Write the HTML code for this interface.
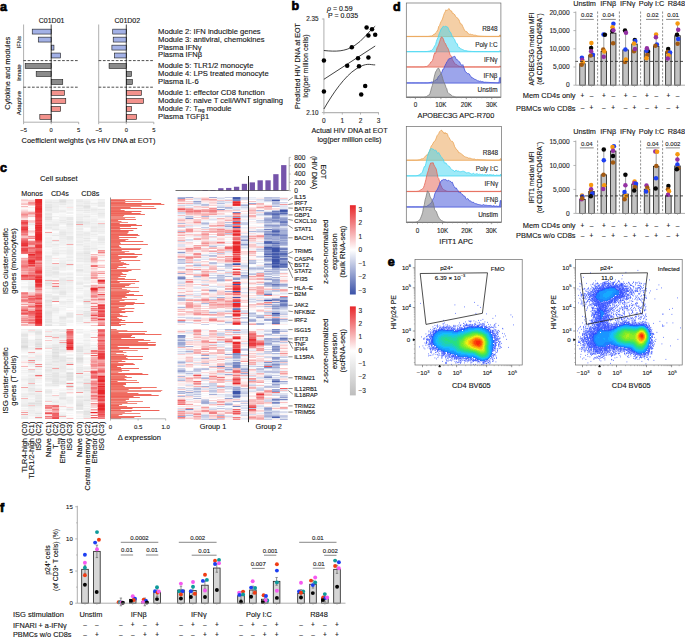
<!DOCTYPE html><html><head><meta charset="utf-8"><style>html,body{margin:0;padding:0;background:#fff;width:685px;height:639px;overflow:hidden}svg{display:block}text{font-family:"Liberation Sans",sans-serif;stroke:currentColor;stroke-width:0.12px}</style></head><body><svg width="685" height="639" viewBox="0 0 685 639" font-family='"Liberation Sans", sans-serif' fill="#1a1a1a"><defs><linearGradient id="cb1" x1="0" y1="0" x2="0" y2="1"><stop offset="0" stop-color="#e8262a"/><stop offset="0.5" stop-color="#ffffff"/><stop offset="1" stop-color="#3b52a8"/></linearGradient><linearGradient id="cb2" x1="0" y1="0" x2="0" y2="1"><stop offset="0" stop-color="#e8262a"/><stop offset="0.5" stop-color="#ffffff"/><stop offset="1" stop-color="#bdbdbd"/></linearGradient></defs><rect width="685" height="639" fill="#fff"/><text x="0" y="11" font-size="12.5" font-weight="bold" fill="#000" style="stroke:#000;stroke-width:0.7px">a</text>
<text x="51.6" y="22.5" font-size="7.0" text-anchor="middle">C01D01</text>
<text x="127.3" y="22.5" font-size="7.0" text-anchor="middle">C01D02</text>
<line x1="23.6" y1="24.5" x2="23.6" y2="122.2" stroke="#9a9a9a" stroke-width="0.8"/>
<line x1="23.6" y1="122.2" x2="78.7" y2="122.2" stroke="#9a9a9a" stroke-width="0.8"/>
<line x1="23.6" y1="122.2" x2="23.6" y2="124.2" stroke="#9a9a9a" stroke-width="0.8"/>
<line x1="51.2" y1="122.2" x2="51.2" y2="124.2" stroke="#9a9a9a" stroke-width="0.8"/>
<line x1="78.7" y1="122.2" x2="78.7" y2="124.2" stroke="#9a9a9a" stroke-width="0.8"/>
<text x="23.6" y="132.3" font-size="5.8" text-anchor="middle" fill="#333">−5</text>
<text x="51.2" y="132.3" font-size="5.8" text-anchor="middle" fill="#333">0</text>
<text x="78.7" y="132.3" font-size="5.8" text-anchor="middle" fill="#333">5</text>
<rect x="32.23" y="29.15" width="18.98" height="4.9" fill="#a3b1e6" stroke="#1a1a1a" stroke-width="0.6"/>
<rect x="38.28" y="37.15" width="12.93" height="4.9" fill="#a3b1e6" stroke="#1a1a1a" stroke-width="0.6"/>
<rect x="51.2" y="45.15" width="2.75" height="4.9" fill="#a3b1e6" stroke="#1a1a1a" stroke-width="0.6"/>
<rect x="51.2" y="53.05" width="9.35" height="4.9" fill="#a3b1e6" stroke="#1a1a1a" stroke-width="0.6"/>
<rect x="25.19" y="63.55" width="26.02" height="4.9" fill="#8c8c8c" stroke="#1a1a1a" stroke-width="0.6"/>
<rect x="36.19" y="71.55" width="15.02" height="4.9" fill="#8c8c8c" stroke="#1a1a1a" stroke-width="0.6"/>
<rect x="51.2" y="79.55" width="11.55" height="4.9" fill="#8c8c8c" stroke="#1a1a1a" stroke-width="0.6"/>
<rect x="51.2" y="90.45" width="13.2" height="4.9" fill="#f3928c" stroke="#1a1a1a" stroke-width="0.6"/>
<rect x="51.2" y="98.55" width="14.57" height="4.9" fill="#f3928c" stroke="#1a1a1a" stroke-width="0.6"/>
<rect x="51.2" y="106.45" width="9.35" height="4.9" fill="#f3928c" stroke="#1a1a1a" stroke-width="0.6"/>
<rect x="39.82" y="114.45" width="11.38" height="4.9" fill="#f3928c" stroke="#1a1a1a" stroke-width="0.6"/>
<line x1="51.2" y1="24.5" x2="51.2" y2="122.2" stroke="#111" stroke-width="0.8"/>
<line x1="98.7" y1="24.5" x2="98.7" y2="122.2" stroke="#9a9a9a" stroke-width="0.8"/>
<line x1="98.7" y1="122.2" x2="153.8" y2="122.2" stroke="#9a9a9a" stroke-width="0.8"/>
<line x1="98.7" y1="122.2" x2="98.7" y2="124.2" stroke="#9a9a9a" stroke-width="0.8"/>
<line x1="126.3" y1="122.2" x2="126.3" y2="124.2" stroke="#9a9a9a" stroke-width="0.8"/>
<line x1="153.8" y1="122.2" x2="153.8" y2="124.2" stroke="#9a9a9a" stroke-width="0.8"/>
<text x="98.7" y="132.3" font-size="5.8" text-anchor="middle" fill="#333">−5</text>
<text x="126.3" y="132.3" font-size="5.8" text-anchor="middle" fill="#333">0</text>
<text x="153.8" y="132.3" font-size="5.8" text-anchor="middle" fill="#333">5</text>
<rect x="112.72" y="29.15" width="13.59" height="4.9" fill="#a3b1e6" stroke="#1a1a1a" stroke-width="0.6"/>
<rect x="113.21" y="37.15" width="13.09" height="4.9" fill="#a3b1e6" stroke="#1a1a1a" stroke-width="0.6"/>
<rect x="111.89" y="45.15" width="14.41" height="4.9" fill="#a3b1e6" stroke="#1a1a1a" stroke-width="0.6"/>
<rect x="114.42" y="53.05" width="11.88" height="4.9" fill="#a3b1e6" stroke="#1a1a1a" stroke-width="0.6"/>
<rect x="109.08" y="63.55" width="17.21" height="4.9" fill="#8c8c8c" stroke="#1a1a1a" stroke-width="0.6"/>
<rect x="126.3" y="71.55" width="5.17" height="4.9" fill="#8c8c8c" stroke="#1a1a1a" stroke-width="0.6"/>
<rect x="126.3" y="79.55" width="6" height="4.9" fill="#8c8c8c" stroke="#1a1a1a" stroke-width="0.6"/>
<rect x="126.3" y="90.45" width="15.12" height="4.9" fill="#f3928c" stroke="#1a1a1a" stroke-width="0.6"/>
<rect x="126.3" y="98.55" width="17.11" height="4.9" fill="#f3928c" stroke="#1a1a1a" stroke-width="0.6"/>
<rect x="126.3" y="106.45" width="5.17" height="4.9" fill="#f3928c" stroke="#1a1a1a" stroke-width="0.6"/>
<rect x="126.3" y="114.45" width="10.39" height="4.9" fill="#f3928c" stroke="#1a1a1a" stroke-width="0.6"/>
<line x1="126.3" y1="24.5" x2="126.3" y2="122.2" stroke="#111" stroke-width="0.8"/>
<line x1="23.4" y1="60.6" x2="79.2" y2="60.6" stroke="#222" stroke-width="0.8" stroke-dasharray="2.7 1.6"/>
<line x1="98.6" y1="60.6" x2="154" y2="60.6" stroke="#222" stroke-width="0.8" stroke-dasharray="2.7 1.6"/>
<line x1="23.4" y1="87.2" x2="79.2" y2="87.2" stroke="#222" stroke-width="0.8" stroke-dasharray="2.7 1.6"/>
<line x1="98.6" y1="87.2" x2="154" y2="87.2" stroke="#222" stroke-width="0.8" stroke-dasharray="2.7 1.6"/>
<text transform="translate(9.5 73.3) rotate(-90)" font-size="7.4" text-anchor="middle">Cytokine and modules</text>
<text transform="translate(20.9 42.2) rotate(-90)" font-size="5.8" text-anchor="middle">IFNs</text>
<text transform="translate(20.9 72.7) rotate(-90)" font-size="6.0" text-anchor="middle">Innate</text>
<text transform="translate(20.9 103.2) rotate(-90)" font-size="6.2" text-anchor="middle">Adaptive</text>
<text x="158.1" y="33.5" font-size="7.6">Module 2: IFN inducible genes</text>
<text x="158.1" y="41.5" font-size="7.6">Module 3: antiviral, chemokines</text>
<text x="158.1" y="49.5" font-size="7.6">Plasma IFNγ</text>
<text x="158.1" y="57.4" font-size="7.6">Plasma IFNβ</text>
<text x="158.1" y="67.9" font-size="7.6">Module 5: TLR1/2 monocyte</text>
<text x="158.1" y="75.9" font-size="7.6">Module 4: LPS treated monocyte</text>
<text x="158.1" y="83.9" font-size="7.6">Plasma IL-6</text>
<text x="158.1" y="94.8" font-size="7.6">Module 1: effector CD8 function</text>
<text x="158.1" y="102.9" font-size="7.6">Module 6: naive T cell/WNT signaling</text>
<text x="158.1" y="110.8" font-size="7.6">Module 7: T<tspan font-size="4.5" dy="1.5">reg</tspan><tspan dy="-1.5"> module</tspan></text>
<text x="158.1" y="118.8" font-size="7.6">Plasma TGFβ1</text>
<text x="88.5" y="142.8" font-size="7.43" text-anchor="middle">Coefficient weights (vs HIV DNA at EOT)</text>
<text x="291.6" y="9.7" font-size="12.5" font-weight="bold" fill="#000" style="stroke:#000;stroke-width:0.7px">b</text>
<text x="327" y="11.2" font-size="7.0"><tspan font-style="italic">ρ</tspan> = 0.59</text>
<text x="328" y="18.3" font-size="7.0">P = 0.035</text>
<line x1="323.9" y1="18.5" x2="323.9" y2="112.6" stroke="#b5b5b5" stroke-width="1.1"/>
<line x1="323.9" y1="112.6" x2="378.8" y2="112.6" stroke="#b5b5b5" stroke-width="1.1"/>
<line x1="321.9" y1="19" x2="323.9" y2="19" stroke="#999" stroke-width="0.7"/>
<line x1="321.9" y1="112.6" x2="323.9" y2="112.6" stroke="#999" stroke-width="0.7"/>
<line x1="323.9" y1="112.6" x2="323.9" y2="114.6" stroke="#999" stroke-width="0.7"/>
<text x="323.9" y="123.4" font-size="6.5" text-anchor="middle" fill="#333">0</text>
<line x1="342.3" y1="112.6" x2="342.3" y2="114.6" stroke="#999" stroke-width="0.7"/>
<text x="342.3" y="123.4" font-size="6.5" text-anchor="middle" fill="#333">1</text>
<line x1="360.5" y1="112.6" x2="360.5" y2="114.6" stroke="#999" stroke-width="0.7"/>
<text x="360.5" y="123.4" font-size="6.5" text-anchor="middle" fill="#333">2</text>
<line x1="378.5" y1="112.6" x2="378.5" y2="114.6" stroke="#999" stroke-width="0.7"/>
<text x="378.5" y="123.4" font-size="6.5" text-anchor="middle" fill="#333">3</text>
<text x="318.6" y="21.4" font-size="6.3" text-anchor="end" fill="#333">2.35</text>
<text x="318.6" y="115" font-size="6.3" text-anchor="end" fill="#333">2.10</text>
<text transform="translate(299.6 66) rotate(-90)" font-size="7.2" text-anchor="middle">Predicted HIV DNA at EOT</text>
<text transform="translate(307.9 66) rotate(-90)" font-size="7.2" text-anchor="middle">log(per million cells)</text>
<text x="349.5" y="132.6" font-size="7.26" text-anchor="middle">Actual HIV DNA at EOT</text>
<text x="349.5" y="141.8" font-size="7.26" text-anchor="middle">log(per million cells)</text>
<path d="M323.9 79.3 L375.2 46" stroke="#111" stroke-width="0.8" fill="none"/>
<path d="M323.9 50.5 C 336 51.8, 345 51.5, 354 46 S 368 32, 375.2 26.2" stroke="#111" stroke-width="0.8" fill="none"/>
<path d="M323.9 109 C 333 93, 345 76, 356 69 S 370 65, 375.2 64.9" stroke="#111" stroke-width="0.8" fill="none"/>
<circle cx="323.9" cy="60.4" r="2.25" fill="#000"/>
<circle cx="323.9" cy="91.4" r="2.25" fill="#000"/>
<circle cx="347.2" cy="65.8" r="2.25" fill="#000"/>
<circle cx="351.8" cy="47.3" r="2.25" fill="#000"/>
<circle cx="358" cy="58.2" r="2.25" fill="#000"/>
<circle cx="359" cy="66.3" r="2.25" fill="#000"/>
<circle cx="361.2" cy="94.6" r="2.25" fill="#000"/>
<circle cx="365.2" cy="86.1" r="2.25" fill="#000"/>
<circle cx="366.6" cy="27.5" r="2.25" fill="#000"/>
<circle cx="368.4" cy="57.5" r="2.25" fill="#000"/>
<circle cx="368.4" cy="35.6" r="2.25" fill="#000"/>
<circle cx="372" cy="29.3" r="2.25" fill="#000"/>
<circle cx="375.2" cy="34.7" r="2.25" fill="#000"/>
<text x="0" y="171.5" font-size="12.5" font-weight="bold" fill="#000" style="stroke:#000;stroke-width:0.7px">c</text>
<text x="58.9" y="180.7" font-size="7.6" text-anchor="middle">Cell subset</text>
<text x="32" y="195.6" font-size="7.2" text-anchor="middle">Monos</text>
<text x="59.9" y="195.6" font-size="7.2" text-anchor="middle">CD4s</text>
<text x="90.3" y="195.6" font-size="7.2" text-anchor="middle">CD8s</text>
<path stroke="#fbdbdc" stroke-width="1" d="M21.1 199.5h7.03M21.1 210.5h7.03M21.1 218.5h7.03M21.1 303.5h7.03M21.1 362.5h7.03M28.1 211.5h7.03M28.1 230.5h7.03M28.1 232.5h7.03M28.1 330.5h7.03M45 331.5h7.13M45 409.5h7.13M52.1 285.5h7.13M66.3 389.5h7.13M66.3 407.5h7.13M90.5 269.5h7.23M90.5 282.5h7.23M90.5 321.5h7.23M90.5 369.5h7.23M90.5 379.5h7.23M90.5 400.5h7.23M97.7 266.5h7.23M97.7 284.5h7.23M97.7 293.5h7.23M97.7 303.5h7.23"/>
<path stroke="#f9c9ca" stroke-width="1" d="M21.1 200.5h7.03M21.1 203.5h7.03M21.1 211.5h7.03M28.1 200.5h7.03M28.1 201.5h7.03M28.1 221.5h7.03M28.1 231.5h7.03M28.1 293.5h7.03M28.1 308.5h7.03M28.1 324.5h7.03M28.1 405.5h7.03M35.1 376.5h7.03M45 340.5h7.13M45 401.5h7.13M45 414.5h7.13M52.1 395.5h7.13M59.2 340.5h7.13M66.3 280.5h7.13M76.1 314.5h7.23M83.3 418.5h7.23M90.5 262.5h7.23M90.5 268.5h7.23M90.5 271.5h7.23M90.5 322.5h7.23M90.5 401.5h7.23M90.5 405.5h7.23M90.5 410.5h7.23M90.5 413.5h7.23M97.7 253.5h7.23M97.7 255.5h7.23M97.7 260.5h7.23M97.7 265.5h7.23M97.7 285.5h7.23M97.7 297.5h7.23M97.7 302.5h7.23"/>
<path stroke="#fce4e4" stroke-width="1" d="M21.1 201.5h7.03M21.1 202.5h7.03M21.1 219.5h7.03M21.1 323.5h7.03M21.1 410.5h7.03M28.1 235.5h7.03M28.1 357.5h7.03M35.1 378.5h7.03M45 411.5h7.13M45 415.5h7.13M52.1 258.5h7.13M52.1 284.5h7.13M52.1 338.5h7.13M66.3 207.5h7.13M66.3 351.5h7.13M90.5 255.5h7.23M90.5 263.5h7.23M90.5 264.5h7.23M90.5 267.5h7.23M90.5 270.5h7.23M90.5 280.5h7.23M90.5 281.5h7.23M90.5 301.5h7.23M97.7 254.5h7.23M97.7 275.5h7.23M97.7 291.5h7.23"/>
<path stroke="#f8c0c1" stroke-width="1" d="M21.1 204.5h7.03M21.1 217.5h7.03M21.1 236.5h7.03M21.1 237.5h7.03M21.1 302.5h7.03M28.1 216.5h7.03M28.1 294.5h7.03M28.1 303.5h7.03M28.1 325.5h7.03M28.1 369.5h7.03M35.1 349.5h7.03M45 410.5h7.13M66.3 418.5h7.13M83.3 371.5h7.23M90.5 276.5h7.23M90.5 316.5h7.23M90.5 325.5h7.23M90.5 394.5h7.23M90.5 404.5h7.23M97.7 223.5h7.23M97.7 277.5h7.23M97.7 289.5h7.23M97.7 290.5h7.23M97.7 317.5h7.23"/>
<path stroke="#fef6f6" stroke-width="1" d="M21.1 205.5h7.03M21.1 254.5h7.03M21.1 364.5h7.03M21.1 365.5h7.03M28.1 210.5h7.03M28.1 228.5h7.03M28.1 234.5h7.03M28.1 239.5h7.03M28.1 335.5h7.03M45 231.5h7.13M52.1 389.5h7.13M59.2 332.5h7.13M66.3 310.5h7.13M66.3 352.5h7.13M66.3 417.5h7.13M76.1 414.5h7.23M83.3 364.5h7.23M90.5 329.5h7.23M90.5 339.5h7.23M90.5 340.5h7.23M90.5 354.5h7.23M97.7 270.5h7.23M97.7 274.5h7.23"/>
<path stroke="#f7b7b8" stroke-width="1" d="M21.1 206.5h7.03M21.1 212.5h7.03M21.1 259.5h7.03M21.1 271.5h7.03M21.1 298.5h7.03M21.1 325.5h7.03M21.1 366.5h7.03M21.1 398.5h7.03M28.1 214.5h7.03M28.1 245.5h7.03M28.1 246.5h7.03M28.1 362.5h7.03M28.1 383.5h7.03M35.1 292.5h7.03M52.1 240.5h7.13M83.3 322.5h7.23M83.3 383.5h7.23M90.5 254.5h7.23M90.5 256.5h7.23M90.5 272.5h7.23M90.5 286.5h7.23M90.5 300.5h7.23M90.5 312.5h7.23M90.5 367.5h7.23M90.5 380.5h7.23M90.5 393.5h7.23M90.5 418.5h7.23M97.7 267.5h7.23M97.7 271.5h7.23M97.7 286.5h7.23M97.7 292.5h7.23M97.7 300.5h7.23M97.7 321.5h7.23M97.7 367.5h7.23"/>
<path stroke="#fdeded" stroke-width="1" d="M21.1 207.5h7.03M21.1 209.5h7.03M21.1 257.5h7.03M21.1 305.5h7.03M21.1 361.5h7.03M28.1 199.5h7.03M28.1 207.5h7.03M28.1 233.5h7.03M35.1 354.5h7.03M66.3 361.5h7.13M66.3 393.5h7.13M90.5 279.5h7.23M90.5 284.5h7.23M90.5 304.5h7.23M90.5 305.5h7.23M90.5 332.5h7.23M90.5 411.5h7.23M90.5 414.5h7.23M97.7 257.5h7.23M97.7 261.5h7.23M97.7 264.5h7.23M97.7 278.5h7.23"/>
<path stroke="#fafafa" stroke-width="1" d="M21.1 208.5h7.03M21.1 284.5h7.03M21.1 289.5h7.03M21.1 290.5h7.03M21.1 353.5h7.03M21.1 367.5h7.03M21.1 369.5h7.03M21.1 375.5h7.03M21.1 407.5h7.03M28.1 226.5h7.03M28.1 417.5h7.03M35.1 351.5h7.03M45 248.5h7.13M45 250.5h7.13M45 349.5h7.13M45 387.5h7.13M45 402.5h7.13M52.1 213.5h7.13M52.1 214.5h7.13M52.1 217.5h7.13M52.1 256.5h7.13M52.1 257.5h7.13M52.1 294.5h7.13M52.1 324.5h7.13M52.1 387.5h7.13M52.1 392.5h7.13M59.2 213.5h7.13M59.2 246.5h7.13M59.2 255.5h7.13M59.2 256.5h7.13M59.2 299.5h7.13M59.2 311.5h7.13M59.2 312.5h7.13M59.2 313.5h7.13M59.2 354.5h7.13M59.2 388.5h7.13M59.2 391.5h7.13M59.2 408.5h7.13M59.2 410.5h7.13M66.3 211.5h7.13M66.3 270.5h7.13M66.3 324.5h7.13M66.3 325.5h7.13M66.3 370.5h7.13M66.3 371.5h7.13M66.3 405.5h7.13M66.3 411.5h7.13M76.1 302.5h7.23M76.1 324.5h7.23M76.1 325.5h7.23M76.1 335.5h7.23M76.1 336.5h7.23M76.1 337.5h7.23M76.1 339.5h7.23M76.1 341.5h7.23M76.1 417.5h7.23M83.3 229.5h7.23M83.3 230.5h7.23M83.3 324.5h7.23M83.3 329.5h7.23M83.3 330.5h7.23M83.3 360.5h7.23M83.3 363.5h7.23M83.3 372.5h7.23M90.5 201.5h7.23M90.5 206.5h7.23M90.5 215.5h7.23M90.5 335.5h7.23M90.5 336.5h7.23M90.5 343.5h7.23M90.5 344.5h7.23M90.5 346.5h7.23M97.7 207.5h7.23M97.7 234.5h7.23M97.7 262.5h7.23"/>
<path stroke="#f5a5a6" stroke-width="1" d="M21.1 213.5h7.03M21.1 258.5h7.03M21.1 272.5h7.03M21.1 306.5h7.03M21.1 387.5h7.03M21.1 414.5h7.03M28.1 204.5h7.03M28.1 212.5h7.03M28.1 310.5h7.03M28.1 318.5h7.03M35.1 290.5h7.03M45 232.5h7.13M52.1 263.5h7.13M52.1 368.5h7.13M52.1 407.5h7.13M52.1 408.5h7.13M76.1 224.5h7.23M90.5 260.5h7.23M90.5 273.5h7.23M90.5 285.5h7.23M90.5 293.5h7.23M90.5 309.5h7.23M90.5 313.5h7.23M90.5 317.5h7.23M90.5 359.5h7.23M90.5 360.5h7.23M90.5 368.5h7.23M97.7 298.5h7.23M97.7 360.5h7.23"/>
<path stroke="#f3898c" stroke-width="1" d="M21.1 214.5h7.03M21.1 233.5h7.03M21.1 238.5h7.03M21.1 261.5h7.03M21.1 262.5h7.03M21.1 264.5h7.03M21.1 296.5h7.03M21.1 299.5h7.03M21.1 301.5h7.03M21.1 311.5h7.03M21.1 322.5h7.03M28.1 236.5h7.03M28.1 238.5h7.03M28.1 268.5h7.03M28.1 269.5h7.03M28.1 297.5h7.03M28.1 301.5h7.03M28.1 317.5h7.03M28.1 323.5h7.03M28.1 360.5h7.03M35.1 264.5h7.03M35.1 300.5h7.03M35.1 348.5h7.03M35.1 364.5h7.03M45 408.5h7.13M45 418.5h7.13M52.1 283.5h7.13M52.1 301.5h7.13M66.3 336.5h7.13M90.5 287.5h7.23M90.5 295.5h7.23M90.5 303.5h7.23M90.5 364.5h7.23M90.5 365.5h7.23M90.5 378.5h7.23M90.5 381.5h7.23M90.5 384.5h7.23M90.5 391.5h7.23M90.5 398.5h7.23M90.5 403.5h7.23M97.7 332.5h7.23M97.7 338.5h7.23M97.7 339.5h7.23M97.7 342.5h7.23M97.7 350.5h7.23M97.7 375.5h7.23M97.7 417.5h7.23"/>
<path stroke="#f49c9d" stroke-width="1" d="M21.1 215.5h7.03M21.1 235.5h7.03M21.1 260.5h7.03M21.1 269.5h7.03M21.1 295.5h7.03M21.1 304.5h7.03M21.1 307.5h7.03M21.1 319.5h7.03M21.1 412.5h7.03M28.1 267.5h7.03M28.1 271.5h7.03M28.1 295.5h7.03M28.1 305.5h7.03M28.1 321.5h7.03M35.1 261.5h7.03M52.1 410.5h7.13M52.1 412.5h7.13M59.2 342.5h7.13M66.3 264.5h7.13M76.1 392.5h7.23M83.3 301.5h7.23M90.5 275.5h7.23M90.5 278.5h7.23M90.5 297.5h7.23M90.5 337.5h7.23M90.5 362.5h7.23M90.5 385.5h7.23M90.5 390.5h7.23M90.5 409.5h7.23M97.7 322.5h7.23M97.7 361.5h7.23M97.7 362.5h7.23M97.7 366.5h7.23"/>
<path stroke="#f6aeaf" stroke-width="1" d="M21.1 216.5h7.03M21.1 273.5h7.03M21.1 316.5h7.03M21.1 317.5h7.03M21.1 321.5h7.03M21.1 324.5h7.03M28.1 237.5h7.03M28.1 304.5h7.03M28.1 309.5h7.03M28.1 352.5h7.03M35.1 291.5h7.03M35.1 391.5h7.03M45 280.5h7.13M45 336.5h7.13M45 417.5h7.13M52.1 280.5h7.13M52.1 337.5h7.13M52.1 411.5h7.13M59.2 416.5h7.13M66.3 244.5h7.13M90.5 257.5h7.23M90.5 261.5h7.23M90.5 274.5h7.23M90.5 294.5h7.23M90.5 319.5h7.23M90.5 352.5h7.23M90.5 357.5h7.23M90.5 358.5h7.23M90.5 363.5h7.23M90.5 370.5h7.23M90.5 386.5h7.23M90.5 397.5h7.23M90.5 399.5h7.23M97.7 251.5h7.23M97.7 279.5h7.23M97.7 288.5h7.23M97.7 295.5h7.23M97.7 296.5h7.23M97.7 373.5h7.23M97.7 374.5h7.23"/>
<path stroke="#f06e71" stroke-width="1" d="M21.1 220.5h7.03M21.1 232.5h7.03M21.1 253.5h7.03M21.1 266.5h7.03M21.1 277.5h7.03M28.1 243.5h7.03M28.1 247.5h7.03M28.1 264.5h7.03M28.1 266.5h7.03M28.1 278.5h7.03M28.1 302.5h7.03M28.1 314.5h7.03M28.1 320.5h7.03M35.1 243.5h7.03M35.1 260.5h7.03M35.1 287.5h7.03M35.1 302.5h7.03M35.1 375.5h7.03M52.1 416.5h7.13M66.3 334.5h7.13M90.5 266.5h7.23M90.5 351.5h7.23M90.5 373.5h7.23M90.5 415.5h7.23M97.7 299.5h7.23M97.7 304.5h7.23M97.7 341.5h7.23M97.7 346.5h7.23M97.7 349.5h7.23M97.7 352.5h7.23M97.7 365.5h7.23"/>
<path stroke="#ef6568" stroke-width="1" d="M21.1 221.5h7.03M21.1 224.5h7.03M21.1 226.5h7.03M21.1 231.5h7.03M21.1 240.5h7.03M21.1 246.5h7.03M21.1 279.5h7.03M28.1 248.5h7.03M28.1 258.5h7.03M28.1 276.5h7.03M28.1 299.5h7.03M28.1 306.5h7.03M28.1 322.5h7.03M35.1 248.5h7.03M35.1 249.5h7.03M35.1 263.5h7.03M35.1 267.5h7.03M35.1 268.5h7.03M35.1 296.5h7.03M35.1 297.5h7.03M35.1 299.5h7.03M35.1 308.5h7.03M52.1 406.5h7.13M52.1 414.5h7.13M52.1 415.5h7.13M66.3 333.5h7.13M90.5 376.5h7.23M90.5 377.5h7.23M97.7 312.5h7.23M97.7 313.5h7.23M97.7 325.5h7.23M97.7 331.5h7.23M97.7 334.5h7.23M97.7 347.5h7.23M97.7 370.5h7.23M97.7 382.5h7.23M97.7 395.5h7.23M97.7 413.5h7.23M97.7 415.5h7.23M97.7 416.5h7.23"/>
<path stroke="#eb4145" stroke-width="1" d="M21.1 222.5h7.03M21.1 227.5h7.03M21.1 228.5h7.03M21.1 250.5h7.03M21.1 275.5h7.03M28.1 255.5h7.03M28.1 265.5h7.03M35.1 217.5h7.03M35.1 231.5h7.03M35.1 251.5h7.03M35.1 253.5h7.03M35.1 257.5h7.03M35.1 276.5h7.03M35.1 286.5h7.03M35.1 298.5h7.03M35.1 306.5h7.03M35.1 311.5h7.03M35.1 312.5h7.03M35.1 318.5h7.03M66.3 342.5h7.13M66.3 349.5h7.13M97.7 281.5h7.23M97.7 308.5h7.23M97.7 311.5h7.23M97.7 316.5h7.23M97.7 353.5h7.23M97.7 355.5h7.23M97.7 358.5h7.23M97.7 377.5h7.23M97.7 378.5h7.23M97.7 388.5h7.23M97.7 389.5h7.23M97.7 400.5h7.23M97.7 410.5h7.23"/>
<path stroke="#ec4a4e" stroke-width="1" d="M21.1 223.5h7.03M21.1 242.5h7.03M21.1 248.5h7.03M21.1 249.5h7.03M35.1 213.5h7.03M35.1 218.5h7.03M35.1 219.5h7.03M35.1 221.5h7.03M35.1 222.5h7.03M35.1 224.5h7.03M35.1 241.5h7.03M35.1 254.5h7.03M35.1 258.5h7.03M35.1 259.5h7.03M35.1 270.5h7.03M35.1 278.5h7.03M35.1 303.5h7.03M35.1 324.5h7.03M52.1 418.5h7.13M66.3 341.5h7.13M66.3 345.5h7.13M66.3 346.5h7.13M90.5 315.5h7.23M90.5 372.5h7.23M97.7 294.5h7.23M97.7 307.5h7.23M97.7 387.5h7.23M97.7 397.5h7.23M97.7 399.5h7.23M97.7 403.5h7.23M97.7 414.5h7.23"/>
<path stroke="#f28083" stroke-width="1" d="M21.1 225.5h7.03M21.1 247.5h7.03M21.1 267.5h7.03M21.1 297.5h7.03M21.1 320.5h7.03M28.1 241.5h7.03M28.1 249.5h7.03M28.1 250.5h7.03M28.1 251.5h7.03M28.1 270.5h7.03M28.1 272.5h7.03M28.1 273.5h7.03M28.1 274.5h7.03M28.1 319.5h7.03M35.1 262.5h7.03M35.1 301.5h7.03M35.1 304.5h7.03M45 405.5h7.13M45 412.5h7.13M52.1 286.5h7.13M66.3 337.5h7.13M66.3 383.5h7.13M90.5 296.5h7.23M90.5 310.5h7.23M90.5 396.5h7.23M97.7 252.5h7.23M97.7 283.5h7.23M97.7 309.5h7.23M97.7 318.5h7.23M97.7 333.5h7.23M97.7 337.5h7.23M97.7 344.5h7.23M97.7 363.5h7.23M97.7 364.5h7.23M97.7 369.5h7.23M97.7 402.5h7.23"/>
<path stroke="#ea383c" stroke-width="1" d="M21.1 229.5h7.03M21.1 243.5h7.03M21.1 244.5h7.03M28.1 262.5h7.03M35.1 205.5h7.03M35.1 212.5h7.03M35.1 214.5h7.03M35.1 215.5h7.03M35.1 216.5h7.03M35.1 220.5h7.03M35.1 223.5h7.03M35.1 226.5h7.03M35.1 240.5h7.03M35.1 245.5h7.03M35.1 246.5h7.03M35.1 247.5h7.03M35.1 252.5h7.03M35.1 271.5h7.03M35.1 272.5h7.03M35.1 285.5h7.03M35.1 305.5h7.03M35.1 314.5h7.03M35.1 315.5h7.03M66.3 348.5h7.13M97.7 305.5h7.23M97.7 319.5h7.23M97.7 354.5h7.23M97.7 356.5h7.23M97.7 357.5h7.23M97.7 379.5h7.23M97.7 384.5h7.23M97.7 404.5h7.23M97.7 407.5h7.23"/>
<path stroke="#ed5356" stroke-width="1" d="M21.1 230.5h7.03M21.1 241.5h7.03M21.1 251.5h7.03M21.1 276.5h7.03M21.1 310.5h7.03M21.1 313.5h7.03M28.1 257.5h7.03M28.1 259.5h7.03M28.1 275.5h7.03M28.1 311.5h7.03M35.1 244.5h7.03M35.1 255.5h7.03M35.1 256.5h7.03M35.1 273.5h7.03M35.1 275.5h7.03M35.1 283.5h7.03M35.1 307.5h7.03M35.1 325.5h7.03M45 413.5h7.13M52.1 417.5h7.13M66.3 340.5h7.13M90.5 290.5h7.23M90.5 371.5h7.23M97.7 306.5h7.23M97.7 314.5h7.23M97.7 315.5h7.23M97.7 335.5h7.23M97.7 340.5h7.23M97.7 351.5h7.23M97.7 383.5h7.23M97.7 394.5h7.23M97.7 411.5h7.23M97.7 412.5h7.23"/>
<path stroke="#f1777a" stroke-width="1" d="M21.1 234.5h7.03M21.1 239.5h7.03M21.1 265.5h7.03M21.1 278.5h7.03M21.1 293.5h7.03M21.1 300.5h7.03M21.1 309.5h7.03M21.1 312.5h7.03M21.1 314.5h7.03M28.1 242.5h7.03M28.1 244.5h7.03M28.1 253.5h7.03M28.1 277.5h7.03M28.1 300.5h7.03M28.1 315.5h7.03M35.1 265.5h7.03M35.1 266.5h7.03M35.1 274.5h7.03M35.1 289.5h7.03M35.1 294.5h7.03M45 407.5h7.13M45 416.5h7.13M52.1 405.5h7.13M52.1 409.5h7.13M66.3 329.5h7.13M66.3 335.5h7.13M66.3 364.5h7.13M90.5 265.5h7.23M90.5 291.5h7.23M90.5 306.5h7.23M90.5 308.5h7.23M90.5 318.5h7.23M90.5 350.5h7.23M90.5 353.5h7.23M90.5 375.5h7.23M90.5 383.5h7.23M90.5 387.5h7.23M90.5 388.5h7.23M90.5 392.5h7.23M90.5 395.5h7.23M97.7 282.5h7.23M97.7 329.5h7.23M97.7 336.5h7.23M97.7 343.5h7.23M97.7 359.5h7.23M97.7 372.5h7.23M97.7 401.5h7.23M97.7 418.5h7.23"/>
<path stroke="#e92f33" stroke-width="1" d="M21.1 245.5h7.03M28.1 260.5h7.03M28.1 263.5h7.03M35.1 199.5h7.03M35.1 203.5h7.03M35.1 204.5h7.03M35.1 206.5h7.03M35.1 207.5h7.03M35.1 210.5h7.03M35.1 211.5h7.03M35.1 228.5h7.03M35.1 229.5h7.03M35.1 230.5h7.03M35.1 232.5h7.03M35.1 233.5h7.03M35.1 277.5h7.03M35.1 282.5h7.03M35.1 284.5h7.03M35.1 310.5h7.03M35.1 313.5h7.03M35.1 317.5h7.03M35.1 323.5h7.03M66.3 343.5h7.13M97.7 396.5h7.23"/>
<path stroke="#ee5c5f" stroke-width="1" d="M21.1 252.5h7.03M28.1 252.5h7.03M28.1 256.5h7.03M28.1 279.5h7.03M28.1 296.5h7.03M28.1 298.5h7.03M28.1 312.5h7.03M28.1 313.5h7.03M35.1 242.5h7.03M35.1 250.5h7.03M35.1 269.5h7.03M35.1 295.5h7.03M35.1 309.5h7.03M52.1 413.5h7.13M66.3 331.5h7.13M66.3 332.5h7.13M66.3 339.5h7.13M66.3 344.5h7.13M90.5 355.5h7.23M90.5 417.5h7.23M97.7 287.5h7.23M97.7 310.5h7.23M97.7 330.5h7.23M97.7 345.5h7.23M97.7 348.5h7.23M97.7 371.5h7.23M97.7 385.5h7.23M97.7 398.5h7.23"/>
<path stroke="#fcfcfc" stroke-width="1" d="M21.1 255.5h7.03M21.1 256.5h7.03M21.1 282.5h7.03M21.1 285.5h7.03M21.1 291.5h7.03M28.1 208.5h7.03M28.1 209.5h7.03M28.1 217.5h7.03M28.1 227.5h7.03M28.1 229.5h7.03M28.1 336.5h7.03M28.1 337.5h7.03M28.1 338.5h7.03M28.1 367.5h7.03M35.1 383.5h7.03M45 230.5h7.13M45 339.5h7.13M45 388.5h7.13M52.1 215.5h7.13M52.1 218.5h7.13M52.1 231.5h7.13M52.1 232.5h7.13M52.1 259.5h7.13M52.1 262.5h7.13M52.1 282.5h7.13M52.1 302.5h7.13M52.1 388.5h7.13M52.1 390.5h7.13M52.1 394.5h7.13M59.2 225.5h7.13M59.2 271.5h7.13M59.2 385.5h7.13M59.2 386.5h7.13M59.2 411.5h7.13M66.3 271.5h7.13M66.3 311.5h7.13M66.3 323.5h7.13M66.3 356.5h7.13M66.3 381.5h7.13M66.3 394.5h7.13M66.3 395.5h7.13M66.3 412.5h7.13M66.3 416.5h7.13M76.1 276.5h7.23M76.1 293.5h7.23M83.3 228.5h7.23M83.3 284.5h7.23M83.3 355.5h7.23M90.5 239.5h7.23M90.5 252.5h7.23M90.5 283.5h7.23M90.5 333.5h7.23M90.5 408.5h7.23M97.7 219.5h7.23M97.7 258.5h7.23M97.7 269.5h7.23M97.7 276.5h7.23"/>
<path stroke="#f49294" stroke-width="1" d="M21.1 263.5h7.03M21.1 268.5h7.03M21.1 270.5h7.03M21.1 274.5h7.03M21.1 292.5h7.03M21.1 294.5h7.03M21.1 308.5h7.03M21.1 318.5h7.03M28.1 202.5h7.03M28.1 203.5h7.03M28.1 213.5h7.03M28.1 307.5h7.03M28.1 316.5h7.03M35.1 288.5h7.03M35.1 293.5h7.03M35.1 366.5h7.03M35.1 417.5h7.03M45 406.5h7.13M66.3 330.5h7.13M66.3 338.5h7.13M66.3 386.5h7.13M76.1 373.5h7.23M90.5 258.5h7.23M90.5 259.5h7.23M90.5 277.5h7.23M90.5 292.5h7.23M90.5 299.5h7.23M90.5 314.5h7.23M90.5 320.5h7.23M90.5 361.5h7.23M90.5 366.5h7.23M90.5 374.5h7.23M90.5 382.5h7.23M90.5 389.5h7.23M97.7 250.5h7.23M97.7 273.5h7.23M97.7 320.5h7.23M97.7 323.5h7.23M97.7 324.5h7.23M97.7 368.5h7.23"/>
<path stroke="#f1f1f1" stroke-width="1" d="M21.1 280.5h7.03M21.1 286.5h7.03M21.1 287.5h7.03M21.1 332.5h7.03M21.1 350.5h7.03M21.1 355.5h7.03M21.1 357.5h7.03M21.1 370.5h7.03M21.1 372.5h7.03M21.1 378.5h7.03M21.1 380.5h7.03M21.1 385.5h7.03M21.1 400.5h7.03M21.1 401.5h7.03M21.1 402.5h7.03M21.1 415.5h7.03M28.1 223.5h7.03M28.1 281.5h7.03M28.1 283.5h7.03M28.1 285.5h7.03M28.1 290.5h7.03M28.1 341.5h7.03M28.1 343.5h7.03M28.1 344.5h7.03M28.1 345.5h7.03M28.1 349.5h7.03M28.1 353.5h7.03M28.1 366.5h7.03M28.1 374.5h7.03M28.1 377.5h7.03M28.1 392.5h7.03M28.1 395.5h7.03M28.1 396.5h7.03M28.1 399.5h7.03M28.1 409.5h7.03M28.1 415.5h7.03M35.1 365.5h7.03M35.1 368.5h7.03M35.1 372.5h7.03M35.1 373.5h7.03M35.1 377.5h7.03M35.1 388.5h7.03M35.1 392.5h7.03M35.1 407.5h7.03M35.1 411.5h7.03M35.1 414.5h7.03M45 212.5h7.13M45 223.5h7.13M45 237.5h7.13M45 239.5h7.13M45 240.5h7.13M45 243.5h7.13M45 245.5h7.13M45 264.5h7.13M45 265.5h7.13M45 286.5h7.13M45 287.5h7.13M45 298.5h7.13M45 329.5h7.13M45 330.5h7.13M45 351.5h7.13M45 358.5h7.13M45 360.5h7.13M45 365.5h7.13M45 373.5h7.13M45 396.5h7.13M52.1 201.5h7.13M52.1 208.5h7.13M52.1 216.5h7.13M52.1 221.5h7.13M52.1 226.5h7.13M52.1 227.5h7.13M52.1 246.5h7.13M52.1 248.5h7.13M52.1 255.5h7.13M52.1 270.5h7.13M52.1 290.5h7.13M52.1 293.5h7.13M52.1 295.5h7.13M52.1 300.5h7.13M52.1 307.5h7.13M52.1 323.5h7.13M52.1 325.5h7.13M52.1 331.5h7.13M52.1 339.5h7.13M52.1 340.5h7.13M52.1 366.5h7.13M52.1 396.5h7.13M52.1 400.5h7.13M59.2 206.5h7.13M59.2 218.5h7.13M59.2 219.5h7.13M59.2 223.5h7.13M59.2 229.5h7.13M59.2 239.5h7.13M59.2 241.5h7.13M59.2 243.5h7.13M59.2 244.5h7.13M59.2 247.5h7.13M59.2 251.5h7.13M59.2 258.5h7.13M59.2 260.5h7.13M59.2 268.5h7.13M59.2 269.5h7.13M59.2 275.5h7.13M59.2 277.5h7.13M59.2 285.5h7.13M59.2 295.5h7.13M59.2 304.5h7.13M59.2 306.5h7.13M59.2 322.5h7.13M59.2 329.5h7.13M59.2 338.5h7.13M59.2 341.5h7.13M59.2 348.5h7.13M59.2 353.5h7.13M59.2 355.5h7.13M59.2 372.5h7.13M59.2 378.5h7.13M59.2 379.5h7.13M59.2 384.5h7.13M59.2 403.5h7.13M59.2 404.5h7.13M59.2 414.5h7.13M66.3 201.5h7.13M66.3 203.5h7.13M66.3 208.5h7.13M66.3 209.5h7.13M66.3 212.5h7.13M66.3 213.5h7.13M66.3 220.5h7.13M66.3 227.5h7.13M66.3 229.5h7.13M66.3 230.5h7.13M66.3 231.5h7.13M66.3 234.5h7.13M66.3 242.5h7.13M66.3 245.5h7.13M66.3 248.5h7.13M66.3 259.5h7.13M66.3 263.5h7.13M66.3 278.5h7.13M66.3 283.5h7.13M66.3 284.5h7.13M66.3 286.5h7.13M66.3 289.5h7.13M66.3 290.5h7.13M66.3 291.5h7.13M66.3 292.5h7.13M66.3 302.5h7.13M66.3 303.5h7.13M66.3 312.5h7.13M66.3 320.5h7.13M66.3 321.5h7.13M66.3 322.5h7.13M66.3 355.5h7.13M66.3 357.5h7.13M66.3 359.5h7.13M66.3 368.5h7.13M66.3 382.5h7.13M66.3 388.5h7.13M66.3 398.5h7.13M66.3 403.5h7.13M66.3 410.5h7.13M76.1 207.5h7.23M76.1 209.5h7.23M76.1 215.5h7.23M76.1 227.5h7.23M76.1 238.5h7.23M76.1 239.5h7.23M76.1 249.5h7.23M76.1 251.5h7.23M76.1 264.5h7.23M76.1 266.5h7.23M76.1 272.5h7.23M76.1 274.5h7.23M76.1 277.5h7.23M76.1 278.5h7.23M76.1 281.5h7.23M76.1 290.5h7.23M76.1 298.5h7.23M76.1 300.5h7.23M76.1 307.5h7.23M76.1 310.5h7.23M76.1 311.5h7.23M76.1 312.5h7.23M76.1 366.5h7.23M76.1 374.5h7.23M76.1 379.5h7.23M76.1 383.5h7.23M76.1 386.5h7.23M76.1 395.5h7.23M76.1 398.5h7.23M76.1 413.5h7.23M83.3 200.5h7.23M83.3 211.5h7.23M83.3 214.5h7.23M83.3 215.5h7.23M83.3 217.5h7.23M83.3 219.5h7.23M83.3 220.5h7.23M83.3 225.5h7.23M83.3 236.5h7.23M83.3 237.5h7.23M83.3 239.5h7.23M83.3 244.5h7.23M83.3 262.5h7.23M83.3 266.5h7.23M83.3 267.5h7.23M83.3 268.5h7.23M83.3 269.5h7.23M83.3 270.5h7.23M83.3 274.5h7.23M83.3 280.5h7.23M83.3 283.5h7.23M83.3 290.5h7.23M83.3 291.5h7.23M83.3 292.5h7.23M83.3 293.5h7.23M83.3 305.5h7.23M83.3 306.5h7.23M83.3 317.5h7.23M83.3 318.5h7.23M83.3 323.5h7.23M83.3 336.5h7.23M83.3 337.5h7.23M83.3 343.5h7.23M83.3 347.5h7.23M83.3 348.5h7.23M83.3 350.5h7.23M83.3 351.5h7.23M83.3 354.5h7.23M83.3 369.5h7.23M83.3 373.5h7.23M83.3 377.5h7.23M83.3 393.5h7.23M83.3 409.5h7.23M90.5 212.5h7.23M90.5 214.5h7.23M90.5 219.5h7.23M90.5 220.5h7.23M90.5 224.5h7.23M90.5 225.5h7.23M90.5 236.5h7.23M90.5 241.5h7.23M90.5 243.5h7.23M90.5 244.5h7.23M90.5 245.5h7.23M90.5 246.5h7.23M90.5 247.5h7.23M90.5 349.5h7.23M97.7 200.5h7.23M97.7 201.5h7.23M97.7 210.5h7.23M97.7 217.5h7.23M97.7 221.5h7.23M97.7 228.5h7.23M97.7 230.5h7.23M97.7 232.5h7.23M97.7 233.5h7.23M97.7 243.5h7.23M97.7 247.5h7.23"/>
<path stroke="#f7f7f7" stroke-width="1" d="M21.1 281.5h7.03M21.1 283.5h7.03M21.1 288.5h7.03M21.1 330.5h7.03M21.1 352.5h7.03M21.1 359.5h7.03M21.1 363.5h7.03M21.1 371.5h7.03M21.1 373.5h7.03M21.1 374.5h7.03M21.1 382.5h7.03M21.1 383.5h7.03M21.1 386.5h7.03M21.1 391.5h7.03M21.1 392.5h7.03M21.1 409.5h7.03M28.1 225.5h7.03M28.1 333.5h7.03M28.1 334.5h7.03M28.1 339.5h7.03M28.1 346.5h7.03M28.1 350.5h7.03M28.1 351.5h7.03M28.1 355.5h7.03M28.1 368.5h7.03M28.1 373.5h7.03M28.1 398.5h7.03M28.1 416.5h7.03M28.1 418.5h7.03M35.1 350.5h7.03M35.1 352.5h7.03M35.1 361.5h7.03M35.1 362.5h7.03M35.1 363.5h7.03M35.1 370.5h7.03M35.1 381.5h7.03M35.1 384.5h7.03M35.1 386.5h7.03M35.1 387.5h7.03M45 236.5h7.13M45 249.5h7.13M45 251.5h7.13M45 254.5h7.13M45 289.5h7.13M45 290.5h7.13M45 293.5h7.13M45 337.5h7.13M45 341.5h7.13M45 344.5h7.13M45 350.5h7.13M45 352.5h7.13M45 382.5h7.13M45 394.5h7.13M45 397.5h7.13M52.1 199.5h7.13M52.1 236.5h7.13M52.1 237.5h7.13M52.1 238.5h7.13M52.1 242.5h7.13M52.1 261.5h7.13M52.1 278.5h7.13M52.1 279.5h7.13M52.1 304.5h7.13M52.1 305.5h7.13M52.1 314.5h7.13M52.1 316.5h7.13M52.1 317.5h7.13M52.1 318.5h7.13M52.1 320.5h7.13M52.1 321.5h7.13M52.1 391.5h7.13M52.1 393.5h7.13M52.1 398.5h7.13M59.2 208.5h7.13M59.2 214.5h7.13M59.2 215.5h7.13M59.2 226.5h7.13M59.2 228.5h7.13M59.2 248.5h7.13M59.2 249.5h7.13M59.2 254.5h7.13M59.2 257.5h7.13M59.2 272.5h7.13M59.2 276.5h7.13M59.2 298.5h7.13M59.2 300.5h7.13M59.2 305.5h7.13M59.2 307.5h7.13M59.2 310.5h7.13M59.2 314.5h7.13M59.2 389.5h7.13M59.2 407.5h7.13M66.3 215.5h7.13M66.3 216.5h7.13M66.3 293.5h7.13M66.3 298.5h7.13M66.3 318.5h7.13M66.3 319.5h7.13M66.3 365.5h7.13M66.3 366.5h7.13M66.3 367.5h7.13M66.3 391.5h7.13M66.3 396.5h7.13M66.3 404.5h7.13M66.3 406.5h7.13M66.3 413.5h7.13M66.3 415.5h7.13M76.1 250.5h7.23M76.1 262.5h7.23M76.1 263.5h7.23M76.1 285.5h7.23M76.1 289.5h7.23M76.1 291.5h7.23M76.1 292.5h7.23M76.1 294.5h7.23M76.1 299.5h7.23M76.1 305.5h7.23M76.1 306.5h7.23M76.1 308.5h7.23M76.1 309.5h7.23M76.1 322.5h7.23M76.1 330.5h7.23M76.1 333.5h7.23M76.1 338.5h7.23M76.1 340.5h7.23M76.1 342.5h7.23M76.1 344.5h7.23M76.1 385.5h7.23M76.1 393.5h7.23M76.1 394.5h7.23M76.1 415.5h7.23M83.3 213.5h7.23M83.3 273.5h7.23M83.3 288.5h7.23M83.3 289.5h7.23M83.3 319.5h7.23M83.3 325.5h7.23M83.3 332.5h7.23M83.3 338.5h7.23M83.3 357.5h7.23M83.3 361.5h7.23M83.3 362.5h7.23M83.3 407.5h7.23M90.5 199.5h7.23M90.5 200.5h7.23M90.5 202.5h7.23M90.5 217.5h7.23M90.5 237.5h7.23M90.5 240.5h7.23M90.5 251.5h7.23M90.5 331.5h7.23M90.5 341.5h7.23M97.7 208.5h7.23M97.7 218.5h7.23M97.7 220.5h7.23M97.7 235.5h7.23M97.7 245.5h7.23M97.7 246.5h7.23M97.7 248.5h7.23M97.7 249.5h7.23M97.7 259.5h7.23"/>
<path stroke="#fad2d3" stroke-width="1" d="M21.1 315.5h7.03M28.1 205.5h7.03M28.1 215.5h7.03M28.1 220.5h7.03M28.1 222.5h7.03M28.1 240.5h7.03M28.1 292.5h7.03M45 348.5h7.13M52.1 281.5h7.13M59.2 406.5h7.13M66.3 350.5h7.13M66.3 392.5h7.13M83.3 353.5h7.23M90.5 298.5h7.23M90.5 302.5h7.23M90.5 307.5h7.23M90.5 311.5h7.23M90.5 356.5h7.23M90.5 406.5h7.23M90.5 407.5h7.23M97.7 272.5h7.23M97.7 301.5h7.23"/>
<path stroke="#efefef" stroke-width="1" d="M21.1 329.5h7.03M21.1 337.5h7.03M21.1 393.5h7.03M21.1 395.5h7.03M21.1 399.5h7.03M21.1 403.5h7.03M28.1 280.5h7.03M28.1 282.5h7.03M28.1 284.5h7.03M28.1 332.5h7.03M28.1 340.5h7.03M28.1 342.5h7.03M28.1 347.5h7.03M28.1 348.5h7.03M28.1 358.5h7.03M28.1 359.5h7.03M28.1 376.5h7.03M28.1 386.5h7.03M28.1 387.5h7.03M28.1 407.5h7.03M28.1 408.5h7.03M28.1 411.5h7.03M28.1 412.5h7.03M28.1 413.5h7.03M35.1 329.5h7.03M35.1 335.5h7.03M35.1 336.5h7.03M35.1 337.5h7.03M35.1 338.5h7.03M35.1 359.5h7.03M35.1 360.5h7.03M35.1 367.5h7.03M35.1 385.5h7.03M35.1 390.5h7.03M35.1 406.5h7.03M35.1 412.5h7.03M35.1 416.5h7.03M45 200.5h7.13M45 203.5h7.13M45 211.5h7.13M45 220.5h7.13M45 221.5h7.13M45 226.5h7.13M45 238.5h7.13M45 241.5h7.13M45 244.5h7.13M45 255.5h7.13M45 259.5h7.13M45 261.5h7.13M45 262.5h7.13M45 263.5h7.13M45 267.5h7.13M45 269.5h7.13M45 276.5h7.13M45 279.5h7.13M45 292.5h7.13M45 308.5h7.13M45 309.5h7.13M45 323.5h7.13M45 332.5h7.13M45 334.5h7.13M45 335.5h7.13M45 345.5h7.13M45 346.5h7.13M45 356.5h7.13M45 361.5h7.13M45 366.5h7.13M45 368.5h7.13M45 375.5h7.13M45 377.5h7.13M45 381.5h7.13M45 383.5h7.13M45 389.5h7.13M45 393.5h7.13M45 395.5h7.13M45 400.5h7.13M52.1 200.5h7.13M52.1 203.5h7.13M52.1 204.5h7.13M52.1 205.5h7.13M52.1 207.5h7.13M52.1 209.5h7.13M52.1 210.5h7.13M52.1 211.5h7.13M52.1 212.5h7.13M52.1 222.5h7.13M52.1 223.5h7.13M52.1 228.5h7.13M52.1 245.5h7.13M52.1 250.5h7.13M52.1 251.5h7.13M52.1 254.5h7.13M52.1 264.5h7.13M52.1 265.5h7.13M52.1 275.5h7.13M52.1 276.5h7.13M52.1 277.5h7.13M52.1 291.5h7.13M52.1 311.5h7.13M52.1 312.5h7.13M52.1 322.5h7.13M52.1 363.5h7.13M52.1 371.5h7.13M52.1 404.5h7.13M59.2 210.5h7.13M59.2 217.5h7.13M59.2 221.5h7.13M59.2 230.5h7.13M59.2 237.5h7.13M59.2 240.5h7.13M59.2 242.5h7.13M59.2 250.5h7.13M59.2 253.5h7.13M59.2 261.5h7.13M59.2 262.5h7.13M59.2 267.5h7.13M59.2 273.5h7.13M59.2 274.5h7.13M59.2 286.5h7.13M59.2 287.5h7.13M59.2 289.5h7.13M59.2 303.5h7.13M59.2 320.5h7.13M59.2 324.5h7.13M59.2 330.5h7.13M59.2 333.5h7.13M59.2 352.5h7.13M59.2 374.5h7.13M59.2 375.5h7.13M59.2 380.5h7.13M59.2 392.5h7.13M59.2 396.5h7.13M59.2 418.5h7.13M66.3 202.5h7.13M66.3 206.5h7.13M66.3 228.5h7.13M66.3 233.5h7.13M66.3 240.5h7.13M66.3 241.5h7.13M66.3 243.5h7.13M66.3 247.5h7.13M66.3 249.5h7.13M66.3 254.5h7.13M66.3 256.5h7.13M66.3 273.5h7.13M66.3 279.5h7.13M66.3 287.5h7.13M66.3 288.5h7.13M66.3 296.5h7.13M66.3 299.5h7.13M66.3 307.5h7.13M66.3 360.5h7.13M66.3 384.5h7.13M66.3 397.5h7.13M66.3 399.5h7.13M66.3 401.5h7.13M66.3 402.5h7.13M66.3 408.5h7.13M76.1 199.5h7.23M76.1 202.5h7.23M76.1 203.5h7.23M76.1 204.5h7.23M76.1 214.5h7.23M76.1 216.5h7.23M76.1 218.5h7.23M76.1 220.5h7.23M76.1 232.5h7.23M76.1 233.5h7.23M76.1 236.5h7.23M76.1 240.5h7.23M76.1 245.5h7.23M76.1 252.5h7.23M76.1 256.5h7.23M76.1 257.5h7.23M76.1 259.5h7.23M76.1 260.5h7.23M76.1 265.5h7.23M76.1 267.5h7.23M76.1 275.5h7.23M76.1 296.5h7.23M76.1 315.5h7.23M76.1 316.5h7.23M76.1 320.5h7.23M76.1 329.5h7.23M76.1 332.5h7.23M76.1 343.5h7.23M76.1 345.5h7.23M76.1 352.5h7.23M76.1 354.5h7.23M76.1 363.5h7.23M76.1 365.5h7.23M76.1 378.5h7.23M76.1 381.5h7.23M76.1 391.5h7.23M83.3 204.5h7.23M83.3 209.5h7.23M83.3 226.5h7.23M83.3 241.5h7.23M83.3 243.5h7.23M83.3 245.5h7.23M83.3 247.5h7.23M83.3 250.5h7.23M83.3 264.5h7.23M83.3 271.5h7.23M83.3 272.5h7.23M83.3 275.5h7.23M83.3 282.5h7.23M83.3 294.5h7.23M83.3 295.5h7.23M83.3 296.5h7.23M83.3 304.5h7.23M83.3 334.5h7.23M83.3 335.5h7.23M83.3 344.5h7.23M83.3 346.5h7.23M83.3 352.5h7.23M83.3 367.5h7.23M83.3 374.5h7.23M83.3 378.5h7.23M83.3 392.5h7.23M83.3 394.5h7.23M83.3 395.5h7.23M83.3 398.5h7.23M83.3 401.5h7.23M83.3 402.5h7.23M83.3 403.5h7.23M83.3 404.5h7.23M83.3 406.5h7.23M83.3 408.5h7.23M90.5 208.5h7.23M90.5 211.5h7.23M90.5 221.5h7.23M90.5 229.5h7.23M90.5 242.5h7.23M90.5 249.5h7.23M90.5 330.5h7.23M97.7 199.5h7.23M97.7 211.5h7.23M97.7 212.5h7.23M97.7 216.5h7.23M97.7 229.5h7.23M97.7 241.5h7.23M97.7 244.5h7.23"/>
<path stroke="#f4f4f4" stroke-width="1" d="M21.1 331.5h7.03M21.1 351.5h7.03M21.1 358.5h7.03M21.1 360.5h7.03M21.1 368.5h7.03M21.1 376.5h7.03M21.1 377.5h7.03M21.1 381.5h7.03M21.1 384.5h7.03M21.1 388.5h7.03M21.1 389.5h7.03M21.1 390.5h7.03M21.1 397.5h7.03M21.1 408.5h7.03M21.1 411.5h7.03M21.1 413.5h7.03M28.1 291.5h7.03M28.1 354.5h7.03M28.1 356.5h7.03M28.1 365.5h7.03M28.1 397.5h7.03M28.1 400.5h7.03M28.1 401.5h7.03M28.1 414.5h7.03M35.1 353.5h7.03M35.1 371.5h7.03M35.1 379.5h7.03M35.1 380.5h7.03M35.1 382.5h7.03M35.1 408.5h7.03M35.1 409.5h7.03M35.1 410.5h7.03M45 199.5h7.13M45 222.5h7.13M45 229.5h7.13M45 233.5h7.13M45 234.5h7.13M45 235.5h7.13M45 247.5h7.13M45 252.5h7.13M45 253.5h7.13M45 277.5h7.13M45 278.5h7.13M45 291.5h7.13M45 333.5h7.13M45 338.5h7.13M45 342.5h7.13M45 343.5h7.13M45 353.5h7.13M45 354.5h7.13M45 386.5h7.13M45 398.5h7.13M45 399.5h7.13M45 403.5h7.13M45 404.5h7.13M52.1 219.5h7.13M52.1 220.5h7.13M52.1 230.5h7.13M52.1 233.5h7.13M52.1 234.5h7.13M52.1 239.5h7.13M52.1 243.5h7.13M52.1 247.5h7.13M52.1 249.5h7.13M52.1 260.5h7.13M52.1 306.5h7.13M52.1 313.5h7.13M52.1 315.5h7.13M52.1 319.5h7.13M52.1 332.5h7.13M52.1 333.5h7.13M52.1 341.5h7.13M52.1 342.5h7.13M52.1 343.5h7.13M52.1 386.5h7.13M52.1 397.5h7.13M52.1 399.5h7.13M52.1 403.5h7.13M59.2 205.5h7.13M59.2 207.5h7.13M59.2 209.5h7.13M59.2 212.5h7.13M59.2 216.5h7.13M59.2 224.5h7.13M59.2 227.5h7.13M59.2 245.5h7.13M59.2 252.5h7.13M59.2 259.5h7.13M59.2 270.5h7.13M59.2 297.5h7.13M59.2 308.5h7.13M59.2 309.5h7.13M59.2 315.5h7.13M59.2 339.5h7.13M59.2 373.5h7.13M59.2 390.5h7.13M59.2 400.5h7.13M59.2 401.5h7.13M59.2 402.5h7.13M59.2 405.5h7.13M59.2 409.5h7.13M59.2 412.5h7.13M59.2 413.5h7.13M59.2 417.5h7.13M66.3 199.5h7.13M66.3 204.5h7.13M66.3 205.5h7.13M66.3 210.5h7.13M66.3 235.5h7.13M66.3 246.5h7.13M66.3 255.5h7.13M66.3 258.5h7.13M66.3 261.5h7.13M66.3 262.5h7.13M66.3 266.5h7.13M66.3 267.5h7.13M66.3 268.5h7.13M66.3 269.5h7.13M66.3 272.5h7.13M66.3 275.5h7.13M66.3 276.5h7.13M66.3 285.5h7.13M66.3 294.5h7.13M66.3 295.5h7.13M66.3 297.5h7.13M66.3 300.5h7.13M66.3 304.5h7.13M66.3 305.5h7.13M66.3 306.5h7.13M66.3 354.5h7.13M66.3 390.5h7.13M76.1 211.5h7.23M76.1 212.5h7.23M76.1 213.5h7.23M76.1 230.5h7.23M76.1 243.5h7.23M76.1 246.5h7.23M76.1 247.5h7.23M76.1 248.5h7.23M76.1 268.5h7.23M76.1 273.5h7.23M76.1 279.5h7.23M76.1 280.5h7.23M76.1 286.5h7.23M76.1 287.5h7.23M76.1 295.5h7.23M76.1 301.5h7.23M76.1 313.5h7.23M76.1 323.5h7.23M76.1 331.5h7.23M76.1 364.5h7.23M76.1 380.5h7.23M76.1 384.5h7.23M76.1 416.5h7.23M83.3 199.5h7.23M83.3 218.5h7.23M83.3 227.5h7.23M83.3 231.5h7.23M83.3 242.5h7.23M83.3 263.5h7.23M83.3 265.5h7.23M83.3 276.5h7.23M83.3 281.5h7.23M83.3 287.5h7.23M83.3 297.5h7.23M83.3 298.5h7.23M83.3 308.5h7.23M83.3 309.5h7.23M83.3 310.5h7.23M83.3 320.5h7.23M83.3 321.5h7.23M83.3 331.5h7.23M83.3 333.5h7.23M83.3 339.5h7.23M83.3 341.5h7.23M83.3 342.5h7.23M83.3 358.5h7.23M83.3 359.5h7.23M83.3 366.5h7.23M83.3 370.5h7.23M83.3 376.5h7.23M83.3 405.5h7.23M90.5 204.5h7.23M90.5 205.5h7.23M90.5 207.5h7.23M90.5 213.5h7.23M90.5 216.5h7.23M90.5 218.5h7.23M90.5 222.5h7.23M90.5 232.5h7.23M90.5 233.5h7.23M90.5 235.5h7.23M90.5 238.5h7.23M90.5 250.5h7.23M90.5 323.5h7.23M90.5 334.5h7.23M90.5 347.5h7.23M97.7 222.5h7.23M97.7 256.5h7.23"/>
<path stroke="#ececec" stroke-width="1" d="M21.1 333.5h7.03M21.1 349.5h7.03M21.1 356.5h7.03M21.1 379.5h7.03M21.1 394.5h7.03M21.1 404.5h7.03M21.1 406.5h7.03M21.1 416.5h7.03M28.1 289.5h7.03M28.1 363.5h7.03M28.1 364.5h7.03M28.1 372.5h7.03M28.1 375.5h7.03M28.1 391.5h7.03M28.1 410.5h7.03M35.1 330.5h7.03M35.1 355.5h7.03M35.1 357.5h7.03M35.1 358.5h7.03M35.1 369.5h7.03M35.1 374.5h7.03M35.1 389.5h7.03M35.1 393.5h7.03M35.1 394.5h7.03M35.1 399.5h7.03M35.1 415.5h7.03M45 201.5h7.13M45 215.5h7.13M45 228.5h7.13M45 242.5h7.13M45 246.5h7.13M45 257.5h7.13M45 258.5h7.13M45 260.5h7.13M45 266.5h7.13M45 268.5h7.13M45 271.5h7.13M45 273.5h7.13M45 288.5h7.13M45 294.5h7.13M45 295.5h7.13M45 297.5h7.13M45 299.5h7.13M45 303.5h7.13M45 306.5h7.13M45 310.5h7.13M45 318.5h7.13M45 355.5h7.13M45 357.5h7.13M45 359.5h7.13M45 362.5h7.13M45 363.5h7.13M45 372.5h7.13M45 380.5h7.13M45 384.5h7.13M45 385.5h7.13M45 390.5h7.13M52.1 206.5h7.13M52.1 241.5h7.13M52.1 252.5h7.13M52.1 266.5h7.13M52.1 289.5h7.13M52.1 292.5h7.13M52.1 308.5h7.13M52.1 309.5h7.13M52.1 330.5h7.13M52.1 334.5h7.13M52.1 335.5h7.13M52.1 344.5h7.13M52.1 360.5h7.13M52.1 364.5h7.13M52.1 365.5h7.13M52.1 370.5h7.13M52.1 384.5h7.13M52.1 401.5h7.13M52.1 402.5h7.13M59.2 203.5h7.13M59.2 211.5h7.13M59.2 231.5h7.13M59.2 235.5h7.13M59.2 236.5h7.13M59.2 238.5h7.13M59.2 264.5h7.13M59.2 265.5h7.13M59.2 266.5h7.13M59.2 278.5h7.13M59.2 281.5h7.13M59.2 282.5h7.13M59.2 283.5h7.13M59.2 284.5h7.13M59.2 288.5h7.13M59.2 290.5h7.13M59.2 296.5h7.13M59.2 301.5h7.13M59.2 302.5h7.13M59.2 316.5h7.13M59.2 319.5h7.13M59.2 321.5h7.13M59.2 334.5h7.13M59.2 345.5h7.13M59.2 347.5h7.13M59.2 362.5h7.13M59.2 363.5h7.13M59.2 364.5h7.13M59.2 365.5h7.13M59.2 369.5h7.13M59.2 370.5h7.13M59.2 371.5h7.13M59.2 394.5h7.13M59.2 395.5h7.13M59.2 399.5h7.13M66.3 200.5h7.13M66.3 222.5h7.13M66.3 225.5h7.13M66.3 226.5h7.13M66.3 232.5h7.13M66.3 250.5h7.13M66.3 251.5h7.13M66.3 252.5h7.13M66.3 253.5h7.13M66.3 257.5h7.13M66.3 260.5h7.13M66.3 265.5h7.13M66.3 274.5h7.13M66.3 281.5h7.13M66.3 282.5h7.13M66.3 317.5h7.13M66.3 400.5h7.13M76.1 200.5h7.23M76.1 206.5h7.23M76.1 208.5h7.23M76.1 217.5h7.23M76.1 219.5h7.23M76.1 225.5h7.23M76.1 226.5h7.23M76.1 228.5h7.23M76.1 229.5h7.23M76.1 231.5h7.23M76.1 235.5h7.23M76.1 237.5h7.23M76.1 241.5h7.23M76.1 242.5h7.23M76.1 254.5h7.23M76.1 255.5h7.23M76.1 261.5h7.23M76.1 271.5h7.23M76.1 282.5h7.23M76.1 284.5h7.23M76.1 288.5h7.23M76.1 297.5h7.23M76.1 317.5h7.23M76.1 318.5h7.23M76.1 319.5h7.23M76.1 321.5h7.23M76.1 356.5h7.23M76.1 368.5h7.23M76.1 370.5h7.23M76.1 372.5h7.23M76.1 375.5h7.23M76.1 389.5h7.23M76.1 390.5h7.23M76.1 399.5h7.23M76.1 412.5h7.23M76.1 418.5h7.23M83.3 201.5h7.23M83.3 202.5h7.23M83.3 212.5h7.23M83.3 221.5h7.23M83.3 224.5h7.23M83.3 232.5h7.23M83.3 234.5h7.23M83.3 235.5h7.23M83.3 254.5h7.23M83.3 256.5h7.23M83.3 257.5h7.23M83.3 260.5h7.23M83.3 277.5h7.23M83.3 278.5h7.23M83.3 279.5h7.23M83.3 285.5h7.23M83.3 340.5h7.23M83.3 345.5h7.23M83.3 349.5h7.23M83.3 368.5h7.23M83.3 375.5h7.23M83.3 381.5h7.23M83.3 391.5h7.23M83.3 396.5h7.23M83.3 397.5h7.23M83.3 410.5h7.23M83.3 415.5h7.23M83.3 417.5h7.23M90.5 203.5h7.23M90.5 210.5h7.23M90.5 223.5h7.23M90.5 226.5h7.23M90.5 228.5h7.23M90.5 230.5h7.23M90.5 234.5h7.23M90.5 345.5h7.23M90.5 348.5h7.23M97.7 204.5h7.23M97.7 206.5h7.23M97.7 214.5h7.23M97.7 215.5h7.23M97.7 225.5h7.23M97.7 226.5h7.23M97.7 227.5h7.23M97.7 231.5h7.23M97.7 236.5h7.23M97.7 237.5h7.23"/>
<path stroke="#e4e4e4" stroke-width="1" d="M21.1 334.5h7.03M21.1 335.5h7.03M21.1 340.5h7.03M21.1 341.5h7.03M28.1 361.5h7.03M35.1 331.5h7.03M35.1 333.5h7.03M35.1 342.5h7.03M35.1 345.5h7.03M35.1 413.5h7.03M45 219.5h7.13M45 301.5h7.13M45 305.5h7.13M45 312.5h7.13M45 313.5h7.13M45 319.5h7.13M45 321.5h7.13M45 364.5h7.13M45 370.5h7.13M52.1 272.5h7.13M52.1 298.5h7.13M52.1 353.5h7.13M52.1 357.5h7.13M52.1 358.5h7.13M52.1 361.5h7.13M52.1 373.5h7.13M52.1 375.5h7.13M52.1 376.5h7.13M52.1 379.5h7.13M52.1 380.5h7.13M52.1 383.5h7.13M59.2 202.5h7.13M59.2 292.5h7.13M59.2 317.5h7.13M59.2 335.5h7.13M59.2 336.5h7.13M59.2 360.5h7.13M59.2 398.5h7.13M66.3 224.5h7.13M66.3 372.5h7.13M66.3 374.5h7.13M66.3 377.5h7.13M66.3 385.5h7.13M66.3 387.5h7.13M66.3 409.5h7.13M76.1 223.5h7.23M76.1 270.5h7.23M76.1 347.5h7.23M76.1 349.5h7.23M76.1 350.5h7.23M76.1 357.5h7.23M76.1 360.5h7.23M76.1 361.5h7.23M76.1 388.5h7.23M76.1 403.5h7.23M76.1 406.5h7.23M76.1 408.5h7.23M83.3 207.5h7.23M83.3 302.5h7.23M83.3 311.5h7.23M83.3 313.5h7.23M83.3 315.5h7.23M83.3 382.5h7.23M83.3 384.5h7.23M83.3 385.5h7.23M83.3 386.5h7.23M83.3 412.5h7.23M83.3 413.5h7.23M83.3 414.5h7.23"/>
<path stroke="#e7e7e7" stroke-width="1" d="M21.1 336.5h7.03M21.1 338.5h7.03M21.1 339.5h7.03M21.1 343.5h7.03M21.1 344.5h7.03M21.1 348.5h7.03M28.1 287.5h7.03M28.1 288.5h7.03M28.1 370.5h7.03M28.1 379.5h7.03M28.1 380.5h7.03M28.1 388.5h7.03M28.1 390.5h7.03M28.1 404.5h7.03M28.1 406.5h7.03M35.1 334.5h7.03M35.1 341.5h7.03M35.1 347.5h7.03M35.1 395.5h7.03M35.1 398.5h7.03M35.1 400.5h7.03M35.1 404.5h7.03M35.1 405.5h7.03M45 202.5h7.13M45 204.5h7.13M45 205.5h7.13M45 206.5h7.13M45 209.5h7.13M45 210.5h7.13M45 214.5h7.13M45 218.5h7.13M45 282.5h7.13M45 302.5h7.13M45 311.5h7.13M45 314.5h7.13M45 315.5h7.13M45 322.5h7.13M45 324.5h7.13M45 367.5h7.13M45 369.5h7.13M45 374.5h7.13M45 376.5h7.13M45 378.5h7.13M45 391.5h7.13M52.1 253.5h7.13M52.1 267.5h7.13M52.1 268.5h7.13M52.1 269.5h7.13M52.1 273.5h7.13M52.1 287.5h7.13M52.1 296.5h7.13M52.1 297.5h7.13M52.1 345.5h7.13M52.1 348.5h7.13M52.1 350.5h7.13M52.1 351.5h7.13M52.1 354.5h7.13M52.1 374.5h7.13M52.1 377.5h7.13M52.1 378.5h7.13M52.1 382.5h7.13M52.1 385.5h7.13M59.2 232.5h7.13M59.2 234.5h7.13M59.2 280.5h7.13M59.2 291.5h7.13M59.2 293.5h7.13M59.2 294.5h7.13M59.2 318.5h7.13M59.2 325.5h7.13M59.2 337.5h7.13M59.2 344.5h7.13M59.2 350.5h7.13M59.2 357.5h7.13M59.2 358.5h7.13M59.2 359.5h7.13M59.2 361.5h7.13M59.2 397.5h7.13M59.2 415.5h7.13M66.3 219.5h7.13M66.3 223.5h7.13M66.3 236.5h7.13M66.3 237.5h7.13M66.3 238.5h7.13M66.3 313.5h7.13M66.3 315.5h7.13M66.3 316.5h7.13M66.3 363.5h7.13M66.3 380.5h7.13M76.1 205.5h7.23M76.1 269.5h7.23M76.1 348.5h7.23M76.1 377.5h7.23M76.1 382.5h7.23M76.1 396.5h7.23M76.1 397.5h7.23M76.1 401.5h7.23M76.1 402.5h7.23M76.1 407.5h7.23M76.1 409.5h7.23M83.3 205.5h7.23M83.3 210.5h7.23M83.3 222.5h7.23M83.3 238.5h7.23M83.3 252.5h7.23M83.3 286.5h7.23M83.3 299.5h7.23M83.3 303.5h7.23M83.3 314.5h7.23M83.3 316.5h7.23M83.3 379.5h7.23M83.3 380.5h7.23M97.7 213.5h7.23M97.7 224.5h7.23M97.7 239.5h7.23"/>
<path stroke="#e1e1e1" stroke-width="1" d="M21.1 342.5h7.03M21.1 345.5h7.03M35.1 332.5h7.03M35.1 339.5h7.03M35.1 343.5h7.03M35.1 401.5h7.03M35.1 403.5h7.03M45 207.5h7.13M45 217.5h7.13M45 283.5h7.13M45 300.5h7.13M45 325.5h7.13M52.1 288.5h7.13M52.1 347.5h7.13M52.1 349.5h7.13M52.1 355.5h7.13M52.1 381.5h7.13M59.2 200.5h7.13M66.3 358.5h7.13M66.3 375.5h7.13M66.3 378.5h7.13M66.3 379.5h7.13M76.1 221.5h7.23M76.1 351.5h7.23M76.1 404.5h7.23M83.3 206.5h7.23M83.3 253.5h7.23M83.3 387.5h7.23M83.3 388.5h7.23M83.3 390.5h7.23M83.3 400.5h7.23M83.3 411.5h7.23"/>
<path stroke="#d9d9d9" stroke-width="1" d="M21.1 346.5h7.03"/>
<path stroke="#dcdcdc" stroke-width="1" d="M21.1 347.5h7.03M35.1 344.5h7.03M66.3 373.5h7.13M76.1 222.5h7.23M76.1 358.5h7.23M76.1 405.5h7.23"/>
<path stroke="#ffffff" stroke-width="1" d="M21.1 354.5h7.03M28.1 206.5h7.03M28.1 218.5h7.03M28.1 219.5h7.03M52.1 303.5h7.13M59.2 387.5h7.13M66.3 214.5h7.13M66.3 308.5h7.13M66.3 309.5h7.13M66.3 353.5h7.13M66.3 414.5h7.13M76.1 303.5h7.23M76.1 304.5h7.23M76.1 334.5h7.23M76.1 410.5h7.23M83.3 356.5h7.23M83.3 365.5h7.23M90.5 253.5h7.23M90.5 324.5h7.23M90.5 338.5h7.23M90.5 342.5h7.23M90.5 402.5h7.23M90.5 416.5h7.23M97.7 263.5h7.23M97.7 268.5h7.23"/>
<path stroke="#e9e9e9" stroke-width="1" d="M21.1 396.5h7.03M21.1 405.5h7.03M21.1 417.5h7.03M21.1 418.5h7.03M28.1 224.5h7.03M28.1 286.5h7.03M28.1 329.5h7.03M28.1 331.5h7.03M28.1 371.5h7.03M28.1 378.5h7.03M28.1 381.5h7.03M28.1 382.5h7.03M28.1 384.5h7.03M28.1 385.5h7.03M28.1 389.5h7.03M28.1 393.5h7.03M28.1 394.5h7.03M28.1 402.5h7.03M35.1 340.5h7.03M35.1 356.5h7.03M35.1 396.5h7.03M35.1 397.5h7.03M35.1 402.5h7.03M35.1 418.5h7.03M45 208.5h7.13M45 213.5h7.13M45 216.5h7.13M45 224.5h7.13M45 225.5h7.13M45 227.5h7.13M45 256.5h7.13M45 270.5h7.13M45 272.5h7.13M45 274.5h7.13M45 275.5h7.13M45 281.5h7.13M45 284.5h7.13M45 285.5h7.13M45 296.5h7.13M45 304.5h7.13M45 307.5h7.13M45 316.5h7.13M45 317.5h7.13M45 320.5h7.13M45 347.5h7.13M45 371.5h7.13M45 379.5h7.13M45 392.5h7.13M52.1 202.5h7.13M52.1 224.5h7.13M52.1 225.5h7.13M52.1 229.5h7.13M52.1 235.5h7.13M52.1 244.5h7.13M52.1 271.5h7.13M52.1 274.5h7.13M52.1 299.5h7.13M52.1 310.5h7.13M52.1 329.5h7.13M52.1 336.5h7.13M52.1 346.5h7.13M52.1 359.5h7.13M52.1 362.5h7.13M52.1 367.5h7.13M52.1 369.5h7.13M52.1 372.5h7.13M59.2 199.5h7.13M59.2 204.5h7.13M59.2 220.5h7.13M59.2 222.5h7.13M59.2 233.5h7.13M59.2 263.5h7.13M59.2 279.5h7.13M59.2 323.5h7.13M59.2 331.5h7.13M59.2 343.5h7.13M59.2 346.5h7.13M59.2 349.5h7.13M59.2 351.5h7.13M59.2 356.5h7.13M59.2 366.5h7.13M59.2 367.5h7.13M59.2 368.5h7.13M59.2 376.5h7.13M59.2 377.5h7.13M59.2 381.5h7.13M59.2 382.5h7.13M59.2 383.5h7.13M59.2 393.5h7.13M66.3 217.5h7.13M66.3 218.5h7.13M66.3 221.5h7.13M66.3 239.5h7.13M66.3 277.5h7.13M66.3 301.5h7.13M66.3 314.5h7.13M66.3 362.5h7.13M66.3 369.5h7.13M76.1 201.5h7.23M76.1 210.5h7.23M76.1 234.5h7.23M76.1 244.5h7.23M76.1 253.5h7.23M76.1 258.5h7.23M76.1 283.5h7.23M76.1 346.5h7.23M76.1 353.5h7.23M76.1 355.5h7.23M76.1 362.5h7.23M76.1 367.5h7.23M76.1 369.5h7.23M76.1 371.5h7.23M76.1 376.5h7.23M76.1 387.5h7.23M76.1 400.5h7.23M76.1 411.5h7.23M83.3 203.5h7.23M83.3 208.5h7.23M83.3 216.5h7.23M83.3 223.5h7.23M83.3 233.5h7.23M83.3 240.5h7.23M83.3 246.5h7.23M83.3 248.5h7.23M83.3 249.5h7.23M83.3 251.5h7.23M83.3 255.5h7.23M83.3 258.5h7.23M83.3 259.5h7.23M83.3 261.5h7.23M83.3 300.5h7.23M83.3 307.5h7.23M83.3 312.5h7.23M83.3 389.5h7.23M83.3 399.5h7.23M83.3 416.5h7.23M90.5 209.5h7.23M90.5 227.5h7.23M90.5 231.5h7.23M90.5 248.5h7.23M97.7 202.5h7.23M97.7 203.5h7.23M97.7 205.5h7.23M97.7 209.5h7.23M97.7 238.5h7.23M97.7 240.5h7.23M97.7 242.5h7.23"/>
<path stroke="#e8262a" stroke-width="1" d="M28.1 254.5h7.03M28.1 261.5h7.03M35.1 200.5h7.03M35.1 201.5h7.03M35.1 202.5h7.03M35.1 208.5h7.03M35.1 209.5h7.03M35.1 225.5h7.03M35.1 227.5h7.03M35.1 234.5h7.03M35.1 235.5h7.03M35.1 236.5h7.03M35.1 237.5h7.03M35.1 238.5h7.03M35.1 239.5h7.03M35.1 279.5h7.03M35.1 280.5h7.03M35.1 281.5h7.03M35.1 316.5h7.03M35.1 319.5h7.03M35.1 320.5h7.03M35.1 321.5h7.03M35.1 322.5h7.03M66.3 347.5h7.13M90.5 288.5h7.23M90.5 289.5h7.23M90.5 412.5h7.23M97.7 280.5h7.23M97.7 376.5h7.23M97.7 380.5h7.23M97.7 381.5h7.23M97.7 386.5h7.23M97.7 390.5h7.23M97.7 391.5h7.23M97.7 392.5h7.23M97.7 393.5h7.23M97.7 405.5h7.23M97.7 406.5h7.23M97.7 408.5h7.23M97.7 409.5h7.23"/>
<path stroke="#dedede" stroke-width="1" d="M28.1 403.5h7.03M35.1 346.5h7.03M52.1 352.5h7.13M52.1 356.5h7.13M59.2 201.5h7.13M66.3 376.5h7.13M76.1 359.5h7.23"/>
<path stroke="#f08a80" stroke-width="1" d="M110.6 199.5h40.82M110.6 201.5h31.11M110.6 206.5h43.66M110.6 216.5h12.56M110.6 217.5h24.7M110.6 218.5h14.53M110.6 222.5h17.4M110.6 229.5h9.71M110.6 248.5h30.63M110.6 251.5h18.65M110.6 262.5h13.3M110.6 269.5h29.89M110.6 280.5h6.85M110.6 283.5h24.48M110.6 287.5h28.33M110.6 289.5h16.28M110.6 290.5h19.7M110.6 299.5h26.53M110.6 305.5h15.41M110.6 313.5h8.8M110.6 321.5h10.03M110.6 330.5h16.74M110.6 349.5h8.69M110.6 350.5h27.15M110.6 352.5h15.77M110.6 353.5h5.69M110.6 355.5h16.65M110.6 360.5h11.23M110.6 362.5h7.75M110.6 371.5h11.41M110.6 372.5h7.79M110.6 375.5h14.45M110.6 380.5h26.39M110.6 390.5h51.7M110.6 391.5h50.36M110.6 398.5h18.6M110.6 401.5h32.33M110.6 403.5h26.51M110.6 409.5h10.11M110.6 411.5h21.03M110.6 412.5h14.21M110.6 413.5h29.68"/>
<path stroke="#ee6258" stroke-width="1" d="M110.6 200.5h14.67M110.6 203.5h50.57M110.6 211.5h30.74M110.6 213.5h29.99M110.6 223.5h9.05M110.6 224.5h25.86M110.6 225.5h31.43M110.6 227.5h9.25M110.6 228.5h26.58M110.6 230.5h22.81M110.6 231.5h18.05M110.6 234.5h27.4M110.6 246.5h9.05M110.6 249.5h29.42M110.6 254.5h31.63M110.6 268.5h6.55M110.6 270.5h20.95M110.6 274.5h15.96M110.6 281.5h28.58M110.6 282.5h9.03M110.6 286.5h14.51M110.6 295.5h32.32M110.6 296.5h14.71M110.6 303.5h33.95M110.6 304.5h23.12M110.6 307.5h8.21M110.6 312.5h14.82M110.6 316.5h16.91M110.6 317.5h6.65M110.6 319.5h11.23M110.6 320.5h14.68M110.6 322.5h32.52M110.6 323.5h8.54M110.6 325.5h10.39M110.6 335.5h21.49M110.6 336.5h20.33M110.6 337.5h24.43M110.6 339.5h33.29M110.6 344.5h45.33M110.6 347.5h18.64M110.6 348.5h37.84M110.6 351.5h12.38M110.6 356.5h32.43M110.6 361.5h14.79M110.6 364.5h24.29M110.6 365.5h12.91M110.6 366.5h6.63M110.6 367.5h10.35M110.6 369.5h11.03M110.6 374.5h37.66M110.6 379.5h15.7M110.6 381.5h6.98M110.6 383.5h15.34M110.6 384.5h15.47M110.6 396.5h22.93M110.6 405.5h8.43M110.6 408.5h21.85M110.6 410.5h48.84"/>
<path stroke="#ef6b60" stroke-width="1" d="M110.6 202.5h14.73M110.6 207.5h19.98M110.6 208.5h45.64M110.6 210.5h14.04M110.6 215.5h13.61M110.6 220.5h7.63M110.6 235.5h28.9M110.6 236.5h8.28M110.6 237.5h26M110.6 238.5h8.65M110.6 240.5h14.94M110.6 241.5h32.7M110.6 242.5h9.65M110.6 247.5h10.59M110.6 250.5h11.17M110.6 256.5h27.17M110.6 257.5h25.94M110.6 258.5h10.97M110.6 261.5h10.24M110.6 264.5h18.64M110.6 265.5h12.16M110.6 266.5h7.9M110.6 267.5h15.75M110.6 271.5h17.83M110.6 275.5h9.94M110.6 278.5h14.25M110.6 284.5h19.95M110.6 285.5h18.61M110.6 288.5h11.43M110.6 292.5h18.42M110.6 293.5h15.96M110.6 294.5h23.35M110.6 298.5h11.3M110.6 301.5h8.96M110.6 311.5h22.93M110.6 314.5h9.39M110.6 334.5h50.89M110.6 345.5h45.03M110.6 357.5h15.4M110.6 358.5h17.03M110.6 368.5h28.39M110.6 373.5h31.87M110.6 386.5h14.14M110.6 389.5h18.07M110.6 393.5h27.82M110.6 394.5h40.86M110.6 395.5h48.13M110.6 397.5h29.26M110.6 399.5h18.35M110.6 407.5h39.46M110.6 416.5h30.37M110.6 417.5h23.73"/>
<path stroke="#f07468" stroke-width="1" d="M110.6 204.5h53.75M110.6 205.5h30.93M110.6 209.5h10.05M110.6 212.5h21.08M110.6 214.5h34.34M110.6 219.5h25.37M110.6 221.5h10.87M110.6 226.5h20.34M110.6 232.5h17.8M110.6 233.5h16.92M110.6 239.5h17.76M110.6 243.5h10.14M110.6 244.5h37.3M110.6 245.5h8.47M110.6 252.5h14.15M110.6 253.5h23.97M110.6 255.5h7.66M110.6 259.5h8.63M110.6 260.5h29.58M110.6 263.5h15.63M110.6 272.5h11.18M110.6 273.5h12.09M110.6 276.5h15.4M110.6 277.5h7.73M110.6 279.5h25.43M110.6 291.5h28.56M110.6 297.5h16.45M110.6 300.5h13.93M110.6 302.5h24.19M110.6 306.5h14.03M110.6 308.5h23.82M110.6 309.5h14.23M110.6 310.5h11.05M110.6 315.5h11.89M110.6 318.5h8.25M110.6 324.5h15.03M110.6 329.5h6.08M110.6 331.5h36.31M110.6 332.5h7.93M110.6 333.5h34.33M110.6 338.5h10.69M110.6 340.5h39.78M110.6 341.5h27.68M110.6 342.5h45.19M110.6 343.5h37.25M110.6 346.5h7.13M110.6 354.5h13.43M110.6 359.5h31.7M110.6 363.5h22.89M110.6 370.5h18.79M110.6 376.5h16.1M110.6 377.5h21.23M110.6 378.5h14.03M110.6 382.5h28.46M110.6 385.5h12.78M110.6 387.5h46.14M110.6 388.5h30.85M110.6 392.5h16.91M110.6 400.5h15.19M110.6 402.5h16.91M110.6 404.5h11.54M110.6 406.5h16.5M110.6 414.5h11.75M110.6 415.5h8.13M110.6 418.5h10.49"/>
<line x1="110.5" y1="197.5" x2="110.5" y2="418.8" stroke="#777" stroke-width="0.8"/>
<line x1="110.5" y1="418.8" x2="165.7" y2="418.8" stroke="#999" stroke-width="0.7"/>
<line x1="110.5" y1="418.8" x2="110.5" y2="420.6" stroke="#999" stroke-width="0.7"/>
<text x="110.5" y="429.2" font-size="6.0" text-anchor="middle" fill="#333">0</text>
<line x1="138.1" y1="418.8" x2="138.1" y2="420.6" stroke="#999" stroke-width="0.7"/>
<text x="138.1" y="429.2" font-size="6.0" text-anchor="middle" fill="#333">0.5</text>
<line x1="165.7" y1="418.8" x2="165.7" y2="420.6" stroke="#999" stroke-width="0.7"/>
<text x="165.7" y="429.2" font-size="6.0" text-anchor="middle" fill="#333">1.0</text>
<text x="139.4" y="439.8" font-size="7.56" text-anchor="middle">Δ expression</text>
<text transform="translate(8.4 261.2) rotate(-90)" font-size="7.7" text-anchor="middle">ISG cluster-specific</text>
<text transform="translate(15.9 261) rotate(-90)" font-size="7.7" text-anchor="middle">genes (monocytes)</text>
<text transform="translate(8.4 380.5) rotate(-90)" font-size="7.7" text-anchor="middle">ISG cluster-specific</text>
<text transform="translate(15.9 380.5) rotate(-90)" font-size="7.7" text-anchor="middle">genes (T cells)</text>
<text transform="translate(27.2 421.6) rotate(-90)" font-size="7.4" text-anchor="end">TLR4-high (C0)</text>
<text transform="translate(34.2 421.6) rotate(-90)" font-size="7.4" text-anchor="end">TLR1/2-high (C1)</text>
<text transform="translate(41.2 421.6) rotate(-90)" font-size="7.4" text-anchor="end">ISG (C2)</text>
<text transform="translate(51.15 421.6) rotate(-90)" font-size="7.4" text-anchor="end">Naive (C1)</text>
<text transform="translate(58.25 421.6) rotate(-90)" font-size="7.4" text-anchor="end">T<tspan font-size="4.3" dy="1.3">reg</tspan><tspan dy="-1.3"> (C2)</tspan></text>
<text transform="translate(65.35 421.6) rotate(-90)" font-size="7.4" text-anchor="end">Effector (C0)</text>
<text transform="translate(72.45 421.6) rotate(-90)" font-size="7.4" text-anchor="end">ISG (C3)</text>
<text transform="translate(82.3 421.6) rotate(-90)" font-size="7.4" text-anchor="end">Naive (C0)</text>
<text transform="translate(89.5 421.6) rotate(-90)" font-size="7.4" text-anchor="end">Central memory (C2)</text>
<text transform="translate(96.7 421.6) rotate(-90)" font-size="7.4" text-anchor="end">Effector (C1)</text>
<text transform="translate(103.9 421.6) rotate(-90)" font-size="7.4" text-anchor="end">ISG (C3)</text>
<path stroke="#adb7db" stroke-width="1" d="M177.6 197.5h7.89M177.6 259.5h7.89M177.6 307.5h7.89M177.6 321.5h7.89M193.33 276.5h7.89M201.19 216.5h7.89M201.19 223.5h7.89M201.19 303.5h7.89M209.06 312.5h7.89M216.92 275.5h7.89M216.92 279.5h7.89M224.78 207.5h7.89M224.78 276.5h7.89M224.78 322.5h7.89M232.65 281.5h7.89M240.51 276.5h7.89M248.38 231.5h7.89M248.38 263.5h7.89M248.38 268.5h7.89M248.38 313.5h7.89M248.38 319.5h7.89M248.38 321.5h7.89M256.24 268.5h7.89M264.1 200.5h7.89M264.1 221.5h7.89M264.1 226.5h7.89M264.1 239.5h7.89M264.1 276.5h7.89M264.1 282.5h7.89M264.1 299.5h7.89M264.1 306.5h7.89M271.97 203.5h7.89M271.97 206.5h7.89M271.97 271.5h7.89M271.97 283.5h7.89M271.97 304.5h7.89M271.97 307.5h7.89M279.83 217.5h7.89M279.83 239.5h7.89M279.83 241.5h7.89M279.83 250.5h7.89M177.6 376.5h7.89M177.6 380.5h7.89M177.6 393.5h7.89M177.6 396.5h7.89M193.33 388.5h7.89M193.33 391.5h7.89M216.92 415.5h7.89M232.65 360.5h7.89M240.51 371.5h7.89M264.1 334.5h7.89M264.1 340.5h7.89M264.1 413.5h7.89M264.1 415.5h7.89M271.97 338.5h7.89M271.97 339.5h7.89M271.97 353.5h7.89M271.97 359.5h7.89M271.97 382.5h7.89M279.83 331.5h7.89M279.83 340.5h7.89M279.83 419.5h7.89"/>
<path stroke="#8d9acc" stroke-width="1" d="M177.6 198.5h7.89M177.6 252.5h7.89M209.06 290.5h7.89M232.65 278.5h7.89M232.65 279.5h7.89M240.51 240.5h7.89M240.51 244.5h7.89M240.51 275.5h7.89M264.1 212.5h7.89M264.1 225.5h7.89M264.1 231.5h7.89M264.1 246.5h7.89M264.1 279.5h7.89M264.1 283.5h7.89M271.97 221.5h7.89M271.97 225.5h7.89M271.97 229.5h7.89M271.97 233.5h7.89M271.97 246.5h7.89M271.97 308.5h7.89M279.83 219.5h7.89M279.83 224.5h7.89M279.83 234.5h7.89M279.83 237.5h7.89M279.83 238.5h7.89M177.6 337.5h7.89M232.65 364.5h7.89M232.65 394.5h7.89M232.65 397.5h7.89M264.1 408.5h7.89M271.97 332.5h7.89M271.97 358.5h7.89M271.97 361.5h7.89M271.97 379.5h7.89"/>
<path stroke="#f49294" stroke-width="1" d="M177.6 199.5h7.89M177.6 232.5h7.89M185.46 210.5h7.89M185.46 229.5h7.89M185.46 230.5h7.89M185.46 231.5h7.89M185.46 269.5h7.89M185.46 305.5h7.89M185.46 306.5h7.89M193.33 222.5h7.89M193.33 247.5h7.89M193.33 253.5h7.89M193.33 269.5h7.89M193.33 314.5h7.89M201.19 211.5h7.89M201.19 234.5h7.89M201.19 243.5h7.89M201.19 274.5h7.89M201.19 314.5h7.89M209.06 208.5h7.89M216.92 225.5h7.89M216.92 299.5h7.89M216.92 304.5h7.89M224.78 232.5h7.89M224.78 256.5h7.89M224.78 260.5h7.89M224.78 301.5h7.89M224.78 304.5h7.89M232.65 271.5h7.89M232.65 307.5h7.89M232.65 312.5h7.89M256.24 236.5h7.89M256.24 292.5h7.89M264.1 206.5h7.89M177.6 401.5h7.89M177.6 411.5h7.89M177.6 415.5h7.89M201.19 341.5h7.89M201.19 348.5h7.89M201.19 410.5h7.89M201.19 411.5h7.89M216.92 404.5h7.89M232.65 377.5h7.89M232.65 419.5h7.89M248.38 378.5h7.89M248.38 417.5h7.89M256.24 345.5h7.89M256.24 398.5h7.89M264.1 391.5h7.89M279.83 353.5h7.89"/>
<path stroke="#f5a5a6" stroke-width="1" d="M177.6 200.5h7.89M185.46 300.5h7.89M185.46 303.5h7.89M193.33 212.5h7.89M193.33 239.5h7.89M193.33 245.5h7.89M193.33 256.5h7.89M193.33 300.5h7.89M201.19 199.5h7.89M201.19 231.5h7.89M201.19 245.5h7.89M201.19 271.5h7.89M209.06 199.5h7.89M209.06 209.5h7.89M209.06 212.5h7.89M209.06 231.5h7.89M209.06 304.5h7.89M209.06 314.5h7.89M216.92 300.5h7.89M224.78 231.5h7.89M224.78 246.5h7.89M224.78 280.5h7.89M224.78 288.5h7.89M224.78 294.5h7.89M232.65 240.5h7.89M240.51 313.5h7.89M248.38 204.5h7.89M248.38 236.5h7.89M248.38 238.5h7.89M248.38 276.5h7.89M248.38 324.5h7.89M256.24 207.5h7.89M256.24 235.5h7.89M256.24 273.5h7.89M256.24 276.5h7.89M256.24 290.5h7.89M256.24 291.5h7.89M279.83 290.5h7.89M185.46 378.5h7.89M185.46 404.5h7.89M193.33 352.5h7.89M193.33 377.5h7.89M193.33 384.5h7.89M193.33 413.5h7.89M201.19 342.5h7.89M209.06 411.5h7.89M216.92 337.5h7.89M216.92 339.5h7.89M216.92 359.5h7.89M216.92 371.5h7.89M232.65 414.5h7.89M248.38 332.5h7.89M248.38 362.5h7.89M248.38 379.5h7.89M256.24 335.5h7.89M256.24 336.5h7.89M256.24 349.5h7.89M256.24 382.5h7.89M256.24 399.5h7.89M256.24 418.5h7.89M264.1 390.5h7.89M279.83 407.5h7.89"/>
<path stroke="#f8c0c1" stroke-width="1" d="M177.6 201.5h7.89M177.6 215.5h7.89M177.6 257.5h7.89M177.6 272.5h7.89M177.6 288.5h7.89M177.6 292.5h7.89M177.6 309.5h7.89M185.46 214.5h7.89M185.46 251.5h7.89M185.46 260.5h7.89M185.46 265.5h7.89M185.46 291.5h7.89M185.46 311.5h7.89M185.46 312.5h7.89M193.33 214.5h7.89M193.33 274.5h7.89M193.33 299.5h7.89M193.33 308.5h7.89M193.33 310.5h7.89M201.19 198.5h7.89M201.19 207.5h7.89M201.19 213.5h7.89M201.19 218.5h7.89M201.19 236.5h7.89M201.19 237.5h7.89M201.19 272.5h7.89M201.19 273.5h7.89M201.19 298.5h7.89M201.19 301.5h7.89M201.19 302.5h7.89M201.19 310.5h7.89M201.19 312.5h7.89M209.06 200.5h7.89M209.06 228.5h7.89M209.06 247.5h7.89M209.06 267.5h7.89M209.06 271.5h7.89M209.06 303.5h7.89M209.06 307.5h7.89M209.06 315.5h7.89M216.92 301.5h7.89M216.92 303.5h7.89M216.92 320.5h7.89M224.78 250.5h7.89M224.78 272.5h7.89M224.78 279.5h7.89M232.65 265.5h7.89M232.65 295.5h7.89M232.65 319.5h7.89M248.38 201.5h7.89M248.38 213.5h7.89M248.38 252.5h7.89M248.38 253.5h7.89M248.38 279.5h7.89M248.38 283.5h7.89M248.38 287.5h7.89M248.38 304.5h7.89M256.24 204.5h7.89M256.24 286.5h7.89M256.24 289.5h7.89M256.24 310.5h7.89M264.1 207.5h7.89M264.1 208.5h7.89M264.1 289.5h7.89M264.1 303.5h7.89M279.83 273.5h7.89M185.46 357.5h7.89M185.46 361.5h7.89M193.33 329.5h7.89M193.33 351.5h7.89M193.33 378.5h7.89M193.33 411.5h7.89M193.33 417.5h7.89M193.33 418.5h7.89M201.19 347.5h7.89M209.06 333.5h7.89M209.06 348.5h7.89M209.06 349.5h7.89M209.06 353.5h7.89M209.06 367.5h7.89M209.06 373.5h7.89M209.06 377.5h7.89M209.06 404.5h7.89M209.06 415.5h7.89M216.92 351.5h7.89M216.92 368.5h7.89M216.92 372.5h7.89M216.92 381.5h7.89M216.92 389.5h7.89M216.92 414.5h7.89M216.92 419.5h7.89M224.78 330.5h7.89M224.78 334.5h7.89M224.78 357.5h7.89M232.65 376.5h7.89M232.65 418.5h7.89M240.51 386.5h7.89M248.38 363.5h7.89M248.38 382.5h7.89M248.38 399.5h7.89M248.38 403.5h7.89M256.24 346.5h7.89M256.24 381.5h7.89M256.24 392.5h7.89M256.24 401.5h7.89M256.24 402.5h7.89M264.1 394.5h7.89M264.1 402.5h7.89M271.97 408.5h7.89M279.83 348.5h7.89M279.83 390.5h7.89M279.83 402.5h7.89"/>
<path stroke="#fdeded" stroke-width="1" d="M177.6 202.5h7.89M177.6 224.5h7.89M177.6 258.5h7.89M177.6 274.5h7.89M177.6 275.5h7.89M177.6 289.5h7.89M177.6 293.5h7.89M177.6 294.5h7.89M185.46 202.5h7.89M185.46 221.5h7.89M185.46 236.5h7.89M185.46 244.5h7.89M185.46 246.5h7.89M185.46 277.5h7.89M185.46 287.5h7.89M185.46 288.5h7.89M185.46 289.5h7.89M185.46 293.5h7.89M185.46 296.5h7.89M185.46 301.5h7.89M185.46 309.5h7.89M193.33 197.5h7.89M193.33 208.5h7.89M193.33 229.5h7.89M193.33 237.5h7.89M193.33 250.5h7.89M193.33 252.5h7.89M193.33 261.5h7.89M193.33 278.5h7.89M201.19 202.5h7.89M201.19 256.5h7.89M201.19 262.5h7.89M201.19 288.5h7.89M201.19 292.5h7.89M201.19 295.5h7.89M209.06 198.5h7.89M209.06 204.5h7.89M209.06 215.5h7.89M209.06 224.5h7.89M209.06 283.5h7.89M209.06 293.5h7.89M216.92 212.5h7.89M216.92 220.5h7.89M216.92 237.5h7.89M216.92 240.5h7.89M216.92 255.5h7.89M216.92 268.5h7.89M216.92 269.5h7.89M216.92 283.5h7.89M216.92 318.5h7.89M216.92 319.5h7.89M224.78 204.5h7.89M224.78 212.5h7.89M224.78 221.5h7.89M224.78 223.5h7.89M224.78 241.5h7.89M224.78 245.5h7.89M224.78 253.5h7.89M224.78 281.5h7.89M224.78 287.5h7.89M224.78 295.5h7.89M224.78 314.5h7.89M224.78 319.5h7.89M224.78 324.5h7.89M232.65 206.5h7.89M232.65 270.5h7.89M232.65 280.5h7.89M240.51 200.5h7.89M240.51 213.5h7.89M240.51 219.5h7.89M240.51 231.5h7.89M240.51 260.5h7.89M240.51 262.5h7.89M240.51 269.5h7.89M240.51 279.5h7.89M240.51 281.5h7.89M240.51 287.5h7.89M240.51 294.5h7.89M240.51 297.5h7.89M240.51 299.5h7.89M240.51 305.5h7.89M248.38 214.5h7.89M248.38 218.5h7.89M248.38 221.5h7.89M248.38 230.5h7.89M248.38 243.5h7.89M248.38 248.5h7.89M248.38 250.5h7.89M248.38 275.5h7.89M248.38 291.5h7.89M248.38 293.5h7.89M256.24 198.5h7.89M256.24 218.5h7.89M256.24 223.5h7.89M256.24 234.5h7.89M256.24 239.5h7.89M256.24 259.5h7.89M256.24 302.5h7.89M256.24 305.5h7.89M264.1 316.5h7.89M271.97 297.5h7.89M279.83 278.5h7.89M279.83 279.5h7.89M279.83 315.5h7.89M279.83 324.5h7.89M177.6 330.5h7.89M177.6 358.5h7.89M177.6 383.5h7.89M177.6 384.5h7.89M177.6 385.5h7.89M177.6 397.5h7.89M185.46 347.5h7.89M185.46 367.5h7.89M185.46 383.5h7.89M185.46 402.5h7.89M185.46 403.5h7.89M185.46 405.5h7.89M193.33 338.5h7.89M193.33 347.5h7.89M193.33 385.5h7.89M193.33 409.5h7.89M201.19 329.5h7.89M201.19 336.5h7.89M201.19 413.5h7.89M209.06 338.5h7.89M209.06 346.5h7.89M209.06 358.5h7.89M209.06 359.5h7.89M209.06 361.5h7.89M209.06 364.5h7.89M209.06 365.5h7.89M209.06 380.5h7.89M209.06 395.5h7.89M209.06 397.5h7.89M216.92 338.5h7.89M216.92 355.5h7.89M216.92 375.5h7.89M216.92 397.5h7.89M216.92 405.5h7.89M216.92 412.5h7.89M224.78 344.5h7.89M224.78 353.5h7.89M224.78 376.5h7.89M224.78 392.5h7.89M232.65 415.5h7.89M240.51 336.5h7.89M240.51 338.5h7.89M240.51 340.5h7.89M240.51 345.5h7.89M240.51 381.5h7.89M248.38 354.5h7.89M248.38 371.5h7.89M248.38 392.5h7.89M256.24 330.5h7.89M256.24 337.5h7.89M256.24 352.5h7.89M256.24 355.5h7.89M256.24 375.5h7.89M256.24 379.5h7.89M256.24 391.5h7.89M256.24 414.5h7.89M264.1 354.5h7.89M264.1 358.5h7.89M264.1 389.5h7.89M271.97 337.5h7.89M271.97 397.5h7.89M271.97 407.5h7.89M271.97 419.5h7.89M279.83 333.5h7.89M279.83 346.5h7.89M279.83 350.5h7.89M279.83 369.5h7.89M279.83 375.5h7.89M279.83 406.5h7.89"/>
<path stroke="#f6aeaf" stroke-width="1" d="M177.6 203.5h7.89M177.6 211.5h7.89M177.6 235.5h7.89M177.6 240.5h7.89M177.6 256.5h7.89M185.46 208.5h7.89M185.46 256.5h7.89M185.46 262.5h7.89M185.46 279.5h7.89M185.46 302.5h7.89M193.33 213.5h7.89M193.33 238.5h7.89M193.33 306.5h7.89M193.33 312.5h7.89M201.19 209.5h7.89M201.19 214.5h7.89M201.19 233.5h7.89M201.19 242.5h7.89M201.19 276.5h7.89M201.19 290.5h7.89M209.06 225.5h7.89M209.06 248.5h7.89M209.06 300.5h7.89M209.06 305.5h7.89M209.06 318.5h7.89M216.92 230.5h7.89M216.92 233.5h7.89M216.92 250.5h7.89M216.92 252.5h7.89M216.92 305.5h7.89M216.92 321.5h7.89M224.78 220.5h7.89M224.78 234.5h7.89M224.78 249.5h7.89M224.78 258.5h7.89M224.78 259.5h7.89M224.78 286.5h7.89M224.78 289.5h7.89M224.78 293.5h7.89M224.78 303.5h7.89M224.78 305.5h7.89M224.78 306.5h7.89M224.78 313.5h7.89M248.38 210.5h7.89M248.38 215.5h7.89M248.38 216.5h7.89M248.38 289.5h7.89M256.24 274.5h7.89M256.24 278.5h7.89M256.24 279.5h7.89M256.24 282.5h7.89M256.24 287.5h7.89M256.24 288.5h7.89M256.24 303.5h7.89M256.24 304.5h7.89M271.97 317.5h7.89M279.83 289.5h7.89M177.6 418.5h7.89M193.33 353.5h7.89M193.33 386.5h7.89M201.19 340.5h7.89M201.19 354.5h7.89M209.06 330.5h7.89M209.06 331.5h7.89M209.06 345.5h7.89M209.06 347.5h7.89M216.92 350.5h7.89M216.92 353.5h7.89M216.92 380.5h7.89M216.92 402.5h7.89M224.78 412.5h7.89M232.65 334.5h7.89M232.65 341.5h7.89M240.51 375.5h7.89M248.38 331.5h7.89M248.38 360.5h7.89M248.38 364.5h7.89M248.38 387.5h7.89M248.38 418.5h7.89M256.24 340.5h7.89M256.24 403.5h7.89M279.83 408.5h7.89"/>
<path stroke="#eff1f8" stroke-width="1" d="M177.6 204.5h7.89M177.6 214.5h7.89M177.6 216.5h7.89M177.6 217.5h7.89M177.6 266.5h7.89M177.6 280.5h7.89M177.6 290.5h7.89M177.6 306.5h7.89M177.6 308.5h7.89M185.46 227.5h7.89M185.46 255.5h7.89M185.46 323.5h7.89M193.33 200.5h7.89M193.33 205.5h7.89M193.33 226.5h7.89M193.33 280.5h7.89M193.33 282.5h7.89M193.33 286.5h7.89M193.33 294.5h7.89M193.33 322.5h7.89M201.19 203.5h7.89M201.19 220.5h7.89M201.19 225.5h7.89M201.19 230.5h7.89M201.19 258.5h7.89M201.19 267.5h7.89M201.19 283.5h7.89M201.19 304.5h7.89M209.06 218.5h7.89M209.06 220.5h7.89M209.06 240.5h7.89M209.06 252.5h7.89M209.06 288.5h7.89M209.06 292.5h7.89M209.06 298.5h7.89M209.06 323.5h7.89M216.92 199.5h7.89M216.92 204.5h7.89M216.92 215.5h7.89M216.92 244.5h7.89M216.92 265.5h7.89M216.92 310.5h7.89M224.78 203.5h7.89M224.78 209.5h7.89M224.78 235.5h7.89M224.78 242.5h7.89M224.78 254.5h7.89M224.78 270.5h7.89M224.78 275.5h7.89M240.51 209.5h7.89M240.51 214.5h7.89M240.51 220.5h7.89M240.51 228.5h7.89M240.51 257.5h7.89M240.51 289.5h7.89M240.51 293.5h7.89M240.51 314.5h7.89M248.38 198.5h7.89M248.38 229.5h7.89M248.38 232.5h7.89M248.38 234.5h7.89M248.38 249.5h7.89M248.38 271.5h7.89M248.38 300.5h7.89M256.24 201.5h7.89M256.24 202.5h7.89M256.24 226.5h7.89M256.24 242.5h7.89M256.24 244.5h7.89M256.24 245.5h7.89M256.24 260.5h7.89M256.24 270.5h7.89M256.24 314.5h7.89M256.24 320.5h7.89M256.24 321.5h7.89M264.1 216.5h7.89M264.1 275.5h7.89M264.1 281.5h7.89M264.1 322.5h7.89M279.83 197.5h7.89M279.83 200.5h7.89M279.83 203.5h7.89M279.83 246.5h7.89M279.83 272.5h7.89M279.83 287.5h7.89M279.83 288.5h7.89M279.83 292.5h7.89M279.83 294.5h7.89M279.83 310.5h7.89M279.83 317.5h7.89M177.6 348.5h7.89M177.6 352.5h7.89M177.6 360.5h7.89M177.6 419.5h7.89M185.46 389.5h7.89M185.46 416.5h7.89M193.33 355.5h7.89M193.33 359.5h7.89M193.33 365.5h7.89M193.33 372.5h7.89M193.33 395.5h7.89M193.33 406.5h7.89M193.33 408.5h7.89M201.19 330.5h7.89M201.19 404.5h7.89M209.06 356.5h7.89M209.06 369.5h7.89M209.06 393.5h7.89M209.06 407.5h7.89M216.92 388.5h7.89M216.92 395.5h7.89M216.92 396.5h7.89M224.78 336.5h7.89M224.78 345.5h7.89M224.78 352.5h7.89M224.78 361.5h7.89M224.78 371.5h7.89M224.78 373.5h7.89M224.78 383.5h7.89M224.78 384.5h7.89M224.78 385.5h7.89M224.78 397.5h7.89M232.65 416.5h7.89M240.51 339.5h7.89M240.51 342.5h7.89M240.51 346.5h7.89M240.51 356.5h7.89M240.51 377.5h7.89M240.51 406.5h7.89M240.51 419.5h7.89M248.38 349.5h7.89M248.38 372.5h7.89M248.38 389.5h7.89M256.24 331.5h7.89M256.24 332.5h7.89M256.24 333.5h7.89M256.24 363.5h7.89M256.24 407.5h7.89M264.1 373.5h7.89M264.1 381.5h7.89M271.97 343.5h7.89M271.97 355.5h7.89M271.97 404.5h7.89M279.83 334.5h7.89M279.83 343.5h7.89M279.83 370.5h7.89M279.83 384.5h7.89"/>
<path stroke="#ced4e9" stroke-width="1" d="M177.6 205.5h7.89M177.6 212.5h7.89M177.6 227.5h7.89M177.6 241.5h7.89M177.6 261.5h7.89M177.6 262.5h7.89M177.6 268.5h7.89M177.6 285.5h7.89M177.6 317.5h7.89M185.46 217.5h7.89M185.46 322.5h7.89M193.33 260.5h7.89M193.33 264.5h7.89M201.19 222.5h7.89M201.19 224.5h7.89M201.19 255.5h7.89M201.19 284.5h7.89M209.06 297.5h7.89M216.92 201.5h7.89M224.78 273.5h7.89M224.78 317.5h7.89M240.51 199.5h7.89M240.51 207.5h7.89M240.51 216.5h7.89M240.51 222.5h7.89M240.51 243.5h7.89M240.51 247.5h7.89M240.51 272.5h7.89M240.51 278.5h7.89M240.51 318.5h7.89M248.38 273.5h7.89M248.38 299.5h7.89M248.38 314.5h7.89M248.38 315.5h7.89M256.24 214.5h7.89M256.24 243.5h7.89M256.24 251.5h7.89M256.24 272.5h7.89M256.24 284.5h7.89M256.24 295.5h7.89M264.1 223.5h7.89M264.1 230.5h7.89M264.1 270.5h7.89M264.1 292.5h7.89M264.1 301.5h7.89M264.1 313.5h7.89M271.97 198.5h7.89M271.97 275.5h7.89M271.97 287.5h7.89M279.83 202.5h7.89M279.83 270.5h7.89M279.83 313.5h7.89M177.6 338.5h7.89M177.6 341.5h7.89M177.6 351.5h7.89M177.6 363.5h7.89M177.6 366.5h7.89M177.6 368.5h7.89M177.6 379.5h7.89M177.6 387.5h7.89M177.6 410.5h7.89M185.46 388.5h7.89M185.46 390.5h7.89M193.33 368.5h7.89M193.33 392.5h7.89M201.19 399.5h7.89M201.19 417.5h7.89M209.06 384.5h7.89M209.06 402.5h7.89M209.06 409.5h7.89M216.92 334.5h7.89M216.92 335.5h7.89M224.78 348.5h7.89M224.78 350.5h7.89M224.78 358.5h7.89M224.78 368.5h7.89M224.78 388.5h7.89M240.51 350.5h7.89M240.51 391.5h7.89M240.51 415.5h7.89M248.38 366.5h7.89M256.24 371.5h7.89M256.24 388.5h7.89M264.1 331.5h7.89M264.1 345.5h7.89M264.1 349.5h7.89M264.1 352.5h7.89M264.1 357.5h7.89M264.1 368.5h7.89M264.1 400.5h7.89M264.1 401.5h7.89M264.1 411.5h7.89M271.97 335.5h7.89M271.97 340.5h7.89M271.97 344.5h7.89M271.97 395.5h7.89M271.97 414.5h7.89M279.83 363.5h7.89M279.83 417.5h7.89"/>
<path stroke="#fbdbdc" stroke-width="1" d="M177.6 206.5h7.89M177.6 221.5h7.89M177.6 222.5h7.89M177.6 233.5h7.89M177.6 238.5h7.89M177.6 239.5h7.89M177.6 248.5h7.89M177.6 254.5h7.89M177.6 255.5h7.89M177.6 286.5h7.89M177.6 302.5h7.89M177.6 303.5h7.89M177.6 315.5h7.89M185.46 219.5h7.89M185.46 222.5h7.89M185.46 253.5h7.89M185.46 272.5h7.89M185.46 280.5h7.89M185.46 285.5h7.89M185.46 286.5h7.89M185.46 313.5h7.89M185.46 314.5h7.89M185.46 320.5h7.89M193.33 207.5h7.89M193.33 215.5h7.89M193.33 262.5h7.89M193.33 296.5h7.89M193.33 303.5h7.89M193.33 307.5h7.89M193.33 309.5h7.89M193.33 315.5h7.89M193.33 319.5h7.89M201.19 206.5h7.89M201.19 246.5h7.89M201.19 270.5h7.89M201.19 297.5h7.89M201.19 306.5h7.89M201.19 313.5h7.89M201.19 318.5h7.89M201.19 319.5h7.89M201.19 320.5h7.89M209.06 203.5h7.89M209.06 207.5h7.89M209.06 237.5h7.89M209.06 241.5h7.89M209.06 265.5h7.89M209.06 272.5h7.89M209.06 280.5h7.89M209.06 296.5h7.89M216.92 214.5h7.89M216.92 219.5h7.89M216.92 221.5h7.89M216.92 238.5h7.89M216.92 248.5h7.89M216.92 261.5h7.89M216.92 273.5h7.89M224.78 206.5h7.89M224.78 211.5h7.89M224.78 217.5h7.89M224.78 243.5h7.89M224.78 292.5h7.89M224.78 297.5h7.89M232.65 317.5h7.89M240.51 211.5h7.89M240.51 252.5h7.89M240.51 253.5h7.89M240.51 295.5h7.89M240.51 296.5h7.89M240.51 301.5h7.89M248.38 217.5h7.89M248.38 227.5h7.89M248.38 233.5h7.89M248.38 241.5h7.89M248.38 247.5h7.89M248.38 259.5h7.89M248.38 277.5h7.89M248.38 282.5h7.89M248.38 288.5h7.89M248.38 290.5h7.89M248.38 295.5h7.89M248.38 306.5h7.89M256.24 208.5h7.89M256.24 212.5h7.89M256.24 227.5h7.89M256.24 238.5h7.89M256.24 281.5h7.89M264.1 288.5h7.89M264.1 305.5h7.89M271.97 208.5h7.89M271.97 295.5h7.89M271.97 301.5h7.89M177.6 332.5h7.89M177.6 381.5h7.89M185.46 341.5h7.89M185.46 401.5h7.89M185.46 411.5h7.89M193.33 335.5h7.89M193.33 341.5h7.89M193.33 342.5h7.89M193.33 344.5h7.89M193.33 362.5h7.89M193.33 402.5h7.89M193.33 405.5h7.89M193.33 410.5h7.89M193.33 412.5h7.89M201.19 359.5h7.89M201.19 360.5h7.89M201.19 372.5h7.89M201.19 379.5h7.89M201.19 406.5h7.89M201.19 409.5h7.89M209.06 332.5h7.89M209.06 339.5h7.89M209.06 341.5h7.89M209.06 417.5h7.89M209.06 418.5h7.89M216.92 356.5h7.89M216.92 376.5h7.89M216.92 399.5h7.89M216.92 410.5h7.89M216.92 413.5h7.89M224.78 375.5h7.89M224.78 400.5h7.89M224.78 401.5h7.89M224.78 410.5h7.89M224.78 411.5h7.89M240.51 360.5h7.89M248.38 351.5h7.89M248.38 361.5h7.89M248.38 386.5h7.89M248.38 396.5h7.89M256.24 347.5h7.89M256.24 358.5h7.89M256.24 359.5h7.89M256.24 411.5h7.89M264.1 393.5h7.89M279.83 354.5h7.89M279.83 379.5h7.89"/>
<path stroke="#fad2d3" stroke-width="1" d="M177.6 207.5h7.89M177.6 234.5h7.89M177.6 237.5h7.89M177.6 313.5h7.89M185.46 201.5h7.89M185.46 225.5h7.89M185.46 232.5h7.89M185.46 242.5h7.89M185.46 261.5h7.89M185.46 266.5h7.89M185.46 270.5h7.89M185.46 271.5h7.89M185.46 284.5h7.89M185.46 308.5h7.89M193.33 209.5h7.89M193.33 217.5h7.89M193.33 223.5h7.89M193.33 228.5h7.89M193.33 267.5h7.89M193.33 304.5h7.89M193.33 323.5h7.89M201.19 200.5h7.89M201.19 212.5h7.89M201.19 239.5h7.89M201.19 249.5h7.89M201.19 261.5h7.89M201.19 264.5h7.89M201.19 308.5h7.89M201.19 311.5h7.89M201.19 315.5h7.89M209.06 202.5h7.89M209.06 205.5h7.89M209.06 234.5h7.89M209.06 281.5h7.89M216.92 211.5h7.89M216.92 213.5h7.89M216.92 224.5h7.89M216.92 239.5h7.89M216.92 241.5h7.89M216.92 251.5h7.89M216.92 256.5h7.89M216.92 291.5h7.89M216.92 302.5h7.89M224.78 219.5h7.89M224.78 229.5h7.89M224.78 262.5h7.89M224.78 285.5h7.89M224.78 307.5h7.89M224.78 308.5h7.89M232.65 275.5h7.89M240.51 251.5h7.89M240.51 302.5h7.89M248.38 208.5h7.89M248.38 235.5h7.89M248.38 237.5h7.89M248.38 239.5h7.89M248.38 278.5h7.89M248.38 305.5h7.89M256.24 206.5h7.89M256.24 246.5h7.89M256.24 311.5h7.89M264.1 205.5h7.89M264.1 308.5h7.89M264.1 317.5h7.89M279.83 291.5h7.89M177.6 354.5h7.89M177.6 377.5h7.89M177.6 409.5h7.89M185.46 342.5h7.89M185.46 353.5h7.89M185.46 358.5h7.89M185.46 359.5h7.89M185.46 365.5h7.89M185.46 366.5h7.89M185.46 396.5h7.89M185.46 418.5h7.89M193.33 336.5h7.89M193.33 339.5h7.89M193.33 415.5h7.89M193.33 419.5h7.89M201.19 337.5h7.89M201.19 338.5h7.89M201.19 343.5h7.89M201.19 344.5h7.89M201.19 345.5h7.89M201.19 357.5h7.89M201.19 365.5h7.89M201.19 387.5h7.89M209.06 335.5h7.89M209.06 337.5h7.89M209.06 360.5h7.89M209.06 381.5h7.89M209.06 400.5h7.89M209.06 410.5h7.89M216.92 336.5h7.89M216.92 347.5h7.89M216.92 357.5h7.89M216.92 378.5h7.89M216.92 390.5h7.89M216.92 391.5h7.89M216.92 392.5h7.89M224.78 356.5h7.89M224.78 381.5h7.89M224.78 399.5h7.89M232.65 385.5h7.89M232.65 405.5h7.89M240.51 341.5h7.89M240.51 378.5h7.89M240.51 384.5h7.89M248.38 348.5h7.89M248.38 355.5h7.89M248.38 356.5h7.89M248.38 359.5h7.89M248.38 370.5h7.89M248.38 412.5h7.89M248.38 413.5h7.89M248.38 419.5h7.89M256.24 329.5h7.89M256.24 356.5h7.89M256.24 361.5h7.89M256.24 374.5h7.89M256.24 400.5h7.89M256.24 410.5h7.89M264.1 398.5h7.89M264.1 403.5h7.89M279.83 341.5h7.89M279.83 345.5h7.89M279.83 355.5h7.89"/>
<path stroke="#f28083" stroke-width="1" d="M177.6 208.5h7.89M185.46 281.5h7.89M193.33 210.5h7.89M209.06 210.5h7.89M209.06 211.5h7.89M209.06 319.5h7.89M209.06 320.5h7.89M232.65 220.5h7.89M232.65 255.5h7.89M232.65 316.5h7.89M264.1 295.5h7.89M264.1 302.5h7.89M279.83 296.5h7.89M177.6 417.5h7.89M201.19 349.5h7.89M209.06 342.5h7.89M209.06 376.5h7.89M209.06 412.5h7.89M209.06 413.5h7.89"/>
<path stroke="#ee5c5f" stroke-width="1" d="M177.6 209.5h7.89M232.65 244.5h7.89M232.65 257.5h7.89M232.65 272.5h7.89M232.65 285.5h7.89M232.65 371.5h7.89M248.38 409.5h7.89M279.83 388.5h7.89"/>
<path stroke="#f7b7b8" stroke-width="1" d="M177.6 210.5h7.89M177.6 220.5h7.89M177.6 225.5h7.89M177.6 226.5h7.89M177.6 249.5h7.89M177.6 296.5h7.89M177.6 311.5h7.89M185.46 203.5h7.89M185.46 213.5h7.89M185.46 250.5h7.89M185.46 274.5h7.89M185.46 299.5h7.89M193.33 221.5h7.89M193.33 249.5h7.89M193.33 275.5h7.89M193.33 305.5h7.89M201.19 215.5h7.89M201.19 235.5h7.89M201.19 238.5h7.89M201.19 265.5h7.89M201.19 285.5h7.89M201.19 293.5h7.89M201.19 294.5h7.89M209.06 213.5h7.89M209.06 226.5h7.89M209.06 229.5h7.89M209.06 232.5h7.89M209.06 259.5h7.89M209.06 268.5h7.89M209.06 269.5h7.89M216.92 210.5h7.89M216.92 218.5h7.89M216.92 232.5h7.89M216.92 243.5h7.89M216.92 249.5h7.89M216.92 257.5h7.89M216.92 298.5h7.89M216.92 306.5h7.89M216.92 307.5h7.89M216.92 313.5h7.89M216.92 314.5h7.89M224.78 200.5h7.89M224.78 300.5h7.89M224.78 302.5h7.89M232.65 215.5h7.89M232.65 236.5h7.89M232.65 262.5h7.89M232.65 268.5h7.89M232.65 298.5h7.89M232.65 320.5h7.89M256.24 203.5h7.89M256.24 294.5h7.89M271.97 289.5h7.89M271.97 324.5h7.89M279.83 280.5h7.89M177.6 331.5h7.89M177.6 347.5h7.89M177.6 399.5h7.89M177.6 412.5h7.89M177.6 414.5h7.89M185.46 364.5h7.89M185.46 413.5h7.89M193.33 332.5h7.89M193.33 333.5h7.89M193.33 337.5h7.89M193.33 349.5h7.89M193.33 350.5h7.89M193.33 374.5h7.89M193.33 382.5h7.89M201.19 346.5h7.89M201.19 351.5h7.89M209.06 334.5h7.89M209.06 378.5h7.89M209.06 379.5h7.89M216.92 349.5h7.89M216.92 352.5h7.89M216.92 364.5h7.89M216.92 365.5h7.89M216.92 367.5h7.89M216.92 370.5h7.89M216.92 382.5h7.89M216.92 411.5h7.89M224.78 342.5h7.89M224.78 372.5h7.89M224.78 413.5h7.89M232.65 339.5h7.89M232.65 368.5h7.89M232.65 369.5h7.89M232.65 374.5h7.89M232.65 410.5h7.89M240.51 355.5h7.89M240.51 372.5h7.89M240.51 385.5h7.89M248.38 369.5h7.89M248.38 388.5h7.89M248.38 400.5h7.89M248.38 401.5h7.89M248.38 404.5h7.89M248.38 411.5h7.89M248.38 416.5h7.89M256.24 373.5h7.89M256.24 417.5h7.89M256.24 419.5h7.89M264.1 361.5h7.89M264.1 392.5h7.89M279.83 371.5h7.89"/>
<path stroke="#d6dbed" stroke-width="1" d="M177.6 213.5h7.89M177.6 282.5h7.89M177.6 283.5h7.89M185.46 205.5h7.89M185.46 239.5h7.89M185.46 263.5h7.89M185.46 317.5h7.89M185.46 318.5h7.89M193.33 198.5h7.89M193.33 270.5h7.89M193.33 295.5h7.89M201.19 280.5h7.89M209.06 236.5h7.89M209.06 253.5h7.89M209.06 275.5h7.89M209.06 278.5h7.89M209.06 286.5h7.89M209.06 289.5h7.89M216.92 198.5h7.89M216.92 206.5h7.89M216.92 216.5h7.89M216.92 245.5h7.89M216.92 281.5h7.89M216.92 324.5h7.89M224.78 202.5h7.89M224.78 251.5h7.89M224.78 267.5h7.89M224.78 268.5h7.89M232.65 209.5h7.89M240.51 242.5h7.89M240.51 273.5h7.89M240.51 292.5h7.89M240.51 311.5h7.89M240.51 312.5h7.89M248.38 301.5h7.89M248.38 312.5h7.89M256.24 199.5h7.89M256.24 222.5h7.89M256.24 229.5h7.89M256.24 230.5h7.89M256.24 306.5h7.89M264.1 201.5h7.89M264.1 298.5h7.89M264.1 314.5h7.89M271.97 205.5h7.89M271.97 274.5h7.89M271.97 278.5h7.89M271.97 310.5h7.89M279.83 199.5h7.89M279.83 226.5h7.89M279.83 283.5h7.89M279.83 309.5h7.89M279.83 312.5h7.89M279.83 320.5h7.89M279.83 321.5h7.89M177.6 353.5h7.89M177.6 365.5h7.89M177.6 378.5h7.89M177.6 408.5h7.89M185.46 340.5h7.89M185.46 385.5h7.89M185.46 394.5h7.89M201.19 335.5h7.89M209.06 344.5h7.89M209.06 386.5h7.89M209.06 392.5h7.89M209.06 403.5h7.89M216.92 406.5h7.89M224.78 331.5h7.89M224.78 349.5h7.89M224.78 362.5h7.89M224.78 370.5h7.89M224.78 380.5h7.89M224.78 387.5h7.89M224.78 394.5h7.89M224.78 395.5h7.89M224.78 396.5h7.89M224.78 408.5h7.89M224.78 409.5h7.89M224.78 416.5h7.89M232.65 386.5h7.89M240.51 343.5h7.89M240.51 374.5h7.89M240.51 405.5h7.89M240.51 408.5h7.89M248.38 376.5h7.89M248.38 391.5h7.89M248.38 414.5h7.89M256.24 353.5h7.89M256.24 370.5h7.89M256.24 377.5h7.89M256.24 406.5h7.89M264.1 330.5h7.89M264.1 335.5h7.89M264.1 356.5h7.89M264.1 363.5h7.89M264.1 379.5h7.89M264.1 399.5h7.89M271.97 342.5h7.89M271.97 369.5h7.89M271.97 370.5h7.89M271.97 377.5h7.89M271.97 401.5h7.89M271.97 413.5h7.89M279.83 329.5h7.89M279.83 330.5h7.89M279.83 356.5h7.89M279.83 359.5h7.89M279.83 382.5h7.89M279.83 389.5h7.89M279.83 412.5h7.89"/>
<path stroke="#fce4e4" stroke-width="1" d="M177.6 218.5h7.89M177.6 229.5h7.89M177.6 242.5h7.89M177.6 243.5h7.89M177.6 247.5h7.89M177.6 284.5h7.89M177.6 304.5h7.89M177.6 310.5h7.89M177.6 324.5h7.89M185.46 198.5h7.89M185.46 215.5h7.89M185.46 220.5h7.89M185.46 223.5h7.89M185.46 235.5h7.89M185.46 243.5h7.89M185.46 247.5h7.89M185.46 252.5h7.89M185.46 268.5h7.89M185.46 273.5h7.89M185.46 283.5h7.89M185.46 290.5h7.89M185.46 319.5h7.89M193.33 224.5h7.89M193.33 230.5h7.89M201.19 197.5h7.89M201.19 201.5h7.89M201.19 219.5h7.89M201.19 240.5h7.89M201.19 277.5h7.89M201.19 278.5h7.89M201.19 279.5h7.89M201.19 281.5h7.89M201.19 282.5h7.89M209.06 201.5h7.89M209.06 223.5h7.89M209.06 244.5h7.89M209.06 260.5h7.89M209.06 282.5h7.89M209.06 294.5h7.89M209.06 295.5h7.89M216.92 247.5h7.89M216.92 262.5h7.89M216.92 284.5h7.89M216.92 285.5h7.89M216.92 290.5h7.89M216.92 316.5h7.89M224.78 205.5h7.89M224.78 218.5h7.89M224.78 237.5h7.89M224.78 283.5h7.89M224.78 284.5h7.89M224.78 296.5h7.89M224.78 299.5h7.89M224.78 312.5h7.89M224.78 320.5h7.89M232.65 276.5h7.89M240.51 202.5h7.89M240.51 232.5h7.89M240.51 254.5h7.89M240.51 282.5h7.89M240.51 308.5h7.89M248.38 207.5h7.89M248.38 228.5h7.89M248.38 254.5h7.89M248.38 284.5h7.89M248.38 297.5h7.89M248.38 307.5h7.89M256.24 205.5h7.89M256.24 241.5h7.89M256.24 265.5h7.89M256.24 277.5h7.89M256.24 283.5h7.89M256.24 299.5h7.89M256.24 309.5h7.89M271.97 209.5h7.89M279.83 274.5h7.89M279.83 282.5h7.89M177.6 364.5h7.89M177.6 375.5h7.89M177.6 398.5h7.89M177.6 406.5h7.89M185.46 331.5h7.89M185.46 338.5h7.89M185.46 343.5h7.89M185.46 348.5h7.89M185.46 354.5h7.89M185.46 356.5h7.89M185.46 382.5h7.89M185.46 386.5h7.89M185.46 391.5h7.89M185.46 397.5h7.89M185.46 406.5h7.89M185.46 417.5h7.89M193.33 343.5h7.89M193.33 345.5h7.89M193.33 364.5h7.89M193.33 400.5h7.89M193.33 401.5h7.89M201.19 339.5h7.89M201.19 364.5h7.89M201.19 390.5h7.89M201.19 412.5h7.89M209.06 343.5h7.89M209.06 354.5h7.89M209.06 362.5h7.89M209.06 371.5h7.89M209.06 372.5h7.89M209.06 374.5h7.89M209.06 405.5h7.89M209.06 414.5h7.89M216.92 331.5h7.89M216.92 358.5h7.89M216.92 361.5h7.89M216.92 400.5h7.89M216.92 403.5h7.89M224.78 366.5h7.89M224.78 417.5h7.89M232.65 400.5h7.89M232.65 404.5h7.89M240.51 334.5h7.89M240.51 344.5h7.89M240.51 358.5h7.89M240.51 359.5h7.89M240.51 382.5h7.89M240.51 383.5h7.89M240.51 402.5h7.89M248.38 373.5h7.89M248.38 383.5h7.89M248.38 395.5h7.89M248.38 415.5h7.89M256.24 338.5h7.89M256.24 351.5h7.89M256.24 376.5h7.89M256.24 404.5h7.89M264.1 406.5h7.89M279.83 344.5h7.89M279.83 347.5h7.89M279.83 352.5h7.89M279.83 365.5h7.89M279.83 378.5h7.89"/>
<path stroke="#f9c9ca" stroke-width="1" d="M177.6 219.5h7.89M177.6 230.5h7.89M177.6 271.5h7.89M177.6 314.5h7.89M177.6 319.5h7.89M185.46 199.5h7.89M185.46 228.5h7.89M185.46 234.5h7.89M185.46 259.5h7.89M185.46 294.5h7.89M193.33 206.5h7.89M193.33 219.5h7.89M193.33 220.5h7.89M193.33 231.5h7.89M193.33 234.5h7.89M193.33 235.5h7.89M193.33 246.5h7.89M193.33 255.5h7.89M193.33 284.5h7.89M193.33 311.5h7.89M193.33 321.5h7.89M201.19 217.5h7.89M201.19 229.5h7.89M201.19 232.5h7.89M201.19 241.5h7.89M201.19 244.5h7.89M201.19 248.5h7.89M201.19 250.5h7.89M201.19 251.5h7.89M201.19 269.5h7.89M201.19 289.5h7.89M201.19 322.5h7.89M209.06 230.5h7.89M209.06 242.5h7.89M209.06 243.5h7.89M209.06 250.5h7.89M209.06 258.5h7.89M209.06 266.5h7.89M209.06 301.5h7.89M209.06 306.5h7.89M209.06 308.5h7.89M209.06 321.5h7.89M216.92 200.5h7.89M216.92 222.5h7.89M216.92 223.5h7.89M216.92 226.5h7.89M216.92 228.5h7.89M216.92 254.5h7.89M216.92 259.5h7.89M216.92 260.5h7.89M216.92 292.5h7.89M216.92 293.5h7.89M216.92 294.5h7.89M216.92 312.5h7.89M216.92 315.5h7.89M224.78 210.5h7.89M224.78 257.5h7.89M224.78 298.5h7.89M232.65 210.5h7.89M232.65 296.5h7.89M240.51 300.5h7.89M240.51 306.5h7.89M248.38 209.5h7.89M248.38 211.5h7.89M248.38 212.5h7.89M248.38 240.5h7.89M248.38 244.5h7.89M248.38 245.5h7.89M248.38 246.5h7.89M248.38 255.5h7.89M248.38 323.5h7.89M256.24 237.5h7.89M256.24 247.5h7.89M264.1 209.5h7.89M264.1 311.5h7.89M279.83 198.5h7.89M279.83 276.5h7.89M279.83 281.5h7.89M279.83 318.5h7.89M177.6 389.5h7.89M177.6 395.5h7.89M185.46 344.5h7.89M185.46 349.5h7.89M185.46 360.5h7.89M185.46 377.5h7.89M185.46 379.5h7.89M185.46 380.5h7.89M185.46 381.5h7.89M185.46 412.5h7.89M193.33 376.5h7.89M201.19 353.5h7.89M201.19 361.5h7.89M201.19 362.5h7.89M201.19 391.5h7.89M201.19 408.5h7.89M209.06 336.5h7.89M209.06 352.5h7.89M209.06 375.5h7.89M209.06 382.5h7.89M209.06 416.5h7.89M216.92 340.5h7.89M216.92 363.5h7.89M216.92 385.5h7.89M224.78 332.5h7.89M224.78 338.5h7.89M224.78 379.5h7.89M232.65 373.5h7.89M232.65 399.5h7.89M248.38 353.5h7.89M248.38 357.5h7.89M248.38 375.5h7.89M248.38 402.5h7.89M256.24 360.5h7.89M256.24 380.5h7.89M256.24 385.5h7.89M256.24 415.5h7.89M256.24 416.5h7.89M264.1 395.5h7.89M279.83 351.5h7.89M279.83 362.5h7.89M279.83 368.5h7.89M279.83 372.5h7.89M279.83 374.5h7.89"/>
<path stroke="#b6bede" stroke-width="1" d="M177.6 223.5h7.89M177.6 231.5h7.89M177.6 263.5h7.89M177.6 276.5h7.89M177.6 279.5h7.89M177.6 299.5h7.89M177.6 300.5h7.89M193.33 203.5h7.89M201.19 204.5h7.89M209.06 246.5h7.89M209.06 255.5h7.89M209.06 263.5h7.89M216.92 203.5h7.89M216.92 207.5h7.89M224.78 222.5h7.89M224.78 265.5h7.89M224.78 316.5h7.89M240.51 236.5h7.89M240.51 239.5h7.89M240.51 277.5h7.89M240.51 322.5h7.89M248.38 260.5h7.89M248.38 274.5h7.89M256.24 231.5h7.89M256.24 315.5h7.89M256.24 316.5h7.89M264.1 197.5h7.89M264.1 224.5h7.89M264.1 244.5h7.89M264.1 261.5h7.89M264.1 263.5h7.89M264.1 265.5h7.89M264.1 273.5h7.89M264.1 274.5h7.89M264.1 278.5h7.89M264.1 285.5h7.89M264.1 293.5h7.89M271.97 201.5h7.89M271.97 202.5h7.89M271.97 222.5h7.89M271.97 228.5h7.89M271.97 240.5h7.89M271.97 273.5h7.89M271.97 290.5h7.89M271.97 311.5h7.89M279.83 229.5h7.89M279.83 245.5h7.89M279.83 257.5h7.89M279.83 307.5h7.89M177.6 339.5h7.89M177.6 345.5h7.89M177.6 346.5h7.89M185.46 373.5h7.89M193.33 369.5h7.89M193.33 389.5h7.89M201.19 363.5h7.89M201.19 369.5h7.89M201.19 400.5h7.89M216.92 387.5h7.89M224.78 363.5h7.89M224.78 364.5h7.89M224.78 367.5h7.89M232.65 329.5h7.89M232.65 358.5h7.89M240.51 349.5h7.89M240.51 368.5h7.89M248.38 380.5h7.89M256.24 369.5h7.89M264.1 341.5h7.89M264.1 342.5h7.89M264.1 364.5h7.89M264.1 371.5h7.89M264.1 386.5h7.89M264.1 407.5h7.89M264.1 410.5h7.89M271.97 363.5h7.89M271.97 366.5h7.89M271.97 372.5h7.89M271.97 387.5h7.89M271.97 415.5h7.89M279.83 335.5h7.89M279.83 337.5h7.89"/>
<path stroke="#ffffff" stroke-width="1" d="M177.6 228.5h7.89M177.6 264.5h7.89M177.6 305.5h7.89M177.6 312.5h7.89M177.6 318.5h7.89M185.46 200.5h7.89M185.46 238.5h7.89M185.46 264.5h7.89M185.46 276.5h7.89M185.46 321.5h7.89M185.46 324.5h7.89M193.33 218.5h7.89M193.33 227.5h7.89M193.33 242.5h7.89M193.33 244.5h7.89M193.33 271.5h7.89M193.33 283.5h7.89M193.33 285.5h7.89M193.33 289.5h7.89M193.33 292.5h7.89M193.33 316.5h7.89M193.33 324.5h7.89M201.19 260.5h7.89M201.19 307.5h7.89M201.19 309.5h7.89M201.19 316.5h7.89M201.19 323.5h7.89M209.06 206.5h7.89M209.06 221.5h7.89M209.06 233.5h7.89M209.06 235.5h7.89M209.06 249.5h7.89M209.06 261.5h7.89M209.06 276.5h7.89M209.06 284.5h7.89M209.06 316.5h7.89M209.06 324.5h7.89M216.92 264.5h7.89M216.92 267.5h7.89M216.92 288.5h7.89M224.78 198.5h7.89M224.78 213.5h7.89M224.78 238.5h7.89M224.78 240.5h7.89M224.78 244.5h7.89M224.78 282.5h7.89M224.78 315.5h7.89M232.65 267.5h7.89M240.51 201.5h7.89M240.51 212.5h7.89M240.51 226.5h7.89M240.51 250.5h7.89M240.51 256.5h7.89M240.51 285.5h7.89M240.51 303.5h7.89M240.51 304.5h7.89M240.51 307.5h7.89M240.51 309.5h7.89M240.51 316.5h7.89M248.38 200.5h7.89M248.38 205.5h7.89M248.38 206.5h7.89M248.38 220.5h7.89M248.38 224.5h7.89M248.38 265.5h7.89M248.38 294.5h7.89M248.38 303.5h7.89M248.38 311.5h7.89M256.24 224.5h7.89M256.24 225.5h7.89M256.24 228.5h7.89M256.24 252.5h7.89M256.24 254.5h7.89M256.24 258.5h7.89M256.24 261.5h7.89M256.24 263.5h7.89M256.24 285.5h7.89M256.24 308.5h7.89M256.24 313.5h7.89M264.1 203.5h7.89M264.1 296.5h7.89M264.1 321.5h7.89M271.97 207.5h7.89M279.83 201.5h7.89M279.83 271.5h7.89M279.83 295.5h7.89M177.6 334.5h7.89M177.6 386.5h7.89M177.6 394.5h7.89M177.6 405.5h7.89M185.46 337.5h7.89M185.46 345.5h7.89M185.46 368.5h7.89M185.46 369.5h7.89M185.46 419.5h7.89M193.33 348.5h7.89M193.33 356.5h7.89M193.33 366.5h7.89M193.33 403.5h7.89M193.33 404.5h7.89M201.19 366.5h7.89M201.19 371.5h7.89M201.19 382.5h7.89M201.19 392.5h7.89M201.19 394.5h7.89M201.19 396.5h7.89M209.06 329.5h7.89M209.06 350.5h7.89M209.06 351.5h7.89M209.06 399.5h7.89M209.06 406.5h7.89M216.92 330.5h7.89M216.92 343.5h7.89M216.92 383.5h7.89M216.92 384.5h7.89M216.92 393.5h7.89M216.92 398.5h7.89M216.92 407.5h7.89M224.78 346.5h7.89M224.78 351.5h7.89M224.78 390.5h7.89M224.78 406.5h7.89M224.78 414.5h7.89M232.65 403.5h7.89M240.51 335.5h7.89M240.51 347.5h7.89M240.51 351.5h7.89M240.51 353.5h7.89M240.51 362.5h7.89M240.51 411.5h7.89M248.38 358.5h7.89M248.38 394.5h7.89M256.24 383.5h7.89M264.1 346.5h7.89M264.1 348.5h7.89M264.1 359.5h7.89M264.1 382.5h7.89M264.1 384.5h7.89M264.1 396.5h7.89M264.1 405.5h7.89M271.97 352.5h7.89M271.97 388.5h7.89M271.97 396.5h7.89M279.83 358.5h7.89M279.83 366.5h7.89M279.83 367.5h7.89M279.83 385.5h7.89M279.83 386.5h7.89M279.83 387.5h7.89M279.83 392.5h7.89M279.83 405.5h7.89M279.83 410.5h7.89"/>
<path stroke="#fef6f6" stroke-width="1" d="M177.6 236.5h7.89M177.6 250.5h7.89M177.6 287.5h7.89M177.6 323.5h7.89M185.46 206.5h7.89M185.46 275.5h7.89M185.46 292.5h7.89M185.46 315.5h7.89M193.33 216.5h7.89M193.33 232.5h7.89M193.33 243.5h7.89M193.33 258.5h7.89M193.33 268.5h7.89M193.33 281.5h7.89M193.33 290.5h7.89M193.33 298.5h7.89M193.33 302.5h7.89M201.19 208.5h7.89M201.19 252.5h7.89M201.19 253.5h7.89M201.19 268.5h7.89M201.19 291.5h7.89M201.19 296.5h7.89M201.19 317.5h7.89M201.19 321.5h7.89M209.06 217.5h7.89M209.06 257.5h7.89M209.06 279.5h7.89M209.06 322.5h7.89M216.92 246.5h7.89M216.92 258.5h7.89M216.92 272.5h7.89M216.92 308.5h7.89M216.92 322.5h7.89M224.78 214.5h7.89M224.78 236.5h7.89M224.78 269.5h7.89M224.78 277.5h7.89M224.78 290.5h7.89M224.78 309.5h7.89M224.78 318.5h7.89M232.65 211.5h7.89M240.51 203.5h7.89M240.51 210.5h7.89M240.51 229.5h7.89M240.51 234.5h7.89M240.51 249.5h7.89M240.51 261.5h7.89M240.51 280.5h7.89M240.51 286.5h7.89M240.51 291.5h7.89M240.51 320.5h7.89M248.38 223.5h7.89M248.38 226.5h7.89M248.38 256.5h7.89M248.38 257.5h7.89M248.38 258.5h7.89M248.38 280.5h7.89M248.38 286.5h7.89M248.38 296.5h7.89M248.38 308.5h7.89M248.38 309.5h7.89M248.38 322.5h7.89M256.24 209.5h7.89M256.24 217.5h7.89M256.24 233.5h7.89M256.24 271.5h7.89M256.24 280.5h7.89M256.24 307.5h7.89M256.24 319.5h7.89M264.1 204.5h7.89M264.1 287.5h7.89M264.1 309.5h7.89M271.97 292.5h7.89M271.97 296.5h7.89M279.83 275.5h7.89M177.6 356.5h7.89M177.6 357.5h7.89M177.6 359.5h7.89M177.6 367.5h7.89M177.6 390.5h7.89M185.46 334.5h7.89M185.46 335.5h7.89M185.46 355.5h7.89M185.46 363.5h7.89M185.46 387.5h7.89M185.46 398.5h7.89M193.33 346.5h7.89M193.33 357.5h7.89M193.33 361.5h7.89M193.33 367.5h7.89M193.33 379.5h7.89M193.33 380.5h7.89M193.33 397.5h7.89M193.33 399.5h7.89M193.33 407.5h7.89M201.19 331.5h7.89M201.19 332.5h7.89M201.19 334.5h7.89M201.19 350.5h7.89M201.19 356.5h7.89M201.19 367.5h7.89M201.19 373.5h7.89M201.19 381.5h7.89M201.19 397.5h7.89M201.19 398.5h7.89M209.06 340.5h7.89M209.06 368.5h7.89M209.06 398.5h7.89M209.06 401.5h7.89M216.92 348.5h7.89M216.92 360.5h7.89M216.92 362.5h7.89M224.78 333.5h7.89M224.78 337.5h7.89M224.78 359.5h7.89M224.78 377.5h7.89M224.78 378.5h7.89M224.78 419.5h7.89M232.65 335.5h7.89M232.65 340.5h7.89M232.65 407.5h7.89M232.65 408.5h7.89M240.51 337.5h7.89M240.51 364.5h7.89M240.51 387.5h7.89M240.51 397.5h7.89M240.51 404.5h7.89M240.51 416.5h7.89M240.51 417.5h7.89M248.38 330.5h7.89M248.38 352.5h7.89M248.38 377.5h7.89M248.38 393.5h7.89M248.38 397.5h7.89M248.38 398.5h7.89M256.24 334.5h7.89M256.24 365.5h7.89M256.24 386.5h7.89M256.24 409.5h7.89M264.1 350.5h7.89M264.1 355.5h7.89M264.1 388.5h7.89M264.1 404.5h7.89M271.97 334.5h7.89M271.97 409.5h7.89M279.83 332.5h7.89M279.83 349.5h7.89M279.83 380.5h7.89M279.83 401.5h7.89M279.83 403.5h7.89M279.83 414.5h7.89"/>
<path stroke="#dee2f0" stroke-width="1" d="M177.6 244.5h7.89M177.6 245.5h7.89M177.6 246.5h7.89M177.6 253.5h7.89M185.46 207.5h7.89M185.46 226.5h7.89M185.46 240.5h7.89M185.46 295.5h7.89M193.33 204.5h7.89M193.33 259.5h7.89M193.33 263.5h7.89M193.33 277.5h7.89M193.33 279.5h7.89M193.33 291.5h7.89M193.33 297.5h7.89M193.33 301.5h7.89M193.33 317.5h7.89M201.19 259.5h7.89M209.06 216.5h7.89M209.06 219.5h7.89M209.06 245.5h7.89M209.06 273.5h7.89M209.06 317.5h7.89M216.92 202.5h7.89M216.92 205.5h7.89M216.92 286.5h7.89M216.92 287.5h7.89M216.92 295.5h7.89M216.92 311.5h7.89M216.92 317.5h7.89M224.78 199.5h7.89M224.78 228.5h7.89M224.78 263.5h7.89M224.78 271.5h7.89M224.78 310.5h7.89M224.78 321.5h7.89M232.65 207.5h7.89M240.51 206.5h7.89M240.51 233.5h7.89M240.51 235.5h7.89M240.51 238.5h7.89M240.51 241.5h7.89M240.51 267.5h7.89M240.51 270.5h7.89M240.51 288.5h7.89M240.51 310.5h7.89M240.51 315.5h7.89M240.51 321.5h7.89M240.51 324.5h7.89M256.24 211.5h7.89M256.24 215.5h7.89M256.24 221.5h7.89M256.24 232.5h7.89M256.24 248.5h7.89M256.24 250.5h7.89M256.24 257.5h7.89M256.24 266.5h7.89M264.1 211.5h7.89M264.1 228.5h7.89M264.1 272.5h7.89M264.1 277.5h7.89M264.1 290.5h7.89M264.1 318.5h7.89M264.1 323.5h7.89M271.97 223.5h7.89M279.83 206.5h7.89M279.83 216.5h7.89M279.83 227.5h7.89M279.83 293.5h7.89M279.83 311.5h7.89M279.83 316.5h7.89M177.6 373.5h7.89M177.6 388.5h7.89M185.46 330.5h7.89M185.46 332.5h7.89M185.46 350.5h7.89M185.46 352.5h7.89M185.46 362.5h7.89M185.46 393.5h7.89M193.33 358.5h7.89M193.33 363.5h7.89M193.33 373.5h7.89M193.33 387.5h7.89M193.33 390.5h7.89M193.33 393.5h7.89M201.19 375.5h7.89M201.19 380.5h7.89M201.19 389.5h7.89M201.19 414.5h7.89M201.19 418.5h7.89M209.06 355.5h7.89M209.06 387.5h7.89M209.06 389.5h7.89M209.06 408.5h7.89M216.92 341.5h7.89M216.92 344.5h7.89M216.92 346.5h7.89M216.92 373.5h7.89M216.92 374.5h7.89M216.92 394.5h7.89M224.78 335.5h7.89M224.78 343.5h7.89M224.78 365.5h7.89M224.78 391.5h7.89M224.78 405.5h7.89M232.65 331.5h7.89M232.65 359.5h7.89M232.65 361.5h7.89M240.51 329.5h7.89M240.51 331.5h7.89M240.51 332.5h7.89M240.51 348.5h7.89M240.51 367.5h7.89M240.51 389.5h7.89M240.51 390.5h7.89M240.51 395.5h7.89M240.51 396.5h7.89M240.51 400.5h7.89M240.51 407.5h7.89M240.51 410.5h7.89M240.51 412.5h7.89M240.51 414.5h7.89M248.38 384.5h7.89M256.24 354.5h7.89M256.24 372.5h7.89M256.24 378.5h7.89M256.24 387.5h7.89M256.24 405.5h7.89M264.1 333.5h7.89M264.1 360.5h7.89M264.1 378.5h7.89M264.1 383.5h7.89M271.97 356.5h7.89M271.97 360.5h7.89M271.97 393.5h7.89M271.97 394.5h7.89M271.97 406.5h7.89M279.83 336.5h7.89M279.83 377.5h7.89M279.83 393.5h7.89M279.83 394.5h7.89M279.83 398.5h7.89M279.83 400.5h7.89M279.83 411.5h7.89M279.83 418.5h7.89"/>
<path stroke="#e6e9f4" stroke-width="1" d="M177.6 251.5h7.89M177.6 269.5h7.89M177.6 281.5h7.89M177.6 297.5h7.89M185.46 204.5h7.89M185.46 224.5h7.89M185.46 298.5h7.89M193.33 199.5h7.89M193.33 225.5h7.89M193.33 236.5h7.89M193.33 251.5h7.89M193.33 266.5h7.89M193.33 273.5h7.89M193.33 287.5h7.89M193.33 288.5h7.89M193.33 293.5h7.89M201.19 228.5h7.89M201.19 254.5h7.89M201.19 257.5h7.89M201.19 266.5h7.89M201.19 287.5h7.89M209.06 264.5h7.89M209.06 311.5h7.89M209.06 313.5h7.89M216.92 197.5h7.89M216.92 227.5h7.89M216.92 263.5h7.89M216.92 274.5h7.89M224.78 201.5h7.89M224.78 215.5h7.89M224.78 227.5h7.89M224.78 252.5h7.89M224.78 274.5h7.89M224.78 323.5h7.89M232.65 208.5h7.89M240.51 208.5h7.89M240.51 215.5h7.89M240.51 217.5h7.89M240.51 227.5h7.89M240.51 246.5h7.89M240.51 248.5h7.89M240.51 263.5h7.89M240.51 264.5h7.89M240.51 268.5h7.89M240.51 274.5h7.89M240.51 283.5h7.89M240.51 323.5h7.89M248.38 197.5h7.89M248.38 199.5h7.89M248.38 219.5h7.89M248.38 242.5h7.89M248.38 270.5h7.89M248.38 292.5h7.89M248.38 298.5h7.89M248.38 302.5h7.89M248.38 318.5h7.89M256.24 200.5h7.89M256.24 213.5h7.89M256.24 262.5h7.89M256.24 297.5h7.89M256.24 298.5h7.89M256.24 301.5h7.89M256.24 318.5h7.89M264.1 262.5h7.89M264.1 280.5h7.89M264.1 307.5h7.89M264.1 310.5h7.89M271.97 294.5h7.89M271.97 303.5h7.89M279.83 205.5h7.89M279.83 207.5h7.89M279.83 208.5h7.89M279.83 268.5h7.89M177.6 333.5h7.89M177.6 349.5h7.89M185.46 333.5h7.89M185.46 372.5h7.89M185.46 374.5h7.89M185.46 375.5h7.89M185.46 384.5h7.89M185.46 399.5h7.89M185.46 410.5h7.89M185.46 414.5h7.89M193.33 340.5h7.89M193.33 360.5h7.89M201.19 383.5h7.89M201.19 384.5h7.89M201.19 388.5h7.89M209.06 357.5h7.89M216.92 329.5h7.89M216.92 332.5h7.89M216.92 345.5h7.89M216.92 369.5h7.89M224.78 347.5h7.89M224.78 360.5h7.89M224.78 389.5h7.89M224.78 402.5h7.89M224.78 415.5h7.89M232.65 333.5h7.89M232.65 398.5h7.89M240.51 330.5h7.89M240.51 333.5h7.89M240.51 363.5h7.89M240.51 366.5h7.89M240.51 376.5h7.89M240.51 394.5h7.89M240.51 413.5h7.89M240.51 418.5h7.89M248.38 350.5h7.89M248.38 365.5h7.89M248.38 374.5h7.89M248.38 390.5h7.89M256.24 339.5h7.89M256.24 362.5h7.89M256.24 364.5h7.89M256.24 408.5h7.89M256.24 413.5h7.89M264.1 329.5h7.89M264.1 347.5h7.89M264.1 370.5h7.89M264.1 374.5h7.89M264.1 385.5h7.89M264.1 397.5h7.89M264.1 418.5h7.89M271.97 354.5h7.89M271.97 373.5h7.89M271.97 378.5h7.89M271.97 405.5h7.89M271.97 410.5h7.89M271.97 418.5h7.89M279.83 391.5h7.89M279.83 409.5h7.89"/>
<path stroke="#c6cde6" stroke-width="1" d="M177.6 260.5h7.89M177.6 267.5h7.89M193.33 202.5h7.89M193.33 318.5h7.89M201.19 227.5h7.89M201.19 324.5h7.89M209.06 277.5h7.89M209.06 291.5h7.89M209.06 299.5h7.89M216.92 253.5h7.89M216.92 266.5h7.89M216.92 276.5h7.89M216.92 278.5h7.89M224.78 197.5h7.89M224.78 216.5h7.89M240.51 197.5h7.89M240.51 198.5h7.89M240.51 204.5h7.89M240.51 223.5h7.89M240.51 224.5h7.89M240.51 237.5h7.89M240.51 265.5h7.89M240.51 266.5h7.89M248.38 261.5h7.89M248.38 267.5h7.89M248.38 269.5h7.89M248.38 316.5h7.89M256.24 220.5h7.89M256.24 256.5h7.89M256.24 267.5h7.89M256.24 269.5h7.89M264.1 215.5h7.89M264.1 217.5h7.89M264.1 267.5h7.89M264.1 291.5h7.89M271.97 204.5h7.89M271.97 291.5h7.89M271.97 309.5h7.89M279.83 308.5h7.89M177.6 361.5h7.89M177.6 369.5h7.89M177.6 372.5h7.89M177.6 392.5h7.89M185.46 371.5h7.89M185.46 395.5h7.89M193.33 371.5h7.89M193.33 396.5h7.89M201.19 377.5h7.89M201.19 416.5h7.89M201.19 419.5h7.89M209.06 383.5h7.89M209.06 385.5h7.89M209.06 388.5h7.89M216.92 333.5h7.89M216.92 342.5h7.89M240.51 354.5h7.89M240.51 365.5h7.89M240.51 370.5h7.89M240.51 392.5h7.89M240.51 401.5h7.89M240.51 403.5h7.89M248.38 385.5h7.89M256.24 389.5h7.89M256.24 390.5h7.89M264.1 353.5h7.89M264.1 375.5h7.89M264.1 417.5h7.89M264.1 419.5h7.89M271.97 345.5h7.89M271.97 362.5h7.89M271.97 368.5h7.89M271.97 375.5h7.89M271.97 383.5h7.89M271.97 386.5h7.89M271.97 412.5h7.89M279.83 357.5h7.89M279.83 360.5h7.89M279.83 364.5h7.89M279.83 376.5h7.89M279.83 383.5h7.89M279.83 415.5h7.89"/>
<path stroke="#f7f8fb" stroke-width="1" d="M177.6 265.5h7.89M177.6 270.5h7.89M177.6 291.5h7.89M177.6 301.5h7.89M177.6 316.5h7.89M185.46 233.5h7.89M185.46 237.5h7.89M185.46 241.5h7.89M185.46 245.5h7.89M185.46 254.5h7.89M185.46 267.5h7.89M185.46 278.5h7.89M185.46 297.5h7.89M185.46 310.5h7.89M185.46 316.5h7.89M193.33 233.5h7.89M193.33 240.5h7.89M193.33 241.5h7.89M193.33 272.5h7.89M201.19 221.5h7.89M201.19 226.5h7.89M201.19 247.5h7.89M201.19 263.5h7.89M201.19 286.5h7.89M201.19 305.5h7.89M209.06 222.5h7.89M209.06 227.5h7.89M209.06 238.5h7.89M209.06 239.5h7.89M209.06 254.5h7.89M209.06 270.5h7.89M209.06 274.5h7.89M209.06 285.5h7.89M209.06 287.5h7.89M209.06 309.5h7.89M209.06 310.5h7.89M216.92 208.5h7.89M216.92 217.5h7.89M216.92 236.5h7.89M216.92 271.5h7.89M216.92 282.5h7.89M216.92 289.5h7.89M216.92 296.5h7.89M216.92 309.5h7.89M216.92 323.5h7.89M224.78 239.5h7.89M224.78 255.5h7.89M224.78 278.5h7.89M240.51 218.5h7.89M240.51 221.5h7.89M240.51 225.5h7.89M240.51 230.5h7.89M240.51 255.5h7.89M240.51 258.5h7.89M240.51 259.5h7.89M240.51 271.5h7.89M240.51 284.5h7.89M240.51 290.5h7.89M240.51 298.5h7.89M240.51 319.5h7.89M248.38 202.5h7.89M248.38 222.5h7.89M248.38 225.5h7.89M248.38 264.5h7.89M248.38 266.5h7.89M248.38 272.5h7.89M248.38 281.5h7.89M248.38 285.5h7.89M248.38 310.5h7.89M248.38 317.5h7.89M256.24 197.5h7.89M256.24 216.5h7.89M256.24 219.5h7.89M256.24 240.5h7.89M256.24 253.5h7.89M256.24 255.5h7.89M256.24 264.5h7.89M256.24 296.5h7.89M256.24 312.5h7.89M256.24 322.5h7.89M264.1 202.5h7.89M264.1 210.5h7.89M264.1 268.5h7.89M264.1 297.5h7.89M264.1 324.5h7.89M271.97 276.5h7.89M271.97 293.5h7.89M279.83 277.5h7.89M279.83 322.5h7.89M279.83 323.5h7.89M177.6 329.5h7.89M177.6 350.5h7.89M177.6 355.5h7.89M177.6 374.5h7.89M177.6 382.5h7.89M177.6 407.5h7.89M185.46 329.5h7.89M185.46 336.5h7.89M185.46 339.5h7.89M185.46 370.5h7.89M185.46 376.5h7.89M185.46 400.5h7.89M185.46 407.5h7.89M193.33 354.5h7.89M201.19 333.5h7.89M201.19 352.5h7.89M201.19 370.5h7.89M201.19 374.5h7.89M201.19 376.5h7.89M201.19 385.5h7.89M201.19 393.5h7.89M201.19 395.5h7.89M201.19 405.5h7.89M209.06 363.5h7.89M209.06 370.5h7.89M209.06 396.5h7.89M216.92 354.5h7.89M216.92 409.5h7.89M224.78 355.5h7.89M224.78 382.5h7.89M224.78 393.5h7.89M224.78 407.5h7.89M224.78 418.5h7.89M232.65 402.5h7.89M240.51 352.5h7.89M240.51 357.5h7.89M240.51 379.5h7.89M240.51 380.5h7.89M240.51 398.5h7.89M240.51 399.5h7.89M240.51 409.5h7.89M248.38 329.5h7.89M248.38 367.5h7.89M248.38 368.5h7.89M256.24 357.5h7.89M256.24 367.5h7.89M256.24 384.5h7.89M256.24 412.5h7.89M264.1 332.5h7.89M264.1 336.5h7.89M264.1 337.5h7.89M264.1 369.5h7.89M264.1 380.5h7.89M271.97 336.5h7.89M271.97 374.5h7.89M271.97 376.5h7.89M279.83 404.5h7.89M279.83 413.5h7.89"/>
<path stroke="#9da8d4" stroke-width="1" d="M177.6 273.5h7.89M177.6 295.5h7.89M185.46 197.5h7.89M209.06 197.5h7.89M224.78 226.5h7.89M224.78 291.5h7.89M248.38 203.5h7.89M248.38 320.5h7.89M264.1 232.5h7.89M264.1 235.5h7.89M264.1 236.5h7.89M264.1 255.5h7.89M264.1 258.5h7.89M264.1 271.5h7.89M264.1 320.5h7.89M271.97 199.5h7.89M271.97 219.5h7.89M271.97 226.5h7.89M271.97 236.5h7.89M271.97 239.5h7.89M271.97 269.5h7.89M271.97 279.5h7.89M271.97 286.5h7.89M279.83 223.5h7.89M279.83 230.5h7.89M279.83 244.5h7.89M279.83 302.5h7.89M279.83 319.5h7.89M177.6 342.5h7.89M177.6 343.5h7.89M177.6 344.5h7.89M177.6 370.5h7.89M185.46 392.5h7.89M201.19 358.5h7.89M201.19 402.5h7.89M224.78 354.5h7.89M224.78 374.5h7.89M224.78 404.5h7.89M232.65 355.5h7.89M232.65 356.5h7.89M232.65 387.5h7.89M240.51 369.5h7.89M240.51 373.5h7.89M264.1 338.5h7.89M264.1 376.5h7.89M264.1 409.5h7.89M264.1 412.5h7.89M271.97 341.5h7.89M271.97 351.5h7.89M271.97 365.5h7.89M271.97 367.5h7.89M271.97 389.5h7.89"/>
<path stroke="#7c8cc5" stroke-width="1" d="M177.6 277.5h7.89M232.65 221.5h7.89M232.65 308.5h7.89M264.1 214.5h7.89M264.1 259.5h7.89M264.1 264.5h7.89M271.97 215.5h7.89M271.97 218.5h7.89M271.97 220.5h7.89M271.97 242.5h7.89M271.97 245.5h7.89M271.97 300.5h7.89M271.97 314.5h7.89M271.97 315.5h7.89M271.97 321.5h7.89M279.83 212.5h7.89M279.83 255.5h7.89M279.83 256.5h7.89M177.6 335.5h7.89M185.46 409.5h7.89M232.65 354.5h7.89M232.65 362.5h7.89M232.65 367.5h7.89M232.65 406.5h7.89M264.1 367.5h7.89M264.1 377.5h7.89M271.97 346.5h7.89M271.97 349.5h7.89M271.97 364.5h7.89M271.97 416.5h7.89M279.83 339.5h7.89"/>
<path stroke="#7484c1" stroke-width="1" d="M177.6 278.5h7.89M232.65 199.5h7.89M232.65 200.5h7.89M232.65 263.5h7.89M264.1 213.5h7.89M264.1 229.5h7.89M264.1 251.5h7.89M264.1 253.5h7.89M271.97 217.5h7.89M271.97 232.5h7.89M271.97 299.5h7.89M271.97 322.5h7.89M279.83 235.5h7.89M279.83 248.5h7.89M279.83 251.5h7.89M279.83 267.5h7.89M216.92 366.5h7.89M232.65 366.5h7.89M271.97 329.5h7.89M271.97 331.5h7.89M271.97 402.5h7.89M279.83 399.5h7.89"/>
<path stroke="#bec5e2" stroke-width="1" d="M177.6 298.5h7.89M177.6 322.5h7.89M185.46 216.5h7.89M201.19 205.5h7.89M209.06 256.5h7.89M209.06 262.5h7.89M216.92 270.5h7.89M216.92 277.5h7.89M224.78 208.5h7.89M224.78 224.5h7.89M224.78 225.5h7.89M224.78 233.5h7.89M224.78 266.5h7.89M224.78 311.5h7.89M232.65 277.5h7.89M240.51 245.5h7.89M240.51 317.5h7.89M248.38 262.5h7.89M256.24 249.5h7.89M256.24 300.5h7.89M264.1 198.5h7.89M264.1 199.5h7.89M264.1 227.5h7.89M264.1 240.5h7.89M264.1 269.5h7.89M264.1 286.5h7.89M264.1 312.5h7.89M271.97 197.5h7.89M271.97 210.5h7.89M271.97 224.5h7.89M271.97 227.5h7.89M271.97 270.5h7.89M271.97 272.5h7.89M271.97 288.5h7.89M271.97 298.5h7.89M271.97 316.5h7.89M279.83 215.5h7.89M279.83 228.5h7.89M279.83 247.5h7.89M279.83 269.5h7.89M279.83 286.5h7.89M279.83 314.5h7.89M185.46 415.5h7.89M193.33 370.5h7.89M193.33 394.5h7.89M201.19 368.5h7.89M201.19 415.5h7.89M209.06 366.5h7.89M209.06 390.5h7.89M209.06 391.5h7.89M216.92 408.5h7.89M216.92 418.5h7.89M224.78 386.5h7.89M224.78 403.5h7.89M240.51 388.5h7.89M240.51 393.5h7.89M248.38 408.5h7.89M256.24 366.5h7.89M256.24 368.5h7.89M264.1 351.5h7.89M264.1 372.5h7.89M264.1 387.5h7.89M264.1 414.5h7.89M271.97 371.5h7.89M271.97 385.5h7.89M271.97 398.5h7.89M271.97 411.5h7.89M279.83 342.5h7.89M279.83 395.5h7.89M279.83 396.5h7.89M279.83 416.5h7.89"/>
<path stroke="#f1777a" stroke-width="1" d="M177.6 320.5h7.89M185.46 211.5h7.89M193.33 211.5h7.89M201.19 275.5h7.89M216.92 242.5h7.89M232.65 237.5h7.89M216.92 377.5h7.89M232.65 336.5h7.89M232.65 348.5h7.89M232.65 370.5h7.89M232.65 375.5h7.89M232.65 381.5h7.89M232.65 417.5h7.89M248.38 333.5h7.89M248.38 335.5h7.89M248.38 336.5h7.89M248.38 346.5h7.89M248.38 405.5h7.89M248.38 410.5h7.89M256.24 342.5h7.89M256.24 393.5h7.89M256.24 397.5h7.89M271.97 392.5h7.89"/>
<path stroke="#f3898c" stroke-width="1" d="M185.46 209.5h7.89M185.46 248.5h7.89M185.46 257.5h7.89M193.33 254.5h7.89M201.19 299.5h7.89M201.19 300.5h7.89M216.92 229.5h7.89M232.65 225.5h7.89M232.65 228.5h7.89M232.65 229.5h7.89M232.65 253.5h7.89M232.65 273.5h7.89M232.65 293.5h7.89M232.65 321.5h7.89M256.24 275.5h7.89M177.6 402.5h7.89M185.46 408.5h7.89M193.33 330.5h7.89M193.33 331.5h7.89M193.33 383.5h7.89M193.33 414.5h7.89M232.65 330.5h7.89M232.65 412.5h7.89M248.38 347.5h7.89M256.24 341.5h7.89M256.24 395.5h7.89"/>
<path stroke="#f49c9d" stroke-width="1" d="M185.46 212.5h7.89M185.46 249.5h7.89M185.46 258.5h7.89M185.46 282.5h7.89M185.46 304.5h7.89M185.46 307.5h7.89M193.33 248.5h7.89M193.33 257.5h7.89M193.33 313.5h7.89M193.33 320.5h7.89M201.19 210.5h7.89M209.06 214.5h7.89M209.06 251.5h7.89M209.06 302.5h7.89M216.92 231.5h7.89M216.92 234.5h7.89M216.92 235.5h7.89M224.78 230.5h7.89M224.78 261.5h7.89M232.65 214.5h7.89M232.65 266.5h7.89M248.38 251.5h7.89M256.24 293.5h7.89M264.1 315.5h7.89M279.83 204.5h7.89M177.6 403.5h7.89M177.6 413.5h7.89M193.33 334.5h7.89M193.33 416.5h7.89M201.19 407.5h7.89M216.92 379.5h7.89M216.92 386.5h7.89M216.92 401.5h7.89M216.92 416.5h7.89M216.92 417.5h7.89M224.78 339.5h7.89M224.78 340.5h7.89M232.65 384.5h7.89M240.51 361.5h7.89M248.38 381.5h7.89M256.24 348.5h7.89M256.24 350.5h7.89M256.24 396.5h7.89M279.83 373.5h7.89"/>
<path stroke="#8493c9" stroke-width="1" d="M185.46 218.5h7.89M216.92 209.5h7.89M232.65 224.5h7.89M264.1 250.5h7.89M264.1 252.5h7.89M271.97 212.5h7.89M271.97 216.5h7.89M271.97 241.5h7.89M271.97 285.5h7.89M271.97 302.5h7.89M271.97 306.5h7.89M279.83 252.5h7.89M279.83 261.5h7.89M279.83 262.5h7.89M279.83 297.5h7.89M279.83 303.5h7.89M177.6 336.5h7.89M232.65 353.5h7.89M232.65 363.5h7.89M232.65 395.5h7.89M264.1 362.5h7.89M271.97 357.5h7.89M271.97 380.5h7.89M271.97 391.5h7.89"/>
<path stroke="#95a1d0" stroke-width="1" d="M193.33 201.5h7.89M232.65 217.5h7.89M232.65 302.5h7.89M256.24 317.5h7.89M264.1 219.5h7.89M264.1 220.5h7.89M264.1 233.5h7.89M264.1 238.5h7.89M264.1 260.5h7.89M264.1 284.5h7.89M264.1 304.5h7.89M264.1 319.5h7.89M271.97 244.5h7.89M271.97 280.5h7.89M271.97 318.5h7.89M279.83 209.5h7.89M279.83 214.5h7.89M279.83 218.5h7.89M279.83 220.5h7.89M279.83 225.5h7.89M279.83 236.5h7.89M279.83 240.5h7.89M279.83 242.5h7.89M279.83 243.5h7.89M279.83 260.5h7.89M279.83 284.5h7.89M279.83 306.5h7.89M177.6 340.5h7.89M177.6 371.5h7.89M177.6 416.5h7.89M201.19 355.5h7.89M224.78 369.5h7.89M224.78 398.5h7.89M232.65 357.5h7.89M232.65 389.5h7.89M264.1 343.5h7.89M271.97 347.5h7.89M271.97 348.5h7.89M271.97 350.5h7.89M271.97 384.5h7.89M271.97 400.5h7.89M271.97 403.5h7.89M279.83 381.5h7.89M279.83 397.5h7.89"/>
<path stroke="#a5b0d7" stroke-width="1" d="M193.33 265.5h7.89M216.92 280.5h7.89M216.92 297.5h7.89M224.78 264.5h7.89M240.51 205.5h7.89M256.24 210.5h7.89M256.24 323.5h7.89M256.24 324.5h7.89M264.1 218.5h7.89M264.1 222.5h7.89M264.1 237.5h7.89M264.1 245.5h7.89M264.1 257.5h7.89M264.1 266.5h7.89M271.97 237.5h7.89M271.97 238.5h7.89M271.97 268.5h7.89M271.97 277.5h7.89M271.97 281.5h7.89M271.97 282.5h7.89M271.97 305.5h7.89M271.97 312.5h7.89M279.83 231.5h7.89M279.83 232.5h7.89M279.83 233.5h7.89M279.83 285.5h7.89M279.83 298.5h7.89M279.83 299.5h7.89M177.6 362.5h7.89M177.6 391.5h7.89M185.46 346.5h7.89M185.46 351.5h7.89M193.33 398.5h7.89M201.19 378.5h7.89M201.19 386.5h7.89M201.19 401.5h7.89M201.19 403.5h7.89M209.06 394.5h7.89M209.06 419.5h7.89M224.78 329.5h7.89M232.65 332.5h7.89M232.65 388.5h7.89M232.65 390.5h7.89M232.65 401.5h7.89M264.1 339.5h7.89M264.1 344.5h7.89M264.1 365.5h7.89M264.1 416.5h7.89M271.97 330.5h7.89M271.97 333.5h7.89M271.97 390.5h7.89M279.83 361.5h7.89"/>
<path stroke="#ef6568" stroke-width="1" d="M224.78 247.5h7.89M224.78 248.5h7.89M232.65 239.5h7.89M232.65 260.5h7.89M232.65 294.5h7.89M232.65 313.5h7.89M177.6 400.5h7.89M224.78 341.5h7.89M232.65 380.5h7.89M232.65 382.5h7.89M232.65 409.5h7.89M248.38 334.5h7.89M248.38 337.5h7.89M248.38 338.5h7.89M248.38 406.5h7.89"/>
<path stroke="#4b60af" stroke-width="1" d="M232.65 197.5h7.89M264.1 242.5h7.89M271.97 231.5h7.89M271.97 253.5h7.89M271.97 256.5h7.89M271.97 262.5h7.89M279.83 264.5h7.89M271.97 381.5h7.89M271.97 417.5h7.89"/>
<path stroke="#4359ac" stroke-width="1" d="M232.65 198.5h7.89M232.65 297.5h7.89M264.1 247.5h7.89M271.97 200.5h7.89M271.97 254.5h7.89M271.97 257.5h7.89M279.83 211.5h7.89"/>
<path stroke="#ed5356" stroke-width="1" d="M232.65 201.5h7.89M232.65 223.5h7.89M232.65 233.5h7.89M232.65 241.5h7.89M232.65 245.5h7.89M232.65 256.5h7.89M232.65 310.5h7.89M232.65 322.5h7.89M193.33 375.5h7.89M232.65 345.5h7.89M232.65 346.5h7.89M232.65 411.5h7.89M232.65 413.5h7.89M248.38 341.5h7.89M248.38 342.5h7.89M256.24 343.5h7.89M256.24 344.5h7.89M264.1 366.5h7.89"/>
<path stroke="#e8262a" stroke-width="1" d="M232.65 202.5h7.89M232.65 204.5h7.89M232.65 218.5h7.89M232.65 231.5h7.89M232.65 234.5h7.89M232.65 242.5h7.89M232.65 243.5h7.89M232.65 246.5h7.89M232.65 247.5h7.89M232.65 248.5h7.89M232.65 249.5h7.89M232.65 250.5h7.89M232.65 252.5h7.89M232.65 258.5h7.89M232.65 259.5h7.89M232.65 269.5h7.89M232.65 282.5h7.89M232.65 288.5h7.89M232.65 289.5h7.89M232.65 303.5h7.89M232.65 304.5h7.89M232.65 305.5h7.89M232.65 311.5h7.89M232.65 314.5h7.89M232.65 323.5h7.89M232.65 338.5h7.89M232.65 342.5h7.89M232.65 343.5h7.89M232.65 349.5h7.89M232.65 350.5h7.89M232.65 351.5h7.89M232.65 352.5h7.89M232.65 383.5h7.89"/>
<path stroke="#eb4145" stroke-width="1" d="M232.65 203.5h7.89M232.65 274.5h7.89M232.65 287.5h7.89M232.65 292.5h7.89M232.65 301.5h7.89M232.65 379.5h7.89M248.38 344.5h7.89M248.38 345.5h7.89"/>
<path stroke="#ea383c" stroke-width="1" d="M232.65 205.5h7.89M232.65 337.5h7.89M248.38 340.5h7.89M248.38 343.5h7.89M256.24 394.5h7.89"/>
<path stroke="#6c7dbe" stroke-width="1" d="M232.65 212.5h7.89M264.1 234.5h7.89M264.1 294.5h7.89M271.97 211.5h7.89M271.97 235.5h7.89M271.97 252.5h7.89M271.97 319.5h7.89M271.97 320.5h7.89M279.83 221.5h7.89M279.83 249.5h7.89M279.83 263.5h7.89M279.83 304.5h7.89M279.83 305.5h7.89M232.65 365.5h7.89M271.97 399.5h7.89"/>
<path stroke="#f06e71" stroke-width="1" d="M232.65 213.5h7.89M232.65 216.5h7.89M232.65 219.5h7.89M232.65 232.5h7.89M232.65 238.5h7.89M232.65 290.5h7.89M232.65 299.5h7.89M232.65 318.5h7.89M177.6 404.5h7.89M193.33 381.5h7.89M232.65 344.5h7.89M232.65 372.5h7.89M232.65 378.5h7.89"/>
<path stroke="#e92f33" stroke-width="1" d="M232.65 222.5h7.89M232.65 261.5h7.89M232.65 306.5h7.89M232.65 315.5h7.89M248.38 339.5h7.89"/>
<path stroke="#ec4a4e" stroke-width="1" d="M232.65 226.5h7.89M232.65 230.5h7.89M232.65 235.5h7.89M232.65 251.5h7.89M232.65 254.5h7.89M232.65 283.5h7.89M232.65 286.5h7.89M232.65 300.5h7.89M232.65 324.5h7.89M232.65 347.5h7.89M248.38 407.5h7.89"/>
<path stroke="#3b52a8" stroke-width="1" d="M232.65 227.5h7.89M232.65 264.5h7.89M232.65 284.5h7.89M232.65 291.5h7.89M264.1 300.5h7.89M271.97 248.5h7.89M271.97 249.5h7.89M271.97 250.5h7.89M271.97 251.5h7.89M271.97 259.5h7.89M271.97 260.5h7.89M271.97 261.5h7.89M271.97 263.5h7.89M271.97 266.5h7.89M271.97 313.5h7.89M279.83 210.5h7.89M232.65 391.5h7.89M232.65 392.5h7.89M232.65 393.5h7.89"/>
<path stroke="#6476ba" stroke-width="1" d="M232.65 309.5h7.89M271.97 213.5h7.89M271.97 230.5h7.89M271.97 255.5h7.89M271.97 258.5h7.89M271.97 284.5h7.89M279.83 222.5h7.89M279.83 259.5h7.89M279.83 265.5h7.89M279.83 338.5h7.89"/>
<path stroke="#5c6fb6" stroke-width="1" d="M264.1 241.5h7.89M264.1 243.5h7.89M264.1 249.5h7.89M271.97 234.5h7.89M271.97 247.5h7.89M271.97 264.5h7.89M271.97 267.5h7.89M271.97 323.5h7.89M279.83 258.5h7.89M279.83 266.5h7.89M279.83 300.5h7.89M279.83 301.5h7.89M232.65 396.5h7.89"/>
<path stroke="#5468b3" stroke-width="1" d="M264.1 248.5h7.89M264.1 254.5h7.89M264.1 256.5h7.89M271.97 214.5h7.89M271.97 243.5h7.89M271.97 265.5h7.89M279.83 213.5h7.89M279.83 253.5h7.89M279.83 254.5h7.89"/>
<rect x="194.61" y="190.29" width="5.3" height="0.21" fill="#7553aa"/>
<rect x="202.47" y="190" width="5.3" height="0.5" fill="#7553aa"/>
<rect x="210.34" y="190" width="5.3" height="0.5" fill="#7553aa"/>
<rect x="218.2" y="188.21" width="5.3" height="2.29" fill="#7553aa"/>
<rect x="226.07" y="187.92" width="5.3" height="2.58" fill="#7553aa"/>
<rect x="233.93" y="186.75" width="5.3" height="3.75" fill="#7553aa"/>
<rect x="241.79" y="183.84" width="5.3" height="6.66" fill="#7553aa"/>
<rect x="249.66" y="182.38" width="5.3" height="8.12" fill="#7553aa"/>
<rect x="257.52" y="180.3" width="5.3" height="10.2" fill="#7553aa"/>
<rect x="265.39" y="180.3" width="5.3" height="10.2" fill="#7553aa"/>
<rect x="273.25" y="174.18" width="5.3" height="16.32" fill="#7553aa"/>
<rect x="281.11" y="165.11" width="5.3" height="25.39" fill="#7553aa"/>
<line x1="175.5" y1="190.5" x2="288.8" y2="190.5" stroke="#333" stroke-width="0.7"/>
<line x1="248.5" y1="176" x2="248.5" y2="422.2" stroke="#111" stroke-width="0.9"/>
<line x1="289.2" y1="157.4" x2="289.2" y2="190.7" stroke="#9a9a9a" stroke-width="0.8"/>
<line x1="289.2" y1="190.7" x2="290.8" y2="190.7" stroke="#9a9a9a" stroke-width="0.7"/>
<text x="294.2" y="193" font-size="6.7" fill="#333">0</text>
<line x1="289.2" y1="182.37" x2="290.8" y2="182.37" stroke="#9a9a9a" stroke-width="0.7"/>
<text x="294.2" y="184.67" font-size="6.7" fill="#333">200</text>
<line x1="289.2" y1="174.04" x2="290.8" y2="174.04" stroke="#9a9a9a" stroke-width="0.7"/>
<text x="294.2" y="176.34" font-size="6.7" fill="#333">400</text>
<line x1="289.2" y1="165.71" x2="290.8" y2="165.71" stroke="#9a9a9a" stroke-width="0.7"/>
<text x="294.2" y="168.01" font-size="6.7" fill="#333">600</text>
<line x1="289.2" y1="157.38" x2="290.8" y2="157.38" stroke="#9a9a9a" stroke-width="0.7"/>
<text x="294.2" y="159.68" font-size="6.7" fill="#333">800</text>
<text transform="translate(312.4 172.5) rotate(90)" font-size="7.0" text-anchor="middle">(HIV DNA)</text>
<text transform="translate(321.4 171.7) rotate(90)" font-size="7.0" text-anchor="middle">EOT</text>
<text x="294.2" y="198.6" font-size="5.9">IL15</text>
<line x1="288.3" y1="200.5" x2="292.8" y2="197.2" stroke="#222" stroke-width="0.55"/>
<text x="294.2" y="205.1" font-size="5.9">IRF7</text>
<line x1="288.3" y1="204.5" x2="292.8" y2="203.7" stroke="#222" stroke-width="0.55"/>
<text x="294.2" y="210.8" font-size="5.9">BATF2</text>
<line x1="288.3" y1="208" x2="292.8" y2="208.2" stroke="#222" stroke-width="0.55"/>
<text x="294.2" y="216.9" font-size="5.9">GBP1</text>
<line x1="288.3" y1="214.9" x2="292.6" y2="214.9" stroke="#222" stroke-width="0.55"/>
<text x="294.2" y="222.9" font-size="5.9">CXCL10</text>
<line x1="288.3" y1="219.5" x2="292.8" y2="220.3" stroke="#222" stroke-width="0.55"/>
<text x="294.2" y="231" font-size="5.9">STAT1</text>
<line x1="288.3" y1="225.5" x2="292.8" y2="228.4" stroke="#222" stroke-width="0.55"/>
<text x="294.2" y="239.8" font-size="5.9">BACH1</text>
<line x1="288.3" y1="237.8" x2="292.6" y2="237.8" stroke="#222" stroke-width="0.55"/>
<text x="294.2" y="252.9" font-size="5.9">TRIM5</text>
<line x1="288.3" y1="253.5" x2="292.8" y2="251.5" stroke="#222" stroke-width="0.55"/>
<text x="294.2" y="260.8" font-size="5.9">CASP4</text>
<line x1="288.3" y1="256.5" x2="292.8" y2="258.2" stroke="#222" stroke-width="0.55"/>
<text x="294.2" y="266.6" font-size="5.9">BST2</text>
<line x1="288.3" y1="262" x2="292.8" y2="264" stroke="#222" stroke-width="0.55"/>
<text x="294.2" y="272.6" font-size="5.9">STAT2</text>
<line x1="288.3" y1="261" x2="292.8" y2="270" stroke="#222" stroke-width="0.55"/>
<text x="294.2" y="280.7" font-size="5.9">IFI35</text>
<line x1="288.3" y1="268" x2="292.8" y2="278.1" stroke="#222" stroke-width="0.55"/>
<text x="294.2" y="289.5" font-size="5.9">HLA–E</text>
<line x1="288.3" y1="287.5" x2="292.6" y2="287.5" stroke="#222" stroke-width="0.55"/>
<text x="294.2" y="295.5" font-size="5.9">B2M</text>
<line x1="288.3" y1="293.5" x2="292.6" y2="293.5" stroke="#222" stroke-width="0.55"/>
<text x="294.2" y="307.3" font-size="5.9">JAK2</text>
<line x1="288.3" y1="305.3" x2="292.6" y2="305.3" stroke="#222" stroke-width="0.55"/>
<text x="294.2" y="314.2" font-size="5.9">NFKBIZ</text>
<line x1="288.3" y1="311" x2="292.8" y2="311.6" stroke="#222" stroke-width="0.55"/>
<text x="294.2" y="322.3" font-size="5.9">IRF2</text>
<line x1="288.3" y1="320.3" x2="292.6" y2="320.3" stroke="#222" stroke-width="0.55"/>
<text x="294.2" y="331.6" font-size="5.9">ISG15</text>
<line x1="288.3" y1="329.6" x2="292.6" y2="329.6" stroke="#222" stroke-width="0.55"/>
<text x="294.2" y="340.8" font-size="5.9">IFIT3</text>
<line x1="288.3" y1="338.8" x2="292.6" y2="338.8" stroke="#222" stroke-width="0.55"/>
<text x="294.2" y="345.7" font-size="5.9">TNF</text>
<line x1="288.3" y1="341.5" x2="292.8" y2="343.1" stroke="#222" stroke-width="0.55"/>
<text x="294.2" y="351.3" font-size="5.9">IFI44</text>
<line x1="288.3" y1="340.5" x2="292.8" y2="348.7" stroke="#222" stroke-width="0.55"/>
<text x="294.2" y="358.8" font-size="5.9">IL15RA</text>
<line x1="288.3" y1="356.8" x2="292.6" y2="356.8" stroke="#222" stroke-width="0.55"/>
<text x="294.2" y="379.8" font-size="5.9">TRIM21</text>
<line x1="288.3" y1="377.8" x2="292.6" y2="377.8" stroke="#222" stroke-width="0.55"/>
<text x="294.2" y="390.5" font-size="5.9">IL12RB1</text>
<line x1="288.3" y1="388.5" x2="292.6" y2="388.5" stroke="#222" stroke-width="0.55"/>
<text x="294.2" y="396.7" font-size="5.9">IL18RAP</text>
<line x1="288.3" y1="390.5" x2="292.8" y2="394.1" stroke="#222" stroke-width="0.55"/>
<text x="294.2" y="407.9" font-size="5.9">TRIM22</text>
<line x1="288.3" y1="405.9" x2="292.6" y2="405.9" stroke="#222" stroke-width="0.55"/>
<text x="294.2" y="414.1" font-size="5.9">TRIM56</text>
<line x1="288.3" y1="412.1" x2="292.6" y2="412.1" stroke="#222" stroke-width="0.55"/>
<text x="213" y="428.6" font-size="7.33" text-anchor="middle">Group 1</text>
<text x="268.7" y="428.6" font-size="7.33" text-anchor="middle">Group 2</text>
<rect x="349.9" y="205.2" width="5.9" height="89.3" fill="url(#cb1)"/>
<rect x="349.9" y="306.4" width="5.9" height="89" fill="url(#cb2)"/>
<text x="358.4" y="212" font-size="6.5" fill="#333">3</text>
<text x="358.4" y="312.6" font-size="6.5" fill="#333">3</text>
<text x="358.4" y="225.48" font-size="6.5" fill="#333">2</text>
<text x="358.4" y="325.92" font-size="6.5" fill="#333">2</text>
<text x="358.4" y="238.96" font-size="6.5" fill="#333">1</text>
<text x="358.4" y="339.25" font-size="6.5" fill="#333">1</text>
<text x="358.4" y="252.44" font-size="6.5" fill="#333">0</text>
<text x="358.4" y="352.57" font-size="6.5" fill="#333">0</text>
<text x="358.4" y="265.92" font-size="6.5" fill="#333">−1</text>
<text x="358.4" y="365.9" font-size="6.5" fill="#333">−1</text>
<text x="358.4" y="279.4" font-size="6.5" fill="#333">−2</text>
<text x="358.4" y="379.22" font-size="6.5" fill="#333">−2</text>
<text x="358.4" y="292.88" font-size="6.5" fill="#333">−3</text>
<text x="358.4" y="392.55" font-size="6.5" fill="#333">−3</text>
<text transform="translate(328 251.7) rotate(-90)" font-size="7.6" text-anchor="middle">z-score-normalized</text>
<text transform="translate(336.6 251.7) rotate(-90)" font-size="7.6" text-anchor="middle">expression</text>
<text transform="translate(328 350.8) rotate(-90)" font-size="7.6" text-anchor="middle">z-score-normalized</text>
<text transform="translate(336.6 350.8) rotate(-90)" font-size="7.6" text-anchor="middle">expression</text>
<text transform="translate(345.2 251.7) rotate(-90)" font-size="7.6" text-anchor="middle">(bulk RNA-seq)</text>
<text transform="translate(345.2 350.8) rotate(-90)" font-size="7.6" text-anchor="middle">(scRNA-seq)</text>
<text x="393" y="10.6" font-size="12.5" font-weight="bold" fill="#000" style="stroke:#000;stroke-width:0.7px">d</text>
<path d="M406.7 36.6L406.7 36.35L407.5 36.35L408.3 36.35L409.11 36.35L409.91 36.35L410.71 36.35L411.51 36.35L412.31 36.35L413.11 36.35L413.92 36.35L414.72 36.35L415.52 36.35L416.32 36.35L417.12 36.35L417.92 36.35L418.73 36.35L419.53 36.35L420.33 36.35L421.13 36.35L421.93 36.35L422.73 36.35L423.54 36.35L424.34 36.35L425.14 36.35L425.94 36.35L426.74 36.35L427.54 36.35L428.35 36.31L429.15 36.23L429.95 36.12L430.75 35.95L431.55 35.96L432.35 35.62L433.16 34.86L433.96 34.38L434.76 34.26L435.56 32.94L436.36 32.28L437.16 31.03L437.97 29.47L438.77 26.29L439.57 25.47L440.37 23.15L441.17 21.42L441.98 20.1L442.78 18.06L443.58 15.37L444.38 13.21L445.18 11.88L445.98 9.79L446.79 10.69L447.59 9.78L448.39 9.01L449.19 8.67L449.99 10.33L450.79 10.84L451.6 10.98L452.4 13.31L453.2 13.17L454 14.34L454.8 14.64L455.6 16.58L456.41 17.28L457.21 17.6L458.01 18.95L458.81 19.47L459.61 21.58L460.41 23.84L461.22 23.78L462.02 24.82L462.82 26.65L463.62 28.31L464.42 29.98L465.22 31.05L466.03 31.89L466.83 31.62L467.63 32.75L468.43 33.85L469.23 34.22L470.04 34.33L470.84 34.15L471.64 34.7L472.44 34.62L473.24 34.99L474.04 35.15L474.85 35.23L475.65 35.22L476.45 35.52L477.25 35.81L478.05 35.9L478.85 35.97L479.66 36.03L480.46 36.09L481.26 36.13L482.06 36.17L482.86 36.21L483.66 36.24L484.47 36.27L485.27 36.29L486.07 36.32L486.87 36.34L487.67 36.35L488.47 36.35L489.28 36.35L490.08 36.35L490.88 36.35L491.68 36.35L492.48 36.35L493.28 36.35L494.09 36.35L494.89 36.35L495.69 36.35L496.49 36.35L497.29 36.35L498.09 36.35L498.9 36.35L499.7 35.1L500.5 35.1L500.5 36.6Z" stroke="#e9a04e" stroke-width="0.75" fill="#e9a04e" fill-opacity="0.5" stroke-linejoin="round"/>
<path d="M406.7 51.8L406.7 51.55L407.5 51.55L408.3 51.55L409.11 51.55L409.91 51.55L410.71 51.55L411.51 51.55L412.31 51.55L413.11 51.55L413.92 51.55L414.72 51.55L415.52 51.55L416.32 51.55L417.12 51.55L417.92 51.55L418.73 51.55L419.53 51.55L420.33 51.55L421.13 51.55L421.93 51.55L422.73 51.55L423.54 51.55L424.34 51.55L425.14 51.55L425.94 51.55L426.74 51.51L427.54 51.42L428.35 51.29L429.15 51.11L429.95 51.02L430.75 50.61L431.55 50.4L432.35 49.81L433.16 48.69L433.96 47.26L434.76 45.8L435.56 44.76L436.36 41.48L437.16 39.25L437.97 37.77L438.77 35L439.57 32.77L440.37 31.09L441.17 28.81L441.98 28.37L442.78 26.65L443.58 26.17L444.38 26.99L445.18 26.28L445.98 26.37L446.79 26.79L447.59 27.03L448.39 28.41L449.19 30.52L449.99 32.09L450.79 32.53L451.6 34.66L452.4 36.98L453.2 37.38L454 38.87L454.8 39.74L455.6 42.66L456.41 43.11L457.21 43.66L458.01 46.44L458.81 47.59L459.61 47.6L460.41 48.79L461.22 48.96L462.02 49.23L462.82 49.8L463.62 50.01L464.42 50.58L465.22 50.59L466.03 50.75L466.83 50.74L467.63 51.07L468.43 51.18L469.23 51.26L470.04 51.33L470.84 51.38L471.64 51.43L472.44 51.47L473.24 51.5L474.04 51.53L474.85 51.55L475.65 51.55L476.45 51.55L477.25 51.55L478.05 51.55L478.85 51.55L479.66 51.55L480.46 51.55L481.26 51.55L482.06 51.55L482.86 51.55L483.66 51.55L484.47 51.55L485.27 51.55L486.07 51.55L486.87 51.55L487.67 51.55L488.47 51.55L489.28 51.55L490.08 51.55L490.88 51.55L491.68 51.55L492.48 51.55L493.28 51.55L494.09 51.55L494.89 51.55L495.69 51.55L496.49 51.55L497.29 51.55L498.09 51.55L498.9 51.55L499.7 50.9L500.5 50.9L500.5 51.8Z" stroke="#3fd6f2" stroke-width="0.75" fill="#3fd6f2" fill-opacity="0.5" stroke-linejoin="round"/>
<path d="M406.7 67.1L406.7 66.85L407.5 66.85L408.3 66.85L409.11 66.85L409.91 66.85L410.71 66.85L411.51 66.85L412.31 66.85L413.11 66.85L413.92 66.85L414.72 66.85L415.52 66.85L416.32 66.85L417.12 66.85L417.92 66.85L418.73 66.85L419.53 66.85L420.33 66.85L421.13 66.85L421.93 66.85L422.73 66.85L423.54 66.81L424.34 66.73L425.14 66.62L425.94 66.45L426.74 66.5L427.54 65.99L428.35 65.29L429.15 64.7L429.95 63.52L430.75 62.11L431.55 61.76L432.35 60.63L433.16 58.48L433.96 54.95L434.76 52.75L435.56 53.36L436.36 50.56L437.16 47.51L437.97 46.19L438.77 44.23L439.57 41.84L440.37 39.32L441.17 37.25L441.98 37.12L442.78 37.9L443.58 39.6L444.38 42.44L445.18 43.14L445.98 44.85L446.79 46.74L447.59 47.83L448.39 49.24L449.19 51.94L449.99 54.43L450.79 55.55L451.6 56.46L452.4 59.74L453.2 61.04L454 62.2L454.8 63.9L455.6 64.21L456.41 64.5L457.21 64.93L458.01 65.73L458.81 66.27L459.61 66.31L460.41 66.52L461.22 66.67L462.02 66.78L462.82 66.85L463.62 66.85L464.42 66.85L465.22 66.85L466.03 66.85L466.83 66.85L467.63 66.85L468.43 66.85L469.23 66.85L470.04 66.85L470.84 66.85L471.64 66.85L472.44 66.85L473.24 66.85L474.04 66.85L474.85 66.85L475.65 66.85L476.45 66.85L477.25 66.85L478.05 66.85L478.85 66.85L479.66 66.85L480.46 66.85L481.26 66.85L482.06 66.85L482.86 66.85L483.66 66.85L484.47 66.85L485.27 66.85L486.07 66.85L486.87 66.85L487.67 66.85L488.47 66.85L489.28 66.85L490.08 66.85L490.88 66.85L491.68 66.85L492.48 66.85L493.28 66.85L494.09 66.85L494.89 66.85L495.69 66.85L496.49 66.85L497.29 66.85L498.09 66.85L498.9 66.85L499.7 66.2L500.5 66.2L500.5 67.1Z" stroke="#e6604f" stroke-width="0.75" fill="#e6604f" fill-opacity="0.5" stroke-linejoin="round"/>
<path d="M406.7 83.1L406.7 82.85L407.5 82.85L408.3 82.85L409.11 82.85L409.91 82.85L410.71 82.85L411.51 82.85L412.31 82.85L413.11 82.85L413.92 82.85L414.72 82.85L415.52 82.85L416.32 82.85L417.12 82.85L417.92 82.85L418.73 82.85L419.53 82.85L420.33 82.85L421.13 82.85L421.93 82.85L422.73 82.85L423.54 82.85L424.34 82.85L425.14 82.85L425.94 82.85L426.74 82.85L427.54 82.83L428.35 82.76L429.15 82.67L429.95 82.55L430.75 82.39L431.55 82.03L432.35 82.19L433.16 81.74L433.96 81.37L434.76 80.52L435.56 80.37L436.36 79.18L437.16 79.87L437.97 77.06L438.77 76.05L439.57 75.48L440.37 74.37L441.17 73.18L441.98 72.09L442.78 69.37L443.58 69.26L444.38 66.89L445.18 65.26L445.98 63.81L446.79 61.94L447.59 61.14L448.39 59.31L449.19 58.43L449.99 59.16L450.79 58.06L451.6 57.74L452.4 57.29L453.2 56.9L454 56.47L454.8 56.28L455.6 58.06L456.41 59.7L457.21 59.53L458.01 60.53L458.81 61.63L459.61 61.86L460.41 63.6L461.22 64.94L462.02 65.59L462.82 64.6L463.62 66.92L464.42 69.07L465.22 71.46L466.03 71.99L466.83 72.83L467.63 73.74L468.43 73.58L469.23 73.91L470.04 75.36L470.84 76.33L471.64 77.76L472.44 77.74L473.24 78.17L474.04 79.08L474.85 79.24L475.65 79.54L476.45 79.99L477.25 80.72L478.05 80.65L478.85 81.08L479.66 81.34L480.46 81.12L481.26 81.66L482.06 81.53L482.86 81.72L483.66 82.03L484.47 82.26L485.27 82.23L486.07 82.13L486.87 82.38L487.67 82.33L488.47 82.39L489.28 82.44L490.08 82.48L490.88 82.52L491.68 82.56L492.48 82.59L493.28 82.62L494.09 82.65L494.89 82.68L495.69 82.7L496.49 82.73L497.29 82.75L498.09 82.77L498.9 82.79L499.7 77.6L500.5 77.6L500.5 83.1Z" stroke="#3a4bd8" stroke-width="0.75" fill="#3a4bd8" fill-opacity="0.5" stroke-linejoin="round"/>
<path d="M406.7 97.2L406.7 96.95L407.5 96.95L408.3 96.95L409.11 96.95L409.91 96.95L410.71 96.95L411.51 96.95L412.31 96.95L413.11 96.95L413.92 96.95L414.72 96.95L415.52 96.95L416.32 96.95L417.12 96.95L417.92 96.95L418.73 96.95L419.53 96.95L420.33 96.95L421.13 96.95L421.93 96.95L422.73 96.95L423.54 96.94L424.34 96.89L425.14 96.81L425.94 96.66L426.74 96.41L427.54 95.78L428.35 95.38L429.15 94.94L429.95 93.55L430.75 90.83L431.55 87.67L432.35 85.49L433.16 82.19L433.96 78.11L434.76 74.79L435.56 71.94L436.36 70.86L437.16 69.21L437.97 68.25L438.77 68.26L439.57 70.14L440.37 71.96L441.17 73.57L441.98 75.9L442.78 78.69L443.58 81.56L444.38 83.02L445.18 85L445.98 87.38L446.79 88.77L447.59 92.28L448.39 93.13L449.19 93.76L449.99 94.01L450.79 94.84L451.6 95.32L452.4 96.24L453.2 96.24L454 96.54L454.8 96.71L455.6 96.83L456.41 96.92L457.21 96.95L458.01 96.95L458.81 96.95L459.61 96.95L460.41 96.95L461.22 96.95L462.02 96.95L462.82 96.95L463.62 96.95L464.42 96.95L465.22 96.95L466.03 96.95L466.83 96.95L467.63 96.95L468.43 96.95L469.23 96.95L470.04 96.95L470.84 96.95L471.64 96.95L472.44 96.95L473.24 96.95L474.04 96.95L474.85 96.95L475.65 96.95L476.45 96.95L477.25 96.95L478.05 96.95L478.85 96.95L479.66 96.95L480.46 96.95L481.26 96.95L482.06 96.95L482.86 96.95L483.66 96.95L484.47 96.95L485.27 96.95L486.07 96.95L486.87 96.95L487.67 96.95L488.47 96.95L489.28 96.95L490.08 96.95L490.88 96.95L491.68 96.95L492.48 96.95L493.28 96.95L494.09 96.95L494.89 96.95L495.69 96.95L496.49 96.95L497.29 96.95L498.09 96.95L498.9 96.95L499.7 96.95L500.5 96.95L500.5 97.2Z" stroke="#7a7a7a" stroke-width="0.75" fill="#7a7a7a" fill-opacity="0.5" stroke-linejoin="round"/>
<text x="497.5" y="31.3" font-size="6.4" text-anchor="end" fill="#333">R848</text>
<text x="497.5" y="46.5" font-size="6.4" text-anchor="end" fill="#333">Poly I:C</text>
<text x="497.5" y="61.8" font-size="6.4" text-anchor="end" fill="#333">IFNγ</text>
<text x="497.5" y="77.8" font-size="6.4" text-anchor="end" fill="#333">IFNβ</text>
<text x="497.5" y="91.9" font-size="6.4" text-anchor="end" fill="#333">Unstim</text>
<rect x="406.3" y="3" width="94.6" height="94.4" fill="none" stroke="#6a6a6a" stroke-width="0.7"/>
<line x1="415.4" y1="97.4" x2="415.4" y2="99.2" stroke="#666" stroke-width="0.6"/>
<text x="415.4" y="107.4" font-size="6.3" text-anchor="middle" fill="#333">0</text>
<line x1="440.9" y1="97.4" x2="440.9" y2="99.2" stroke="#666" stroke-width="0.6"/>
<text x="440.9" y="107.4" font-size="6.3" text-anchor="middle" fill="#333">10K</text>
<line x1="466.3" y1="97.4" x2="466.3" y2="99.2" stroke="#666" stroke-width="0.6"/>
<text x="466.3" y="107.4" font-size="6.3" text-anchor="middle" fill="#333">20K</text>
<line x1="491.7" y1="97.4" x2="491.7" y2="99.2" stroke="#666" stroke-width="0.6"/>
<text x="491.7" y="107.4" font-size="6.3" text-anchor="middle" fill="#333">30K</text>
<line x1="410.3" y1="97.4" x2="410.3" y2="98.4" stroke="#888" stroke-width="0.45"/>
<line x1="415.4" y1="97.4" x2="415.4" y2="98.4" stroke="#888" stroke-width="0.45"/>
<line x1="420.5" y1="97.4" x2="420.5" y2="98.4" stroke="#888" stroke-width="0.45"/>
<line x1="425.6" y1="97.4" x2="425.6" y2="98.4" stroke="#888" stroke-width="0.45"/>
<line x1="430.7" y1="97.4" x2="430.7" y2="98.4" stroke="#888" stroke-width="0.45"/>
<line x1="435.8" y1="97.4" x2="435.8" y2="98.4" stroke="#888" stroke-width="0.45"/>
<line x1="440.9" y1="97.4" x2="440.9" y2="98.4" stroke="#888" stroke-width="0.45"/>
<line x1="446" y1="97.4" x2="446" y2="98.4" stroke="#888" stroke-width="0.45"/>
<line x1="451.1" y1="97.4" x2="451.1" y2="98.4" stroke="#888" stroke-width="0.45"/>
<line x1="456.2" y1="97.4" x2="456.2" y2="98.4" stroke="#888" stroke-width="0.45"/>
<line x1="461.3" y1="97.4" x2="461.3" y2="98.4" stroke="#888" stroke-width="0.45"/>
<line x1="466.4" y1="97.4" x2="466.4" y2="98.4" stroke="#888" stroke-width="0.45"/>
<line x1="471.5" y1="97.4" x2="471.5" y2="98.4" stroke="#888" stroke-width="0.45"/>
<line x1="476.6" y1="97.4" x2="476.6" y2="98.4" stroke="#888" stroke-width="0.45"/>
<line x1="481.7" y1="97.4" x2="481.7" y2="98.4" stroke="#888" stroke-width="0.45"/>
<line x1="486.8" y1="97.4" x2="486.8" y2="98.4" stroke="#888" stroke-width="0.45"/>
<line x1="491.9" y1="97.4" x2="491.9" y2="98.4" stroke="#888" stroke-width="0.45"/>
<line x1="497" y1="97.4" x2="497" y2="98.4" stroke="#888" stroke-width="0.45"/>
<text x="455.9" y="117.9" font-size="7.3" text-anchor="middle">APOBEC3G APC-R700</text>
<path d="M406.7 160.3L406.7 160.05L407.5 160.05L408.3 160.05L409.1 160.05L409.9 160.05L410.7 160.05L411.5 160.05L412.3 160.05L413.1 160.05L413.9 160.05L414.7 160.05L415.5 160.05L416.3 160.05L417.1 160L417.9 159.92L418.7 159.82L419.5 159.69L420.3 159.51L421.1 158.96L421.9 158.87L422.7 158.77L423.5 158.35L424.3 157.6L425.1 156.58L425.9 155.58L426.7 155.06L427.5 155.11L428.3 153.3L429.1 151.8L429.9 151.14L430.7 147.38L431.5 145.54L432.3 144.94L433.1 143.16L433.9 141.75L434.7 141.31L435.5 140.06L436.3 137.91L437.1 135.65L437.9 134.78L438.7 133.69L439.5 131.65L440.3 131.24L441.1 130.22L441.9 130.38L442.7 131.89L443.5 132.15L444.3 133.78L445.1 132.38L445.9 133.93L446.7 133.09L447.5 134.24L448.3 136.78L449.1 137.67L449.9 139.22L450.7 140.47L451.5 141.31L452.3 141.26L453.1 142.2L453.9 144.16L454.7 146.84L455.5 147.95L456.3 149.39L457.1 149.82L457.9 150.85L458.7 152.75L459.5 152.65L460.3 153.18L461.1 153.65L461.9 154.39L462.7 154.86L463.5 155.83L464.3 156.4L465.1 156.64L465.9 157.39L466.7 157.28L467.5 157.56L468.3 158.08L469.1 158.09L469.9 158.16L470.7 158.36L471.5 158.73L472.3 158.9L473.1 159.11L473.9 159.02L474.7 159L475.5 159.52L476.3 159.64L477.1 159.39L477.9 159.51L478.7 159.57L479.5 159.62L480.3 159.66L481.1 159.7L481.9 159.74L482.7 159.77L483.5 159.8L484.3 159.83L485.1 159.86L485.9 159.89L486.7 159.91L487.5 159.93L488.3 159.95L489.1 159.97L489.9 159.99L490.7 160.01L491.5 160.02L492.3 160.04L493.1 160.05L493.9 160.05L494.7 160.05L495.5 160.05L496.3 160.05L497.1 160.05L497.9 160.05L498.7 160.05L499.5 160.05L500.3 158.8L501.1 158.8L501.1 160.3Z" stroke="#e9a04e" stroke-width="0.75" fill="#e9a04e" fill-opacity="0.5" stroke-linejoin="round"/>
<path d="M406.7 176L406.7 175.75L407.5 175.75L408.3 175.75L409.1 175.75L409.9 175.75L410.7 175.75L411.5 175.75L412.3 175.75L413.1 175.75L413.9 175.75L414.7 175.75L415.5 175.74L416.3 175.68L417.1 175.57L417.9 175.42L418.7 175.06L419.5 174.64L420.3 174.09L421.1 173.59L421.9 172.78L422.7 171.24L423.5 168.79L424.3 166.59L425.1 166.69L425.9 163.52L426.7 160.1L427.5 156.47L428.3 153.83L429.1 151.77L429.9 149.57L430.7 148.64L431.5 148.49L432.3 148.9L433.1 149.28L433.9 149.5L434.7 150.57L435.5 150.2L436.3 150.71L437.1 152.78L437.9 153.36L438.7 152.5L439.5 154.18L440.3 155.32L441.1 156.78L441.9 157.58L442.7 158.75L443.5 159.68L444.3 162.82L445.1 163.29L445.9 162.77L446.7 164.29L447.5 165.23L448.3 165.89L449.1 166.15L449.9 167.2L450.7 168.49L451.5 169.41L452.3 169.88L453.1 170.49L453.9 170.61L454.7 171.76L455.5 170.48L456.3 170.31L457.1 171.32L457.9 170.9L458.7 171.12L459.5 171.66L460.3 171.81L461.1 171.45L461.9 171.69L462.7 171.18L463.5 171.25L464.3 171.74L465.1 171.72L465.9 172.83L466.7 172.93L467.5 172.73L468.3 172.65L469.1 172.62L469.9 173.35L470.7 173.63L471.5 174.03L472.3 173.95L473.1 173.2L473.9 173.57L474.7 174.22L475.5 174.14L476.3 173.87L477.1 173.7L477.9 174.17L478.7 174.43L479.5 174.14L480.3 174.39L481.1 174.55L481.9 174.65L482.7 174.14L483.5 175.06L484.3 174.6L485.1 174.76L485.9 174.67L486.7 174.97L487.5 174.56L488.3 175.02L489.1 174.82L489.9 174.6L490.7 174.72L491.5 174.87L492.3 175.1L493.1 174.87L493.9 174.77L494.7 175.49L495.5 175.46L496.3 175.02L497.1 175.22L497.9 175.24L498.7 175.27L499.5 175.3L500.3 174.5L501.1 174.5L501.1 176Z" stroke="#3fd6f2" stroke-width="0.75" fill="#3fd6f2" fill-opacity="0.5" stroke-linejoin="round"/>
<path d="M406.7 191.6L406.7 191.35L407.5 191.35L408.3 191.35L409.1 191.35L409.9 191.35L410.7 191.35L411.5 191.35L412.3 191.35L413.1 191.35L413.9 191.35L414.7 191.35L415.5 191.35L416.3 191.34L417.1 191.28L417.9 191.18L418.7 191.02L419.5 190.65L420.3 190.13L421.1 189.63L421.9 189.47L422.7 188.52L423.5 187.55L424.3 185.45L425.1 182.65L425.9 179.56L426.7 175.63L427.5 172.88L428.3 170.41L429.1 167.2L429.9 164.94L430.7 162.9L431.5 162.93L432.3 163L433.1 162.57L433.9 164.83L434.7 166.39L435.5 167.66L436.3 169.3L437.1 173.28L437.9 177.38L438.7 178.41L439.5 181.28L440.3 183.87L441.1 185.87L441.9 187.54L442.7 188.8L443.5 189.44L444.3 189.96L445.1 190.24L445.9 190.83L446.7 191.08L447.5 191.26L448.3 191.35L449.1 191.35L449.9 191.35L450.7 191.35L451.5 191.35L452.3 191.35L453.1 191.35L453.9 191.35L454.7 191.35L455.5 191.35L456.3 191.35L457.1 191.35L457.9 191.35L458.7 191.35L459.5 191.35L460.3 191.35L461.1 191.35L461.9 191.35L462.7 191.35L463.5 191.35L464.3 191.35L465.1 191.35L465.9 191.35L466.7 191.35L467.5 191.35L468.3 191.35L469.1 191.35L469.9 191.35L470.7 191.35L471.5 191.35L472.3 191.35L473.1 191.35L473.9 191.35L474.7 191.35L475.5 191.35L476.3 191.35L477.1 191.35L477.9 191.35L478.7 191.35L479.5 191.35L480.3 191.35L481.1 191.35L481.9 191.35L482.7 191.35L483.5 191.35L484.3 191.35L485.1 191.35L485.9 191.35L486.7 191.35L487.5 191.35L488.3 191.35L489.1 191.35L489.9 191.35L490.7 191.35L491.5 191.35L492.3 191.35L493.1 191.35L493.9 191.35L494.7 191.35L495.5 191.35L496.3 191.35L497.1 191.35L497.9 191.35L498.7 191.35L499.5 191.35L500.3 191L501.1 191L501.1 191.6Z" stroke="#e6604f" stroke-width="0.75" fill="#e6604f" fill-opacity="0.5" stroke-linejoin="round"/>
<path d="M406.7 207.1L406.7 206.85L407.5 206.85L408.3 206.85L409.1 206.85L409.9 206.85L410.7 206.85L411.5 206.85L412.3 206.85L413.1 206.85L413.9 206.85L414.7 206.85L415.5 206.85L416.3 206.85L417.1 206.85L417.9 206.85L418.7 206.85L419.5 206.85L420.3 206.85L421.1 206.85L421.9 206.85L422.7 206.83L423.5 206.75L424.3 206.65L425.1 206.51L425.9 206.33L426.7 206.49L427.5 205.61L428.3 205.32L429.1 204.66L429.9 203.73L430.7 203.29L431.5 202.44L432.3 200.65L433.1 198.85L433.9 197.75L434.7 194.11L435.5 192.25L436.3 190.52L437.1 190.02L437.9 188.11L438.7 186.33L439.5 184.36L440.3 181.77L441.1 181.54L441.9 179.98L442.7 180.03L443.5 179.41L444.3 179.66L445.1 179.34L445.9 179.87L446.7 180.36L447.5 180.77L448.3 180.38L449.1 180.44L449.9 181.34L450.7 181.37L451.5 182.49L452.3 182.16L453.1 184.28L453.9 186.21L454.7 186.99L455.5 188.32L456.3 187.98L457.1 189.4L457.9 190.38L458.7 192.04L459.5 193.03L460.3 191.94L461.1 193.37L461.9 194.27L462.7 194.51L463.5 195.96L464.3 196.1L465.1 196.48L465.9 198.92L466.7 199.15L467.5 198.56L468.3 199.04L469.1 200.59L469.9 200.9L470.7 201.01L471.5 201.8L472.3 202.27L473.1 202.26L473.9 202.51L474.7 203.48L475.5 203.64L476.3 203.74L477.1 203.95L477.9 204.62L478.7 204.53L479.5 204.68L480.3 204.84L481.1 205.13L481.9 205.27L482.7 205.02L483.5 204.57L484.3 205.04L485.1 205.2L485.9 205.24L486.7 205.28L487.5 205.44L488.3 205.49L489.1 205.56L489.9 205.5L490.7 205.43L491.5 205.7L492.3 206.17L493.1 205.7L493.9 205.72L494.7 206.07L495.5 206.22L496.3 205.89L497.1 206.57L497.9 206.09L498.7 206.39L499.5 206.32L500.3 200.6L501.1 200.6L501.1 207.1Z" stroke="#3a4bd8" stroke-width="0.75" fill="#3a4bd8" fill-opacity="0.5" stroke-linejoin="round"/>
<path d="M406.7 222.3L406.7 222.05L407.5 222.05L408.3 222.05L409.1 222.05L409.9 222.05L410.7 222.05L411.5 222.05L412.3 222.05L413.1 222.05L413.9 222.05L414.7 222.02L415.5 221.96L416.3 221.86L417.1 221.68L417.9 221.36L418.7 220.53L419.5 220.18L420.3 218.8L421.1 216.92L421.9 214.87L422.7 212.22L423.5 207.43L424.3 204.71L425.1 199.9L425.9 197.3L426.7 193.88L427.5 190.76L428.3 192.15L429.1 192.67L429.9 196.17L430.7 197.75L431.5 199.2L432.3 201L433.1 202.42L433.9 205.51L434.7 209.82L435.5 210.8L436.3 211.39L437.1 213.73L437.9 216.06L438.7 217.32L439.5 218.7L440.3 219.56L441.1 220.28L441.9 220.98L442.7 221.03L443.5 221.58L444.3 221.77L445.1 221.91L445.9 222.01L446.7 222.05L447.5 222.05L448.3 222.05L449.1 222.05L449.9 222.05L450.7 222.05L451.5 222.05L452.3 222.05L453.1 222.05L453.9 222.05L454.7 222.05L455.5 222.05L456.3 222.05L457.1 222.05L457.9 222.05L458.7 222.05L459.5 222.05L460.3 222.05L461.1 222.05L461.9 222.05L462.7 222.05L463.5 222.05L464.3 222.05L465.1 222.05L465.9 222.05L466.7 222.05L467.5 222.05L468.3 222.05L469.1 222.05L469.9 222.05L470.7 222.05L471.5 222.05L472.3 222.05L473.1 222.05L473.9 222.05L474.7 222.05L475.5 222.05L476.3 222.05L477.1 222.05L477.9 222.05L478.7 222.05L479.5 222.05L480.3 222.05L481.1 222.05L481.9 222.05L482.7 222.05L483.5 222.05L484.3 222.05L485.1 222.05L485.9 222.05L486.7 222.05L487.5 222.05L488.3 222.05L489.1 222.05L489.9 222.05L490.7 222.05L491.5 222.05L492.3 222.05L493.1 222.05L493.9 222.05L494.7 222.05L495.5 222.05L496.3 222.05L497.1 222.05L497.9 222.05L498.7 222.05L499.5 222.05L500.3 222.05L501.1 222.05L501.1 222.3Z" stroke="#7a7a7a" stroke-width="0.75" fill="#7a7a7a" fill-opacity="0.5" stroke-linejoin="round"/>
<text x="498.1" y="155" font-size="6.4" text-anchor="end" fill="#333">R848</text>
<text x="498.1" y="170.7" font-size="6.4" text-anchor="end" fill="#333">Poly I:C</text>
<text x="498.1" y="186.3" font-size="6.4" text-anchor="end" fill="#333">IFNγ</text>
<text x="498.1" y="201.8" font-size="6.4" text-anchor="end" fill="#333">IFNβ</text>
<text x="498.1" y="217" font-size="6.4" text-anchor="end" fill="#333">Unstim</text>
<rect x="406.3" y="126.5" width="95.2" height="95.9" fill="none" stroke="#6a6a6a" stroke-width="0.7"/>
<line x1="417.5" y1="222.4" x2="417.5" y2="224.2" stroke="#666" stroke-width="0.6"/>
<text x="417.5" y="232.9" font-size="6.3" text-anchor="middle" fill="#333">0</text>
<line x1="442.5" y1="222.4" x2="442.5" y2="224.2" stroke="#666" stroke-width="0.6"/>
<text x="442.5" y="232.9" font-size="6.3" text-anchor="middle" fill="#333">10K</text>
<line x1="466.9" y1="222.4" x2="466.9" y2="224.2" stroke="#666" stroke-width="0.6"/>
<text x="466.9" y="232.9" font-size="6.3" text-anchor="middle" fill="#333">20K</text>
<line x1="491.3" y1="222.4" x2="491.3" y2="224.2" stroke="#666" stroke-width="0.6"/>
<text x="491.3" y="232.9" font-size="6.3" text-anchor="middle" fill="#333">30K</text>
<line x1="407.5" y1="222.4" x2="407.5" y2="223.4" stroke="#888" stroke-width="0.45"/>
<line x1="412.5" y1="222.4" x2="412.5" y2="223.4" stroke="#888" stroke-width="0.45"/>
<line x1="417.5" y1="222.4" x2="417.5" y2="223.4" stroke="#888" stroke-width="0.45"/>
<line x1="422.5" y1="222.4" x2="422.5" y2="223.4" stroke="#888" stroke-width="0.45"/>
<line x1="427.5" y1="222.4" x2="427.5" y2="223.4" stroke="#888" stroke-width="0.45"/>
<line x1="432.5" y1="222.4" x2="432.5" y2="223.4" stroke="#888" stroke-width="0.45"/>
<line x1="437.5" y1="222.4" x2="437.5" y2="223.4" stroke="#888" stroke-width="0.45"/>
<line x1="442.5" y1="222.4" x2="442.5" y2="223.4" stroke="#888" stroke-width="0.45"/>
<line x1="447.5" y1="222.4" x2="447.5" y2="223.4" stroke="#888" stroke-width="0.45"/>
<line x1="452.5" y1="222.4" x2="452.5" y2="223.4" stroke="#888" stroke-width="0.45"/>
<line x1="457.5" y1="222.4" x2="457.5" y2="223.4" stroke="#888" stroke-width="0.45"/>
<line x1="462.5" y1="222.4" x2="462.5" y2="223.4" stroke="#888" stroke-width="0.45"/>
<line x1="467.5" y1="222.4" x2="467.5" y2="223.4" stroke="#888" stroke-width="0.45"/>
<line x1="472.5" y1="222.4" x2="472.5" y2="223.4" stroke="#888" stroke-width="0.45"/>
<line x1="477.5" y1="222.4" x2="477.5" y2="223.4" stroke="#888" stroke-width="0.45"/>
<line x1="482.5" y1="222.4" x2="482.5" y2="223.4" stroke="#888" stroke-width="0.45"/>
<line x1="487.5" y1="222.4" x2="487.5" y2="223.4" stroke="#888" stroke-width="0.45"/>
<line x1="492.5" y1="222.4" x2="492.5" y2="223.4" stroke="#888" stroke-width="0.45"/>
<line x1="497.5" y1="222.4" x2="497.5" y2="223.4" stroke="#888" stroke-width="0.45"/>
<text x="456.2" y="244" font-size="7.3" text-anchor="middle">IFIT1 APC</text>
<text x="584.6" y="6.3" font-size="7.3" text-anchor="middle">Unstim</text>
<text x="608.2" y="6.3" font-size="7.3" text-anchor="middle">IFNβ</text>
<text x="627.8" y="6.3" font-size="7.3" text-anchor="middle">IFNγ</text>
<text x="651.6" y="6.3" font-size="7.3" text-anchor="middle">Poly I:C</text>
<text x="676.4" y="6.3" font-size="7.3" text-anchor="middle">R848</text>
<line x1="597.6" y1="11.5" x2="597.6" y2="85.2" stroke="#444" stroke-width="0.6" stroke-dasharray="2.2 1.6"/>
<line x1="619.4" y1="11.5" x2="619.4" y2="85.2" stroke="#444" stroke-width="0.6" stroke-dasharray="2.2 1.6"/>
<line x1="640.6" y1="11.5" x2="640.6" y2="85.2" stroke="#444" stroke-width="0.6" stroke-dasharray="2.2 1.6"/>
<line x1="662.6" y1="11.5" x2="662.6" y2="85.2" stroke="#444" stroke-width="0.6" stroke-dasharray="2.2 1.6"/>
<rect x="579.75" y="63.72" width="5.5" height="21.48" fill="#c2c2c2" stroke="#1a1a1a" stroke-width="0.8"/>
<rect x="588.75" y="55.5" width="5.5" height="29.7" fill="#c2c2c2" stroke="#1a1a1a" stroke-width="0.8"/>
<rect x="601.05" y="51.35" width="5.5" height="33.85" fill="#c2c2c2" stroke="#1a1a1a" stroke-width="0.8"/>
<rect x="610.45" y="33.15" width="5.5" height="52.05" fill="#c2c2c2" stroke="#1a1a1a" stroke-width="0.8"/>
<rect x="622.85" y="49.89" width="5.5" height="35.31" fill="#c2c2c2" stroke="#1a1a1a" stroke-width="0.8"/>
<rect x="631.75" y="44.07" width="5.5" height="41.13" fill="#c2c2c2" stroke="#1a1a1a" stroke-width="0.8"/>
<rect x="644.25" y="50.8" width="5.5" height="34.4" fill="#c2c2c2" stroke="#1a1a1a" stroke-width="0.8"/>
<rect x="653.45" y="46.25" width="5.5" height="38.95" fill="#c2c2c2" stroke="#1a1a1a" stroke-width="0.8"/>
<rect x="665.65" y="51.71" width="5.5" height="33.49" fill="#c2c2c2" stroke="#1a1a1a" stroke-width="0.8"/>
<rect x="674.75" y="35.7" width="5.5" height="49.5" fill="#c2c2c2" stroke="#1a1a1a" stroke-width="0.8"/>
<line x1="582.5" y1="63.72" x2="582.5" y2="58.7" stroke="#777" stroke-width="0.7"/>
<circle cx="581.9" cy="57.7" r="2.25" fill="#1d3ff2"/>
<circle cx="582.2" cy="59.7" r="2.25" fill="#9430a3"/>
<circle cx="582.8" cy="62.2" r="2.25" fill="#f7980f"/>
<circle cx="581.7" cy="64.7" r="2.25" fill="#a35a12"/>
<line x1="591.5" y1="55.5" x2="591.5" y2="43.9" stroke="#777" stroke-width="0.7"/>
<circle cx="591.4" cy="42.9" r="2.25" fill="#f7980f"/>
<circle cx="591.1" cy="48.1" r="2.25" fill="#050505"/>
<circle cx="592.9" cy="54.8" r="2.25" fill="#1d3ff2"/>
<circle cx="590.6" cy="55.5" r="2.25" fill="#a35a12"/>
<circle cx="591.1" cy="51.3" r="2.25" fill="#9430a3"/>
<line x1="603.8" y1="51.35" x2="603.8" y2="35.4" stroke="#777" stroke-width="0.7"/>
<circle cx="603.5" cy="34.4" r="2.25" fill="#1d3ff2"/>
<circle cx="604.9" cy="34.7" r="2.25" fill="#050505"/>
<circle cx="603.2" cy="49.6" r="2.25" fill="#a35a12"/>
<circle cx="604.3" cy="51.4" r="2.25" fill="#f7980f"/>
<circle cx="603.7" cy="56.7" r="2.25" fill="#9430a3"/>
<line x1="613.2" y1="33.15" x2="613.2" y2="24.8" stroke="#777" stroke-width="0.7"/>
<circle cx="613.4" cy="23.8" r="2.25" fill="#1d3ff2"/>
<circle cx="612.5" cy="27.3" r="2.25" fill="#f7980f"/>
<circle cx="612.3" cy="30.9" r="2.25" fill="#050505"/>
<circle cx="613.1" cy="43.2" r="2.25" fill="#a35a12"/>
<circle cx="613.4" cy="30.3" r="2.25" fill="#9430a3"/>
<line x1="625.6" y1="49.89" x2="625.6" y2="31.6" stroke="#777" stroke-width="0.7"/>
<circle cx="625" cy="30.6" r="2.25" fill="#050505"/>
<circle cx="626" cy="32.8" r="2.25" fill="#9430a3"/>
<circle cx="625.4" cy="49.4" r="2.25" fill="#1d3ff2"/>
<circle cx="625" cy="62" r="2.25" fill="#a35a12"/>
<circle cx="625.8" cy="59.6" r="2.25" fill="#f7980f"/>
<line x1="634.5" y1="44.07" x2="634.5" y2="41.1" stroke="#777" stroke-width="0.7"/>
<circle cx="634.8" cy="40.1" r="2.25" fill="#050505"/>
<circle cx="635.3" cy="41.1" r="2.25" fill="#1d3ff2"/>
<circle cx="634" cy="43.6" r="2.25" fill="#f7980f"/>
<circle cx="634" cy="51.3" r="2.25" fill="#a35a12"/>
<circle cx="635" cy="49.1" r="2.25" fill="#9430a3"/>
<line x1="647" y1="50.8" x2="647" y2="49.2" stroke="#777" stroke-width="0.7"/>
<circle cx="647.8" cy="51.3" r="2.25" fill="#050505"/>
<circle cx="646.5" cy="50.7" r="2.25" fill="#1d3ff2"/>
<circle cx="647.3" cy="55.1" r="2.25" fill="#a35a12"/>
<circle cx="646.5" cy="58.2" r="2.25" fill="#f7980f"/>
<circle cx="646.9" cy="48.2" r="2.25" fill="#9430a3"/>
<line x1="656.2" y1="46.25" x2="656.2" y2="35.4" stroke="#777" stroke-width="0.7"/>
<circle cx="656.9" cy="44.4" r="2.25" fill="#1d3ff2"/>
<circle cx="655.4" cy="45.7" r="2.25" fill="#a35a12"/>
<circle cx="656.1" cy="34.4" r="2.25" fill="#f7980f"/>
<circle cx="655.9" cy="37.3" r="2.25" fill="#9430a3"/>
<line x1="668.4" y1="51.71" x2="668.4" y2="50.1" stroke="#777" stroke-width="0.7"/>
<circle cx="668.2" cy="49.1" r="2.25" fill="#050505"/>
<circle cx="667.6" cy="52" r="2.25" fill="#a35a12"/>
<circle cx="670.1" cy="52.6" r="2.25" fill="#1d3ff2"/>
<circle cx="668.6" cy="55.3" r="2.25" fill="#f7980f"/>
<circle cx="667.8" cy="58.6" r="2.25" fill="#9430a3"/>
<line x1="677.5" y1="35.7" x2="677.5" y2="24.5" stroke="#777" stroke-width="0.7"/>
<circle cx="677" cy="34.8" r="2.25" fill="#050505"/>
<circle cx="678.2" cy="39.1" r="2.25" fill="#1d3ff2"/>
<circle cx="677.6" cy="43.8" r="2.25" fill="#a35a12"/>
<circle cx="677.6" cy="23.5" r="2.25" fill="#f7980f"/>
<circle cx="678.2" cy="29.8" r="2.25" fill="#9430a3"/>
<line x1="575" y1="61.4" x2="685" y2="61.4" stroke="#222" stroke-width="0.8" stroke-dasharray="3 2"/>
<line x1="575.8" y1="11.5" x2="575.8" y2="85.2" stroke="#999" stroke-width="0.8"/>
<line x1="575.8" y1="85.2" x2="685" y2="85.2" stroke="#999" stroke-width="0.8"/>
<line x1="573.4" y1="85.2" x2="575.8" y2="85.2" stroke="#999" stroke-width="0.7"/>
<text x="569.6" y="87.4" font-size="6.6" text-anchor="end" fill="#333">0</text>
<line x1="573.4" y1="67" x2="575.8" y2="67" stroke="#999" stroke-width="0.7"/>
<text x="569.6" y="69.2" font-size="6.6" text-anchor="end" fill="#333">5,000</text>
<line x1="573.4" y1="48.8" x2="575.8" y2="48.8" stroke="#999" stroke-width="0.7"/>
<text x="569.6" y="51" font-size="6.6" text-anchor="end" fill="#333">10,000</text>
<line x1="573.4" y1="30.6" x2="575.8" y2="30.6" stroke="#999" stroke-width="0.7"/>
<text x="569.6" y="32.8" font-size="6.6" text-anchor="end" fill="#333">15,000</text>
<line x1="573.4" y1="12.4" x2="575.8" y2="12.4" stroke="#999" stroke-width="0.7"/>
<text x="569.6" y="14.6" font-size="6.6" text-anchor="end" fill="#333">20,000</text>
<line x1="582.5" y1="85.2" x2="582.5" y2="86.8" stroke="#999" stroke-width="0.6"/>
<line x1="591.5" y1="85.2" x2="591.5" y2="86.8" stroke="#999" stroke-width="0.6"/>
<line x1="603.8" y1="85.2" x2="603.8" y2="86.8" stroke="#999" stroke-width="0.6"/>
<line x1="613.2" y1="85.2" x2="613.2" y2="86.8" stroke="#999" stroke-width="0.6"/>
<line x1="625.6" y1="85.2" x2="625.6" y2="86.8" stroke="#999" stroke-width="0.6"/>
<line x1="634.5" y1="85.2" x2="634.5" y2="86.8" stroke="#999" stroke-width="0.6"/>
<line x1="647" y1="85.2" x2="647" y2="86.8" stroke="#999" stroke-width="0.6"/>
<line x1="656.2" y1="85.2" x2="656.2" y2="86.8" stroke="#999" stroke-width="0.6"/>
<line x1="668.4" y1="85.2" x2="668.4" y2="86.8" stroke="#999" stroke-width="0.6"/>
<line x1="677.5" y1="85.2" x2="677.5" y2="86.8" stroke="#999" stroke-width="0.6"/>
<line x1="580" y1="19.4" x2="593.8" y2="19.4" stroke="#555" stroke-width="0.7"/>
<text x="586.9" y="17.4" font-size="6.0" text-anchor="middle" fill="#333">0.02</text>
<line x1="601" y1="19.4" x2="615.8" y2="19.4" stroke="#555" stroke-width="0.7"/>
<text x="608.4" y="17.4" font-size="6.0" text-anchor="middle" fill="#333">0.04</text>
<line x1="646" y1="19.4" x2="659.4" y2="19.4" stroke="#555" stroke-width="0.7"/>
<text x="652.7" y="17.4" font-size="6.0" text-anchor="middle" fill="#333">0.02</text>
<line x1="666.1" y1="19.4" x2="679.9" y2="19.4" stroke="#555" stroke-width="0.7"/>
<text x="673" y="17.4" font-size="6.0" text-anchor="middle" fill="#333">0.01</text>
<text transform="translate(533.5 49) rotate(-90)" font-size="6.6" text-anchor="middle">APOBEC3G median MFI</text>
<text transform="translate(541.5 49) rotate(-90)" font-size="6.6" text-anchor="middle">(of CD3<tspan font-size="4.2" dy="-2.6">+</tspan><tspan dy="2.6">CD4</tspan><tspan font-size="4.2" dy="-2.6">+</tspan><tspan dy="2.6">CD45RA</tspan><tspan font-size="4.2" dy="-2.6">−</tspan><tspan dy="2.6">)</tspan></text>
<text x="575.6" y="98.1" font-size="7.45" text-anchor="end">Mem CD4s only</text>
<text x="575.6" y="110.5" font-size="7.45" text-anchor="end">PBMCs w/o CD8s</text>
<text x="582.5" y="98" font-size="6.5" text-anchor="middle">+</text>
<text x="582.5" y="110.4" font-size="6.5" text-anchor="middle">–</text>
<text x="591.5" y="98" font-size="6.5" text-anchor="middle">–</text>
<text x="591.5" y="110.4" font-size="6.5" text-anchor="middle">+</text>
<text x="603.8" y="98" font-size="6.5" text-anchor="middle">+</text>
<text x="603.8" y="110.4" font-size="6.5" text-anchor="middle">–</text>
<text x="613.2" y="98" font-size="6.5" text-anchor="middle">–</text>
<text x="613.2" y="110.4" font-size="6.5" text-anchor="middle">+</text>
<text x="625.6" y="98" font-size="6.5" text-anchor="middle">+</text>
<text x="625.6" y="110.4" font-size="6.5" text-anchor="middle">–</text>
<text x="634.5" y="98" font-size="6.5" text-anchor="middle">–</text>
<text x="634.5" y="110.4" font-size="6.5" text-anchor="middle">+</text>
<text x="647" y="98" font-size="6.5" text-anchor="middle">+</text>
<text x="647" y="110.4" font-size="6.5" text-anchor="middle">–</text>
<text x="656.2" y="98" font-size="6.5" text-anchor="middle">–</text>
<text x="656.2" y="110.4" font-size="6.5" text-anchor="middle">+</text>
<text x="668.4" y="98" font-size="6.5" text-anchor="middle">+</text>
<text x="668.4" y="110.4" font-size="6.5" text-anchor="middle">–</text>
<text x="677.5" y="98" font-size="6.5" text-anchor="middle">–</text>
<text x="677.5" y="110.4" font-size="6.5" text-anchor="middle">+</text>
<text x="584.6" y="134.2" font-size="7.3" text-anchor="middle">Unstim</text>
<text x="608.2" y="134.2" font-size="7.3" text-anchor="middle">IFNβ</text>
<text x="627.8" y="134.2" font-size="7.3" text-anchor="middle">IFNγ</text>
<text x="651.6" y="134.2" font-size="7.3" text-anchor="middle">Poly I:C</text>
<text x="676.4" y="134.2" font-size="7.3" text-anchor="middle">R848</text>
<line x1="597.6" y1="140.5" x2="597.6" y2="213.4" stroke="#444" stroke-width="0.6" stroke-dasharray="2.2 1.6"/>
<line x1="619.4" y1="140.5" x2="619.4" y2="213.4" stroke="#444" stroke-width="0.6" stroke-dasharray="2.2 1.6"/>
<line x1="640.6" y1="140.5" x2="640.6" y2="213.4" stroke="#444" stroke-width="0.6" stroke-dasharray="2.2 1.6"/>
<line x1="662.6" y1="140.5" x2="662.6" y2="213.4" stroke="#444" stroke-width="0.6" stroke-dasharray="2.2 1.6"/>
<rect x="579.75" y="199.5" width="5.5" height="13.9" fill="#c2c2c2" stroke="#1a1a1a" stroke-width="0.8"/>
<rect x="588.75" y="191.35" width="5.5" height="22.05" fill="#c2c2c2" stroke="#1a1a1a" stroke-width="0.8"/>
<rect x="601.05" y="174.81" width="5.5" height="38.59" fill="#c2c2c2" stroke="#1a1a1a" stroke-width="0.8"/>
<rect x="610.45" y="151.08" width="5.5" height="62.32" fill="#c2c2c2" stroke="#1a1a1a" stroke-width="0.8"/>
<rect x="622.85" y="194.08" width="5.5" height="19.32" fill="#c2c2c2" stroke="#1a1a1a" stroke-width="0.8"/>
<rect x="631.75" y="184.2" width="5.5" height="29.2" fill="#c2c2c2" stroke="#1a1a1a" stroke-width="0.8"/>
<rect x="644.25" y="189.19" width="5.5" height="24.21" fill="#c2c2c2" stroke="#1a1a1a" stroke-width="0.8"/>
<rect x="653.45" y="166.27" width="5.5" height="47.13" fill="#c2c2c2" stroke="#1a1a1a" stroke-width="0.8"/>
<rect x="665.65" y="195.9" width="5.5" height="17.5" fill="#c2c2c2" stroke="#1a1a1a" stroke-width="0.8"/>
<rect x="674.75" y="165.94" width="5.5" height="47.46" fill="#c2c2c2" stroke="#1a1a1a" stroke-width="0.8"/>
<line x1="582.5" y1="199.5" x2="582.5" y2="196.5" stroke="#777" stroke-width="0.7"/>
<circle cx="582" cy="195.5" r="2.25" fill="#f7980f"/>
<circle cx="582.4" cy="196.5" r="2.25" fill="#1d3ff2"/>
<circle cx="581.7" cy="199.3" r="2.25" fill="#9430a3"/>
<circle cx="582.2" cy="198.3" r="2.25" fill="#a35a12"/>
<line x1="591.5" y1="191.35" x2="591.5" y2="185.9" stroke="#777" stroke-width="0.7"/>
<circle cx="591.1" cy="184.9" r="2.25" fill="#f7980f"/>
<circle cx="591.1" cy="189.2" r="2.25" fill="#9430a3"/>
<circle cx="590.8" cy="192" r="2.25" fill="#a35a12"/>
<circle cx="592.3" cy="193.4" r="2.25" fill="#1d3ff2"/>
<circle cx="590.8" cy="196.2" r="2.25" fill="#050505"/>
<line x1="603.8" y1="174.81" x2="603.8" y2="150.4" stroke="#777" stroke-width="0.7"/>
<circle cx="603.8" cy="149.4" r="2.25" fill="#050505"/>
<circle cx="603.8" cy="160.3" r="2.25" fill="#1d3ff2"/>
<circle cx="603.5" cy="174.8" r="2.25" fill="#a35a12"/>
<circle cx="604.2" cy="185.2" r="2.25" fill="#f7980f"/>
<circle cx="603.1" cy="188.9" r="2.25" fill="#9430a3"/>
<line x1="613.2" y1="151.08" x2="613.2" y2="147.2" stroke="#777" stroke-width="0.7"/>
<circle cx="613.9" cy="146.2" r="2.25" fill="#1d3ff2"/>
<circle cx="612.5" cy="146.9" r="2.25" fill="#f7980f"/>
<circle cx="613" cy="150.8" r="2.25" fill="#9430a3"/>
<circle cx="613" cy="156.1" r="2.25" fill="#050505"/>
<circle cx="613" cy="162.4" r="2.25" fill="#a35a12"/>
<line x1="625.6" y1="194.08" x2="625.6" y2="175.8" stroke="#777" stroke-width="0.7"/>
<circle cx="625.4" cy="174.8" r="2.25" fill="#050505"/>
<circle cx="625.4" cy="185.2" r="2.25" fill="#9430a3"/>
<circle cx="624.5" cy="192" r="2.25" fill="#1d3ff2"/>
<circle cx="625.9" cy="195.9" r="2.25" fill="#f7980f"/>
<circle cx="624.6" cy="199.3" r="2.25" fill="#a35a12"/>
<line x1="634.5" y1="184.2" x2="634.5" y2="182.4" stroke="#777" stroke-width="0.7"/>
<circle cx="634.6" cy="181.4" r="2.25" fill="#f7980f"/>
<circle cx="634.2" cy="183.2" r="2.25" fill="#9430a3"/>
<circle cx="636" cy="183.8" r="2.25" fill="#1d3ff2"/>
<circle cx="634.9" cy="187" r="2.25" fill="#a35a12"/>
<circle cx="634.2" cy="190.6" r="2.25" fill="#050505"/>
<line x1="647" y1="189.19" x2="647" y2="186.4" stroke="#777" stroke-width="0.7"/>
<circle cx="646.5" cy="185.4" r="2.25" fill="#9430a3"/>
<circle cx="647.3" cy="187.7" r="2.25" fill="#a35a12"/>
<circle cx="647.5" cy="190.8" r="2.25" fill="#f7980f"/>
<circle cx="646.1" cy="191.5" r="2.25" fill="#1d3ff2"/>
<line x1="656.2" y1="166.27" x2="656.2" y2="152.4" stroke="#777" stroke-width="0.7"/>
<circle cx="655.3" cy="151.4" r="2.25" fill="#9430a3"/>
<circle cx="657.1" cy="151.8" r="2.25" fill="#f7980f"/>
<circle cx="656.3" cy="165.9" r="2.25" fill="#a35a12"/>
<circle cx="656" cy="178.2" r="2.25" fill="#1d3ff2"/>
<circle cx="655.7" cy="188.5" r="2.25" fill="#050505"/>
<line x1="668.4" y1="195.9" x2="668.4" y2="187.1" stroke="#777" stroke-width="0.7"/>
<circle cx="668.4" cy="186.1" r="2.25" fill="#050505"/>
<circle cx="668" cy="189.2" r="2.25" fill="#a35a12"/>
<circle cx="669" cy="191.3" r="2.25" fill="#f7980f"/>
<circle cx="668" cy="194.8" r="2.25" fill="#9430a3"/>
<line x1="677.5" y1="165.94" x2="677.5" y2="155.2" stroke="#777" stroke-width="0.7"/>
<circle cx="677.5" cy="154.2" r="2.25" fill="#f7980f"/>
<circle cx="677.4" cy="159.6" r="2.25" fill="#9430a3"/>
<circle cx="677.4" cy="164.5" r="2.25" fill="#1d3ff2"/>
<circle cx="678.2" cy="168.3" r="2.25" fill="#a35a12"/>
<circle cx="676.8" cy="169.2" r="2.25" fill="#050505"/>
<line x1="575" y1="195.9" x2="685" y2="195.9" stroke="#222" stroke-width="0.8" stroke-dasharray="3 2"/>
<line x1="575.8" y1="140.5" x2="575.8" y2="213.4" stroke="#999" stroke-width="0.8"/>
<line x1="575.8" y1="213.4" x2="685" y2="213.4" stroke="#999" stroke-width="0.8"/>
<line x1="573.4" y1="213.4" x2="575.8" y2="213.4" stroke="#999" stroke-width="0.7"/>
<text x="569.6" y="215.6" font-size="6.6" text-anchor="end" fill="#333">0</text>
<line x1="573.4" y1="189.43" x2="575.8" y2="189.43" stroke="#999" stroke-width="0.7"/>
<text x="569.6" y="191.63" font-size="6.6" text-anchor="end" fill="#333">5,000</text>
<line x1="573.4" y1="165.46" x2="575.8" y2="165.46" stroke="#999" stroke-width="0.7"/>
<text x="569.6" y="167.66" font-size="6.6" text-anchor="end" fill="#333">10,000</text>
<line x1="573.4" y1="141.49" x2="575.8" y2="141.49" stroke="#999" stroke-width="0.7"/>
<text x="569.6" y="143.69" font-size="6.6" text-anchor="end" fill="#333">15,000</text>
<line x1="582.5" y1="213.4" x2="582.5" y2="215" stroke="#999" stroke-width="0.6"/>
<line x1="591.5" y1="213.4" x2="591.5" y2="215" stroke="#999" stroke-width="0.6"/>
<line x1="603.8" y1="213.4" x2="603.8" y2="215" stroke="#999" stroke-width="0.6"/>
<line x1="613.2" y1="213.4" x2="613.2" y2="215" stroke="#999" stroke-width="0.6"/>
<line x1="625.6" y1="213.4" x2="625.6" y2="215" stroke="#999" stroke-width="0.6"/>
<line x1="634.5" y1="213.4" x2="634.5" y2="215" stroke="#999" stroke-width="0.6"/>
<line x1="647" y1="213.4" x2="647" y2="215" stroke="#999" stroke-width="0.6"/>
<line x1="656.2" y1="213.4" x2="656.2" y2="215" stroke="#999" stroke-width="0.6"/>
<line x1="668.4" y1="213.4" x2="668.4" y2="215" stroke="#999" stroke-width="0.6"/>
<line x1="677.5" y1="213.4" x2="677.5" y2="215" stroke="#999" stroke-width="0.6"/>
<line x1="579.9" y1="147.9" x2="593.7" y2="147.9" stroke="#555" stroke-width="0.7"/>
<text x="586.8" y="145.9" font-size="6.0" text-anchor="middle" fill="#333">0.04</text>
<line x1="646.1" y1="147.9" x2="659.5" y2="147.9" stroke="#555" stroke-width="0.7"/>
<text x="652.8" y="145.9" font-size="6.0" text-anchor="middle" fill="#333">0.04</text>
<line x1="665.8" y1="147.9" x2="679.9" y2="147.9" stroke="#555" stroke-width="0.7"/>
<text x="672.85" y="145.9" font-size="6.0" text-anchor="middle" fill="#333">0.002</text>
<text transform="translate(533.5 177.5) rotate(-90)" font-size="6.6" text-anchor="middle">IFIT1 median MFI</text>
<text transform="translate(541.5 177.5) rotate(-90)" font-size="6.6" text-anchor="middle">(of CD3<tspan font-size="4.2" dy="-2.6">+</tspan><tspan dy="2.6">CD4</tspan><tspan font-size="4.2" dy="-2.6">+</tspan><tspan dy="2.6">CD45RA</tspan><tspan font-size="4.2" dy="-2.6">−</tspan><tspan dy="2.6">)</tspan></text>
<text x="575.6" y="228" font-size="7.45" text-anchor="end">Mem CD4s only</text>
<text x="575.6" y="237.6" font-size="7.45" text-anchor="end">PBMCs w/o CD8s</text>
<text x="582.5" y="227.9" font-size="6.5" text-anchor="middle">+</text>
<text x="582.5" y="237.5" font-size="6.5" text-anchor="middle">–</text>
<text x="591.5" y="227.9" font-size="6.5" text-anchor="middle">–</text>
<text x="591.5" y="237.5" font-size="6.5" text-anchor="middle">+</text>
<text x="603.8" y="227.9" font-size="6.5" text-anchor="middle">+</text>
<text x="603.8" y="237.5" font-size="6.5" text-anchor="middle">–</text>
<text x="613.2" y="227.9" font-size="6.5" text-anchor="middle">–</text>
<text x="613.2" y="237.5" font-size="6.5" text-anchor="middle">+</text>
<text x="625.6" y="227.9" font-size="6.5" text-anchor="middle">+</text>
<text x="625.6" y="237.5" font-size="6.5" text-anchor="middle">–</text>
<text x="634.5" y="227.9" font-size="6.5" text-anchor="middle">–</text>
<text x="634.5" y="237.5" font-size="6.5" text-anchor="middle">+</text>
<text x="647" y="227.9" font-size="6.5" text-anchor="middle">+</text>
<text x="647" y="237.5" font-size="6.5" text-anchor="middle">–</text>
<text x="656.2" y="227.9" font-size="6.5" text-anchor="middle">–</text>
<text x="656.2" y="237.5" font-size="6.5" text-anchor="middle">+</text>
<text x="668.4" y="227.9" font-size="6.5" text-anchor="middle">+</text>
<text x="668.4" y="237.5" font-size="6.5" text-anchor="middle">–</text>
<text x="677.5" y="227.9" font-size="6.5" text-anchor="middle">–</text>
<text x="677.5" y="237.5" font-size="6.5" text-anchor="middle">+</text>
<text x="387.8" y="265.6" font-size="12.5" font-weight="bold" fill="#000" style="stroke:#000;stroke-width:0.7px">e</text>
<path stroke="#1e6eff" stroke-width="1" d="M477 326.5h2M467 327.5h1M471 327.5h2M482 327.5h1M464 328.5h1M485 328.5h1M441 329.5h2M461 329.5h1M487 329.5h1M438 330.5h1M453 330.5h1M458 330.5h1M436 331.5h1M435 332.5h1M490 332.5h1M434 333.5h1M433 334.5h1M491 334.5h1M432 336.5h1M432 337.5h1M492 337.5h1M432 339.5h1M432 340.5h1M493 340.5h1M432 341.5h1M493 341.5h1M432 342.5h1M493 342.5h1M433 344.5h1M493 344.5h1M493 345.5h1M492 348.5h1M438 349.5h1M492 349.5h1M441 350.5h1M443 351.5h1M447 352.5h1M450 353.5h1M455 355.5h1M458 356.5h1M468 357.5h1M477 359.5h1M487 359.5h1M480 360.5h1"/>
<path stroke="#1c82ff" stroke-width="1" d="M468 327.5h3M473 327.5h9M465 328.5h3M482 328.5h3M462 329.5h3M485 329.5h2M439 330.5h14M459 330.5h3M487 330.5h2M437 331.5h2M453 331.5h6M488 331.5h1M436 332.5h1M489 332.5h1M435 333.5h1M490 333.5h1M434 334.5h1M490 334.5h1M433 335.5h2M491 335.5h1M433 336.5h1M491 336.5h1M433 337.5h1M491 337.5h1M432 338.5h2M492 338.5h1M433 339.5h1M492 339.5h1M433 340.5h1M492 340.5h1M433 341.5h1M492 341.5h1M433 342.5h1M492 342.5h1M433 343.5h1M492 343.5h1M434 344.5h1M492 344.5h1M434 345.5h2M492 345.5h1M436 346.5h1M492 346.5h1M436 347.5h2M492 347.5h1M438 348.5h1M439 349.5h3M442 350.5h3M444 351.5h4M448 352.5h3M491 352.5h1M451 353.5h4M491 353.5h1M454 354.5h4M491 354.5h1M457 355.5h3M459 356.5h9M490 356.5h1M469 357.5h3M473 357.5h3M489 357.5h1M476 358.5h2M488 358.5h1M478 359.5h2M486 359.5h1M481 360.5h4"/>
<path stroke="#1996ff" stroke-width="1" d="M468 328.5h7M480 328.5h2M465 329.5h3M482 329.5h3M463 330.5h2M485 330.5h2M439 331.5h14M459 331.5h3M486 331.5h2M437 332.5h3M452 332.5h6M488 332.5h1M436 333.5h2M489 333.5h1M435 334.5h2M489 334.5h1M435 335.5h1M490 335.5h1M434 336.5h2M490 336.5h1M434 337.5h1M490 337.5h1M434 338.5h1M491 338.5h1M434 339.5h1M491 339.5h1M434 340.5h1M491 340.5h1M434 341.5h1M491 341.5h1M434 342.5h1M491 342.5h1M434 343.5h2M491 343.5h1M435 344.5h1M491 344.5h1M436 345.5h1M491 345.5h1M437 346.5h1M491 346.5h1M438 347.5h2M491 347.5h1M439 348.5h3M491 348.5h1M442 349.5h3M491 349.5h1M445 350.5h4M491 350.5h1M448 351.5h6M491 351.5h1M451 352.5h5M455 353.5h3M458 354.5h2M490 354.5h1M460 355.5h8M490 355.5h1M468 356.5h7M489 356.5h1M476 357.5h1M488 357.5h1M478 358.5h1M487 358.5h1M480 359.5h2M483 359.5h3"/>
<path stroke="#16aaff" stroke-width="1" d="M475 328.5h5M468 329.5h6M480 329.5h2M465 330.5h3M483 330.5h2M462 331.5h3M485 331.5h1M440 332.5h12M458 332.5h3M486 332.5h2M438 333.5h4M452 333.5h6M488 333.5h1M437 334.5h3M436 335.5h2M489 335.5h1M436 336.5h2M489 336.5h1M435 337.5h2M435 338.5h2M490 338.5h1M435 339.5h1M490 339.5h1M435 340.5h1M490 340.5h1M435 341.5h1M435 342.5h1M436 343.5h1M436 344.5h1M437 345.5h2M490 345.5h1M438 346.5h3M490 346.5h1M440 347.5h3M490 347.5h1M442 348.5h7M490 348.5h1M445 349.5h5M490 349.5h1M449 350.5h5M490 350.5h1M454 351.5h2M490 351.5h1M456 352.5h1M490 352.5h1M458 353.5h3M490 353.5h1M460 354.5h7M468 355.5h6M489 355.5h1M475 356.5h2M477 357.5h2M479 358.5h2M485 358.5h2M482 359.5h1"/>
<path stroke="#14befe" stroke-width="1" d="M474 329.5h6M468 330.5h3M481 330.5h2M465 331.5h3M483 331.5h2M461 332.5h3M485 332.5h1M442 333.5h10M458 333.5h2M487 333.5h1M440 334.5h3M450 334.5h7M488 334.5h1M438 335.5h3M488 335.5h1M438 336.5h1M437 337.5h1M489 337.5h1M437 338.5h1M489 338.5h1M436 339.5h2M489 339.5h1M436 340.5h1M436 341.5h1M490 341.5h1M436 342.5h2M490 342.5h1M437 343.5h1M490 343.5h1M437 344.5h3M490 344.5h1M439 345.5h2M441 346.5h2M489 346.5h1M443 347.5h7M489 347.5h1M449 348.5h4M489 348.5h1M450 349.5h5M454 350.5h2M456 351.5h1M457 352.5h4M461 353.5h4M489 353.5h1M467 354.5h7M489 354.5h1M474 355.5h2M477 356.5h1M488 356.5h1M479 357.5h1M486 357.5h2M481 358.5h4"/>
<path stroke="#19c6e0" stroke-width="1" d="M471 330.5h3M478 330.5h3M468 331.5h2M482 331.5h1M464 332.5h3M484 332.5h1M460 333.5h4M485 333.5h2M443 334.5h7M457 334.5h3M487 334.5h1M441 335.5h3M448 335.5h9M487 335.5h1M439 336.5h2M452 336.5h2M488 336.5h1M438 337.5h2M488 337.5h1M438 338.5h1M488 338.5h1M438 339.5h1M437 340.5h2M489 340.5h1M437 341.5h2M489 341.5h1M438 342.5h3M489 342.5h1M438 343.5h4M489 343.5h1M440 344.5h2M489 344.5h1M441 345.5h3M489 345.5h1M443 346.5h9M450 347.5h4M453 348.5h2M455 349.5h1M489 349.5h1M456 350.5h1M489 350.5h1M457 351.5h4M489 351.5h1M461 352.5h3M489 352.5h1M465 353.5h8M474 354.5h1M488 354.5h1M476 355.5h1M488 355.5h1M478 356.5h1M487 356.5h1M480 357.5h1M485 357.5h1"/>
<path stroke="#1dcec2" stroke-width="1" d="M474 330.5h4M470 331.5h2M479 331.5h3M467 332.5h2M482 332.5h2M464 333.5h2M484 333.5h1M460 334.5h3M486 334.5h1M444 335.5h4M457 335.5h3M441 336.5h11M454 336.5h4M487 336.5h1M440 337.5h2M451 337.5h5M487 337.5h1M439 338.5h2M439 339.5h2M488 339.5h1M439 340.5h3M488 340.5h1M439 341.5h4M441 342.5h3M442 343.5h3M442 344.5h10M444 345.5h9M488 345.5h1M452 346.5h3M488 346.5h1M454 347.5h2M488 347.5h1M455 348.5h2M488 348.5h1M456 349.5h2M488 349.5h1M457 350.5h3M461 351.5h2M464 352.5h4M488 352.5h1M473 353.5h2M488 353.5h1M475 354.5h1M477 355.5h1M487 355.5h1M479 356.5h1M486 356.5h1M481 357.5h4"/>
<path stroke="#22d6a3" stroke-width="1" d="M472 331.5h7M469 332.5h2M481 332.5h1M466 333.5h2M483 333.5h1M463 334.5h2M485 334.5h1M460 335.5h3M486 335.5h1M458 336.5h3M486 336.5h1M442 337.5h9M456 337.5h2M441 338.5h4M447 338.5h10M487 338.5h1M441 339.5h3M449 339.5h8M442 340.5h3M453 340.5h3M443 341.5h5M488 341.5h1M444 342.5h6M488 342.5h1M445 343.5h8M488 343.5h1M452 344.5h2M488 344.5h1M453 345.5h2M455 346.5h2M456 347.5h2M457 348.5h2M458 349.5h2M460 350.5h3M488 350.5h1M463 351.5h3M488 351.5h1M468 352.5h5M475 353.5h1M487 353.5h1M476 354.5h1M487 354.5h1M478 355.5h1M486 355.5h1M480 356.5h2M483 356.5h3"/>
<path stroke="#26de85" stroke-width="1" d="M471 332.5h1M478 332.5h3M468 333.5h2M482 333.5h1M465 334.5h2M484 334.5h1M463 335.5h1M485 335.5h1M461 336.5h2M458 337.5h3M486 337.5h1M445 338.5h2M457 338.5h2M444 339.5h5M457 339.5h1M487 339.5h1M445 340.5h8M456 340.5h2M487 340.5h1M448 341.5h9M450 342.5h7M453 343.5h4M454 344.5h4M455 345.5h3M487 345.5h1M457 346.5h2M487 346.5h1M458 347.5h1M487 347.5h1M459 348.5h1M487 348.5h1M460 349.5h2M487 349.5h1M463 350.5h2M487 350.5h1M466 351.5h4M487 351.5h1M473 352.5h2M487 352.5h1M476 353.5h1M477 354.5h1M486 354.5h1M479 355.5h2M484 355.5h2M482 356.5h1"/>
<path stroke="#33e26d" stroke-width="1" d="M472 332.5h6M470 333.5h1M480 333.5h2M467 334.5h2M483 334.5h1M464 335.5h2M484 335.5h1M463 336.5h1M485 336.5h1M461 337.5h2M459 338.5h3M486 338.5h1M458 339.5h2M458 340.5h1M457 341.5h2M487 341.5h1M457 342.5h2M487 342.5h1M457 343.5h2M487 343.5h1M458 344.5h1M487 344.5h1M458 345.5h1M459 346.5h1M459 347.5h1M460 348.5h2M462 349.5h2M465 350.5h4M470 351.5h3M475 352.5h1M477 353.5h1M486 353.5h1M478 354.5h2M485 354.5h1M481 355.5h3"/>
<path stroke="#48e558" stroke-width="1" d="M471 333.5h2M478 333.5h2M469 334.5h1M482 334.5h1M466 335.5h2M483 335.5h1M464 336.5h1M463 337.5h1M485 337.5h1M462 338.5h1M460 339.5h2M486 339.5h1M459 340.5h2M486 340.5h1M459 341.5h1M459 342.5h1M459 343.5h1M459 344.5h1M459 345.5h1M486 345.5h1M460 346.5h1M486 346.5h1M460 347.5h2M486 347.5h1M462 348.5h2M486 348.5h1M464 349.5h4M486 349.5h1M469 350.5h2M486 350.5h1M473 351.5h2M486 351.5h1M476 352.5h1M486 352.5h1M478 353.5h1M485 353.5h1M480 354.5h5"/>
<path stroke="#5ce844" stroke-width="1" d="M473 333.5h5M470 334.5h2M480 334.5h2M468 335.5h2M465 336.5h2M484 336.5h1M464 337.5h1M463 338.5h1M485 338.5h1M462 339.5h1M461 340.5h2M460 341.5h2M486 341.5h1M460 342.5h1M486 342.5h1M460 343.5h1M486 343.5h1M460 344.5h1M486 344.5h1M460 345.5h1M461 346.5h1M462 347.5h2M464 348.5h2M468 349.5h2M471 350.5h2M475 351.5h2M477 352.5h2M485 352.5h1M479 353.5h2M483 353.5h2"/>
<path stroke="#71ea2f" stroke-width="1" d="M472 334.5h3M478 334.5h2M470 335.5h2M482 335.5h1M467 336.5h2M483 336.5h1M465 337.5h1M484 337.5h1M464 338.5h1M463 339.5h1M485 339.5h1M463 340.5h1M485 340.5h1M462 341.5h1M461 342.5h2M461 343.5h1M461 344.5h2M461 345.5h2M485 345.5h1M462 346.5h2M485 346.5h1M464 347.5h2M485 347.5h1M466 348.5h3M485 348.5h1M470 349.5h1M485 349.5h1M473 350.5h2M485 350.5h1M477 351.5h1M485 351.5h1M479 352.5h1M484 352.5h1M481 353.5h2"/>
<path stroke="#8dec24" stroke-width="1" d="M475 334.5h3M472 335.5h2M480 335.5h2M469 336.5h2M482 336.5h1M466 337.5h2M483 337.5h1M465 338.5h1M484 338.5h1M464 339.5h1M464 340.5h1M463 341.5h1M485 341.5h1M463 342.5h1M485 342.5h1M462 343.5h2M485 343.5h1M463 344.5h1M485 344.5h1M463 345.5h2M464 346.5h2M466 347.5h2M469 348.5h1M471 349.5h2M475 350.5h2M478 351.5h2M484 351.5h1M480 352.5h4"/>
<path stroke="#aeed1f" stroke-width="1" d="M474 335.5h2M478 335.5h2M471 336.5h2M481 336.5h1M468 337.5h3M466 338.5h2M465 339.5h2M484 339.5h1M465 340.5h1M484 340.5h1M464 341.5h1M464 342.5h1M464 343.5h1M464 344.5h2M465 345.5h2M466 346.5h2M484 346.5h1M468 347.5h2M484 347.5h1M470 348.5h2M484 348.5h1M473 349.5h3M484 349.5h1M477 350.5h2M484 350.5h1M480 351.5h4"/>
<path stroke="#cfef19" stroke-width="1" d="M476 335.5h2M473 336.5h1M480 336.5h1M471 337.5h1M482 337.5h1M468 338.5h2M483 338.5h1M467 339.5h1M466 340.5h1M465 341.5h2M484 341.5h1M465 342.5h1M484 342.5h1M465 343.5h1M484 343.5h1M466 344.5h1M484 344.5h1M467 345.5h1M484 345.5h1M468 346.5h2M470 347.5h1M472 348.5h2M476 349.5h1M483 349.5h1M479 350.5h5"/>
<path stroke="#f0f014" stroke-width="1" d="M474 336.5h6M472 337.5h1M481 337.5h1M470 338.5h2M482 338.5h1M468 339.5h2M483 339.5h1M467 340.5h1M483 340.5h1M467 341.5h1M466 342.5h2M466 343.5h2M467 344.5h1M468 345.5h2M483 345.5h1M470 346.5h1M483 346.5h1M471 347.5h2M483 347.5h1M474 348.5h2M483 348.5h1M477 349.5h2M482 349.5h1"/>
<path stroke="#f4d511" stroke-width="1" d="M473 337.5h2M479 337.5h2M472 338.5h1M481 338.5h1M470 339.5h1M482 339.5h1M468 340.5h2M468 341.5h1M483 341.5h1M468 342.5h1M483 342.5h1M468 343.5h1M483 343.5h1M468 344.5h2M483 344.5h1M470 345.5h1M471 346.5h1M473 347.5h1M482 347.5h1M476 348.5h2M482 348.5h1M479 349.5h3"/>
<path stroke="#f9ba0e" stroke-width="1" d="M475 337.5h4M473 338.5h1M480 338.5h1M471 339.5h1M470 340.5h1M482 340.5h1M469 341.5h1M469 342.5h1M469 343.5h2M470 344.5h2M471 345.5h1M482 345.5h1M472 346.5h2M482 346.5h1M474 347.5h3M481 347.5h1M478 348.5h4"/>
<path stroke="#fda00b" stroke-width="1" d="M474 338.5h1M478 338.5h2M472 339.5h1M481 339.5h1M471 340.5h1M470 341.5h2M482 341.5h1M470 342.5h2M471 343.5h1M482 343.5h1M472 344.5h1M482 344.5h1M472 345.5h1M474 346.5h2M481 346.5h1M477 347.5h4"/>
<path stroke="#fe830a" stroke-width="1" d="M475 338.5h3M473 339.5h2M480 339.5h1M472 340.5h2M481 340.5h1M472 341.5h1M472 342.5h1M482 342.5h1M472 343.5h1M473 344.5h1M473 345.5h2M481 345.5h1M476 346.5h2M480 346.5h1"/>
<path stroke="#fd640a" stroke-width="1" d="M475 339.5h5M474 340.5h1M480 340.5h1M473 341.5h1M481 341.5h1M473 342.5h1M481 342.5h1M473 343.5h1M481 343.5h1M474 344.5h1M481 344.5h1M475 345.5h2M480 345.5h1M478 346.5h2"/>
<path stroke="#fb460a" stroke-width="1" d="M475 340.5h5M474 341.5h2M480 341.5h1M474 342.5h2M480 342.5h1M474 343.5h2M480 343.5h1M475 344.5h2M479 344.5h2M477 345.5h3"/>
<path stroke="#fa280a" stroke-width="1" d="M476 341.5h4M476 342.5h4M476 343.5h4M477 344.5h2"/>
<path stroke="#2f4bff" stroke-width=".8" d="M494 335.4h.8M493 347.4h.8M496 342.9h.8M494.5 339.9h.8M489.5 331.4h.8M494 342.4h.8M477 360.9h.8M493.5 348.4h.8M475 358.9h.8M478 326.4h.8M468.5 326.9h.8M466 358.4h.8M494.5 340.4h.8M470 326.4h.8M459.5 329.4h.8M474.5 323.4h.8M471 326.4h.8M498 332.9h.8M487 329.4h.8M501 347.4h.8M463 323.4h.8M492.5 336.9h.8M452.5 359.9h.8M494.5 324.4h.8M499.5 338.4h.8M496 358.4h.8M492 350.4h.8M454.5 359.4h.8M465.5 360.4h.8M492.5 330.9h.8M460 358.9h.8M467 325.9h.8M489.5 328.9h.8M488 328.9h.8M482 326.9h.8M497 350.9h.8M463.5 329.4h.8M492.5 333.9h.8M494.5 345.9h.8M454 358.4h.8M496.5 338.4h.8M495.5 330.9h.8M494.5 348.4h.8M495.5 348.9h.8M465 321.9h.8M478.5 324.9h.8M494.5 336.4h.8M493 330.9h.8M499.5 337.9h.8M498 338.9h.8M492.5 331.9h.8M472 326.4h.8M493.5 334.9h.8M496 342.4h.8M494.5 341.4h.8M484 327.4h.8M469 324.9h.8M493.5 331.9h.8M497.5 338.4h.8M495 342.4h.8M451 360.9h.8M464 362.9h.8M494.5 334.9h.8M493 350.4h.8M488 329.4h.8M470.5 321.4h.8M502 333.4h.8M459 322.9h.8M460 360.9h.8M494 324.9h.8M469 359.9h.8M488 328.4h.8M459.5 329.9h.8M495 338.9h.8M486.5 327.4h.8M456.5 357.4h.8M468 325.4h.8M497 334.4h.8M454 355.9h.8M490 331.4h.8M443 353.9h.8M498.5 346.4h.8M470.5 358.4h.8M496 340.4h.8M481.5 324.4h.8M444.5 352.4h.8M492.5 332.4h.8M452.5 358.9h.8M475 324.4h.8M492.5 353.4h.8M494.5 343.4h.8M480 326.9h.8M475 326.4h.8M488 324.4h.8M469.5 324.4h.8M500 346.4h.8M466.5 325.9h.8M492.5 334.4h.8M486 325.9h.8M465.5 324.9h.8M477 326.4h.8M456.5 329.4h.8M492 331.9h.8M444.5 352.9h.8M467 358.4h.8M468.5 326.4h.8M490 324.9h.8M475.5 360.4h.8M473 326.4h.8M478 325.4h.8M466 359.4h.8M498 336.4h.8M461.5 327.9h.8M490.5 332.4h.8M477.5 322.9h.8M458.5 357.4h.8M499.5 344.9h.8M494.5 343.9h.8M498 345.4h.8M471 358.9h.8M494.5 338.4h.8M459 327.9h.8M483.5 323.9h.8M477 325.9h.8M498 343.9h.8M466.5 357.9h.8M468 360.9h.8M495 329.9h.8M513 324.9h.8M480.5 323.9h.8M468.5 360.9h.8M493.5 333.4h.8M495.5 341.9h.8M498 330.4h.8M466.5 358.4h.8M502.5 328.9h.8M470 360.9h.8M466.5 328.4h.8M500 341.9h.8M478 320.4h.8M495 346.9h.8M461.5 358.9h.8M494 346.4h.8M461.5 357.9h.8M477 326.9h.8M460.5 324.9h.8M478.5 325.9h.8M485.5 360.4h.8M450 357.4h.8M473.5 359.9h.8M481 326.9h.8M490 327.4h.8M451 364.4h.8M455 362.9h.8M450.5 354.9h.8M493 333.4h.8M471.5 324.4h.8M458.5 328.9h.8M497 331.9h.8M466 327.4h.8M457.5 357.9h.8M472 325.4h.8M462.5 357.9h.8M457 330.4h.8M458.5 357.9h.8M494.5 331.9h.8M453 355.4h.8M494 340.4h.8M462.5 328.9h.8M466 324.9h.8M489.5 329.9h.8M493 327.4h.8M469 321.4h.8M452.5 355.4h.8M472 358.4h.8M452.5 354.9h.8M481.5 326.4h.8M484 327.9h.8M479.5 326.9h.8M471 326.9h.8M455 326.9h.8M455.5 331.4h.8M497 339.4h.8M498 325.4h.8M492.5 333.4h.8M485 326.9h.8M490 332.4h.8M487 322.4h.8M499.5 341.4h.8M495.5 339.9h.8M486 327.9h.8M494 347.4h.8M494 337.9h.8M464.5 358.4h.8M459.5 327.9h.8M470.5 358.9h.8M497.5 336.4h.8M460 362.4h.8M477.5 325.4h.8M474.5 323.9h.8M494 341.9h.8M461.5 357.4h.8M459 358.4h.8M492.5 330.4h.8M473.5 320.9h.8M453.5 326.4h.8M445.5 358.9h.8M469.5 325.9h.8M467.5 357.4h.8M493.5 346.9h.8M492 335.9h.8M470 324.4h.8M465.5 358.9h.8M460 360.4h.8M483.5 324.9h.8M463 357.4h.8M476.5 327.4h.8M497 348.9h.8M460.5 358.9h.8M492 353.4h.8M489 326.4h.8M473 358.9h.8M475.5 321.9h.8M475 327.4h.8M449 356.4h.8M469.5 326.4h.8M470.5 320.9h.8M468 359.4h.8M497 337.9h.8M464 360.9h.8M456.5 356.9h.8M461.5 329.4h.8M472.5 360.4h.8M492 327.4h.8M495 343.4h.8M460 325.9h.8M480.5 324.9h.8M470.5 325.4h.8M490.5 329.9h.8M492 331.4h.8M456 361.4h.8M484 326.4h.8M489 329.4h.8M496.5 340.4h.8M469 326.9h.8M452.5 357.4h.8M493 346.9h.8M477 325.4h.8M503 336.9h.8M472 326.9h.8M495.5 335.9h.8M485.5 327.4h.8M463.5 359.9h.8M502 328.4h.8M452 354.9h.8M494.5 335.4h.8M470 321.9h.8M494 336.4h.8M445.5 355.4h.8M495 334.4h.8M499.5 343.9h.8M493.5 328.9h.8M493.5 337.4h.8M470 359.9h.8M496 331.9h.8M491.5 330.9h.8M451 357.9h.8M465.5 360.9h.8M493 335.4h.8M491.5 327.4h.8M473 359.4h.8M466 323.9h.8M494.5 344.9h.8M464 329.4h.8M474 325.9h.8M491 332.4h.8M486 327.4h.8M484.5 321.9h.8M476 325.9h.8M458 362.4h.8M463.5 326.4h.8M496.5 332.9h.8M454.5 358.4h.8M475 326.9h.8M495 346.4h.8M468 358.9h.8M497 350.4h.8M494 337.4h.8M450 353.9h.8M466 325.4h.8M459.5 360.9h.8M444.5 354.4h.8M465.5 358.4h.8M465.5 357.4h.8M468.5 320.9h.8M482.5 324.4h.8M470.5 359.9h.8M452.5 356.9h.8M473.5 326.4h.8M476.5 326.9h.8M490 331.9h.8M457 329.9h.8M483.5 323.4h.8M466.5 327.9h.8M487.5 329.4h.8M493.5 325.9h.8M475.5 324.4h.8M495.5 323.4h.8M471.5 359.4h.8M479 322.4h.8M467 357.4h.8M463 328.9h.8M441.5 352.4h.8M490 330.4h.8M488 330.4h.8M492 332.9h.8M451 328.9h.8M496 335.4h.8M462.5 360.4h.8M495.5 336.4h.8M482 327.4h.8M482 323.4h.8M480.5 320.4h.8M492 330.4h.8M489.5 327.4h.8M474 324.9h.8M494 329.9h.8M495.5 327.4h.8M498 339.9h.8M496 333.4h.8M447 353.4h.8M453.5 355.9h.8M479.5 324.4h.8M472 324.9h.8M498.5 341.4h.8M455.5 325.9h.8M471.5 326.4h.8M486 326.9h.8M497.5 330.9h.8M482.5 326.4h.8M471 325.9h.8M458 356.9h.8M489 328.4h.8M492.5 335.4h.8M465 325.4h.8M494.5 340.9h.8M456 331.4h.8M494.5 338.9h.8M455.5 358.4h.8M481.5 325.9h.8M497.5 340.4h.8M494.5 326.9h.8M461.5 359.4h.8M456 358.9h.8M498 341.4h.8M497.5 348.9h.8M471 359.4h.8M495.5 343.9h.8M466 324.4h.8M474 326.9h.8M458 358.9h.8M487 327.4h.8M494 335.9h.8M460 329.4h.8M472 327.4h.8M454.5 358.9h.8M484.5 326.9h.8M499 331.4h.8M494.5 345.4h.8M496.5 338.9h.8M469 325.9h.8M497.5 334.9h.8M499 342.4h.8M451 356.4h.8M465 357.9h.8M495 337.4h.8M496.5 336.9h.8M467.5 327.4h.8M463 325.9h.8M449.5 354.4h.8M498 344.4h.8M476 326.4h.8M495.5 340.4h.8M458.5 359.4h.8M452 356.4h.8M494.5 348.9h.8M481 326.4h.8M474.5 359.9h.8M497 333.9h.8M460.5 329.9h.8M492 332.4h.8M453 355.9h.8M453.5 329.9h.8M473 326.9h.8M474.5 325.9h.8M490.5 331.9h.8M491 326.9h.8M495.5 337.4h.8M479.5 327.4h.8M492 336.4h.8M480.5 326.9h.8M442.5 353.9h.8M488.5 329.9h.8M492 334.9h.8M465 327.9h.8M470.5 363.9h.8M464 360.4h.8M457.5 358.9h.8M495.5 344.9h.8M454.5 356.4h.8M473 364.4h.8M457 327.9h.8M475 364.4h.8M495.5 329.9h.8M472.5 359.9h.8M472.5 324.9h.8M497 332.4h.8M433.5 347.9h.8M431 343.9h.8M443 352.9h.8M453 325.4h.8M447 328.9h.8M431.5 346.9h.8M438 329.9h.8M427.5 340.4h.8M430 333.4h.8M427.5 335.4h.8M434 332.9h.8M444 352.4h.8M432.5 343.4h.8M435.5 348.4h.8M439 328.4h.8M436.5 329.9h.8M455 330.4h.8M446.5 326.4h.8M435 327.9h.8M431.5 343.4h.8M428.5 341.9h.8M430 349.4h.8M447.5 329.9h.8M430.5 350.4h.8M429 346.9h.8M448.5 355.9h.8M426.5 342.4h.8M432.5 326.9h.8M432.5 332.9h.8M446.5 329.9h.8M435 331.9h.8M429.5 336.9h.8M447 329.9h.8M430 334.9h.8M431 334.4h.8M453 356.4h.8M446 326.9h.8M439.5 327.9h.8M437.5 349.9h.8M436 331.4h.8M451.5 327.9h.8M448 353.9h.8M430.5 344.4h.8M444 327.9h.8M429.5 355.4h.8M443 327.4h.8M431.5 342.9h.8M445.5 329.9h.8M430.5 342.4h.8M449 354.4h.8M432.5 344.4h.8M436.5 351.9h.8M448 328.9h.8M430.5 355.4h.8M452.5 329.4h.8M443.5 328.4h.8M435.5 349.4h.8M432 336.9h.8M443.5 327.9h.8M443.5 329.9h.8M430 329.4h.8M445.5 327.9h.8M431.5 335.4h.8M442.5 354.4h.8M430.5 343.9h.8M434.5 325.4h.8M432.5 343.9h.8M434.5 347.9h.8M431.5 332.4h.8M431.5 340.9h.8M430 332.9h.8M434.5 330.4h.8M435 332.9h.8M432.5 348.4h.8M436 347.9h.8M432.5 347.9h.8M431 335.4h.8M455.5 330.9h.8M450 329.9h.8M452 329.4h.8M431.5 336.4h.8M437 348.9h.8M428.5 340.4h.8M438 352.9h.8M442.5 328.9h.8M440 329.9h.8M449 325.9h.8M426.5 336.9h.8M441 354.9h.8M431 342.9h.8M444 322.9h.8M444 329.4h.8M446.5 327.9h.8M429 336.4h.8M432 341.9h.8M440 328.9h.8M426.5 342.9h.8M444.5 329.4h.8M443 326.4h.8M429.5 343.9h.8M442 329.4h.8M437 350.4h.8M447 324.9h.8M428.5 338.9h.8M423.5 347.9h.8M442 353.4h.8M439.5 351.4h.8M433.5 330.4h.8M447 352.4h.8M447.5 325.9h.8M444.5 326.9h.8M451.5 330.4h.8M431 344.9h.8M444.5 329.9h.8M442 327.9h.8M438 329.4h.8M423.5 338.9h.8M429.5 345.9h.8M421 336.9h.8M432 334.9h.8M439 329.4h.8M453 326.9h.8M437 351.4h.8M441.5 356.9h.8M433.5 328.4h.8M442.5 329.4h.8M441.5 327.9h.8M450.5 327.4h.8M431 341.9h.8M430 331.9h.8M449.5 328.4h.8M456 330.4h.8M451 329.9h.8M430 337.9h.8M432 344.9h.8M435.5 330.4h.8M432 349.9h.8M433.5 331.4h.8M439.5 325.9h.8M429.5 341.4h.8M430.5 333.9h.8M430.5 335.9h.8M436.5 330.9h.8M431 342.4h.8M433 348.4h.8M447.5 330.4h.8M433 331.4h.8M437 325.9h.8M435.5 347.9h.8M433 333.9h.8M438.5 350.9h.8M431.5 343.9h.8M441 355.9h.8M450.5 330.4h.8M431.5 341.4h.8M429.5 342.4h.8M423.5 339.4h.8M433 347.4h.8M433 330.4h.8M433.5 333.4h.8M433.5 332.4h.8M434 328.4h.8M441 353.4h.8M431 341.4h.8M443 328.9h.8M464 327.4h.8M451.5 328.9h.8M432.5 334.9h.8M447.5 327.4h.8M431.5 338.4h.8M449.5 326.9h.8M439.5 329.4h.8M427.5 347.9h.8M431.5 347.9h.8M430.5 336.4h.8M437.5 350.9h.8M450.5 326.4h.8M435 350.4h.8M444 353.4h.8M445 327.9h.8M439.5 329.9h.8M432.5 349.4h.8M429.5 339.4h.8M446.5 330.4h.8M428 335.9h.8M428 343.9h.8M426 336.4h.8M429.5 341.9h.8M437.5 330.9h.8M426 339.4h.8M442.5 326.9h.8M431.5 348.4h.8M431 340.4h.8M422.5 345.9h.8M435.5 352.4h.8M438 355.9h.8M435.5 331.9h.8M432.5 331.4h.8M445 327.4h.8M434.5 331.4h.8M449.5 353.4h.8M436.5 348.9h.8M433.5 332.9h.8M438 330.4h.8M430 343.9h.8M425.5 343.9h.8M450.5 329.9h.8M435.5 331.4h.8M443.5 325.9h.8M429.5 339.9h.8M431.5 346.4h.8M433 334.9h.8M429.5 342.9h.8M435.5 348.9h.8M433.5 346.9h.8M445.5 324.9h.8M437.5 326.4h.8M427 339.4h.8M430 347.9h.8M432.5 332.4h.8M437.5 329.9h.8M431 339.4h.8M440.5 329.9h.8M439 327.9h.8M428 353.9h.8M426.5 338.9h.8M426.5 336.4h.8M431 351.9h.8M433 346.9h.8M460 325.4h.8M431 339.9h.8M426 342.4h.8M419 346.9h.8M442.5 327.9h.8M436 331.9h.8M436.5 325.9h.8M430 343.4h.8M433 344.4h.8M428 355.9h.8M435 330.9h.8M437 324.9h.8M428.5 346.4h.8M425.5 333.9h.8M442.5 323.9h.8M444.5 353.4h.8M437.5 349.4h.8M446 360.9h.8M442 351.9h.8M429 340.9h.8M429.5 348.9h.8M453 328.9h.8M428 339.4h.8M430 338.4h.8M430.5 338.4h.8M443.5 352.9h.8M441.5 357.4h.8M434 345.9h.8M455.5 330.4h.8M431 345.4h.8M429.5 334.9h.8M424.5 337.9h.8M431.5 337.9h.8M428.5 330.9h.8M438 349.9h.8M433 335.9h.8M429 334.4h.8M440.5 326.9h.8M426.5 339.4h.8M426 341.4h.8M441 328.9h.8M440 327.4h.8M429.5 343.4h.8M431 336.9h.8M454 329.4h.8M428.5 331.9h.8M430.5 351.4h.8M440 350.9h.8M432.5 333.9h.8M451 328.4h.8M434 330.4h.8M432.5 349.9h.8M430.5 348.4h.8M437.5 357.4h.8M457.5 329.4h.8M438.5 330.4h.8M426 341.9h.8M443 320.4h.8M446 328.4h.8M429 337.4h.8M426 343.4h.8M436 330.9h.8M434.5 348.4h.8M448 327.4h.8M449 329.9h.8M427.5 339.9h.8M444.5 327.9h.8M442 351.4h.8M427 338.9h.8M428.5 344.9h.8M447.5 326.4h.8M428.5 344.4h.8M433 331.9h.8M432 347.4h.8M430.5 340.9h.8M441 328.4h.8M432 342.9h.8M436.5 349.4h.8M443 355.4h.8M446 354.9h.8M439.5 350.9h.8M454 328.4h.8M435 331.4h.8M430.5 336.9h.8M449.5 328.9h.8M431 336.4h.8M434 328.9h.8M432.5 329.4h.8M426.5 340.4h.8M460.5 327.9h.8M443 323.9h.8M436 358.9h.8M430 338.9h.8M436 328.9h.8M429 339.9h.8M429.5 335.9h.8M434.5 346.9h.8M437 327.4h.8M431 340.9h.8M433.5 353.9h.8M424.5 348.9h.8M446.5 327.4h.8M434 348.9h.8M435 347.9h.8M457 328.9h.8M436 330.4h.8M431.5 330.9h.8M443 352.4h.8M431 345.9h.8M431.5 337.4h.8M449 327.9h.8M423.5 338.4h.8M434.5 350.4h.8M428 334.4h.8M448 328.4h.8M447.5 355.4h.8M444 354.4h.8M424.5 342.9h.8M430 352.4h.8M453 329.9h.8M431.5 345.4h.8M431 352.9h.8M481 364.4h.8M493 354.9h.8M495 345.4h.8M475 359.9h.8M486.5 361.4h.8M474 360.4h.8M491.5 356.9h.8M489 363.9h.8M477 359.9h.8M483.5 363.9h.8M492 355.4h.8M494.5 350.4h.8M485.5 363.4h.8M489.5 361.4h.8M477.5 360.9h.8M484.5 361.4h.8M489.5 358.9h.8M480 360.4h.8M499 348.4h.8M492 353.9h.8M492.5 358.4h.8M477.5 362.9h.8M478 360.9h.8M492.5 357.4h.8M484 361.9h.8M491 357.4h.8M482.5 361.9h.8M492.5 359.4h.8M495 351.9h.8M477.5 361.9h.8M485 361.9h.8M493 349.4h.8M483 362.4h.8M493 355.4h.8M491 355.4h.8M494.5 349.9h.8M490 362.9h.8M478.5 361.4h.8M475 358.4h.8M487.5 362.4h.8M475.5 359.9h.8M492 351.4h.8M489 361.9h.8M479.5 362.9h.8M495 353.9h.8M483.5 362.4h.8M489.5 360.9h.8M485 361.4h.8M493 360.9h.8M486 363.9h.8M494 354.4h.8M492 350.9h.8M486.5 360.4h.8M488 362.4h.8M493.5 350.9h.8M482 362.9h.8M483.5 363.4h.8M496 357.4h.8M485.5 360.9h.8M490.5 358.4h.8M487.5 360.9h.8M483.5 361.9h.8M488.5 359.9h.8M495.5 361.9h.8M486.5 360.9h.8M483.5 361.4h.8M492.5 350.9h.8M481.5 361.4h.8M492.5 360.9h.8M479.5 361.9h.8M488 362.9h.8M486.5 363.4h.8M495.5 355.9h.8M476 360.9h.8M486 363.4h.8M496 352.4h.8M493.5 354.4h.8M492 359.4h.8M490.5 358.9h.8M475 359.4h.8M494 358.4h.8M482.5 364.4h.8M494 354.9h.8M493 356.4h.8M483.5 362.9h.8M491 356.4h.8M475 360.9h.8M494.5 354.9h.8M479.5 360.9h.8M476.5 360.4h.8M484 324.9h.8M451.5 356.4h.8M458.5 364.4h.8M473.5 360.4h.8M447.5 353.9h.8M464.5 327.4h.8M497 342.4h.8M458.5 326.4h.8M447.5 355.9h.8M448 356.9h.8M482 325.4h.8M493.5 333.9h.8M442.5 355.9h.8M499 342.9h.8M494 348.4h.8M439 353.9h.8M488.5 360.4h.8M451.5 328.4h.8M442.5 352.9h.8M473 360.9h.8M441.5 358.4h.8M457 362.4h.8M494.5 333.4h.8M459.5 328.9h.8M490 330.9h.8M467.5 324.4h.8M464 324.9h.8M488 326.9h.8M432 339.4h.8M432.5 354.9h.8M432 340.4h.8M466.5 325.4h.8M461.5 328.9h.8M470 358.4h.8M448.5 329.9h.8M448 354.9h.8M446 363.4h.8M434.5 357.9h.8M485.5 327.9h.8M474.5 360.4h.8M464 326.9h.8M443.5 354.4h.8M451.5 355.4h.8M447.5 357.4h.8M454.5 329.4h.8M458.5 360.4h.8M463.5 323.4h.8M495 344.4h.8M489 331.4h.8M456 359.4h.8M439.5 355.4h.8M461.5 327.4h.8M454 357.9h.8M448 358.9h.8M454.5 361.4h.8M459 358.9h.8M478 361.4h.8M454 331.4h.8M443.5 353.9h.8M460 357.4h.8M464 358.4h.8M486.5 328.9h.8M456 357.9h.8M445 353.4h.8M495 343.9h.8M433.5 333.9h.8M442.5 355.4h.8M457 357.9h.8M457 330.9h.8M447.5 354.4h.8M449 355.4h.8M448 360.9h.8M467 361.9h.8M429.5 348.4h.8M460.5 358.4h.8M447 360.9h.8M443 329.9h.8M456 356.9h.8M500 347.9h.8M447.5 353.4h.8M462 328.9h.8M443 351.4h.8M483.5 325.4h.8M455 357.4h.8M467 357.9h.8M449 357.4h.8M437 350.9h.8M468.5 360.4h.8M449.5 327.4h.8M472 360.9h.8M494.5 333.9h.8M449.5 360.4h.8M498.5 344.9h.8M456.5 357.9h.8M460.5 328.4h.8M471.5 362.4h.8M457 325.9h.8M441.5 351.9h.8M453 328.4h.8M470.5 362.4h.8M437.5 354.4h.8M460 363.4h.8M437 354.9h.8M473 361.4h.8M467.5 358.9h.8M465.5 361.4h.8M445 357.4h.8M501 343.4h.8M457 356.4h.8M467.5 325.9h.8M459.5 357.4h.8M467 360.4h.8M425.5 345.4h.8M495 347.9h.8M463.5 325.9h.8M465.5 359.4h.8M441 351.4h.8M444.5 355.9h.8M457.5 330.4h.8M430.5 349.4h.8M441 329.4h.8M457.5 356.4h.8M450 354.4h.8M458.5 361.4h.8M506 339.4h.8M427.5 344.9h.8M498.5 346.9h.8M485 326.4h.8M450.5 359.4h.8M462 357.9h.8M456.5 358.4h.8M453.5 356.4h.8M455 328.9h.8M442 355.9h.8M493.5 347.9h.8M458.5 324.9h.8M460 329.9h.8M459.5 330.4h.8M495 335.4h.8M479 325.4h.8M469.5 358.9h.8M455 330.9h.8M454 357.4h.8M453 354.9h.8M446 362.4h.8M445 362.4h.8M459.5 327.4h.8M449.5 356.9h.8M446 359.9h.8M450.5 355.9h.8M496.5 339.4h.8M456.5 362.9h.8M455.5 356.9h.8M435 352.4h.8M460 358.4h.8M499 338.9h.8M461 328.4h.8M445.5 356.9h.8M442 361.4h.8M452 327.4h.8M470.5 326.4h.8M454.5 325.4h.8M433.5 349.4h.8M435.5 354.4h.8M462.5 328.4h.8M463.5 328.9h.8M452 356.9h.8M455 356.9h.8M429 344.4h.8M447.5 329.4h.8M455.5 356.4h.8M457 331.4h.8M473.5 360.9h.8M476 359.9h.8M445.5 356.4h.8M463 358.4h.8M471.5 360.9h.8M445 363.4h.8M493.5 337.9h.8M447 358.4h.8M479.5 323.9h.8M497 351.9h.8M458.5 329.4h.8M468.5 358.4h.8M496 345.4h.8M461.5 360.4h.8M505 335.9h.8M451.5 358.4h.8M496 338.9h.8M450.5 360.4h.8M454.5 355.9h.8M449.5 353.9h.8M446.5 356.4h.8M459.5 362.4h.8M495 339.4h.8M482.5 319.4h.8M464 306.9h.8M457.5 328.4h.8M454 326.9h.8M512 316.9h.8M492.5 318.4h.8M465 325.9h.8M475.5 313.4h.8M477.5 305.4h.8M494.5 325.9h.8M510.5 314.9h.8M486 313.9h.8M420 303.4h.8M492 361.4h.8M508 347.4h.8M461 361.9h.8M454.5 304.9h.8M504 333.9h.8M480 307.4h.8M474 302.4h.8M495 315.9h.8M455 313.4h.8"/>
<rect x="415" y="259.6" width="107.2" height="105.4" fill="none" stroke="#6a6a6a" stroke-width="0.7"/>
<line x1="412.8" y1="267.8" x2="415" y2="267.8" stroke="#555" stroke-width="0.6"/>
<text x="411" y="269.9" font-size="6.2" text-anchor="end" fill="#333">10<tspan font-size="4" dy="-2.6">6</tspan></text>
<line x1="412.8" y1="287.8" x2="415" y2="287.8" stroke="#555" stroke-width="0.6"/>
<text x="411" y="289.9" font-size="6.2" text-anchor="end" fill="#333">10<tspan font-size="4" dy="-2.6">5</tspan></text>
<line x1="412.8" y1="307.5" x2="415" y2="307.5" stroke="#555" stroke-width="0.6"/>
<text x="411" y="309.6" font-size="6.2" text-anchor="end" fill="#333">10<tspan font-size="4" dy="-2.6">4</tspan></text>
<line x1="412.8" y1="331" x2="415" y2="331" stroke="#555" stroke-width="0.6"/>
<text x="411" y="333.1" font-size="6.2" text-anchor="end" fill="#333">10<tspan font-size="4" dy="-2.6">3</tspan></text>
<line x1="412.8" y1="339.8" x2="415" y2="339.8" stroke="#555" stroke-width="0.6"/>
<text x="410.3" y="341.9" font-size="6.2" text-anchor="end" fill="#333">0</text>
<line x1="413.8" y1="281.78" x2="415" y2="281.78" stroke="#777" stroke-width="0.45"/>
<line x1="413.8" y1="278.26" x2="415" y2="278.26" stroke="#777" stroke-width="0.45"/>
<line x1="413.8" y1="275.76" x2="415" y2="275.76" stroke="#777" stroke-width="0.45"/>
<line x1="413.8" y1="273.82" x2="415" y2="273.82" stroke="#777" stroke-width="0.45"/>
<line x1="413.8" y1="272.24" x2="415" y2="272.24" stroke="#777" stroke-width="0.45"/>
<line x1="413.8" y1="270.9" x2="415" y2="270.9" stroke="#777" stroke-width="0.45"/>
<line x1="413.8" y1="269.74" x2="415" y2="269.74" stroke="#777" stroke-width="0.45"/>
<line x1="413.8" y1="268.72" x2="415" y2="268.72" stroke="#777" stroke-width="0.45"/>
<line x1="413.8" y1="301.57" x2="415" y2="301.57" stroke="#777" stroke-width="0.45"/>
<line x1="413.8" y1="298.1" x2="415" y2="298.1" stroke="#777" stroke-width="0.45"/>
<line x1="413.8" y1="295.64" x2="415" y2="295.64" stroke="#777" stroke-width="0.45"/>
<line x1="413.8" y1="293.73" x2="415" y2="293.73" stroke="#777" stroke-width="0.45"/>
<line x1="413.8" y1="292.17" x2="415" y2="292.17" stroke="#777" stroke-width="0.45"/>
<line x1="413.8" y1="290.85" x2="415" y2="290.85" stroke="#777" stroke-width="0.45"/>
<line x1="413.8" y1="289.71" x2="415" y2="289.71" stroke="#777" stroke-width="0.45"/>
<line x1="413.8" y1="288.7" x2="415" y2="288.7" stroke="#777" stroke-width="0.45"/>
<line x1="413.8" y1="323.93" x2="415" y2="323.93" stroke="#777" stroke-width="0.45"/>
<line x1="413.8" y1="319.79" x2="415" y2="319.79" stroke="#777" stroke-width="0.45"/>
<line x1="413.8" y1="316.85" x2="415" y2="316.85" stroke="#777" stroke-width="0.45"/>
<line x1="413.8" y1="314.57" x2="415" y2="314.57" stroke="#777" stroke-width="0.45"/>
<line x1="413.8" y1="312.71" x2="415" y2="312.71" stroke="#777" stroke-width="0.45"/>
<line x1="413.8" y1="311.14" x2="415" y2="311.14" stroke="#777" stroke-width="0.45"/>
<line x1="413.8" y1="309.78" x2="415" y2="309.78" stroke="#777" stroke-width="0.45"/>
<line x1="413.8" y1="308.58" x2="415" y2="308.58" stroke="#777" stroke-width="0.45"/>
<line x1="413.8" y1="344.5" x2="415" y2="344.5" stroke="#777" stroke-width="0.45"/>
<line x1="413.8" y1="349" x2="415" y2="349" stroke="#777" stroke-width="0.45"/>
<line x1="413.8" y1="353.5" x2="415" y2="353.5" stroke="#777" stroke-width="0.45"/>
<line x1="413.8" y1="358" x2="415" y2="358" stroke="#777" stroke-width="0.45"/>
<line x1="413.8" y1="362.5" x2="415" y2="362.5" stroke="#777" stroke-width="0.45"/>
<path d="M413.2 338.8l1.8 1 -1.8 1z" stroke="#000" stroke-width="0.5" fill="#000"/>
<line x1="422.5" y1="365" x2="422.5" y2="367.2" stroke="#555" stroke-width="0.6"/>
<text x="423.1" y="375.3" font-size="6.2" text-anchor="middle" fill="#333">−10<tspan font-size="4" dy="-2.6">3</tspan></text>
<line x1="439.7" y1="365" x2="439.7" y2="367.2" stroke="#555" stroke-width="0.6"/>
<text x="439.7" y="375.3" font-size="6.2" text-anchor="middle" fill="#333">0</text>
<line x1="456.6" y1="365" x2="456.6" y2="367.2" stroke="#555" stroke-width="0.6"/>
<text x="457.2" y="375.3" font-size="6.2" text-anchor="middle" fill="#333">10<tspan font-size="4" dy="-2.6">3</tspan></text>
<line x1="486.6" y1="365" x2="486.6" y2="367.2" stroke="#555" stroke-width="0.6"/>
<text x="487.2" y="375.3" font-size="6.2" text-anchor="middle" fill="#333">10<tspan font-size="4" dy="-2.6">4</tspan></text>
<line x1="511.7" y1="365" x2="511.7" y2="367.2" stroke="#555" stroke-width="0.6"/>
<text x="512.3" y="375.3" font-size="6.2" text-anchor="middle" fill="#333">10<tspan font-size="4" dy="-2.6">5</tspan></text>
<line x1="465.63" y1="365" x2="465.63" y2="366.2" stroke="#777" stroke-width="0.45"/>
<line x1="470.91" y1="365" x2="470.91" y2="366.2" stroke="#777" stroke-width="0.45"/>
<line x1="474.66" y1="365" x2="474.66" y2="366.2" stroke="#777" stroke-width="0.45"/>
<line x1="477.57" y1="365" x2="477.57" y2="366.2" stroke="#777" stroke-width="0.45"/>
<line x1="479.94" y1="365" x2="479.94" y2="366.2" stroke="#777" stroke-width="0.45"/>
<line x1="481.95" y1="365" x2="481.95" y2="366.2" stroke="#777" stroke-width="0.45"/>
<line x1="483.69" y1="365" x2="483.69" y2="366.2" stroke="#777" stroke-width="0.45"/>
<line x1="485.23" y1="365" x2="485.23" y2="366.2" stroke="#777" stroke-width="0.45"/>
<line x1="494.16" y1="365" x2="494.16" y2="366.2" stroke="#777" stroke-width="0.45"/>
<line x1="498.58" y1="365" x2="498.58" y2="366.2" stroke="#777" stroke-width="0.45"/>
<line x1="501.71" y1="365" x2="501.71" y2="366.2" stroke="#777" stroke-width="0.45"/>
<line x1="504.14" y1="365" x2="504.14" y2="366.2" stroke="#777" stroke-width="0.45"/>
<line x1="506.13" y1="365" x2="506.13" y2="366.2" stroke="#777" stroke-width="0.45"/>
<line x1="507.81" y1="365" x2="507.81" y2="366.2" stroke="#777" stroke-width="0.45"/>
<line x1="509.27" y1="365" x2="509.27" y2="366.2" stroke="#777" stroke-width="0.45"/>
<line x1="510.55" y1="365" x2="510.55" y2="366.2" stroke="#777" stroke-width="0.45"/>
<line x1="426.76" y1="365" x2="426.76" y2="366.2" stroke="#777" stroke-width="0.45"/>
<line x1="431.02" y1="365" x2="431.02" y2="366.2" stroke="#777" stroke-width="0.45"/>
<line x1="435.29" y1="365" x2="435.29" y2="366.2" stroke="#777" stroke-width="0.45"/>
<line x1="439.55" y1="365" x2="439.55" y2="366.2" stroke="#777" stroke-width="0.45"/>
<line x1="443.81" y1="365" x2="443.81" y2="366.2" stroke="#777" stroke-width="0.45"/>
<line x1="448.08" y1="365" x2="448.08" y2="366.2" stroke="#777" stroke-width="0.45"/>
<line x1="452.34" y1="365" x2="452.34" y2="366.2" stroke="#777" stroke-width="0.45"/>
<line x1="519.26" y1="365" x2="519.26" y2="366.2" stroke="#777" stroke-width="0.45"/>
<path d="M438.7 366.8l1 -1.8 1 1.8z" stroke="#000" stroke-width="0.5" fill="#000"/>
<text x="471.3" y="387.8" font-size="7.33" text-anchor="middle">CD4 BV605</text>
<text transform="translate(395.5 312.2) rotate(-90)" font-size="6.9" text-anchor="middle">HIVp24 PE</text>
<polygon points="420.2,273.5 487.5,272.8 482.4,313.3 426,324.4" fill="none" stroke="#222" stroke-width="0.8"/>
<text x="446.5" y="270.3" font-size="6.2" text-anchor="middle">p24<tspan font-size="4" dy="-2.4">+</tspan></text>
<text x="450" y="279.8" font-size="6.2" text-anchor="middle">6.39 × 10<tspan font-size="4" dy="-2.6">−3</tspan></text>
<text x="504.6" y="271.3" font-size="6.2" text-anchor="end">FMO</text>
<path stroke="#1e6eff" stroke-width="1" d="M608 287.5h1M614 287.5h1M604 288.5h1M618 290.5h1M618 294.5h1M617 295.5h1M595 296.5h1M597 299.5h1M600 309.5h1M599 311.5h1M602 316.5h1M601 329.5h1M595 333.5h1M650 333.5h1M593 334.5h1M593 335.5h1M592 337.5h1M608 344.5h1M595 345.5h1M601 346.5h2M631 349.5h1M632 350.5h1"/>
<path stroke="#1c82ff" stroke-width="1" d="M609 287.5h5M605 288.5h11M602 289.5h4M615 289.5h2M599 290.5h6M616 290.5h2M598 291.5h3M616 291.5h3M597 292.5h2M616 292.5h3M596 293.5h3M614 293.5h5M596 294.5h4M613 294.5h5M596 295.5h4M613 295.5h2M596 296.5h4M612 296.5h2M595 297.5h4M610 297.5h3M596 298.5h4M609 298.5h2M598 299.5h5M607 299.5h3M599 300.5h9M600 301.5h3M599 310.5h4M600 311.5h4M600 312.5h4M600 313.5h4M600 314.5h4M600 315.5h3M600 316.5h2M600 317.5h2M600 318.5h2M623 324.5h6M619 325.5h4M631 325.5h8M643 325.5h2M617 326.5h2M645 326.5h1M615 327.5h2M647 327.5h1M613 328.5h2M599 329.5h2M611 329.5h3M648 329.5h1M598 330.5h13M597 331.5h12M649 331.5h1M597 332.5h3M596 333.5h3M594 334.5h4M650 334.5h1M594 335.5h3M650 335.5h1M593 336.5h3M593 337.5h3M650 337.5h1M593 338.5h2M593 339.5h2M593 340.5h2M593 341.5h3M594 342.5h2M605 342.5h7M649 342.5h1M594 343.5h3M604 343.5h9M649 343.5h1M595 344.5h3M603 344.5h5M611 344.5h4M596 345.5h10M614 345.5h4M648 345.5h1M598 346.5h3M603 346.5h3M618 346.5h5M648 346.5h1M624 347.5h5M630 348.5h2M647 348.5h1M632 349.5h1M646 349.5h1M633 350.5h1M646 350.5h1M634 351.5h1M645 351.5h1M636 352.5h1M643 352.5h2M638 353.5h4"/>
<path stroke="#1996ff" stroke-width="1" d="M606 289.5h9M605 290.5h11M601 291.5h6M613 291.5h3M599 292.5h7M612 292.5h4M599 293.5h5M612 293.5h2M600 294.5h3M611 294.5h2M600 295.5h3M610 295.5h3M600 296.5h3M609 296.5h3M599 297.5h6M607 297.5h3M600 298.5h9M603 299.5h4M623 325.5h8M639 325.5h4M619 326.5h3M633 326.5h5M644 326.5h1M617 327.5h1M646 327.5h1M615 328.5h2M647 328.5h1M614 329.5h1M611 330.5h3M648 330.5h1M609 331.5h3M601 332.5h9M649 332.5h1M599 333.5h10M598 334.5h11M597 335.5h12M596 336.5h13M596 337.5h2M599 337.5h9M595 338.5h8M605 338.5h3M595 339.5h9M605 339.5h3M649 339.5h1M595 340.5h14M649 340.5h1M596 341.5h17M649 341.5h1M596 342.5h9M612 342.5h2M597 343.5h7M613 343.5h3M648 343.5h1M598 344.5h5M615 344.5h3M648 344.5h1M618 345.5h3M623 346.5h4M647 346.5h1M629 347.5h3M647 347.5h1M632 348.5h1M646 348.5h1M633 349.5h1M645 349.5h1M634 350.5h1M645 350.5h1M635 351.5h2M643 351.5h2M637 352.5h6"/>
<path stroke="#16aaff" stroke-width="1" d="M607 291.5h6M606 292.5h6M604 293.5h8M603 294.5h8M603 295.5h7M603 296.5h6M605 297.5h2M622 326.5h11M638 326.5h2M643 326.5h1M618 327.5h3M645 327.5h1M617 328.5h1M646 328.5h1M615 329.5h2M647 329.5h1M614 330.5h1M612 331.5h2M648 331.5h1M610 332.5h2M609 333.5h2M649 333.5h1M609 334.5h2M649 334.5h1M609 335.5h1M649 335.5h1M609 336.5h1M649 336.5h1M598 337.5h1M608 337.5h2M649 337.5h1M603 338.5h2M608 338.5h3M649 338.5h1M604 339.5h1M608 339.5h4M609 340.5h5M613 341.5h2M614 342.5h2M648 342.5h1M616 343.5h1M618 344.5h2M621 345.5h4M647 345.5h1M627 346.5h4M632 347.5h1M646 347.5h1M633 348.5h1M645 348.5h1M634 349.5h1M644 349.5h1M635 350.5h1M643 350.5h2M637 351.5h6"/>
<path stroke="#14befe" stroke-width="1" d="M640 326.5h3M621 327.5h3M631 327.5h7M644 327.5h1M618 328.5h2M617 329.5h1M615 330.5h2M647 330.5h1M614 331.5h2M612 332.5h2M648 332.5h1M611 333.5h2M611 334.5h2M610 335.5h3M610 336.5h3M610 337.5h3M611 338.5h3M612 339.5h2M614 340.5h1M648 340.5h1M615 341.5h1M648 341.5h1M616 342.5h1M617 343.5h2M647 343.5h1M620 344.5h4M647 344.5h1M625 345.5h6M631 346.5h2M646 346.5h1M633 347.5h1M645 347.5h1M634 348.5h1M644 348.5h1M635 349.5h1M636 350.5h4M642 350.5h1"/>
<path stroke="#19c6e0" stroke-width="1" d="M624 327.5h7M638 327.5h1M643 327.5h1M620 328.5h2M635 328.5h1M645 328.5h1M618 329.5h2M646 329.5h1M617 330.5h1M616 331.5h1M647 331.5h1M614 332.5h2M613 333.5h2M648 333.5h1M613 334.5h1M613 335.5h1M613 336.5h1M613 337.5h1M614 338.5h1M614 339.5h2M648 339.5h1M615 340.5h1M616 341.5h1M617 342.5h2M647 342.5h1M619 343.5h4M624 344.5h6M631 345.5h2M646 345.5h1M633 346.5h1M645 346.5h1M634 347.5h1M635 348.5h1M636 349.5h3M643 349.5h1M640 350.5h2"/>
<path stroke="#1dcec2" stroke-width="1" d="M639 327.5h2M642 327.5h1M622 328.5h13M636 328.5h2M644 328.5h1M620 329.5h2M618 330.5h2M646 330.5h1M617 331.5h1M616 332.5h1M615 333.5h1M614 334.5h2M648 334.5h1M614 335.5h1M648 335.5h1M614 336.5h1M648 336.5h1M614 337.5h1M648 337.5h1M615 338.5h1M648 338.5h1M616 339.5h1M616 340.5h1M617 341.5h1M647 341.5h1M619 342.5h3M623 343.5h7M646 343.5h1M630 344.5h3M646 344.5h1M633 345.5h1M645 345.5h1M634 346.5h1M635 347.5h1M644 347.5h1M636 348.5h2M643 348.5h1M639 349.5h4"/>
<path stroke="#22d6a3" stroke-width="1" d="M641 327.5h1M638 328.5h1M622 329.5h1M632 329.5h5M645 329.5h1M620 330.5h1M618 331.5h2M617 332.5h1M647 332.5h1M616 333.5h1M616 334.5h1M615 335.5h1M615 336.5h1M615 337.5h1M616 338.5h1M617 339.5h1M617 340.5h2M647 340.5h1M618 341.5h3M622 342.5h3M646 342.5h1M630 343.5h2M633 344.5h1M634 345.5h1M635 346.5h1M644 346.5h1M636 347.5h2M643 347.5h1M638 348.5h5"/>
<path stroke="#26de85" stroke-width="1" d="M639 328.5h1M643 328.5h1M623 329.5h9M637 329.5h1M621 330.5h1M633 330.5h2M620 331.5h1M646 331.5h1M618 332.5h2M617 333.5h2M647 333.5h1M617 334.5h1M616 335.5h2M616 336.5h1M616 337.5h2M617 338.5h1M618 339.5h1M647 339.5h1M619 340.5h2M621 341.5h3M625 342.5h6M632 343.5h2M634 344.5h1M645 344.5h1M635 345.5h1M644 345.5h1M636 346.5h1M643 346.5h1M638 347.5h5"/>
<path stroke="#33e26d" stroke-width="1" d="M640 328.5h3M638 329.5h1M644 329.5h1M622 330.5h2M627 330.5h6M635 330.5h2M645 330.5h1M621 331.5h1M620 332.5h1M646 332.5h1M619 333.5h1M618 334.5h1M647 334.5h1M618 335.5h1M647 335.5h1M617 336.5h2M618 337.5h2M647 337.5h1M618 338.5h2M647 338.5h1M619 339.5h2M621 340.5h2M624 341.5h6M646 341.5h1M631 342.5h3M634 343.5h1M645 343.5h1M635 344.5h1M644 344.5h1M636 345.5h1M643 345.5h1M637 346.5h4M642 346.5h1"/>
<path stroke="#48e558" stroke-width="1" d="M639 329.5h1M643 329.5h1M624 330.5h3M637 330.5h1M622 331.5h2M630 331.5h6M645 331.5h1M621 332.5h2M620 333.5h2M619 334.5h2M619 335.5h1M619 336.5h2M647 336.5h1M620 337.5h1M620 338.5h2M621 339.5h2M623 340.5h2M646 340.5h1M630 341.5h3M634 342.5h1M645 342.5h1M635 343.5h1M636 344.5h1M637 345.5h2M642 345.5h1M641 346.5h1"/>
<path stroke="#5ce844" stroke-width="1" d="M640 329.5h1M642 329.5h1M638 330.5h1M644 330.5h1M624 331.5h6M636 331.5h1M623 332.5h1M630 332.5h6M622 333.5h1M646 333.5h1M621 334.5h2M620 335.5h2M621 336.5h1M621 337.5h1M622 338.5h1M623 339.5h2M646 339.5h1M625 340.5h8M633 341.5h2M645 341.5h1M635 342.5h1M636 343.5h1M644 343.5h1M637 344.5h1M643 344.5h1M639 345.5h3"/>
<path stroke="#71ea2f" stroke-width="1" d="M641 329.5h1M637 331.5h1M624 332.5h6M636 332.5h1M645 332.5h1M623 333.5h2M630 333.5h5M623 334.5h2M632 334.5h2M646 334.5h1M622 335.5h2M622 336.5h1M622 337.5h2M623 338.5h2M629 338.5h1M646 338.5h1M625 339.5h9M633 340.5h2M635 341.5h1M636 342.5h1M644 342.5h1M637 343.5h1M643 343.5h1M638 344.5h5"/>
<path stroke="#8dec24" stroke-width="1" d="M639 330.5h1M643 330.5h1M638 331.5h1M644 331.5h1M625 333.5h5M635 333.5h1M625 334.5h2M629 334.5h3M634 334.5h2M624 335.5h2M629 335.5h6M646 335.5h1M623 336.5h3M629 336.5h6M646 336.5h1M624 337.5h2M627 337.5h8M646 337.5h1M625 338.5h4M630 338.5h5M634 339.5h2M635 340.5h1M645 340.5h1M636 341.5h1M644 341.5h1M637 342.5h1M638 343.5h1M642 343.5h1"/>
<path stroke="#aeed1f" stroke-width="1" d="M640 330.5h3M637 332.5h1M636 333.5h1M645 333.5h1M627 334.5h2M626 335.5h3M635 335.5h1M626 336.5h3M635 336.5h1M626 337.5h1M635 337.5h1M635 338.5h1M636 339.5h1M645 339.5h1M636 340.5h1M637 341.5h1M638 342.5h1M643 342.5h1M639 343.5h3"/>
<path stroke="#cfef19" stroke-width="1" d="M639 331.5h1M643 331.5h1M638 332.5h1M644 332.5h1M637 333.5h1M636 334.5h1M645 334.5h1M636 335.5h1M636 336.5h1M636 337.5h1M636 338.5h1M645 338.5h1M637 340.5h1M644 340.5h1M638 341.5h1M643 341.5h1M639 342.5h1M642 342.5h1"/>
<path stroke="#f0f014" stroke-width="1" d="M640 331.5h3M644 333.5h1M637 334.5h1M645 335.5h1M645 336.5h1M645 337.5h1M637 339.5h1M638 340.5h1M639 341.5h1M640 342.5h2"/>
<path stroke="#f4d511" stroke-width="1" d="M639 332.5h1M643 332.5h1M638 333.5h1M637 335.5h1M637 336.5h1M637 337.5h1M637 338.5h1M638 339.5h1M644 339.5h1M643 340.5h1M640 341.5h3"/>
<path stroke="#f9ba0e" stroke-width="1" d="M640 332.5h1M642 332.5h1M638 334.5h1M644 334.5h1M638 338.5h1M644 338.5h1M639 340.5h2M642 340.5h1"/>
<path stroke="#fda00b" stroke-width="1" d="M641 332.5h1M639 333.5h1M643 333.5h1M638 335.5h1M644 335.5h1M638 336.5h1M644 336.5h1M638 337.5h1M644 337.5h1M639 338.5h1M639 339.5h2M643 339.5h1M641 340.5h1"/>
<path stroke="#fe830a" stroke-width="1" d="M640 333.5h1M642 333.5h1M639 334.5h1M643 334.5h1M639 337.5h1M640 338.5h1M643 338.5h1M641 339.5h2"/>
<path stroke="#fd640a" stroke-width="1" d="M641 333.5h1M639 335.5h1M643 335.5h1M639 336.5h1M643 336.5h1M640 337.5h1M643 337.5h1M641 338.5h2"/>
<path stroke="#fb460a" stroke-width="1" d="M640 334.5h3M640 335.5h1M640 336.5h1M641 337.5h2"/>
<path stroke="#fa280a" stroke-width="1" d="M641 335.5h2M641 336.5h2"/>
<path stroke="#2f4bff" stroke-width=".8" d="M651 333.4h.8M645.5 325.4h.8M652 343.4h.8M649 329.9h.8M650.5 348.4h.8M650.5 338.4h.8M644.5 323.9h.8M649 349.4h.8M650 329.9h.8M651.5 337.4h.8M641.5 322.4h.8M645.5 322.9h.8M645.5 324.4h.8M641.5 325.4h.8M645 324.9h.8M649 326.9h.8M649.5 345.9h.8M650.5 331.4h.8M642 325.4h.8M645.5 324.9h.8M649 328.4h.8M648.5 328.4h.8M654 343.9h.8M650 341.4h.8M651.5 334.4h.8M642.5 324.9h.8M642.5 324.4h.8M647.5 327.4h.8M645 321.9h.8M650.5 327.4h.8M645.5 325.9h.8M642.5 323.9h.8M641.5 324.4h.8M646.5 325.4h.8M642.5 322.9h.8M640 324.9h.8M652 333.9h.8M650.5 343.4h.8M650 332.9h.8M652 336.9h.8M649.5 328.9h.8M651 339.9h.8M648.5 323.9h.8M649 330.4h.8M639.5 323.9h.8M645.5 326.4h.8M638.5 325.4h.8M651 339.4h.8M651.5 333.9h.8M653.5 334.4h.8M649 325.9h.8M650.5 342.9h.8M650.5 343.9h.8M650.5 338.9h.8M647.5 349.4h.8M635.5 322.9h.8M635.5 322.4h.8M652 342.9h.8M650 338.4h.8M643 323.4h.8M650.5 332.9h.8M644.5 324.4h.8M651.5 329.4h.8M647.5 322.9h.8M646.5 326.9h.8M646.5 327.4h.8M652.5 333.9h.8M650 327.9h.8M653 333.4h.8M643.5 321.4h.8M642.5 321.4h.8M650 329.4h.8M650.5 341.9h.8M651.5 335.9h.8M650.5 340.9h.8M641 324.4h.8M649 325.4h.8M641.5 324.9h.8M652 337.4h.8M651 343.9h.8M650.5 342.4h.8M650 331.4h.8M643.5 324.4h.8M642 321.9h.8M647.5 325.9h.8M649 346.4h.8M649 331.4h.8M642 324.4h.8M648.5 326.4h.8M641 324.9h.8M650.5 331.9h.8M652 333.4h.8M647.5 326.9h.8M646 324.9h.8M641.5 323.4h.8M651.5 331.9h.8M651.5 340.4h.8M649.5 329.9h.8M651 336.4h.8M644 324.4h.8M648.5 329.4h.8M652 339.9h.8M651.5 336.9h.8M651 341.9h.8M646 325.4h.8M649.5 346.9h.8M639.5 324.4h.8M653.5 344.9h.8M654 337.4h.8M646 325.9h.8M643 323.9h.8M650 338.9h.8M651 348.9h.8M640.5 325.4h.8M646.5 325.9h.8M647 326.4h.8M636.5 353.9h.8M648 327.9h.8M618.5 322.4h.8M613.5 326.4h.8M634 351.4h.8M629.5 349.4h.8M624.5 353.9h.8M616.5 324.9h.8M622.5 320.9h.8M617 349.9h.8M614.5 346.4h.8M615.5 349.9h.8M634.5 324.9h.8M606.5 328.4h.8M618 323.9h.8M609.5 326.9h.8M612.5 346.4h.8M625 349.4h.8M624.5 324.4h.8M623.5 349.4h.8M624.5 322.4h.8M617.5 324.4h.8M628 352.9h.8M620 348.4h.8M644.5 322.9h.8M608.5 325.4h.8M633.5 324.9h.8M617.5 348.9h.8M627 348.9h.8M613.5 323.9h.8M637.5 323.9h.8M631 318.4h.8M626.5 322.9h.8M623.5 322.4h.8M637.5 322.9h.8M639 323.4h.8M631.5 325.4h.8M624 324.4h.8M610.5 325.9h.8M618.5 349.9h.8M604 320.9h.8M632.5 321.4h.8M623.5 350.9h.8M615 327.4h.8M615 320.4h.8M620.5 350.4h.8M608 329.9h.8M625 348.9h.8M604 328.4h.8M616 347.4h.8M624 321.9h.8M609.5 345.9h.8M637.5 324.9h.8M614.5 324.4h.8M644.5 354.9h.8M620.5 322.9h.8M614.5 322.9h.8M633.5 351.4h.8M614.5 346.9h.8M609 347.9h.8M609.5 344.9h.8M634 320.4h.8M606 322.9h.8M636 324.4h.8M640.5 322.4h.8M617 324.9h.8M623 349.4h.8M653 342.4h.8M614.5 328.4h.8M618.5 326.4h.8M610.5 329.9h.8M614 326.4h.8M648.5 347.4h.8M629.5 325.4h.8M649 330.9h.8M628 351.4h.8M610.5 323.4h.8M613.5 349.4h.8M622.5 324.9h.8M629 348.4h.8M627 352.9h.8M627.5 323.9h.8M627.5 322.4h.8M624 353.4h.8M626.5 323.4h.8M606 326.4h.8M627.5 350.9h.8M614 345.4h.8M615.5 346.9h.8M625.5 322.4h.8M627.5 349.9h.8M624.5 348.9h.8M648.5 327.4h.8M636.5 324.9h.8M630.5 355.9h.8M634 325.4h.8M633.5 324.4h.8M630 350.4h.8M630 324.4h.8M650.5 346.4h.8M609.5 328.9h.8M635 322.4h.8M610.5 328.4h.8M622.5 350.4h.8M615.5 325.9h.8M628.5 348.9h.8M631.5 321.9h.8M616.5 346.9h.8M628 321.4h.8M620 324.9h.8M628 349.4h.8M614.5 349.4h.8M620 351.9h.8M617.5 326.4h.8M630 325.4h.8M628.5 353.4h.8M650 345.4h.8M635.5 323.9h.8M617 346.4h.8M624 318.4h.8M616 326.4h.8M638.5 323.4h.8M624 348.9h.8M634 321.9h.8M630 349.9h.8M626 316.9h.8M625 322.4h.8M624 350.9h.8M638.5 324.4h.8M620 349.9h.8M621 323.9h.8M631.5 351.4h.8M635 324.9h.8M613 327.9h.8M621 348.9h.8M609 329.4h.8M623.5 321.9h.8M634 324.9h.8M613 327.4h.8M617.5 319.9h.8M644.5 322.4h.8M627.5 348.9h.8M614 349.4h.8M607 326.4h.8M616 323.9h.8M620 347.4h.8M635.5 325.4h.8M627.5 348.4h.8M617 347.4h.8M622.5 324.4h.8M618.5 349.4h.8M619 349.9h.8M621.5 324.4h.8M615 348.4h.8M625 349.9h.8M623 323.9h.8M616.5 326.9h.8M624 320.4h.8M628 348.4h.8M613.5 345.4h.8M614.5 347.9h.8M612.5 328.9h.8M618.5 347.4h.8M611 328.4h.8M613 317.4h.8M610 350.4h.8M626.5 321.9h.8M614.5 350.9h.8M625 324.4h.8M613.5 346.4h.8M633 325.4h.8M616 346.9h.8M636 323.9h.8M634 323.4h.8M633.5 322.4h.8M622 322.9h.8M620 322.4h.8M612.5 345.9h.8M620 314.9h.8M614 326.9h.8M614.5 324.9h.8M636.5 324.4h.8M632 323.4h.8M626 349.9h.8M640.5 323.9h.8M632 351.9h.8M609.5 330.4h.8M620 347.9h.8M630 324.9h.8M613 326.4h.8M608.5 330.4h.8M611.5 324.4h.8M619.5 324.4h.8M629 324.4h.8M611 327.4h.8M614.5 326.4h.8M624 323.9h.8M612 324.9h.8M626.5 323.9h.8M638 324.9h.8M619.5 348.9h.8M628.5 318.4h.8M626.5 353.4h.8M613.5 346.9h.8M627.5 356.9h.8M638 318.9h.8M632.5 324.9h.8M628.5 323.9h.8M604.5 325.4h.8M635 322.9h.8M625.5 354.9h.8M612 348.4h.8M629.5 323.9h.8M626 323.4h.8M621.5 349.9h.8M614.5 326.9h.8M618.5 321.4h.8M619 348.4h.8M617.5 352.9h.8M610 328.9h.8M612 325.9h.8M620.5 323.4h.8M611 347.4h.8M609 329.9h.8M606 348.9h.8M624 347.9h.8M628 323.4h.8M625.5 321.9h.8M630.5 350.4h.8M623 321.4h.8M608.5 329.9h.8M624 322.4h.8M631 324.4h.8M616 348.4h.8M630.5 324.9h.8M603.5 326.9h.8M608.5 325.9h.8M612 327.9h.8M622 323.4h.8M626 348.9h.8M646 322.9h.8M634 353.4h.8M612 351.4h.8M614 346.4h.8M616.5 347.9h.8M655 341.4h.8M628.5 322.9h.8M661.5 343.9h.8M628 350.9h.8M617.5 347.4h.8M643 324.4h.8M626 350.4h.8M616.5 325.4h.8M622.5 348.4h.8M613.5 351.4h.8M614 327.9h.8M614 327.4h.8M636 324.9h.8M630 351.4h.8M622 321.9h.8M640 324.4h.8M616 326.9h.8M651 330.4h.8M623 323.4h.8M628 322.4h.8M620 356.9h.8M627 356.4h.8M623 350.9h.8M610.5 328.9h.8M617 347.9h.8M634.5 323.9h.8M614.5 325.9h.8M613.5 325.9h.8M620 325.4h.8M630.5 323.9h.8M616.5 346.4h.8M610 344.9h.8M627 322.4h.8M612.5 347.9h.8M627.5 351.9h.8M613 349.4h.8M614.5 327.4h.8M612 328.9h.8M610.5 346.4h.8M622 324.9h.8M605.5 325.9h.8M631.5 318.9h.8M612.5 324.9h.8M631 350.4h.8M632 322.4h.8M605 328.9h.8M616.5 323.9h.8M611 327.9h.8M626.5 350.4h.8M622.5 323.9h.8M625 321.9h.8M639 323.9h.8M632 324.4h.8M615.5 325.4h.8M621 324.9h.8M608 325.9h.8M619 351.9h.8M620.5 349.4h.8M631.5 324.9h.8M613.5 322.9h.8M653 334.4h.8M630 348.9h.8M631.5 324.4h.8M604 326.4h.8M623 347.9h.8M608 327.9h.8M620.5 348.4h.8M610 329.4h.8M611 348.4h.8M627.5 349.4h.8M620 349.4h.8M619 324.9h.8M622.5 351.4h.8M629 350.4h.8M614.5 353.9h.8M624.5 323.9h.8M616 323.4h.8M619 326.4h.8M635 318.9h.8M628 324.4h.8M631.5 322.9h.8M617.5 347.9h.8M639.5 318.9h.8M621 348.4h.8M621.5 323.4h.8M615.5 350.9h.8M632.5 323.9h.8M621.5 322.4h.8M628 322.9h.8M643 324.9h.8M616.5 321.4h.8M626.5 319.9h.8M618.5 351.4h.8M624 323.4h.8M619.5 325.4h.8M617 325.4h.8M613 348.4h.8M639 324.4h.8M616.5 322.4h.8M615 328.4h.8M636.5 356.9h.8M614 346.9h.8M606 317.4h.8M626.5 322.4h.8M633 323.4h.8M622 319.9h.8M615.5 347.4h.8M606.5 345.9h.8M626 352.9h.8M610.5 330.4h.8M615.5 323.4h.8M646 324.4h.8M615 347.4h.8M626.5 349.9h.8M602.5 324.9h.8M620.5 323.9h.8M618.5 320.9h.8M621.5 325.4h.8M624 349.9h.8M604 329.4h.8M628.5 349.4h.8M629.5 323.4h.8M619.5 324.9h.8M613 329.4h.8M632.5 320.4h.8M624 349.4h.8M648 324.9h.8M620.5 351.4h.8M622.5 348.9h.8M616 327.4h.8M613.5 326.9h.8M620.5 347.9h.8M638 322.9h.8M629 323.4h.8M615 324.4h.8M625 320.9h.8M625.5 349.9h.8M614 349.9h.8M613.5 324.4h.8M616 347.9h.8M614.5 327.9h.8M607 324.9h.8M634.5 317.4h.8M612 345.9h.8M630.5 325.4h.8M611.5 345.9h.8M624.5 351.9h.8M629 348.9h.8M627.5 324.4h.8M624 351.9h.8M606.5 345.4h.8M632 324.9h.8M624 347.4h.8M652 335.9h.8M613 347.9h.8M621 349.9h.8M635 320.9h.8M610.5 326.9h.8M655.5 339.4h.8M621 319.4h.8M621.5 352.4h.8M639.5 321.9h.8M649.5 330.9h.8M613 346.9h.8M622.5 347.9h.8M616.5 322.9h.8M629 323.9h.8M607 327.9h.8M611 316.4h.8M614 347.9h.8M608 330.4h.8M623 324.9h.8M624 322.9h.8M629 321.9h.8M611 325.9h.8M593.5 359.4h.8M608.5 346.4h.8M597 346.9h.8M598.5 327.9h.8M601 349.9h.8M580 338.9h.8M606.5 350.9h.8M599 328.9h.8M587 336.4h.8M593 333.9h.8M589.5 328.4h.8M592.5 337.4h.8M614.5 357.9h.8M596.5 351.4h.8M602.5 327.4h.8M593 350.4h.8M584.5 351.9h.8M602 347.4h.8M582 344.9h.8M591.5 327.9h.8M586 333.4h.8M597.5 351.4h.8M594.5 321.9h.8M609.5 351.9h.8M588 338.9h.8M590 333.9h.8M606 350.9h.8M593 343.9h.8M600.5 349.9h.8M580.5 345.4h.8M603.5 324.4h.8M590 342.9h.8M593.5 333.9h.8M603.5 358.4h.8M602 348.9h.8M598.5 349.9h.8M609 347.4h.8M608 328.4h.8M608 320.4h.8M590.5 332.4h.8M592.5 332.9h.8M604.5 347.4h.8M604.5 348.4h.8M599.5 349.4h.8M584.5 337.9h.8M607.5 326.9h.8M587 336.9h.8M591 338.4h.8M595 352.9h.8M590.5 340.4h.8M578 341.9h.8M608 323.9h.8M610.5 345.9h.8M591 346.9h.8M601 352.9h.8M596 331.9h.8M594.5 348.4h.8M609.5 346.4h.8M613 351.4h.8M604.5 327.9h.8M592 343.9h.8M592 333.9h.8M600.5 350.4h.8M582.5 340.9h.8M603.5 347.9h.8M600.5 353.4h.8M582.5 346.9h.8M615.5 346.4h.8M594 349.9h.8M588 337.9h.8M610 347.9h.8M589.5 344.4h.8M593 347.9h.8M601 327.4h.8M605.5 350.4h.8M597.5 327.9h.8M591.5 338.4h.8M614 352.4h.8M589 333.4h.8M587.5 347.4h.8M582 347.9h.8M601.5 353.4h.8M593.5 351.4h.8M594 342.9h.8M584 339.9h.8M590 342.4h.8M584.5 329.9h.8M587.5 346.4h.8M596.5 331.9h.8M592 336.9h.8M598 348.4h.8M594 331.4h.8M600.5 328.4h.8M590.5 347.9h.8M606.5 323.4h.8M601.5 347.9h.8M592 325.4h.8M593 334.9h.8M582.5 339.9h.8M597.5 346.9h.8M591 343.9h.8M604.5 352.9h.8M598 329.4h.8M580.5 354.4h.8M590.5 335.4h.8M592 339.9h.8M586.5 341.9h.8M585.5 331.9h.8M596.5 347.9h.8M593 340.9h.8M599 326.4h.8M597.5 350.4h.8M585 344.9h.8M596.5 350.4h.8M591 347.4h.8M596.5 330.4h.8M603 353.4h.8M584.5 351.4h.8M605 330.4h.8M609 323.4h.8M603 328.4h.8M599 348.4h.8M594 332.9h.8M598 320.9h.8M591.5 328.4h.8M590.5 331.4h.8M589 343.4h.8M616.5 351.4h.8M591.5 336.9h.8M591.5 329.9h.8M607.5 347.4h.8M585 330.4h.8M597.5 349.9h.8M592.5 333.9h.8M582.5 337.4h.8M607.5 329.9h.8M591.5 345.9h.8M592.5 342.4h.8M612.5 353.9h.8M585 340.9h.8M589.5 336.9h.8M604 347.9h.8M601 322.9h.8M589 337.4h.8M600 321.9h.8M597 350.9h.8M578 328.9h.8M591.5 337.4h.8M616 324.4h.8M589.5 335.9h.8M604 355.9h.8M594 333.4h.8M588.5 324.9h.8M602.5 348.4h.8M582.5 348.4h.8M592 337.4h.8M590 340.9h.8M587.5 337.9h.8M596 346.9h.8M586.5 335.9h.8M598 347.4h.8M593 331.4h.8M606.5 326.9h.8M604 349.9h.8M597 351.4h.8M606 345.9h.8M608 326.9h.8M586.5 332.4h.8M583 343.9h.8M602.5 354.4h.8M607.5 329.4h.8M596.5 329.4h.8M597.5 353.4h.8M602 326.9h.8M584 319.9h.8M589.5 356.9h.8M609.5 347.4h.8M612 326.4h.8M588.5 343.9h.8M594.5 349.4h.8M601.5 326.9h.8M594 328.9h.8M605.5 349.4h.8M592.5 341.4h.8M591 320.9h.8M588.5 346.4h.8M599.5 327.9h.8M593.5 342.9h.8M584 336.4h.8M605.5 327.9h.8M579.5 342.4h.8M590.5 361.4h.8M585.5 323.9h.8M577 330.9h.8M584 347.9h.8M615 352.9h.8M583 326.9h.8M609.5 346.9h.8M588.5 333.4h.8M598.5 323.4h.8M586 341.9h.8M588.5 344.4h.8M585.5 348.9h.8M591.5 330.4h.8M599 329.9h.8M598.5 330.4h.8M608.5 326.9h.8M600 351.4h.8M607.5 351.9h.8M583.5 339.9h.8M590.5 320.9h.8M594.5 350.9h.8M607 345.4h.8M601 353.4h.8M587.5 344.9h.8M596 329.4h.8M591.5 334.9h.8M615.5 351.4h.8M586 341.4h.8M595 345.9h.8M590.5 352.9h.8M592.5 327.4h.8M595.5 350.9h.8M598.5 348.9h.8M611.5 346.4h.8M605 326.4h.8M596.5 346.4h.8M591 333.9h.8M589.5 338.4h.8M586 334.9h.8M600.5 324.9h.8M590 339.9h.8M589 346.4h.8M597.5 328.4h.8M591.5 343.4h.8M616 349.4h.8M582 334.9h.8M609 326.9h.8M590.5 341.9h.8M595.5 333.4h.8M591 348.4h.8M588.5 329.9h.8M583 326.4h.8M585.5 332.4h.8M592 339.4h.8M594 346.4h.8M598.5 350.4h.8M584 350.4h.8M581 347.4h.8M587 344.9h.8M610 363.4h.8M603 356.4h.8M594 322.4h.8M588.5 334.4h.8M595.5 332.9h.8M589 330.9h.8M597 329.4h.8M594 344.9h.8M594 330.9h.8M589.5 330.4h.8M593.5 343.4h.8M597.5 330.9h.8M589 335.9h.8M600 324.9h.8M610 327.9h.8M587.5 341.4h.8M591.5 331.9h.8M602 329.9h.8M607.5 349.9h.8M582.5 335.4h.8M595 327.9h.8M595 350.9h.8M603 349.4h.8M602.5 327.9h.8M595 327.4h.8M579.5 338.9h.8M579 332.9h.8M587.5 337.4h.8M598.5 356.4h.8M588 325.9h.8M609 345.9h.8M591 341.4h.8M582 335.4h.8M590 344.4h.8M598 347.9h.8M593 332.9h.8M595 333.4h.8M606 329.9h.8M608 346.4h.8M599.5 327.4h.8M610.5 344.9h.8M595.5 318.4h.8M589 331.9h.8M589.5 346.9h.8M596.5 332.4h.8M594.5 344.4h.8M611 355.9h.8M594.5 330.4h.8M592.5 334.9h.8M610.5 329.4h.8M608 320.9h.8M588.5 334.9h.8M588 348.9h.8M585.5 332.9h.8M598 330.9h.8M604 329.9h.8M591.5 342.9h.8M593 349.4h.8M593.5 333.4h.8M592 321.9h.8M591 355.4h.8M590.5 333.9h.8M588.5 342.4h.8M585.5 343.4h.8M584.5 335.9h.8M612 347.4h.8M595.5 351.4h.8M587.5 345.4h.8M607 345.9h.8M600 328.4h.8M598 355.9h.8M611.5 328.9h.8M606.5 346.9h.8M598.5 351.4h.8M589.5 351.4h.8M588.5 345.4h.8M598 326.9h.8M601.5 350.9h.8M607.5 327.9h.8M587 328.4h.8M597 330.9h.8M593 338.9h.8M584 331.9h.8M590.5 337.4h.8M589.5 341.9h.8M583.5 339.4h.8M591.5 334.4h.8M586.5 339.4h.8M596 327.4h.8M586 347.9h.8M586.5 331.9h.8M604.5 359.9h.8M584.5 349.4h.8M590 347.9h.8M580.5 341.4h.8M593.5 346.4h.8M605 348.4h.8M586 323.4h.8M604 326.9h.8M604 327.4h.8M605 350.4h.8M592.5 344.9h.8M589 347.9h.8M592 333.4h.8M586.5 347.9h.8M589.5 336.4h.8M607.5 345.9h.8M616.5 348.4h.8M584.5 343.9h.8M610 350.9h.8M616 353.4h.8M608.5 347.9h.8M579 342.4h.8M612 355.4h.8M591 336.9h.8M612.5 350.4h.8M584 338.4h.8M584 345.9h.8M585.5 328.4h.8M593 336.4h.8M590 329.9h.8M609 349.9h.8M592.5 339.4h.8M595 347.9h.8M592 327.4h.8M595.5 346.4h.8M611.5 348.4h.8M595.5 330.4h.8M609 352.4h.8M593.5 358.4h.8M583.5 344.9h.8M587.5 330.4h.8M588.5 352.9h.8M592.5 331.4h.8M604 348.4h.8M602 356.9h.8M601.5 327.9h.8M599 349.9h.8M607.5 328.4h.8M590.5 345.9h.8M592 337.9h.8M587.5 332.4h.8M610.5 346.9h.8M583 349.9h.8M587.5 342.9h.8M605 347.4h.8M602 350.9h.8M599.5 358.4h.8M579.5 327.4h.8M591.5 344.9h.8M589 341.4h.8M604 327.9h.8M589 340.9h.8M592.5 341.9h.8M599 359.9h.8M590 335.4h.8M595 346.9h.8M590 331.4h.8M600 349.4h.8M609 344.9h.8M588 324.4h.8M598.5 347.9h.8M603 326.9h.8M603 355.9h.8M590.5 336.9h.8M590 344.9h.8M592 346.9h.8M590.5 334.4h.8M614.5 354.9h.8M595 349.4h.8M586.5 343.4h.8M584.5 333.9h.8M592 331.9h.8M600.5 347.9h.8M593.5 322.9h.8M590 346.9h.8M596.5 327.4h.8M615 353.4h.8M601.5 354.4h.8M596 321.9h.8M593.5 334.4h.8M601 357.4h.8M605.5 326.4h.8M590.5 349.9h.8M593 345.9h.8M593 342.4h.8M590.5 344.9h.8M581.5 338.9h.8M613 326.9h.8M607 347.9h.8M600 347.9h.8M587 337.4h.8M591.5 340.4h.8M597 349.4h.8M584.5 338.4h.8M584 334.9h.8M589.5 332.9h.8M611 345.9h.8M589.5 337.9h.8M586.5 344.9h.8M590.5 349.4h.8M587 344.4h.8M612.5 348.9h.8M592 354.4h.8M587 335.9h.8M611 323.9h.8M592.5 333.4h.8M592.5 327.9h.8M585 341.4h.8M586.5 339.9h.8M586.5 338.9h.8M590.5 338.9h.8M602.5 350.9h.8M600 355.9h.8M584 334.4h.8M592.5 343.4h.8M604.5 326.4h.8M590 338.4h.8M591 331.4h.8M588 349.4h.8M589 336.9h.8M591 343.4h.8M590.5 353.9h.8M587 331.4h.8M615 326.4h.8M581 338.4h.8M592 341.9h.8M596 315.4h.8M591 345.4h.8M618.5 323.9h.8M593 329.9h.8M583.5 340.4h.8M604.5 349.9h.8M591.5 352.4h.8M585.5 331.4h.8M594 327.9h.8M584.5 337.4h.8M585 339.9h.8M588.5 340.9h.8M592 338.4h.8M595 328.4h.8M586 330.4h.8M598.5 352.4h.8M608 328.9h.8M606.5 349.4h.8M585.5 335.4h.8M587.5 336.9h.8M604.5 351.4h.8M590.5 337.9h.8M598.5 326.4h.8M592.5 323.9h.8M590.5 340.9h.8M583 341.4h.8M608 347.4h.8M594 345.4h.8M585 334.9h.8M607 351.9h.8M583 340.4h.8M610 348.9h.8M596 325.9h.8M593 333.4h.8M592.5 322.9h.8M608.5 327.4h.8M603.5 352.9h.8M586 339.4h.8M597 353.4h.8M612 326.9h.8M592 345.9h.8M606 349.9h.8M594 347.4h.8M594.5 347.4h.8M595 357.9h.8M592.5 328.4h.8M596.5 325.4h.8M597 352.9h.8M605.5 326.9h.8M587.5 328.4h.8M590 343.4h.8M594.5 357.9h.8M588 342.4h.8M595 349.9h.8M587 350.4h.8M602 357.4h.8M596 351.4h.8M588 340.4h.8M605.5 347.4h.8M586.5 342.4h.8M588 348.4h.8M618 348.9h.8M607.5 322.9h.8M587.5 331.9h.8M612.5 327.9h.8M593.5 345.9h.8M582 333.9h.8M589 329.4h.8M613.5 348.9h.8M602 351.4h.8M594.5 333.9h.8M589 347.4h.8M606.5 352.4h.8M583.5 337.9h.8M585 338.9h.8M588.5 346.9h.8M593.5 327.9h.8M593 351.9h.8M597.5 330.4h.8M590.5 334.9h.8M613 352.9h.8M610.5 352.9h.8M601.5 348.4h.8M608 350.9h.8M602 347.9h.8M591.5 312.9h.8M595 328.9h.8M608.5 348.9h.8M608 352.9h.8M590.5 327.9h.8M604.5 329.4h.8M604.5 328.4h.8M607.5 350.9h.8M613 360.4h.8M613.5 347.4h.8M599.5 326.4h.8M595 351.4h.8M611 359.4h.8M602 352.4h.8M595.5 351.9h.8M587 340.9h.8M599 356.4h.8M592.5 354.4h.8M611.5 346.9h.8M591.5 341.4h.8M587 332.9h.8M612 349.9h.8M599.5 356.4h.8M595 344.4h.8M597 329.9h.8M591.5 344.4h.8M600.5 360.9h.8M611.5 359.9h.8M591 340.9h.8M588 331.9h.8M601.5 322.9h.8M586 335.4h.8M589.5 334.9h.8M606.5 353.4h.8M600 322.9h.8M585 337.9h.8M593 348.4h.8M588 343.4h.8M606.5 354.9h.8M607.5 324.9h.8M594.5 346.4h.8M584 342.9h.8M590 349.9h.8M605.5 324.9h.8M596.5 348.4h.8M621.5 347.4h.8M597 324.9h.8M595 333.9h.8M606.5 348.4h.8M591.5 321.9h.8M595 330.9h.8M595.5 348.9h.8M589.5 329.9h.8M605 325.9h.8M593.5 349.9h.8M605 347.9h.8M589 331.4h.8M600.5 347.4h.8M600 350.9h.8M587.5 343.4h.8M602 354.9h.8M592 347.4h.8M602.5 325.4h.8M612.5 355.4h.8M594 329.4h.8M588 339.9h.8M590.5 339.9h.8M593 322.9h.8M589.5 338.9h.8M585 326.4h.8M588.5 347.9h.8M590.5 338.4h.8M586 349.9h.8M599 329.4h.8M598.5 325.4h.8M590.5 328.9h.8M596 322.4h.8M583 344.9h.8M593.5 347.4h.8M605 353.9h.8M595.5 320.9h.8M591 331.9h.8M618.5 353.4h.8M603.5 350.9h.8M593.5 345.4h.8M601.5 348.9h.8M588 333.9h.8M586 337.4h.8M591.5 332.4h.8M591 339.9h.8M581.5 340.4h.8M601 350.4h.8M592.5 346.4h.8M581.5 349.4h.8M588 323.4h.8M618 353.9h.8M595.5 321.9h.8M592.5 330.9h.8M583.5 346.9h.8M590 343.9h.8M592.5 340.9h.8M582 339.4h.8M593 344.4h.8M590 331.9h.8M609.5 354.4h.8M589 337.9h.8M602 330.4h.8M599 347.9h.8M580 336.9h.8M592.5 351.4h.8M596.5 324.9h.8M603.5 325.9h.8M594 343.9h.8M589 344.9h.8M583.5 333.4h.8M610.5 327.4h.8M609.5 345.4h.8M607.5 346.9h.8M605.5 347.9h.8M589.5 334.4h.8M596.5 318.4h.8M593 348.9h.8M607.5 348.4h.8M587 339.4h.8M602 354.4h.8M590 332.4h.8M587 343.9h.8M593.5 351.9h.8M611 352.9h.8M594.5 326.9h.8M591.5 336.4h.8M602 322.9h.8M592.5 340.4h.8M602 326.4h.8M605.5 329.9h.8M593.5 319.4h.8M596 347.4h.8M603 347.9h.8M591.5 345.4h.8M611 353.9h.8M596.5 348.9h.8M596 347.9h.8M606 327.9h.8M592 342.9h.8M585 350.4h.8M583.5 327.9h.8M599.5 349.9h.8M596 352.4h.8M594 345.9h.8M609.5 349.4h.8M601 324.9h.8M578.5 340.9h.8M592 340.4h.8M607 352.4h.8M594.5 348.9h.8M596 333.4h.8M608 329.4h.8M601 355.4h.8M588.5 338.4h.8M590 326.4h.8M605 348.9h.8M586.5 335.4h.8M593 349.9h.8M583 327.9h.8M607 346.9h.8M584.5 338.9h.8M580 356.9h.8M611 329.4h.8M587.5 338.4h.8M601.5 349.4h.8M597.5 347.4h.8M602 351.9h.8M607 329.4h.8M590.5 329.9h.8M628 355.4h.8M602.5 351.4h.8M600 352.4h.8M589 328.9h.8M596 331.4h.8M600.5 326.9h.8M588.5 351.4h.8M591 333.4h.8M596.5 323.9h.8M597.5 327.4h.8M592.5 338.4h.8M594.5 332.9h.8M597.5 326.9h.8M616.5 357.4h.8M601.5 350.4h.8M596.5 328.4h.8M597.5 352.9h.8M586.5 325.9h.8M593 328.4h.8M597.5 318.4h.8M614 354.9h.8M606.5 330.4h.8M593.5 346.9h.8M594.5 329.4h.8M582 341.4h.8M584.5 333.4h.8M615.5 354.4h.8M599 319.4h.8M594.5 334.4h.8M589 334.4h.8M591.5 347.4h.8M591 342.9h.8M589 350.9h.8M605 327.4h.8M597.5 329.9h.8M596 330.4h.8M581.5 339.9h.8M611.5 347.4h.8M603.5 350.4h.8M597 328.9h.8M623.5 348.4h.8M593 346.9h.8M608 351.4h.8M595.5 354.4h.8M604 352.9h.8M606 349.4h.8M581.5 349.9h.8M606.5 325.9h.8M602.5 329.9h.8M599 350.9h.8M600 350.4h.8M590 347.4h.8M593.5 328.4h.8M598 358.4h.8M597.5 329.4h.8M604 354.9h.8M597.5 349.4h.8M590.5 343.9h.8M621 319.9h.8M593 329.4h.8M598 325.9h.8M595 329.9h.8M591 342.4h.8M600.5 351.9h.8M585.5 359.4h.8M584 341.4h.8M597 325.9h.8M604 348.9h.8M593 342.9h.8M583 341.9h.8M584.5 324.9h.8M613 345.4h.8M600 347.4h.8M590.5 346.4h.8M594.5 352.4h.8M593 323.9h.8M599 351.9h.8M594 325.4h.8M608 327.4h.8M592 336.4h.8M593.5 353.4h.8M604 347.4h.8M591 329.4h.8M589.5 335.4h.8M592.5 315.4h.8M613.5 348.4h.8M584 343.9h.8M609 327.9h.8M598.5 352.9h.8M586.5 328.4h.8M589.5 327.4h.8M593.5 331.9h.8M595.5 347.4h.8M593.5 344.9h.8M583.5 336.4h.8M611 349.9h.8M609 350.4h.8M587 334.4h.8M590 336.4h.8M588 341.9h.8M600.5 357.9h.8M605.5 350.9h.8M601.5 327.4h.8M611 326.4h.8M594.5 330.9h.8M605.5 355.4h.8M606 347.4h.8M608.5 354.9h.8M609 345.4h.8M595.5 326.4h.8M590 327.4h.8M597 347.9h.8M585.5 337.9h.8M599.5 348.9h.8M603 354.4h.8M586.5 337.4h.8M597 328.4h.8M611.5 319.9h.8M598.5 327.4h.8M609 351.9h.8M606 348.4h.8M589 328.4h.8M617.5 350.4h.8M604 350.4h.8M587.5 332.9h.8M605.5 325.4h.8M617 346.9h.8M597 330.4h.8M601.5 352.4h.8M598.5 328.9h.8M588 331.4h.8M605.5 351.4h.8M607 348.9h.8M604.5 329.9h.8M594 328.4h.8M608.5 347.4h.8M588 343.9h.8M595 332.9h.8M593 332.4h.8M611 326.9h.8M612.5 354.4h.8M594.5 353.9h.8M597 357.4h.8M592.5 353.9h.8M598.5 349.4h.8M604.5 357.9h.8M600.5 327.9h.8M592 344.4h.8M614 348.9h.8M589 349.9h.8M587.5 356.4h.8M591.5 335.4h.8M590 338.9h.8M607 350.9h.8M589 323.4h.8M592.5 335.9h.8M596 350.4h.8M598.5 353.4h.8M593 334.4h.8M600 354.9h.8M604 330.4h.8M618 350.9h.8M580.5 337.9h.8M606.5 327.9h.8M597 323.4h.8M591.5 349.9h.8M586.5 341.4h.8M609.5 329.4h.8M585 333.4h.8M582 338.4h.8M595 332.4h.8M600.5 354.4h.8M605.5 328.9h.8M595.5 346.9h.8M606 353.4h.8M603.5 324.9h.8M599 353.4h.8M598.5 323.9h.8M606 346.4h.8M589 345.4h.8M578 336.9h.8M608 326.4h.8M586.5 329.9h.8M606.5 350.4h.8M592 332.4h.8M581 351.4h.8M606.5 319.9h.8M586 318.9h.8M593.5 330.9h.8M587 350.9h.8M609 348.4h.8M604 351.9h.8M605 349.9h.8M596 349.4h.8M590.5 322.9h.8M594.5 345.4h.8M594 353.9h.8M603.5 327.4h.8M611 356.4h.8M583 329.9h.8M587.5 340.4h.8M592.5 336.4h.8M585.5 339.9h.8M596 324.4h.8M591 350.9h.8M595.5 353.4h.8M590.5 323.4h.8M582.5 344.9h.8M590.5 350.9h.8M596 332.9h.8M608 348.4h.8M591.5 339.9h.8M606 354.9h.8M581 329.4h.8M596.5 328.9h.8M612 353.9h.8M601 349.4h.8M589.5 343.9h.8M591 353.9h.8M619 353.4h.8M594.5 357.4h.8M597 327.4h.8M593 336.9h.8M588 345.4h.8M594 348.9h.8M610 329.9h.8M578 342.4h.8M592 324.9h.8M591 349.9h.8M599.5 356.9h.8M581 340.4h.8M578.5 342.4h.8M594 347.9h.8M605.5 349.9h.8M597 351.9h.8M588 342.9h.8M585 327.9h.8M609 344.4h.8M591.5 333.9h.8M607 322.9h.8M593.5 344.4h.8M593 335.4h.8M583.5 347.4h.8M586 335.9h.8M595.5 349.9h.8M604 323.9h.8M601 348.4h.8M611.5 324.9h.8M595.5 347.9h.8M603 348.4h.8M590.5 354.4h.8M597 325.4h.8M588 339.4h.8M610.5 354.9h.8M606 329.4h.8M603 320.4h.8M613 349.9h.8M585.5 347.9h.8M603.5 327.9h.8M599.5 347.9h.8M592.5 343.9h.8M587 354.4h.8M600.5 348.9h.8M592.5 335.4h.8M620.5 350.9h.8M599 325.9h.8M599 352.9h.8M593 345.4h.8M586 334.4h.8M605 327.9h.8M580.5 348.9h.8M626 353.4h.8M596.5 322.4h.8M584 337.9h.8M598.5 326.9h.8M604.5 349.4h.8M583 342.4h.8M593 322.4h.8M601.5 319.4h.8M610 320.9h.8M605 316.4h.8M596 350.9h.8M591 335.9h.8M595 344.9h.8M581.5 347.9h.8M594.5 345.9h.8M583 331.9h.8M593 328.9h.8M599 348.9h.8M600 348.9h.8M613.5 347.9h.8M596.5 358.4h.8M587.5 352.4h.8M587 338.4h.8M582.5 334.4h.8M604 349.4h.8M591.5 348.9h.8M603.5 353.4h.8M589 342.4h.8M605 352.4h.8M610.5 324.9h.8M608 346.9h.8M583.5 331.4h.8M582 342.4h.8M611 355.4h.8M596.5 357.4h.8M590 353.9h.8M586.5 346.4h.8M589.5 323.9h.8M588 350.9h.8M606.5 347.9h.8M607.5 323.4h.8M590 335.9h.8M584 316.9h.8M618 353.4h.8M598 351.4h.8M589.5 347.4h.8M603.5 322.4h.8M602.5 347.4h.8M608.5 317.4h.8M596.5 346.9h.8M608.5 318.4h.8M603.5 328.9h.8M594 321.4h.8M609 348.9h.8M605.5 348.4h.8M583.5 334.4h.8M580 343.4h.8M588 330.9h.8M591 335.4h.8M609.5 325.4h.8M592.5 353.4h.8M591.5 330.9h.8M586 342.9h.8M591.5 346.4h.8M579 341.9h.8M588.5 326.9h.8M598.5 329.9h.8M620 350.9h.8M590.5 332.9h.8M592.5 339.9h.8M622.5 349.4h.8M590 341.9h.8M591.5 324.9h.8M597.5 324.9h.8M606 346.9h.8M609 328.9h.8M606 323.9h.8M583.5 345.4h.8M577.5 345.4h.8M585.5 341.9h.8M612 318.9h.8M590.5 339.4h.8M592 334.4h.8M589.5 346.4h.8M580 326.4h.8M598.5 328.4h.8M610 353.9h.8M613 352.4h.8M591 322.9h.8M584.5 345.9h.8M589.5 352.4h.8M587.5 343.9h.8M593 353.4h.8M619.5 355.4h.8M597.5 325.4h.8M582.5 333.4h.8M652 348.4h.8M650 342.4h.8M645 353.9h.8M644 357.9h.8M631 353.4h.8M651.5 342.9h.8M635.5 353.4h.8M641 354.9h.8M644 356.4h.8M645.5 352.9h.8M632.5 353.4h.8M638 354.4h.8M649 348.9h.8M650.5 353.9h.8M647.5 355.9h.8M632.5 352.4h.8M651.5 352.4h.8M641.5 361.4h.8M628.5 348.4h.8M652.5 344.4h.8M647 357.4h.8M648.5 351.4h.8M646.5 353.9h.8M639.5 354.9h.8M631 352.9h.8M635.5 352.4h.8M639 354.9h.8M639 357.4h.8M649.5 352.4h.8M635 352.9h.8M637 353.9h.8M651.5 351.9h.8M651.5 351.4h.8M647 359.4h.8M640.5 356.9h.8M649 351.4h.8M634.5 356.4h.8M637.5 353.9h.8M633 352.9h.8M634.5 352.4h.8M631 350.9h.8M651 353.4h.8M633 351.9h.8M634 351.9h.8M629 349.4h.8M643 354.9h.8M629.5 352.4h.8M636 352.9h.8M651 346.9h.8M646.5 352.4h.8M639 354.4h.8M641.5 354.4h.8M648.5 353.9h.8M645.5 353.9h.8M628.5 351.4h.8M638 354.9h.8M647.5 352.9h.8M632.5 351.4h.8M645 354.4h.8M646 357.4h.8M649 350.9h.8M641.5 355.9h.8M643 356.9h.8M638.5 355.9h.8M647 353.4h.8M635.5 353.9h.8M643 353.9h.8M640 355.9h.8M630.5 353.9h.8M635.5 357.4h.8M644 355.9h.8M651.5 347.4h.8M645.5 354.9h.8M631 351.4h.8M648 350.9h.8M635.5 358.4h.8M633 358.4h.8M640 356.4h.8M636 354.4h.8M634.5 354.9h.8M654 340.9h.8M647.5 355.4h.8M642.5 356.9h.8M646 352.9h.8M634 352.4h.8M631.5 352.9h.8M653 346.4h.8M634.5 355.9h.8M636.5 357.4h.8M648.5 351.9h.8M649 345.9h.8M652.5 345.9h.8M629 351.9h.8M633 351.4h.8M644.5 356.4h.8M652 345.4h.8M629.5 352.9h.8M648 358.9h.8M651.5 349.4h.8M646 352.4h.8M633.5 356.4h.8M642.5 355.4h.8M649.5 349.4h.8M639.5 355.4h.8M630 354.4h.8M648 351.4h.8M647 351.9h.8M636 357.4h.8M645.5 352.4h.8M629 352.4h.8M640 357.4h.8M647 352.4h.8M650 343.9h.8M641.5 357.4h.8M633 352.4h.8M648 352.9h.8M637.5 353.4h.8M652.5 348.4h.8M648.5 347.9h.8M641 357.9h.8M631 349.4h.8M648 347.4h.8M642 354.9h.8M644 353.9h.8M648.5 350.4h.8M640.5 354.4h.8M644.5 353.9h.8M636 353.9h.8M629.5 350.9h.8M644.5 355.9h.8M644.5 353.4h.8M650 356.9h.8M643.5 353.9h.8M649.5 347.9h.8M644 354.4h.8M637 355.9h.8M648 354.4h.8M637.5 359.4h.8M642 353.9h.8M629.5 349.9h.8M631.5 350.4h.8M640.5 354.9h.8M647 350.4h.8M637 354.4h.8M647.5 350.4h.8M630 352.9h.8M647.5 350.9h.8M634.5 358.9h.8M643.5 354.4h.8M634 352.9h.8M635 354.9h.8M650 347.9h.8M643 353.4h.8M640 354.9h.8M627 350.9h.8M649.5 344.4h.8M635.5 358.9h.8M648 349.4h.8M645.5 363.9h.8M647.5 354.4h.8M649.5 356.9h.8M649 348.4h.8M648.5 349.4h.8M651.5 353.9h.8M648.5 350.9h.8M646 355.9h.8M643.5 353.4h.8M651 340.4h.8M649 350.4h.8M650 347.4h.8M635 355.4h.8M652 340.9h.8M650.5 346.9h.8M645 353.4h.8M648.5 348.4h.8M650.5 344.9h.8M629.5 348.4h.8M648 348.4h.8M635.5 354.4h.8M641 354.4h.8M648 352.4h.8M648 353.4h.8M652.5 345.4h.8M651.5 348.4h.8M652.5 341.4h.8M644.5 358.9h.8M632 351.4h.8M633 354.4h.8M633.5 354.4h.8M639 358.9h.8M651 351.9h.8M637 353.4h.8M628.5 357.4h.8M598 292.4h.8M617 295.9h.8M611 286.9h.8M620 294.9h.8M595 291.4h.8M608.5 280.9h.8M596.5 290.9h.8M590.5 300.4h.8M591 295.9h.8M622.5 288.4h.8M621.5 289.9h.8M599 302.9h.8M619 294.9h.8M605 284.9h.8M588 295.4h.8M611.5 300.9h.8M637 289.9h.8M624 286.4h.8M592.5 295.9h.8M604 288.4h.8M625.5 293.9h.8M585 293.9h.8M596 293.9h.8M615.5 283.9h.8M587.5 301.4h.8M598 305.4h.8M597.5 304.4h.8M585 290.9h.8M622.5 295.4h.8M620.5 293.9h.8M589.5 293.9h.8M595 292.4h.8M604.5 304.4h.8M612 304.4h.8M604.5 301.9h.8M593 288.9h.8M597 289.9h.8M590.5 291.9h.8M616 287.9h.8M595 290.4h.8M616 283.9h.8M603.5 283.9h.8M617 282.4h.8M598 301.4h.8M627.5 296.4h.8M594 295.4h.8M626.5 294.4h.8M600.5 289.4h.8M609 285.9h.8M595 288.9h.8M599 306.9h.8M619 297.9h.8M621.5 289.4h.8M590.5 294.9h.8M624 301.4h.8M593 289.9h.8M595.5 283.4h.8M586.5 301.9h.8M614.5 300.9h.8M613 301.9h.8M621.5 290.4h.8M620.5 294.4h.8M605.5 284.9h.8M595.5 291.9h.8M590 297.4h.8M581 295.4h.8M623.5 294.9h.8M604 285.9h.8M623 298.4h.8M607 303.9h.8M593.5 294.4h.8M580.5 295.9h.8M589 301.4h.8M595.5 292.4h.8M592 299.4h.8M621.5 290.9h.8M614.5 302.9h.8M598 291.4h.8M629.5 300.9h.8M605.5 285.9h.8M595.5 295.4h.8M587 293.4h.8M610 299.4h.8M618 281.4h.8M598 288.9h.8M578 302.9h.8M613 298.4h.8M615 279.9h.8M596.5 291.4h.8M608.5 282.9h.8M617.5 296.9h.8M596 289.4h.8M585 298.9h.8M602 303.9h.8M584.5 295.4h.8M607 287.4h.8M612 299.4h.8M616.5 289.4h.8M613.5 286.4h.8M631 288.9h.8M620 293.9h.8M596 299.9h.8M592 300.9h.8M586.5 308.9h.8M595.5 298.9h.8M628 298.4h.8M604.5 303.4h.8M615.5 286.4h.8M605.5 302.4h.8M630 284.9h.8M619 286.9h.8M625.5 288.9h.8M631.5 289.9h.8M626.5 295.9h.8M589.5 294.9h.8M620 283.9h.8M611.5 298.9h.8M598 302.4h.8M595 294.4h.8M591.5 296.4h.8M592.5 290.9h.8M602.5 285.4h.8M606.5 287.4h.8M625.5 296.4h.8M599 303.9h.8M612 301.4h.8M603.5 287.9h.8M608.5 286.4h.8M587 288.9h.8M587 307.9h.8M628.5 297.9h.8M595 298.9h.8M614 298.9h.8M584 294.9h.8M619.5 294.9h.8M618.5 280.9h.8M618.5 297.9h.8M596 292.4h.8M584.5 288.9h.8M593.5 296.9h.8M616 297.4h.8M617 297.4h.8M602 289.9h.8M586 291.4h.8M595 287.4h.8M613 284.4h.8M594.5 289.4h.8M592 296.4h.8M591.5 307.9h.8M628.5 295.9h.8M638 293.4h.8M624.5 292.4h.8M616.5 298.9h.8M592.5 294.9h.8M605.5 288.4h.8M598 290.9h.8M604.5 287.4h.8M619 289.9h.8M605 286.4h.8M608 301.9h.8M593.5 294.9h.8M614 300.9h.8M611.5 300.4h.8M596.5 301.4h.8M592 298.4h.8M615 299.4h.8M608 284.9h.8M603 305.4h.8M611.5 282.9h.8M619 294.4h.8M604.5 283.4h.8M594.5 296.9h.8M600.5 304.9h.8M620 292.4h.8M593 297.9h.8M619.5 298.4h.8M590 295.9h.8M619 292.4h.8M593 297.4h.8M592.5 290.4h.8M590 304.9h.8M601.5 306.4h.8M626 289.9h.8M619.5 285.4h.8M625 290.9h.8M614.5 296.4h.8M618 297.4h.8M620 288.9h.8M604 301.4h.8M610.5 299.9h.8M616 297.9h.8M618 296.4h.8M590 299.9h.8M594 291.4h.8M626 290.4h.8M615 286.4h.8M595.5 294.9h.8M595.5 294.4h.8M607 302.4h.8M582 298.4h.8M602 288.4h.8M584 301.9h.8M598.5 302.9h.8M616.5 300.4h.8M611.5 308.4h.8M601 289.4h.8M616.5 296.9h.8M612 300.9h.8M622 293.9h.8M621 284.9h.8M627 288.4h.8M609.5 301.4h.8M609 302.4h.8M623 286.9h.8M590.5 293.9h.8M629.5 284.4h.8M588 294.9h.8M613 299.9h.8M615 298.4h.8M618 299.9h.8M619.5 286.9h.8M590.5 299.9h.8M627 294.4h.8M623 292.9h.8M637.5 287.4h.8M621 284.4h.8M593 295.4h.8M622 297.9h.8M601.5 290.4h.8M606.5 286.9h.8M619 293.9h.8M593 292.4h.8M622 286.9h.8M592 290.4h.8M629.5 292.9h.8M611.5 284.9h.8M604.5 282.9h.8M587 291.9h.8M601 287.4h.8M635 284.9h.8M623 288.4h.8M608 287.4h.8M628 288.4h.8M602.5 289.4h.8M594 289.9h.8M594 301.9h.8M621 283.4h.8M587 296.9h.8M618.5 298.4h.8M611.5 312.9h.8M594.5 285.4h.8M591.5 297.9h.8M605.5 301.9h.8M605.5 305.4h.8M614.5 297.4h.8M614 300.4h.8M612 300.4h.8M609.5 301.9h.8M614 299.4h.8M591.5 305.9h.8M587.5 297.9h.8M621.5 297.4h.8M619.5 291.9h.8M619 285.4h.8M601 290.4h.8M600 289.9h.8M595.5 299.9h.8M589.5 298.9h.8M619 281.4h.8M622.5 291.4h.8M598.5 301.9h.8M608.5 284.4h.8M594 288.4h.8M584 288.4h.8M626 286.9h.8M612 285.9h.8M592.5 303.9h.8M600.5 287.9h.8M597 302.4h.8M619.5 282.4h.8M610 284.9h.8M605 302.4h.8M589 296.9h.8M626 296.9h.8M609 303.4h.8M621 285.4h.8M627 294.9h.8M594.5 297.9h.8M608.5 301.9h.8M603 287.4h.8M606.5 281.4h.8M611 299.9h.8M625.5 286.4h.8M619.5 288.4h.8M619 295.4h.8M635 282.4h.8M611.5 286.4h.8M587 300.4h.8M584.5 296.9h.8M603 282.4h.8M610.5 286.4h.8M626 290.9h.8M588 287.9h.8M630.5 292.9h.8M594 296.9h.8M632 301.4h.8M613 284.9h.8M621 290.9h.8M619.5 290.9h.8M620.5 296.9h.8M600 286.4h.8M613 286.9h.8M610 285.4h.8M589.5 294.4h.8M620.5 300.4h.8M594.5 297.4h.8M605 306.9h.8M618.5 295.9h.8M615 297.9h.8M621.5 296.9h.8M628 294.4h.8M615 297.4h.8M607.5 302.9h.8M603 288.9h.8M621.5 291.9h.8M593 294.9h.8M623.5 289.4h.8M614.5 299.4h.8M612.5 307.4h.8M579.5 298.4h.8M609 304.9h.8M592 291.9h.8M625 293.4h.8M598.5 307.4h.8M593.5 299.4h.8M605.5 303.9h.8M592 297.9h.8M585.5 304.4h.8M619 289.4h.8M603 288.4h.8M626.5 291.9h.8M600 305.4h.8M616.5 287.9h.8M621.5 296.4h.8M588.5 299.4h.8M620.5 291.4h.8M588 288.4h.8M610.5 283.9h.8M616.5 297.9h.8M622 288.9h.8M617.5 299.9h.8M608 285.9h.8M616 289.4h.8M603.5 282.9h.8M598 288.4h.8M616 284.9h.8M620.5 292.4h.8M590 295.4h.8M620.5 290.9h.8M616 299.9h.8M618.5 289.4h.8M627 295.4h.8M583.5 297.4h.8M616.5 299.9h.8M588 292.4h.8M599.5 288.4h.8M612.5 283.9h.8M626 288.4h.8M618 290.4h.8M596 298.4h.8M586.5 294.4h.8M620 284.9h.8M622.5 300.4h.8M595.5 293.4h.8M616.5 304.9h.8M596 300.4h.8M603.5 287.4h.8M623 294.4h.8M596.5 300.9h.8M631.5 291.4h.8M630 285.4h.8M624.5 290.4h.8M592.5 299.4h.8M618.5 289.9h.8M595.5 287.4h.8M591 291.4h.8M620.5 297.9h.8M623 290.9h.8M620 291.9h.8M598 309.9h.8M614.5 285.4h.8M622 295.9h.8M613.5 298.4h.8M622 294.9h.8M587 306.9h.8M601.5 288.4h.8M631.5 285.4h.8M619.5 292.4h.8M614.5 306.9h.8M606 286.9h.8M599 302.4h.8M609.5 307.9h.8M592.5 302.4h.8M593 302.9h.8M578 295.4h.8M612 284.4h.8M626 291.9h.8M619 291.4h.8M629 289.9h.8M620 287.9h.8M598 302.9h.8M592 298.9h.8M593 294.4h.8M618 284.4h.8M620.5 297.4h.8M581.5 294.9h.8M602 284.9h.8M607.5 283.4h.8M624.5 286.4h.8M614.5 296.9h.8M593.5 303.9h.8M605.5 283.9h.8M616.5 286.9h.8M622 289.9h.8M628 290.9h.8M595 286.4h.8M577.5 288.9h.8M590.5 292.9h.8M595 299.4h.8M600 287.4h.8M615 301.4h.8M586.5 289.9h.8M623 289.9h.8M631 294.4h.8M596.5 302.4h.8M589.5 296.4h.8M613.5 285.9h.8M622.5 286.4h.8M621 295.9h.8M620.5 292.9h.8M592 301.4h.8M621 291.4h.8M619.5 284.4h.8M581 303.9h.8M588.5 297.4h.8M617 297.9h.8M612.5 300.4h.8M594.5 296.4h.8M626.5 291.4h.8M594.5 294.4h.8M621 296.9h.8M601.5 287.4h.8M602.5 287.9h.8M617.5 289.9h.8M595 297.9h.8M606 283.9h.8M624.5 294.9h.8M604.5 307.9h.8M614.5 300.4h.8M597 288.4h.8M627 290.9h.8M604 284.4h.8M622 294.4h.8M618.5 287.4h.8M591.5 298.9h.8M619 288.4h.8M627.5 290.9h.8M599 311.4h.8M583.5 305.4h.8M593.5 300.4h.8M592 294.4h.8M607 285.9h.8M589 296.4h.8M601 286.4h.8M612.5 299.9h.8M603.5 302.4h.8M616.5 295.4h.8M619.5 289.4h.8M621.5 287.4h.8M625 286.9h.8M617 298.9h.8M620 294.4h.8M608.5 300.9h.8M622.5 293.4h.8M619.5 296.9h.8M618.5 303.4h.8M607.5 288.4h.8M629 286.9h.8M581 294.4h.8M613 286.4h.8M614.5 298.4h.8M594 298.4h.8M594 304.4h.8M597 283.4h.8M616 285.9h.8M584 298.4h.8M620.5 289.9h.8M591.5 288.9h.8M596.5 299.9h.8M611.5 286.9h.8M595 301.4h.8M618 287.4h.8M625.5 289.4h.8M598.5 288.4h.8M606 287.9h.8M614 301.4h.8M622 300.4h.8M623 296.4h.8M591.5 294.9h.8M614.5 281.4h.8M626 283.4h.8M624 298.9h.8M614 287.4h.8M599 284.9h.8M612 278.4h.8M612 287.4h.8M614 286.4h.8M602 288.9h.8M623.5 288.4h.8M595 302.9h.8M622.5 284.9h.8M627 289.9h.8M608 287.9h.8M605 309.9h.8M619 288.9h.8M582 303.9h.8M591.5 291.9h.8M607 285.4h.8M611 302.9h.8M628.5 294.9h.8M625.5 295.9h.8M618.5 288.9h.8M622 293.4h.8M626 298.4h.8M619 292.9h.8M623.5 297.4h.8M609.5 303.9h.8M585.5 303.9h.8M587 301.4h.8M624.5 303.4h.8M600 288.9h.8M618 287.9h.8M620 290.9h.8M606.5 304.4h.8M630 296.4h.8M617.5 285.9h.8M610 300.4h.8M595 313.4h.8M617 296.9h.8M613.5 287.4h.8M611.5 301.4h.8M597 290.4h.8M617.5 297.4h.8M627.5 297.9h.8M616.5 296.4h.8M603 286.9h.8M602 287.9h.8M606.5 303.4h.8M607 283.4h.8M624 288.9h.8M620.5 296.4h.8M590.5 304.4h.8M602 283.9h.8M595 290.9h.8M617 298.4h.8M592.5 291.9h.8M634.5 290.4h.8M596 301.9h.8M593.5 293.9h.8M620.5 285.9h.8M600 289.4h.8M601.5 306.9h.8M595 284.9h.8M599.5 287.9h.8M623 293.4h.8M612 286.9h.8M605 304.4h.8M626 297.4h.8M609 286.4h.8M623.5 291.9h.8M612.5 282.9h.8M622.5 294.4h.8M589 302.9h.8M582.5 288.9h.8M637 288.9h.8M589.5 290.4h.8M635.5 287.9h.8M624 302.4h.8M633 286.4h.8M594.5 290.9h.8M620 293.4h.8M621 297.4h.8M622 283.9h.8M590.5 295.9h.8M622 292.4h.8M604 288.9h.8M612.5 302.9h.8M624 296.4h.8M598 301.9h.8M597.5 291.9h.8M600.5 288.4h.8M615 296.4h.8M597 291.9h.8M620 292.9h.8M614.5 301.4h.8M595.5 305.4h.8M615 300.4h.8M600.5 303.9h.8M596 283.9h.8M612.5 284.9h.8M598.5 289.4h.8M607 287.9h.8M593 300.9h.8M625 294.4h.8M588.5 294.9h.8M586 310.4h.8M621.5 295.4h.8M624 295.9h.8M614.5 298.9h.8M591.5 295.9h.8M618 286.4h.8M608.5 302.9h.8M601 289.9h.8M619 297.4h.8M596.5 308.9h.8M596.5 286.4h.8M618 305.4h.8M616 300.4h.8M620.5 286.4h.8M586 302.4h.8M603.5 289.4h.8M611 302.4h.8M619.5 285.9h.8M599 301.4h.8M596 290.4h.8M609.5 305.4h.8M591.5 303.4h.8M616 296.4h.8M622 296.4h.8M621 293.9h.8M625 284.9h.8M618.5 297.4h.8M588 291.9h.8M608 280.4h.8M596.5 301.9h.8M595.5 301.4h.8M620.5 295.9h.8M594.5 299.9h.8M617 286.4h.8M590.5 300.9h.8M622 303.4h.8M614 297.9h.8M621 291.9h.8M581.5 300.9h.8M606 302.9h.8M591 298.9h.8M601.5 285.4h.8M597.5 301.9h.8M580.5 293.9h.8M633 281.9h.8M613 283.9h.8M590.5 296.4h.8M580.5 303.9h.8M594 300.9h.8M603 286.4h.8M598 289.9h.8M604.5 281.9h.8M596 298.9h.8M622.5 290.4h.8M608 288.4h.8M600 301.9h.8M598.5 304.4h.8M618.5 296.9h.8M599.5 305.9h.8M590.5 284.9h.8M622.5 288.9h.8M618 280.9h.8M613 307.4h.8M603.5 284.4h.8M619 298.4h.8M596 292.9h.8M593 287.9h.8M612 299.9h.8M602 302.9h.8M602 285.9h.8M597.5 291.4h.8M595.5 301.9h.8M609 286.9h.8M616.5 287.4h.8M588.5 289.9h.8M610.5 299.4h.8M635.5 296.9h.8M627.5 302.4h.8M621.5 278.9h.8M624 285.9h.8M593 304.4h.8M632.5 292.9h.8M623.5 296.4h.8M594 289.4h.8M615.5 301.4h.8M609.5 286.9h.8M638 287.9h.8M620 296.9h.8M604 303.4h.8M598.5 285.9h.8M620 299.4h.8M611.5 302.4h.8M595.5 300.4h.8M607 304.4h.8M617 287.9h.8M616 298.9h.8M588 299.9h.8M605.5 281.4h.8M597 304.9h.8M593 288.4h.8M581.5 294.4h.8M607 281.4h.8M609 303.9h.8M597.5 303.4h.8M591 298.4h.8M603.5 304.4h.8M593.5 292.9h.8M603 285.9h.8M594.5 305.4h.8M617 287.4h.8M594 299.9h.8M599 289.9h.8M610 302.4h.8M606.5 287.9h.8M599 307.4h.8M594.5 285.9h.8M604 282.9h.8M614.5 299.9h.8M605 282.9h.8M586 298.9h.8M614 301.9h.8M589 297.4h.8M619.5 295.4h.8M586 283.4h.8M630 288.9h.8M621.5 295.9h.8M608 307.9h.8M591 292.9h.8M621.5 292.4h.8M600.5 309.4h.8M601 303.9h.8M622 295.4h.8M626 293.4h.8M600.5 290.4h.8M606.5 288.4h.8M624.5 289.9h.8M616.5 285.9h.8M621.5 288.4h.8M615 284.9h.8M613.5 299.9h.8M605.5 279.4h.8M593.5 298.4h.8M617 299.9h.8M617.5 286.4h.8M594.5 298.4h.8M603 287.9h.8M614 286.9h.8M626.5 299.4h.8M611 286.4h.8M598.5 288.9h.8M615.5 296.9h.8M581 296.9h.8M623.5 300.4h.8M624 283.4h.8M597.5 290.4h.8M615 301.9h.8M583.5 289.4h.8M621.5 287.9h.8M628 295.4h.8M601.5 302.9h.8M624 295.4h.8M626.5 288.9h.8M579.5 289.9h.8M601 288.9h.8M594.5 293.9h.8M610.5 300.9h.8M596 303.9h.8M622 289.4h.8M597.5 290.9h.8M615.5 288.4h.8M625.5 302.4h.8M620 301.9h.8M616.5 283.4h.8M598.5 304.9h.8M591 304.9h.8M620.5 293.4h.8M617.5 286.9h.8M618 298.9h.8M622 302.9h.8M616.5 288.9h.8M589.5 292.9h.8M599 288.4h.8M588 299.4h.8M617 306.4h.8M620 298.4h.8M630.5 289.9h.8M625 286.4h.8M589.5 305.9h.8M592.5 298.4h.8M597 290.9h.8M582.5 293.9h.8M610 301.4h.8M592.5 294.4h.8M594.5 303.9h.8M596.5 302.9h.8M592.5 293.9h.8M633 282.4h.8M594 291.9h.8M623 287.9h.8M619.5 288.9h.8M592 287.4h.8M603 301.4h.8M624 289.4h.8M627 306.9h.8M606.5 301.9h.8M610 302.9h.8M624 290.4h.8M631 292.4h.8M601 302.9h.8M620.5 290.4h.8M615.5 285.9h.8M623 296.9h.8M617 301.4h.8M621 295.4h.8M621.5 291.4h.8M613 283.4h.8M604.5 304.9h.8M633 287.9h.8M595.5 303.4h.8M618.5 302.4h.8M610 303.4h.8M599 287.4h.8M615 285.9h.8M620 300.4h.8M586.5 294.9h.8M619 296.4h.8M586 295.9h.8M586 295.4h.8M607.5 285.4h.8M613.5 298.9h.8M636 297.4h.8M615.5 297.4h.8M584.5 293.9h.8M593.5 297.9h.8M606.5 302.9h.8M594.5 293.4h.8M602.5 288.9h.8M620.5 288.9h.8M636.5 302.9h.8M601 306.9h.8M620 291.4h.8M581.5 301.9h.8M620 297.4h.8M620 290.4h.8M614.5 302.4h.8M594.5 300.4h.8M614 297.4h.8M598.5 302.4h.8M601 304.4h.8M598 285.9h.8M595 288.4h.8M584.5 306.4h.8M595 292.9h.8M593 299.9h.8M602 286.9h.8M594 299.4h.8M579.5 286.4h.8M597 300.9h.8M620 288.4h.8M585 297.4h.8M603 302.9h.8M614.5 287.4h.8M611.5 301.9h.8M588.5 293.4h.8M593.5 293.4h.8M607.5 284.4h.8M620 289.9h.8M619.5 287.4h.8M589.5 292.4h.8M598.5 306.9h.8M627 297.9h.8M598 303.4h.8M614 306.9h.8M592.5 289.4h.8M606.5 286.4h.8M588.5 294.4h.8M596.5 303.9h.8M591 286.9h.8M595 295.9h.8M628 291.4h.8M584 293.4h.8M611 301.9h.8M638.5 281.9h.8M601.5 304.9h.8M624 291.9h.8M624 290.9h.8M599.5 287.4h.8M618 295.9h.8M588.5 305.4h.8M588.5 293.9h.8M621.5 298.9h.8M625.5 292.4h.8M611.5 298.4h.8M595 303.4h.8M602 303.4h.8M598.5 290.4h.8M609.5 302.4h.8M590 288.9h.8M620 300.9h.8M626.5 285.9h.8M623 290.4h.8M622.5 293.9h.8M592.5 300.9h.8M597.5 306.9h.8M598 283.9h.8M615 298.9h.8M603.5 284.9h.8M590.5 291.4h.8M614 302.9h.8M612.5 298.4h.8M597 299.9h.8M609.5 283.9h.8M598.5 290.9h.8M623.5 292.4h.8M610.5 301.9h.8M597 292.4h.8M610.5 285.4h.8M626.5 289.4h.8M597 287.9h.8M622 299.9h.8M608.5 284.9h.8M628 282.4h.8M622.5 296.9h.8M601 303.4h.8M607.5 302.4h.8M604 303.9h.8M593.5 302.9h.8M636.5 291.4h.8M595.5 288.4h.8M614.5 286.9h.8M582.5 305.9h.8M619 290.4h.8M609 300.4h.8M596 294.4h.8M589 298.9h.8M626 296.4h.8M589.5 304.4h.8M594.5 286.9h.8M619 295.9h.8M612.5 282.4h.8M614 285.9h.8M604.5 285.4h.8M599 288.9h.8M584 302.4h.8M594 293.9h.8M599 285.9h.8M580.5 299.9h.8M610 281.4h.8M597 303.4h.8M602.5 286.4h.8M606.5 306.9h.8M594 296.4h.8M607.5 285.9h.8M622.5 294.9h.8M614 296.9h.8M625.5 288.4h.8M627.5 285.9h.8M608.5 301.4h.8M622 287.9h.8M581.5 302.4h.8M603 305.9h.8M610 305.4h.8M594 301.4h.8M584.5 302.4h.8M623 281.9h.8M591.5 301.4h.8M598.5 286.4h.8M589 299.4h.8M582.5 295.4h.8M594.5 295.4h.8M608 285.4h.8M636 288.9h.8M596 289.9h.8M592.5 295.4h.8M583.5 295.4h.8M611 300.4h.8M615 287.4h.8M621 292.9h.8M625 291.4h.8M594.5 301.4h.8M618.5 288.4h.8M600.5 302.9h.8M615.5 298.9h.8M619 286.4h.8M627 290.4h.8M598.5 291.4h.8M604.5 287.9h.8M585 296.4h.8M621 292.4h.8M608 303.9h.8M598.5 300.9h.8M627.5 283.9h.8M615 287.9h.8M590.5 293.4h.8M630 287.4h.8M612.5 286.9h.8M620.5 284.9h.8M622.5 296.4h.8M619.5 294.4h.8M626.5 298.4h.8M621.5 294.9h.8M602.5 305.9h.8M622 284.4h.8M595 280.9h.8M612.5 298.9h.8M605.5 308.4h.8M624 292.9h.8M621 286.9h.8M605.5 287.4h.8M614.5 285.9h.8M593.5 295.9h.8M592.5 303.4h.8M608 300.9h.8M624 297.9h.8M598 300.4h.8M607.5 301.9h.8M613 287.4h.8M608 282.4h.8M622.5 289.4h.8M611.5 287.4h.8M610.5 300.4h.8M621 283.9h.8M598 290.4h.8M617 289.4h.8M594 316.4h.8M597.5 304.9h.8M598.5 303.9h.8M604 319.9h.8M598 312.4h.8M591.5 320.9h.8M604.5 310.9h.8M598.5 321.9h.8M606 316.9h.8M599.5 304.9h.8M603 304.9h.8M606.5 322.9h.8M612.5 316.4h.8M605.5 320.4h.8M604.5 324.4h.8M602.5 318.4h.8M606 315.4h.8M600 318.4h.8M603 309.4h.8M602.5 320.4h.8M606 307.9h.8M606 328.4h.8M595.5 319.9h.8M600 318.9h.8M599.5 308.4h.8M602.5 325.9h.8M600 323.4h.8M599 323.9h.8M602 321.9h.8M592 312.9h.8M607.5 326.4h.8M599.5 324.4h.8M598.5 308.4h.8M611 307.9h.8M602 309.9h.8M609 314.4h.8M602.5 308.4h.8M605 305.4h.8M594.5 310.4h.8M604 328.9h.8M604.5 318.9h.8M605 308.9h.8M613 309.9h.8M608 309.9h.8M599 318.4h.8M593.5 306.9h.8M604.5 308.4h.8M595 312.4h.8M604.5 316.4h.8M594.5 324.4h.8M597.5 317.9h.8M598 306.9h.8M606 301.4h.8M600.5 308.4h.8M601.5 320.4h.8M607.5 314.4h.8M600 312.4h.8M606 313.4h.8M603.5 306.9h.8M600.5 320.9h.8M601 305.9h.8M603 317.9h.8M604.5 317.4h.8M608 324.4h.8M601 309.9h.8M598.5 320.4h.8M590.5 311.4h.8M601 328.4h.8M600 319.4h.8M603 318.9h.8M597.5 301.4h.8M603.5 311.4h.8M607.5 304.4h.8M605 318.4h.8M602 321.4h.8M603 319.4h.8M598 317.9h.8M595 311.9h.8M596.5 312.4h.8M602.5 306.9h.8M604 313.4h.8M592 308.4h.8M598 314.9h.8M595 308.4h.8M602.5 305.4h.8M601.5 326.4h.8M595.5 314.4h.8M600 304.4h.8M592 313.9h.8M600 302.9h.8M604.5 305.4h.8M596 305.4h.8M601.5 319.9h.8M606 308.4h.8M607 310.4h.8M601.5 324.9h.8M604 318.4h.8M601 321.9h.8M592.5 322.4h.8M604 301.9h.8M605 313.9h.8M607 312.4h.8M608 316.9h.8M608.5 309.4h.8M606.5 314.9h.8M595 304.9h.8M602 320.9h.8M598.5 318.4h.8M603 325.4h.8M599.5 314.9h.8M597.5 314.4h.8M593 314.9h.8M600 327.9h.8M596.5 314.4h.8M599.5 325.9h.8M594 310.9h.8M601.5 328.9h.8M598 304.4h.8M597 309.4h.8M592 308.9h.8M597.5 303.9h.8M596 314.4h.8M610 305.9h.8M604.5 302.4h.8M597 318.9h.8M598 321.4h.8M597.5 311.9h.8M605.5 305.9h.8M607.5 315.4h.8M599 320.4h.8M591.5 315.4h.8M595.5 324.4h.8M606.5 302.4h.8M607 310.9h.8M599.5 318.4h.8M602 305.4h.8M599.5 315.4h.8M603.5 320.4h.8M594 324.4h.8M596 316.9h.8M606 312.4h.8M598 311.9h.8M600 321.4h.8M595 301.9h.8M597.5 308.4h.8M599.5 325.4h.8M610.5 320.4h.8M610.5 309.4h.8M603.5 304.9h.8M601 320.4h.8M600 314.4h.8M604 310.4h.8M596.5 324.4h.8M591.5 319.4h.8M600.5 322.9h.8M609 308.9h.8M599.5 308.9h.8M593.5 315.9h.8M604 310.9h.8M606 321.4h.8M598 308.9h.8M609.5 324.9h.8M599 308.4h.8M600 308.9h.8M596 317.9h.8M597.5 322.4h.8M593.5 320.9h.8M603.5 310.9h.8M610 325.9h.8M597 316.4h.8M605.5 309.9h.8M599.5 322.4h.8M596 305.9h.8M597.5 313.4h.8M598.5 310.9h.8M606.5 321.4h.8M603.5 318.4h.8M600.5 306.4h.8M599.5 312.9h.8M609.5 310.9h.8M602 323.9h.8M602 318.9h.8M592.5 313.9h.8M605.5 303.4h.8M596.5 309.9h.8M599.5 323.4h.8M597.5 310.4h.8M595.5 313.4h.8M602.5 321.4h.8M599.5 307.4h.8M597.5 302.4h.8M604.5 312.4h.8M605.5 314.4h.8M593.5 310.4h.8M598.5 308.9h.8M600 306.9h.8M604 305.4h.8M606 310.9h.8M603 320.9h.8M610.5 314.9h.8M597 319.9h.8M598.5 316.4h.8M607.5 321.4h.8M604.5 312.9h.8M605 324.4h.8M607 305.4h.8M604.5 314.9h.8M594 326.4h.8M601.5 310.4h.8M605 322.4h.8M597.5 324.4h.8M596 311.9h.8M597 308.9h.8M598 310.9h.8M604 317.9h.8M606 306.4h.8M597 309.9h.8M598 316.9h.8M604 321.4h.8M603 306.4h.8M601.5 309.4h.8M597 320.9h.8M597 310.9h.8M611.5 317.9h.8M608 305.9h.8M602.5 304.4h.8M608 311.9h.8M605.5 313.9h.8M598 305.9h.8M605.5 307.4h.8M599.5 306.4h.8M598 326.4h.8M605 324.9h.8M598 323.9h.8M604.5 322.9h.8M599 309.9h.8M598 324.9h.8M605 310.9h.8M603.5 315.9h.8M605 313.4h.8M598.5 311.9h.8M592 321.4h.8M603.5 323.4h.8M607 325.4h.8M600 315.9h.8M597.5 315.9h.8M601.5 305.4h.8M604.5 313.4h.8M597 308.4h.8M597.5 320.4h.8M598 315.4h.8M597.5 315.4h.8M608.5 314.9h.8M594.5 328.9h.8M603 307.4h.8M596 319.4h.8M603.5 319.4h.8M597 310.4h.8M599.5 318.9h.8M596.5 305.9h.8M598 328.9h.8M608 317.4h.8M608 317.9h.8M599.5 306.9h.8M609.5 312.9h.8M602.5 321.9h.8M607 308.9h.8M596 303.4h.8M600 307.9h.8M604.5 322.4h.8M596.5 320.4h.8M603.5 309.9h.8M595.5 304.9h.8M594 314.9h.8M605 321.9h.8M602.5 318.9h.8M591.5 307.4h.8M602 317.9h.8M602.5 306.4h.8M600 313.9h.8M600.5 308.9h.8M594.5 311.9h.8M600 306.4h.8M595.5 312.9h.8M600.5 319.9h.8M604.5 305.9h.8M607.5 318.4h.8M594 305.4h.8M595 314.4h.8M602 307.4h.8M597 312.9h.8M597.5 314.9h.8M595 326.4h.8M598 325.4h.8M602 328.4h.8M599.5 313.9h.8M607 319.4h.8M599 315.4h.8M593.5 314.4h.8M599.5 328.4h.8M601.5 321.4h.8M603 322.4h.8M595.5 317.4h.8M593.5 324.9h.8M598.5 315.4h.8M599.5 317.4h.8M599 323.4h.8M599.5 320.4h.8M612.5 303.4h.8M601.5 307.4h.8M598.5 324.4h.8M600 308.4h.8M600.5 324.4h.8M599.5 316.4h.8M603.5 307.9h.8M608 319.4h.8M593.5 312.9h.8M603 317.4h.8M606.5 317.4h.8M597 324.4h.8M598 310.4h.8M607 316.4h.8M607.5 306.4h.8M597 301.9h.8M609 301.9h.8M609 318.4h.8M597 307.9h.8M603.5 322.9h.8M608.5 322.9h.8M603 308.4h.8M601 308.4h.8M596.5 319.9h.8M600.5 307.9h.8M602.5 328.9h.8M596 321.4h.8M609.5 318.4h.8M594.5 325.4h.8M606.5 316.4h.8M597.5 326.4h.8M608 306.4h.8M599 325.4h.8M592 319.9h.8M608 315.9h.8M607 322.4h.8M605.5 318.9h.8M596.5 286.9h.8M601.5 309.9h.8M607 315.4h.8M607.5 325.4h.8M600 317.9h.8M593.5 308.4h.8M595 312.9h.8M605 309.4h.8M604.5 311.4h.8M597 312.4h.8M606.5 317.9h.8M604 309.4h.8M602.5 317.9h.8M603 324.9h.8M607 302.9h.8M599 313.4h.8M596 306.4h.8M597.5 321.4h.8M606 312.9h.8M591 316.4h.8M605.5 308.9h.8M615 313.9h.8M594 315.4h.8M597.5 310.9h.8M598.5 309.9h.8M605.5 322.4h.8M605.5 319.4h.8M602 307.9h.8M599 319.9h.8M594 303.9h.8M605 307.9h.8M599 307.9h.8M605.5 319.9h.8M594.5 319.9h.8M601 322.4h.8M598 313.4h.8M598.5 311.4h.8M600.5 325.9h.8M607 324.4h.8M602 320.4h.8M592.5 304.9h.8M609.5 309.9h.8M605.5 316.9h.8M598 316.4h.8M599.5 319.4h.8M605.5 327.4h.8M599 304.4h.8M599.5 316.9h.8M604 311.4h.8M595 310.9h.8M605 314.9h.8M599 311.9h.8M595.5 316.9h.8M591.5 310.9h.8M603.5 316.9h.8M605 305.9h.8M605.5 314.9h.8M603 324.4h.8M599.5 309.9h.8M606 319.9h.8M599 315.9h.8M596.5 317.9h.8M596 319.9h.8M605.5 315.4h.8M590 328.9h.8M598.5 317.9h.8M596.5 310.9h.8M593 326.4h.8M603.5 307.4h.8M592.5 312.9h.8M600.5 321.4h.8M598 309.4h.8M602 322.4h.8M604 312.9h.8M596 320.4h.8M596 312.4h.8M597.5 312.4h.8M602 306.4h.8M592.5 314.9h.8M601 308.9h.8M608.5 324.9h.8M599.5 303.9h.8M604.5 309.4h.8M598 324.4h.8M589.5 320.4h.8M600.5 322.4h.8M598 319.4h.8M606.5 306.4h.8M595.5 318.9h.8M597.5 309.4h.8M603 304.4h.8M605.5 311.4h.8M598.5 319.9h.8M595.5 321.4h.8M596.5 327.9h.8M598 327.9h.8M608 316.4h.8M595.5 311.9h.8M598.5 305.4h.8M600.5 321.9h.8M595.5 322.9h.8M600 323.9h.8M602.5 307.9h.8M601 319.9h.8M600 316.9h.8M598.5 312.9h.8M603.5 305.9h.8M598.5 313.4h.8M593 316.9h.8M604.5 311.9h.8M603.5 323.9h.8M603.5 306.4h.8M598.5 316.9h.8M596.5 300.4h.8M599 308.9h.8M603 310.9h.8M598.5 312.4h.8M591.5 323.4h.8M600 320.4h.8M593.5 313.4h.8M609.5 315.9h.8M598.5 310.4h.8M598 304.9h.8M608 310.4h.8M607.5 312.4h.8M593.5 311.4h.8M591 300.4h.8M600 319.9h.8M592.5 317.9h.8M600.5 305.4h.8M604.5 307.4h.8M599.5 320.9h.8M597.5 313.9h.8M595 300.9h.8M602.5 303.4h.8M601.5 305.9h.8M595 321.4h.8M604 321.9h.8M602 324.9h.8M600.5 307.4h.8M598 313.9h.8M603 323.9h.8M597.5 305.4h.8M607.5 303.4h.8M605 303.4h.8M591 314.9h.8M598 322.4h.8M594.5 314.4h.8M601 320.9h.8M595.5 323.4h.8M600.5 320.4h.8M600 302.4h.8M605.5 323.4h.8M592.5 308.4h.8M592 310.4h.8M604.5 324.9h.8M607.5 324.4h.8M599 324.4h.8M596 308.4h.8M599 317.4h.8M595.5 317.9h.8M596.5 304.9h.8M601.5 307.9h.8M606 308.9h.8M599 316.4h.8M595 322.4h.8M609 302.9h.8M600.5 323.9h.8M595.5 327.9h.8M594.5 331.4h.8M604 315.9h.8M605.5 307.9h.8M603.5 321.4h.8M597.5 320.9h.8M606.5 310.9h.8M596 304.9h.8M613 304.9h.8M599 312.9h.8M600 309.4h.8M592.5 307.4h.8M605.5 306.4h.8M599.5 304.4h.8M615 325.9h.8M602.5 308.9h.8M604.5 318.4h.8M607 308.4h.8M603.5 316.4h.8M605 319.9h.8M605.5 310.4h.8M595 318.4h.8M604 325.4h.8M602 309.4h.8M604 319.4h.8M597 314.9h.8M597.5 321.9h.8M601.5 328.4h.8M602.5 322.4h.8M602 304.4h.8M605.5 313.4h.8M609 315.4h.8M598.5 309.4h.8M609 311.4h.8M607 319.9h.8M610.5 307.4h.8M607 327.4h.8M606.5 309.9h.8M598 318.4h.8M597 318.4h.8M591 320.4h.8M591 326.9h.8M604 309.9h.8M602 323.4h.8M604.5 320.9h.8M603 311.4h.8M601.5 303.9h.8M610.5 317.4h.8M604 320.4h.8M604 314.4h.8M595 319.4h.8M629.5 319.9h.8M640.5 283.9h.8M639 283.4h.8M597.5 285.4h.8M619.5 304.4h.8M629 283.4h.8M604.5 316.9h.8M616 315.9h.8M592.5 309.4h.8M630.5 297.4h.8M624 313.9h.8M611 313.4h.8M631.5 294.4h.8M629.5 304.9h.8M622.5 287.4h.8M612 305.9h.8M608.5 305.9h.8M645 283.9h.8M641 283.4h.8M637 282.9h.8M593.5 316.4h.8M621 317.4h.8M605.5 310.9h.8M624.5 318.9h.8M605 311.4h.8M593.5 316.9h.8M641 301.9h.8M641.5 290.9h.8M616 312.4h.8M629 305.4h.8M632 305.4h.8M609.5 308.4h.8M620 316.9h.8M623.5 293.9h.8M639 299.4h.8M632 298.9h.8M631 310.4h.8M629.5 295.4h.8M624 314.9h.8M631 313.4h.8M642 288.4h.8M640.5 299.9h.8M629 306.4h.8M597.5 286.9h.8M619.5 283.9h.8M638.5 287.4h.8M624 307.9h.8M610.5 282.9h.8M630.5 318.4h.8M635.5 295.9h.8M623 284.9h.8M638 285.4h.8M636 303.9h.8M618 302.4h.8M592.5 307.9h.8M628.5 298.9h.8M622 285.4h.8M630 308.4h.8M630.5 291.9h.8M627 288.9h.8M642.5 290.4h.8M640 310.9h.8M644 305.4h.8M645.5 289.4h.8M620 295.4h.8M632 317.4h.8M621 318.4h.8M594.5 312.9h.8M636.5 313.9h.8M644.5 294.9h.8M640.5 307.9h.8M624.5 304.4h.8M644 310.4h.8M609 287.4h.8M593.5 300.9h.8M594.5 320.4h.8M637.5 306.4h.8M621.5 283.4h.8M604 283.4h.8M645.5 319.9h.8M623.5 302.4h.8M609 319.4h.8M635.5 316.9h.8M635 316.4h.8M592.5 299.9h.8M610 308.9h.8M631 303.4h.8M634.5 314.4h.8M609 318.9h.8M613.5 302.4h.8M607.5 310.9h.8M623.5 313.4h.8M594.5 315.9h.8M607.5 313.4h.8M611 301.4h.8M634.5 299.4h.8M593 282.9h.8M640 286.4h.8M644.5 303.9h.8M645.5 306.4h.8M645 307.9h.8M644.5 309.4h.8M627 318.4h.8M628.5 282.4h.8M634 307.4h.8M608.5 311.9h.8M617.5 316.4h.8M641 287.9h.8M606 311.4h.8M645.5 295.9h.8M617 318.4h.8M638.5 305.9h.8M617.5 284.9h.8M593 317.9h.8M628.5 289.9h.8M640.5 317.4h.8M621.5 285.9h.8M614 282.4h.8M641 306.9h.8M608.5 283.9h.8M632.5 289.9h.8M633 291.9h.8M633.5 286.9h.8M625.5 298.4h.8M597 282.9h.8M639.5 299.4h.8M633 308.4h.8M607 315.9h.8M629.5 290.4h.8M615.5 305.9h.8M614.5 311.4h.8M617 312.9h.8M621 306.4h.8M635.5 304.9h.8M639 309.4h.8M635 303.4h.8M620 299.9h.8M646 298.4h.8M642.5 299.4h.8M608 303.4h.8M633.5 304.9h.8M611 319.4h.8M621.5 317.9h.8M638.5 294.4h.8M611 309.4h.8M600 283.9h.8M593.5 317.9h.8M628.5 319.4h.8M629.5 297.4h.8M625 288.4h.8M637.5 298.4h.8M636.5 299.9h.8M613.5 282.4h.8M601 285.9h.8M622.5 307.9h.8M643 285.4h.8M644 297.4h.8M608 315.4h.8M613.5 314.9h.8M640 307.9h.8M627 299.4h.8M609 301.4h.8M643.5 290.4h.8M607.5 286.9h.8M623.5 306.9h.8M636 282.9h.8M616.5 295.9h.8M615 302.9h.8M599.5 303.4h.8M618.5 311.4h.8M646 316.4h.8M608.5 310.9h.8M621 307.9h.8M613 282.4h.8M636 316.9h.8M644 305.9h.8M610 285.9h.8M611.5 309.4h.8M624 305.4h.8M637 295.9h.8M607.5 287.4h.8M596.5 292.9h.8M639 298.4h.8M619 308.9h.8M621 285.9h.8M627 308.4h.8M646 290.9h.8M644 295.4h.8M632.5 286.4h.8M631 307.4h.8M644 310.9h.8M603 316.4h.8M605.5 317.4h.8M611.5 312.4h.8M631.5 290.4h.8M639 285.4h.8M639.5 317.4h.8M609.5 319.4h.8M625.5 308.4h.8M638 306.9h.8M612.5 308.4h.8M596 286.4h.8M597 317.4h.8M622 307.4h.8M629.5 309.9h.8M613 313.9h.8M629 292.9h.8M633 318.9h.8M619 311.9h.8M637.5 288.4h.8M624 312.4h.8M621.5 284.4h.8M643 302.9h.8M634.5 291.9h.8M623.5 285.4h.8M634.5 319.9h.8M637.5 291.4h.8M640 289.4h.8M624 311.4h.8M625.5 307.9h.8M624.5 295.9h.8M631.5 309.4h.8M596.5 311.4h.8M598 306.4h.8M642 313.9h.8M645.5 297.4h.8M609 283.9h.8M628.5 293.9h.8M640 285.9h.8M619.5 307.9h.8M640 291.9h.8M632.5 318.9h.8M606 305.9h.8M615.5 319.9h.8M606.5 283.9h.8M646 288.4h.8M622 309.4h.8M625 299.4h.8M632 305.9h.8M616.5 286.4h.8M635.5 291.4h.8M608 283.4h.8M638.5 315.4h.8M625.5 316.9h.8M639.5 282.9h.8M612 310.4h.8M616 302.4h.8M610.5 315.4h.8M621 293.4h.8M605 317.4h.8M613 311.9h.8M632.5 301.4h.8M641 295.4h.8M639 293.9h.8M643 287.4h.8M611 285.9h.8M596 299.4h.8M620 302.9h.8M607.5 317.9h.8M637 312.9h.8M623.5 292.9h.8M627 308.9h.8M644 298.4h.8M624.5 306.9h.8M623.5 313.9h.8M608.5 312.9h.8M596.5 316.4h.8M639 310.9h.8M610 310.4h.8M607 307.4h.8M606 318.4h.8M611.5 315.9h.8M635 288.9h.8M628.5 287.9h.8M644.5 304.4h.8M603 303.4h.8M622.5 303.9h.8M640.5 313.4h.8M619.5 296.4h.8M611.5 316.4h.8M620 317.9h.8M619 310.4h.8M628.5 312.9h.8M618.5 318.9h.8M613.5 316.9h.8M632.5 293.9h.8M638 316.4h.8M627.5 306.9h.8M594.5 317.9h.8M621 315.4h.8M640 288.9h.8M635 283.9h.8M619 315.9h.8M610 316.9h.8M632.5 310.4h.8M617 310.4h.8M626.5 305.9h.8M592.5 283.9h.8M642 303.9h.8M622.5 316.9h.8M617.5 309.4h.8M608 286.9h.8M641 286.9h.8M604 282.4h.8M638.5 318.4h.8M598.5 318.9h.8M636 312.9h.8M628.5 291.4h.8M635 303.9h.8M622 285.9h.8M619 318.9h.8M633 292.4h.8M619 317.4h.8M609.5 283.4h.8M617 285.4h.8M643 291.9h.8M621.5 319.4h.8M605 283.4h.8M643.5 318.4h.8M641.5 298.4h.8M596.5 306.9h.8M623.5 310.9h.8M598.5 285.4h.8M618 311.4h.8M625 306.9h.8M630.5 285.4h.8M595.5 312.4h.8M643.5 283.9h.8M629 313.9h.8M636.5 302.4h.8M620 308.9h.8M610.5 316.4h.8M645.5 313.9h.8M631 305.4h.8M612.5 283.4h.8M634.5 320.4h.8M623 299.9h.8M639.5 293.4h.8M622 292.9h.8M640.5 308.4h.8M637 291.4h.8M641 317.9h.8M632 283.4h.8M635 291.4h.8M626.5 306.4h.8M637.5 299.9h.8M623.5 304.4h.8M601.5 303.4h.8M612 308.4h.8M623.5 287.9h.8M624 308.9h.8M617 316.9h.8M631 300.9h.8M593 296.4h.8M615 308.4h.8M643 292.4h.8M594.5 309.9h.8M642 302.4h.8M597 283.9h.8M626.5 286.9h.8M619 314.4h.8M595 294.9h.8M630 291.4h.8M640.5 300.4h.8M594 314.4h.8M615.5 298.4h.8M623.5 317.4h.8M633 295.9h.8M595.5 304.4h.8M637.5 285.4h.8M644 316.9h.8M605.5 316.4h.8M641.5 314.4h.8M604 307.4h.8M593 291.9h.8M596.5 311.9h.8M630 297.4h.8M640.5 316.4h.8M636.5 305.9h.8M614 309.9h.8M606.5 304.9h.8M600 288.4h.8M606.5 316.9h.8M613 314.4h.8M629 315.9h.8M602 282.9h.8M632 295.4h.8M599.5 307.9h.8M632 312.4h.8M644 299.4h.8M597.5 300.4h.8M625 317.4h.8M599.5 310.4h.8M626.5 298.9h.8M622.5 312.9h.8M620.5 285.4h.8M632.5 291.9h.8M627.5 291.4h.8M602.5 285.9h.8M618.5 314.4h.8M644.5 310.4h.8M624 292.4h.8M638 297.4h.8M626 305.9h.8M616 314.4h.8M626.5 303.9h.8M635 308.9h.8M616.5 285.4h.8M639.5 290.9h.8M643.5 295.4h.8M593 307.9h.8M626.5 293.9h.8M607.5 304.9h.8M645.5 297.9h.8M617.5 296.4h.8M616 296.9h.8M599 305.4h.8M631 285.4h.8M644 300.4h.8M594 317.4h.8M611.5 317.4h.8M642 312.9h.8M646 319.4h.8M627 291.4h.8M625.5 291.9h.8M604.5 310.4h.8M643.5 294.4h.8M628.5 302.4h.8M616.5 314.4h.8M630.5 294.4h.8M638 308.4h.8M606 282.9h.8M623 295.9h.8M636 290.4h.8M602.5 309.9h.8M592 284.4h.8M628 309.9h.8M640 319.4h.8M645 315.9h.8M621 289.4h.8M645 314.9h.8M645.5 309.9h.8M602.5 284.4h.8M635 290.4h.8M622 315.4h.8M603.5 285.9h.8M630.5 317.4h.8M592.5 292.4h.8M607.5 320.4h.8M617.5 288.9h.8M623 318.9h.8M610.5 311.4h.8M630.5 292.4h.8M630 298.4h.8M634 293.9h.8M607 314.4h.8M623.5 283.4h.8M594.5 308.4h.8M632 311.9h.8M612.5 310.4h.8M592.5 320.4h.8M610 286.9h.8M596.5 287.9h.8M644.5 283.9h.8M622.5 308.9h.8M603.5 302.9h.8M595 305.4h.8M643 315.4h.8M622 291.9h.8M621.5 315.4h.8M597.5 287.9h.8M605.5 306.9h.8M631.5 320.4h.8M619 300.9h.8M635.5 316.4h.8M642 305.9h.8M626 308.4h.8M622.5 309.9h.8M635 298.4h.8M618 314.4h.8M617 319.9h.8M631 293.4h.8M593.5 284.9h.8M601.5 288.9h.8M639 307.4h.8M614 304.9h.8M632.5 312.9h.8M616 315.4h.8M644.5 317.9h.8M636.5 314.9h.8M637 303.4h.8M639.5 288.4h.8M630 288.4h.8M635.5 313.9h.8M621.5 300.4h.8M643.5 294.9h.8M616 305.4h.8M594 290.9h.8M640 312.4h.8M639.5 310.9h.8M601 283.9h.8M636 305.9h.8M615 284.4h.8M639.5 287.9h.8M596 288.4h.8M642 308.9h.8M644.5 290.4h.8M618.5 301.9h.8M640.5 313.9h.8M614 305.9h.8M594 305.9h.8M624 301.9h.8M637 290.9h.8M602.5 310.4h.8M626 320.4h.8M643 318.9h.8M616.5 307.4h.8M635.5 310.4h.8M621 317.9h.8M626 299.9h.8M632 290.4h.8M602.5 283.9h.8M592.5 310.4h.8M627.5 286.9h.8M596.5 313.9h.8M639.5 289.9h.8M626.5 309.9h.8M639 287.4h.8M624 306.4h.8M640.5 296.4h.8M649 279.9h.8M650 290.9h.8M627.5 310.9h.8M585 355.4h.8M672.5 322.9h.8M622 309.9h.8M585.5 321.4h.8M587.5 362.9h.8M677 297.9h.8M583 277.4h.8M581.5 284.9h.8M640.5 357.4h.8M591 294.9h.8M582 316.4h.8M583.5 357.9h.8M579 348.9h.8M651.5 347.9h.8M629.5 314.4h.8M622 275.4h.8M649 292.9h.8M632 311.4h.8M582 322.9h.8M680 327.9h.8M654.5 298.9h.8M594 321.9h.8M580.5 283.9h.8M580 292.4h.8M637 324.9h.8M653.5 360.4h.8M584.5 305.9h.8M671.5 314.4h.8M590 272.9h.8M616 310.4h.8M666.5 322.9h.8M669 309.4h.8M632.5 304.4h.8M656.5 332.4h.8M653 323.4h.8M637.5 270.4h.8M582 358.9h.8M596.5 356.4h.8M677.5 339.4h.8M633.5 321.9h.8M625.5 272.4h.8M662 325.9h.8M624 353.9h.8M641.5 316.4h.8M662 324.9h.8M609 346.4h.8M661 287.9h.8M658.5 284.9h.8M659.5 321.4h.8M663 337.4h.8M621 301.9h.8M656.5 289.4h.8M663.5 325.9h.8M672 308.4h.8M621.5 283.9h.8M626.5 361.9h.8M670 345.9h.8M579.5 283.4h.8M662.5 313.9h.8M662.5 314.4h.8M662.5 326.4h.8M648 359.9h.8M580.5 343.9h.8M628.5 353.9h.8M665.5 359.4h.8M627 317.9h.8M594.5 314.9h.8"/>
<rect x="575.4" y="259.6" width="106.8" height="105.4" fill="none" stroke="#6a6a6a" stroke-width="0.7"/>
<line x1="573.2" y1="267.8" x2="575.4" y2="267.8" stroke="#555" stroke-width="0.6"/>
<text x="571.4" y="269.9" font-size="6.2" text-anchor="end" fill="#333">10<tspan font-size="4" dy="-2.6">6</tspan></text>
<line x1="573.2" y1="287.8" x2="575.4" y2="287.8" stroke="#555" stroke-width="0.6"/>
<text x="571.4" y="289.9" font-size="6.2" text-anchor="end" fill="#333">10<tspan font-size="4" dy="-2.6">5</tspan></text>
<line x1="573.2" y1="307.5" x2="575.4" y2="307.5" stroke="#555" stroke-width="0.6"/>
<text x="571.4" y="309.6" font-size="6.2" text-anchor="end" fill="#333">10<tspan font-size="4" dy="-2.6">4</tspan></text>
<line x1="573.2" y1="331" x2="575.4" y2="331" stroke="#555" stroke-width="0.6"/>
<text x="571.4" y="333.1" font-size="6.2" text-anchor="end" fill="#333">10<tspan font-size="4" dy="-2.6">3</tspan></text>
<line x1="573.2" y1="339.8" x2="575.4" y2="339.8" stroke="#555" stroke-width="0.6"/>
<text x="570.7" y="341.9" font-size="6.2" text-anchor="end" fill="#333">0</text>
<line x1="574.2" y1="281.78" x2="575.4" y2="281.78" stroke="#777" stroke-width="0.45"/>
<line x1="574.2" y1="278.26" x2="575.4" y2="278.26" stroke="#777" stroke-width="0.45"/>
<line x1="574.2" y1="275.76" x2="575.4" y2="275.76" stroke="#777" stroke-width="0.45"/>
<line x1="574.2" y1="273.82" x2="575.4" y2="273.82" stroke="#777" stroke-width="0.45"/>
<line x1="574.2" y1="272.24" x2="575.4" y2="272.24" stroke="#777" stroke-width="0.45"/>
<line x1="574.2" y1="270.9" x2="575.4" y2="270.9" stroke="#777" stroke-width="0.45"/>
<line x1="574.2" y1="269.74" x2="575.4" y2="269.74" stroke="#777" stroke-width="0.45"/>
<line x1="574.2" y1="268.72" x2="575.4" y2="268.72" stroke="#777" stroke-width="0.45"/>
<line x1="574.2" y1="301.57" x2="575.4" y2="301.57" stroke="#777" stroke-width="0.45"/>
<line x1="574.2" y1="298.1" x2="575.4" y2="298.1" stroke="#777" stroke-width="0.45"/>
<line x1="574.2" y1="295.64" x2="575.4" y2="295.64" stroke="#777" stroke-width="0.45"/>
<line x1="574.2" y1="293.73" x2="575.4" y2="293.73" stroke="#777" stroke-width="0.45"/>
<line x1="574.2" y1="292.17" x2="575.4" y2="292.17" stroke="#777" stroke-width="0.45"/>
<line x1="574.2" y1="290.85" x2="575.4" y2="290.85" stroke="#777" stroke-width="0.45"/>
<line x1="574.2" y1="289.71" x2="575.4" y2="289.71" stroke="#777" stroke-width="0.45"/>
<line x1="574.2" y1="288.7" x2="575.4" y2="288.7" stroke="#777" stroke-width="0.45"/>
<line x1="574.2" y1="323.93" x2="575.4" y2="323.93" stroke="#777" stroke-width="0.45"/>
<line x1="574.2" y1="319.79" x2="575.4" y2="319.79" stroke="#777" stroke-width="0.45"/>
<line x1="574.2" y1="316.85" x2="575.4" y2="316.85" stroke="#777" stroke-width="0.45"/>
<line x1="574.2" y1="314.57" x2="575.4" y2="314.57" stroke="#777" stroke-width="0.45"/>
<line x1="574.2" y1="312.71" x2="575.4" y2="312.71" stroke="#777" stroke-width="0.45"/>
<line x1="574.2" y1="311.14" x2="575.4" y2="311.14" stroke="#777" stroke-width="0.45"/>
<line x1="574.2" y1="309.78" x2="575.4" y2="309.78" stroke="#777" stroke-width="0.45"/>
<line x1="574.2" y1="308.58" x2="575.4" y2="308.58" stroke="#777" stroke-width="0.45"/>
<line x1="574.2" y1="344.5" x2="575.4" y2="344.5" stroke="#777" stroke-width="0.45"/>
<line x1="574.2" y1="349" x2="575.4" y2="349" stroke="#777" stroke-width="0.45"/>
<line x1="574.2" y1="353.5" x2="575.4" y2="353.5" stroke="#777" stroke-width="0.45"/>
<line x1="574.2" y1="358" x2="575.4" y2="358" stroke="#777" stroke-width="0.45"/>
<line x1="574.2" y1="362.5" x2="575.4" y2="362.5" stroke="#777" stroke-width="0.45"/>
<path d="M573.6 338.8l1.8 1 -1.8 1z" stroke="#000" stroke-width="0.5" fill="#000"/>
<line x1="582.5" y1="365" x2="582.5" y2="367.2" stroke="#555" stroke-width="0.6"/>
<text x="583.1" y="375.3" font-size="6.2" text-anchor="middle" fill="#333">−10<tspan font-size="4" dy="-2.6">3</tspan></text>
<line x1="599.6" y1="365" x2="599.6" y2="367.2" stroke="#555" stroke-width="0.6"/>
<text x="599.6" y="375.3" font-size="6.2" text-anchor="middle" fill="#333">0</text>
<line x1="616.5" y1="365" x2="616.5" y2="367.2" stroke="#555" stroke-width="0.6"/>
<text x="617.1" y="375.3" font-size="6.2" text-anchor="middle" fill="#333">10<tspan font-size="4" dy="-2.6">3</tspan></text>
<line x1="646.5" y1="365" x2="646.5" y2="367.2" stroke="#555" stroke-width="0.6"/>
<text x="647.1" y="375.3" font-size="6.2" text-anchor="middle" fill="#333">10<tspan font-size="4" dy="-2.6">4</tspan></text>
<line x1="671.6" y1="365" x2="671.6" y2="367.2" stroke="#555" stroke-width="0.6"/>
<text x="672.2" y="375.3" font-size="6.2" text-anchor="middle" fill="#333">10<tspan font-size="4" dy="-2.6">5</tspan></text>
<line x1="625.53" y1="365" x2="625.53" y2="366.2" stroke="#777" stroke-width="0.45"/>
<line x1="630.81" y1="365" x2="630.81" y2="366.2" stroke="#777" stroke-width="0.45"/>
<line x1="634.56" y1="365" x2="634.56" y2="366.2" stroke="#777" stroke-width="0.45"/>
<line x1="637.47" y1="365" x2="637.47" y2="366.2" stroke="#777" stroke-width="0.45"/>
<line x1="639.84" y1="365" x2="639.84" y2="366.2" stroke="#777" stroke-width="0.45"/>
<line x1="641.85" y1="365" x2="641.85" y2="366.2" stroke="#777" stroke-width="0.45"/>
<line x1="643.59" y1="365" x2="643.59" y2="366.2" stroke="#777" stroke-width="0.45"/>
<line x1="645.13" y1="365" x2="645.13" y2="366.2" stroke="#777" stroke-width="0.45"/>
<line x1="654.06" y1="365" x2="654.06" y2="366.2" stroke="#777" stroke-width="0.45"/>
<line x1="658.48" y1="365" x2="658.48" y2="366.2" stroke="#777" stroke-width="0.45"/>
<line x1="661.61" y1="365" x2="661.61" y2="366.2" stroke="#777" stroke-width="0.45"/>
<line x1="664.04" y1="365" x2="664.04" y2="366.2" stroke="#777" stroke-width="0.45"/>
<line x1="666.03" y1="365" x2="666.03" y2="366.2" stroke="#777" stroke-width="0.45"/>
<line x1="667.71" y1="365" x2="667.71" y2="366.2" stroke="#777" stroke-width="0.45"/>
<line x1="669.17" y1="365" x2="669.17" y2="366.2" stroke="#777" stroke-width="0.45"/>
<line x1="670.45" y1="365" x2="670.45" y2="366.2" stroke="#777" stroke-width="0.45"/>
<line x1="586.75" y1="365" x2="586.75" y2="366.2" stroke="#777" stroke-width="0.45"/>
<line x1="591" y1="365" x2="591" y2="366.2" stroke="#777" stroke-width="0.45"/>
<line x1="595.25" y1="365" x2="595.25" y2="366.2" stroke="#777" stroke-width="0.45"/>
<line x1="599.5" y1="365" x2="599.5" y2="366.2" stroke="#777" stroke-width="0.45"/>
<line x1="603.75" y1="365" x2="603.75" y2="366.2" stroke="#777" stroke-width="0.45"/>
<line x1="608" y1="365" x2="608" y2="366.2" stroke="#777" stroke-width="0.45"/>
<line x1="612.25" y1="365" x2="612.25" y2="366.2" stroke="#777" stroke-width="0.45"/>
<line x1="679.16" y1="365" x2="679.16" y2="366.2" stroke="#777" stroke-width="0.45"/>
<path d="M598.6 366.8l1 -1.8 1 1.8z" stroke="#000" stroke-width="0.5" fill="#000"/>
<text x="631.2" y="387.8" font-size="7.33" text-anchor="middle">CD4 BV605</text>
<text transform="translate(555.5 312.2) rotate(-90)" font-size="6.9" text-anchor="middle">HIVp24 PE</text>
<polygon points="580.6,273.5 647.5,272.8 642.3,313.3 586.5,324.4" fill="none" stroke="#222" stroke-width="0.8"/>
<text x="606.5" y="270.3" font-size="6.2" text-anchor="middle">p24<tspan font-size="4" dy="-2.4">+</tspan></text>
<text x="607.1" y="279.8" font-size="6.2" text-anchor="middle">11.0</text>
<text x="679.8" y="271.3" font-size="6.2" text-anchor="end">Infected</text>
<text x="0" y="511.5" font-size="12.5" font-weight="bold" fill="#000" style="stroke:#000;stroke-width:0.7px">f</text>
<rect x="81.7" y="569.31" width="6.6" height="33.89" fill="#d6d6d6" stroke="#222" stroke-width="0.8"/>
<rect x="93.6" y="551.37" width="6.6" height="51.83" fill="#d6d6d6" stroke="#222" stroke-width="0.8"/>
<rect x="117.6" y="601.91" width="6.6" height="1.29" fill="#d6d6d6" stroke="#222" stroke-width="0.8"/>
<rect x="129.4" y="599.34" width="6.6" height="3.86" fill="#d6d6d6" stroke="#222" stroke-width="0.8"/>
<rect x="141.5" y="601.91" width="6.6" height="1.29" fill="#d6d6d6" stroke="#222" stroke-width="0.8"/>
<rect x="153.8" y="592.59" width="6.6" height="10.61" fill="#d6d6d6" stroke="#222" stroke-width="0.8"/>
<rect x="177.7" y="590.02" width="6.6" height="13.18" fill="#d6d6d6" stroke="#222" stroke-width="0.8"/>
<rect x="189.6" y="590.53" width="6.6" height="12.67" fill="#d6d6d6" stroke="#222" stroke-width="0.8"/>
<rect x="201.6" y="585.2" width="6.6" height="18" fill="#d6d6d6" stroke="#222" stroke-width="0.8"/>
<rect x="213.5" y="568.03" width="6.6" height="35.17" fill="#d6d6d6" stroke="#222" stroke-width="0.8"/>
<rect x="237.7" y="595.68" width="6.6" height="7.52" fill="#d6d6d6" stroke="#222" stroke-width="0.8"/>
<rect x="249.6" y="590.02" width="6.6" height="13.18" fill="#d6d6d6" stroke="#222" stroke-width="0.8"/>
<rect x="261.4" y="599.21" width="6.6" height="3.99" fill="#d6d6d6" stroke="#222" stroke-width="0.8"/>
<rect x="273.3" y="581.34" width="6.6" height="21.86" fill="#d6d6d6" stroke="#222" stroke-width="0.8"/>
<rect x="297.7" y="593.56" width="6.6" height="9.64" fill="#d6d6d6" stroke="#222" stroke-width="0.8"/>
<rect x="309.7" y="584.23" width="6.6" height="18.97" fill="#d6d6d6" stroke="#222" stroke-width="0.8"/>
<rect x="321.6" y="598.06" width="6.6" height="5.14" fill="#d6d6d6" stroke="#222" stroke-width="0.8"/>
<rect x="333.7" y="569.31" width="6.6" height="33.89" fill="#d6d6d6" stroke="#222" stroke-width="0.8"/>
<line x1="85" y1="565.25" x2="85" y2="573.38" stroke="#666" stroke-width="0.7"/>
<line x1="83.8" y1="565.25" x2="86.2" y2="565.25" stroke="#666" stroke-width="0.7"/>
<line x1="83.8" y1="573.38" x2="86.2" y2="573.38" stroke="#666" stroke-width="0.7"/>
<circle cx="84.9" cy="554.7" r="1.95" fill="#1d3ff2"/>
<circle cx="84.9" cy="562.8" r="1.95" fill="#f659f0"/>
<circle cx="84.9" cy="567.7" r="1.95" fill="#0e9a9a"/>
<circle cx="84.9" cy="575.2" r="1.95" fill="#f03c14"/>
<circle cx="84.9" cy="584.7" r="1.95" fill="#050505"/>
<line x1="96.9" y1="545.16" x2="96.9" y2="557.59" stroke="#666" stroke-width="0.7"/>
<line x1="95.7" y1="545.16" x2="98.1" y2="545.16" stroke="#666" stroke-width="0.7"/>
<line x1="95.7" y1="557.59" x2="98.1" y2="557.59" stroke="#666" stroke-width="0.7"/>
<circle cx="97" cy="532.1" r="1.95" fill="#0e9a9a"/>
<circle cx="98.9" cy="539.7" r="1.95" fill="#f03c14"/>
<circle cx="95.1" cy="542.6" r="1.95" fill="#1d3ff2"/>
<circle cx="97" cy="549.2" r="1.95" fill="#f659f0"/>
<circle cx="96.7" cy="592" r="1.95" fill="#050505"/>
<line x1="120.9" y1="598.06" x2="120.9" y2="605.77" stroke="#666" stroke-width="0.7"/>
<line x1="119.7" y1="598.06" x2="122.1" y2="598.06" stroke="#666" stroke-width="0.7"/>
<line x1="119.7" y1="605.77" x2="122.1" y2="605.77" stroke="#666" stroke-width="0.7"/>
<circle cx="118.6" cy="602.2" r="1.95" fill="#f03c14"/>
<circle cx="120" cy="602.3" r="1.95" fill="#0e9a9a"/>
<circle cx="121.4" cy="602.5" r="1.95" fill="#f659f0"/>
<circle cx="122.8" cy="602.8" r="1.95" fill="#050505"/>
<line x1="132.7" y1="595.48" x2="132.7" y2="603.2" stroke="#666" stroke-width="0.7"/>
<line x1="131.5" y1="595.48" x2="133.9" y2="595.48" stroke="#666" stroke-width="0.7"/>
<line x1="131.5" y1="603.2" x2="133.9" y2="603.2" stroke="#666" stroke-width="0.7"/>
<circle cx="132.8" cy="596.2" r="1.95" fill="#f659f0"/>
<circle cx="135" cy="598.8" r="1.95" fill="#1d3ff2"/>
<circle cx="133.8" cy="600" r="1.95" fill="#f03c14"/>
<circle cx="131" cy="601" r="1.95" fill="#050505"/>
<line x1="144.8" y1="598.06" x2="144.8" y2="605.77" stroke="#666" stroke-width="0.7"/>
<line x1="143.6" y1="598.06" x2="146" y2="598.06" stroke="#666" stroke-width="0.7"/>
<line x1="143.6" y1="605.77" x2="146" y2="605.77" stroke="#666" stroke-width="0.7"/>
<circle cx="143.7" cy="599.6" r="1.95" fill="#f03c14"/>
<circle cx="145.9" cy="600.7" r="1.95" fill="#1d3ff2"/>
<circle cx="143" cy="602.2" r="1.95" fill="#f659f0"/>
<circle cx="146.9" cy="602.5" r="1.95" fill="#050505"/>
<line x1="157.1" y1="588.73" x2="157.1" y2="596.45" stroke="#666" stroke-width="0.7"/>
<line x1="155.9" y1="588.73" x2="158.3" y2="588.73" stroke="#666" stroke-width="0.7"/>
<line x1="155.9" y1="596.45" x2="158.3" y2="596.45" stroke="#666" stroke-width="0.7"/>
<circle cx="157" cy="587.2" r="1.95" fill="#0e9a9a"/>
<circle cx="155" cy="591.2" r="1.95" fill="#1d3ff2"/>
<circle cx="157.6" cy="592.6" r="1.95" fill="#f03c14"/>
<circle cx="158.8" cy="591.5" r="1.95" fill="#f659f0"/>
<circle cx="157" cy="599.1" r="1.95" fill="#050505"/>
<line x1="181" y1="586.16" x2="181" y2="593.88" stroke="#666" stroke-width="0.7"/>
<line x1="179.8" y1="586.16" x2="182.2" y2="586.16" stroke="#666" stroke-width="0.7"/>
<line x1="179.8" y1="593.88" x2="182.2" y2="593.88" stroke="#666" stroke-width="0.7"/>
<circle cx="180.9" cy="583.6" r="1.95" fill="#f659f0"/>
<circle cx="179.3" cy="591.2" r="1.95" fill="#0e9a9a"/>
<circle cx="182.5" cy="591.2" r="1.95" fill="#1d3ff2"/>
<circle cx="180.9" cy="594.4" r="1.95" fill="#f03c14"/>
<circle cx="180.9" cy="598.5" r="1.95" fill="#050505"/>
<line x1="192.9" y1="586.67" x2="192.9" y2="594.39" stroke="#666" stroke-width="0.7"/>
<line x1="191.7" y1="586.67" x2="194.1" y2="586.67" stroke="#666" stroke-width="0.7"/>
<line x1="191.7" y1="594.39" x2="194.1" y2="594.39" stroke="#666" stroke-width="0.7"/>
<circle cx="193" cy="582" r="1.95" fill="#f659f0"/>
<circle cx="193" cy="586.8" r="1.95" fill="#0e9a9a"/>
<circle cx="190.9" cy="591.2" r="1.95" fill="#1d3ff2"/>
<circle cx="194.9" cy="593.7" r="1.95" fill="#f03c14"/>
<circle cx="190.9" cy="597" r="1.95" fill="#050505"/>
<line x1="204.9" y1="581.34" x2="204.9" y2="589.05" stroke="#666" stroke-width="0.7"/>
<line x1="203.7" y1="581.34" x2="206.1" y2="581.34" stroke="#666" stroke-width="0.7"/>
<line x1="203.7" y1="589.05" x2="206.1" y2="589.05" stroke="#666" stroke-width="0.7"/>
<circle cx="205" cy="574.8" r="1.95" fill="#f03c14"/>
<circle cx="202.9" cy="580.9" r="1.95" fill="#1d3ff2"/>
<circle cx="206.9" cy="579.9" r="1.95" fill="#0e9a9a"/>
<circle cx="205" cy="590.5" r="1.95" fill="#f659f0"/>
<circle cx="205" cy="597" r="1.95" fill="#050505"/>
<line x1="216.8" y1="563.81" x2="216.8" y2="572.25" stroke="#666" stroke-width="0.7"/>
<line x1="215.6" y1="563.81" x2="218" y2="563.81" stroke="#666" stroke-width="0.7"/>
<line x1="215.6" y1="572.25" x2="218" y2="572.25" stroke="#666" stroke-width="0.7"/>
<circle cx="215" cy="560.7" r="1.95" fill="#f03c14"/>
<circle cx="219" cy="560" r="1.95" fill="#0e9a9a"/>
<circle cx="215" cy="564" r="1.95" fill="#1d3ff2"/>
<circle cx="219" cy="563.2" r="1.95" fill="#f659f0"/>
<circle cx="216.9" cy="590" r="1.95" fill="#050505"/>
<line x1="241" y1="591.82" x2="241" y2="599.53" stroke="#666" stroke-width="0.7"/>
<line x1="239.8" y1="591.82" x2="242.2" y2="591.82" stroke="#666" stroke-width="0.7"/>
<line x1="239.8" y1="599.53" x2="242.2" y2="599.53" stroke="#666" stroke-width="0.7"/>
<circle cx="243.1" cy="591.6" r="1.95" fill="#f03c14"/>
<circle cx="239.1" cy="592.8" r="1.95" fill="#f659f0"/>
<circle cx="239.4" cy="594.9" r="1.95" fill="#1d3ff2"/>
<circle cx="243.1" cy="594.4" r="1.95" fill="#0e9a9a"/>
<circle cx="241" cy="601.8" r="1.95" fill="#050505"/>
<line x1="252.9" y1="586.16" x2="252.9" y2="593.88" stroke="#666" stroke-width="0.7"/>
<line x1="251.7" y1="586.16" x2="254.1" y2="586.16" stroke="#666" stroke-width="0.7"/>
<line x1="251.7" y1="593.88" x2="254.1" y2="593.88" stroke="#666" stroke-width="0.7"/>
<circle cx="252.7" cy="581.2" r="1.95" fill="#f659f0"/>
<circle cx="251.1" cy="587.6" r="1.95" fill="#1d3ff2"/>
<circle cx="255.1" cy="588" r="1.95" fill="#0e9a9a"/>
<circle cx="254.8" cy="592.8" r="1.95" fill="#f03c14"/>
<circle cx="251.1" cy="596.8" r="1.95" fill="#050505"/>
<line x1="264.7" y1="595.36" x2="264.7" y2="603.07" stroke="#666" stroke-width="0.7"/>
<line x1="263.5" y1="595.36" x2="265.9" y2="595.36" stroke="#666" stroke-width="0.7"/>
<line x1="263.5" y1="603.07" x2="265.9" y2="603.07" stroke="#666" stroke-width="0.7"/>
<circle cx="263.6" cy="595.3" r="1.95" fill="#f03c14"/>
<circle cx="266" cy="596" r="1.95" fill="#1d3ff2"/>
<circle cx="267.2" cy="600.5" r="1.95" fill="#0e9a9a"/>
<circle cx="265.6" cy="600.2" r="1.95" fill="#f659f0"/>
<circle cx="262.8" cy="602.1" r="1.95" fill="#050505"/>
<line x1="276.6" y1="577.48" x2="276.6" y2="585.2" stroke="#666" stroke-width="0.7"/>
<line x1="275.4" y1="577.48" x2="277.8" y2="577.48" stroke="#666" stroke-width="0.7"/>
<line x1="275.4" y1="585.2" x2="277.8" y2="585.2" stroke="#666" stroke-width="0.7"/>
<circle cx="276.9" cy="564.2" r="1.95" fill="#f03c14"/>
<circle cx="276.9" cy="570.6" r="1.95" fill="#1d3ff2"/>
<circle cx="276.9" cy="582.4" r="1.95" fill="#0e9a9a"/>
<circle cx="276.9" cy="590.8" r="1.95" fill="#f659f0"/>
<circle cx="276.9" cy="597.9" r="1.95" fill="#050505"/>
<line x1="301" y1="589.7" x2="301" y2="597.41" stroke="#666" stroke-width="0.7"/>
<line x1="299.8" y1="589.7" x2="302.2" y2="589.7" stroke="#666" stroke-width="0.7"/>
<line x1="299.8" y1="597.41" x2="302.2" y2="597.41" stroke="#666" stroke-width="0.7"/>
<circle cx="301" cy="582.8" r="1.95" fill="#f659f0"/>
<circle cx="299" cy="591.5" r="1.95" fill="#1d3ff2"/>
<circle cx="303.2" cy="591.5" r="1.95" fill="#0e9a9a"/>
<circle cx="301" cy="592.8" r="1.95" fill="#f03c14"/>
<circle cx="301" cy="597.5" r="1.95" fill="#050505"/>
<line x1="313" y1="580.37" x2="313" y2="588.09" stroke="#666" stroke-width="0.7"/>
<line x1="311.8" y1="580.37" x2="314.2" y2="580.37" stroke="#666" stroke-width="0.7"/>
<line x1="311.8" y1="588.09" x2="314.2" y2="588.09" stroke="#666" stroke-width="0.7"/>
<circle cx="311" cy="580.6" r="1.95" fill="#f03c14"/>
<circle cx="315.2" cy="577.5" r="1.95" fill="#f659f0"/>
<circle cx="315.2" cy="582.4" r="1.95" fill="#0e9a9a"/>
<circle cx="312.8" cy="585.1" r="1.95" fill="#1d3ff2"/>
<circle cx="312.8" cy="593.1" r="1.95" fill="#050505"/>
<line x1="324.9" y1="594.2" x2="324.9" y2="601.91" stroke="#666" stroke-width="0.7"/>
<line x1="323.7" y1="594.2" x2="326.1" y2="594.2" stroke="#666" stroke-width="0.7"/>
<line x1="323.7" y1="601.91" x2="326.1" y2="601.91" stroke="#666" stroke-width="0.7"/>
<circle cx="324.8" cy="594.1" r="1.95" fill="#0e9a9a"/>
<circle cx="323.2" cy="597.5" r="1.95" fill="#f03c14"/>
<circle cx="325.2" cy="598.1" r="1.95" fill="#1d3ff2"/>
<circle cx="327.2" cy="597.5" r="1.95" fill="#f659f0"/>
<circle cx="322.9" cy="600.1" r="1.95" fill="#050505"/>
<line x1="337" y1="565.25" x2="337" y2="573.38" stroke="#666" stroke-width="0.7"/>
<line x1="335.8" y1="565.25" x2="338.2" y2="565.25" stroke="#666" stroke-width="0.7"/>
<line x1="335.8" y1="573.38" x2="338.2" y2="573.38" stroke="#666" stroke-width="0.7"/>
<circle cx="335.1" cy="560.6" r="1.95" fill="#0e9a9a"/>
<circle cx="338.9" cy="562.2" r="1.95" fill="#1d3ff2"/>
<circle cx="335.1" cy="566" r="1.95" fill="#f03c14"/>
<circle cx="338.9" cy="568.2" r="1.95" fill="#f659f0"/>
<circle cx="337.1" cy="586.8" r="1.95" fill="#050505"/>
<line x1="77.3" y1="505.8" x2="77.3" y2="603.2" stroke="#999" stroke-width="0.8"/>
<line x1="77.3" y1="603.2" x2="345.5" y2="603.2" stroke="#999" stroke-width="0.8"/>
<line x1="75.2" y1="603.2" x2="77.3" y2="603.2" stroke="#999" stroke-width="0.7"/>
<text x="72.8" y="605.3" font-size="6.0" text-anchor="end" fill="#333">0</text>
<line x1="75.2" y1="571.05" x2="77.3" y2="571.05" stroke="#999" stroke-width="0.7"/>
<text x="72.8" y="573.15" font-size="6.0" text-anchor="end" fill="#333">5</text>
<line x1="75.2" y1="538.9" x2="77.3" y2="538.9" stroke="#999" stroke-width="0.7"/>
<text x="72.8" y="541" font-size="6.0" text-anchor="end" fill="#333">10</text>
<line x1="75.2" y1="506.75" x2="77.3" y2="506.75" stroke="#999" stroke-width="0.7"/>
<text x="72.8" y="508.85" font-size="6.0" text-anchor="end" fill="#333">15</text>
<line x1="76" y1="587.12" x2="77.3" y2="587.12" stroke="#999" stroke-width="0.6"/>
<line x1="76" y1="554.98" x2="77.3" y2="554.98" stroke="#999" stroke-width="0.6"/>
<line x1="76" y1="522.83" x2="77.3" y2="522.83" stroke="#999" stroke-width="0.6"/>
<line x1="85" y1="603.2" x2="85" y2="604.8" stroke="#999" stroke-width="0.6"/>
<line x1="96.9" y1="603.2" x2="96.9" y2="604.8" stroke="#999" stroke-width="0.6"/>
<line x1="120.9" y1="603.2" x2="120.9" y2="604.8" stroke="#999" stroke-width="0.6"/>
<line x1="132.7" y1="603.2" x2="132.7" y2="604.8" stroke="#999" stroke-width="0.6"/>
<line x1="144.8" y1="603.2" x2="144.8" y2="604.8" stroke="#999" stroke-width="0.6"/>
<line x1="157.1" y1="603.2" x2="157.1" y2="604.8" stroke="#999" stroke-width="0.6"/>
<line x1="181" y1="603.2" x2="181" y2="604.8" stroke="#999" stroke-width="0.6"/>
<line x1="192.9" y1="603.2" x2="192.9" y2="604.8" stroke="#999" stroke-width="0.6"/>
<line x1="204.9" y1="603.2" x2="204.9" y2="604.8" stroke="#999" stroke-width="0.6"/>
<line x1="216.8" y1="603.2" x2="216.8" y2="604.8" stroke="#999" stroke-width="0.6"/>
<line x1="241" y1="603.2" x2="241" y2="604.8" stroke="#999" stroke-width="0.6"/>
<line x1="252.9" y1="603.2" x2="252.9" y2="604.8" stroke="#999" stroke-width="0.6"/>
<line x1="264.7" y1="603.2" x2="264.7" y2="604.8" stroke="#999" stroke-width="0.6"/>
<line x1="276.6" y1="603.2" x2="276.6" y2="604.8" stroke="#999" stroke-width="0.6"/>
<line x1="301" y1="603.2" x2="301" y2="604.8" stroke="#999" stroke-width="0.6"/>
<line x1="313" y1="603.2" x2="313" y2="604.8" stroke="#999" stroke-width="0.6"/>
<line x1="324.9" y1="603.2" x2="324.9" y2="604.8" stroke="#999" stroke-width="0.6"/>
<line x1="337" y1="603.2" x2="337" y2="604.8" stroke="#999" stroke-width="0.6"/>
<line x1="120.8" y1="542.3" x2="158.3" y2="542.3" stroke="#555" stroke-width="0.7"/>
<text x="139.55" y="539.7" font-size="6.0" text-anchor="middle" fill="#333">0.0002</text>
<line x1="120.8" y1="555" x2="133.1" y2="555" stroke="#555" stroke-width="0.7"/>
<text x="126.95" y="552.4" font-size="6.0" text-anchor="middle" fill="#333">0.01</text>
<line x1="145.9" y1="555" x2="158.3" y2="555" stroke="#555" stroke-width="0.7"/>
<text x="152.1" y="552.4" font-size="6.0" text-anchor="middle" fill="#333">0.01</text>
<line x1="178.8" y1="542.3" x2="216.6" y2="542.3" stroke="#555" stroke-width="0.7"/>
<text x="197.7" y="539.7" font-size="6.0" text-anchor="middle" fill="#333">0.002</text>
<line x1="191.7" y1="555.2" x2="216.6" y2="555.2" stroke="#555" stroke-width="0.7"/>
<text x="204.15" y="552.6" font-size="6.0" text-anchor="middle" fill="#333">0.01</text>
<line x1="251.9" y1="568.4" x2="264.7" y2="568.4" stroke="#555" stroke-width="0.7"/>
<text x="258.3" y="565.8" font-size="6.0" text-anchor="middle" fill="#333">0.007</text>
<line x1="264" y1="555.2" x2="276.3" y2="555.2" stroke="#555" stroke-width="0.7"/>
<text x="270.15" y="552.6" font-size="6.0" text-anchor="middle" fill="#333">0.001</text>
<line x1="299.2" y1="542.3" x2="336.5" y2="542.3" stroke="#555" stroke-width="0.7"/>
<text x="317.85" y="539.7" font-size="6.0" text-anchor="middle" fill="#333">0.01</text>
<line x1="324.2" y1="555.3" x2="336.5" y2="555.3" stroke="#555" stroke-width="0.7"/>
<text x="330.35" y="552.7" font-size="6.0" text-anchor="middle" fill="#333">0.002</text>
<line x1="312.8" y1="568.2" x2="324.8" y2="568.2" stroke="#555" stroke-width="0.7"/>
<text x="318.8" y="565.6" font-size="6.0" text-anchor="middle" fill="#333">0.01</text>
<text transform="translate(50 560) rotate(-90)" font-size="6.8" text-anchor="middle">p24<tspan font-size="4.3" dy="-2.6">+</tspan><tspan dy="2.6"> cells</tspan></text>
<text transform="translate(58.2 560) rotate(-90)" font-size="6.8" text-anchor="middle">(of CD3<tspan font-size="4.3" dy="-2.6">+</tspan><tspan dy="2.6"> T cells) (%)</tspan></text>
<text x="13" y="617.2" font-size="7.5">ISG stimulation</text>
<text x="13" y="627.5" font-size="7.3">IFNARi + a-IFNγ</text>
<text x="13" y="637.2" font-size="7.3">PBMCs w/o CD8s</text>
<text x="90.9" y="617.2" font-size="7.4" text-anchor="middle">Unstim</text>
<text x="138.8" y="617.2" font-size="7.4" text-anchor="middle">IFNβ</text>
<text x="198.8" y="617.2" font-size="7.4" text-anchor="middle">IFNγ</text>
<text x="259" y="617.2" font-size="7.4" text-anchor="middle">Poly I:C</text>
<text x="319" y="617.2" font-size="7.4" text-anchor="middle">R848</text>
<text x="85" y="627.4" font-size="6.5" text-anchor="middle">–</text>
<text x="85" y="637.2" font-size="6.5" text-anchor="middle">–</text>
<text x="96.9" y="627.4" font-size="6.5" text-anchor="middle">–</text>
<text x="96.9" y="637.2" font-size="6.5" text-anchor="middle">+</text>
<text x="120.9" y="627.4" font-size="6.5" text-anchor="middle">–</text>
<text x="120.9" y="637.2" font-size="6.5" text-anchor="middle">–</text>
<text x="132.7" y="627.4" font-size="6.5" text-anchor="middle">+</text>
<text x="132.7" y="637.2" font-size="6.5" text-anchor="middle">–</text>
<text x="144.8" y="627.4" font-size="6.5" text-anchor="middle">–</text>
<text x="144.8" y="637.2" font-size="6.5" text-anchor="middle">+</text>
<text x="157.1" y="627.4" font-size="6.5" text-anchor="middle">+</text>
<text x="157.1" y="637.2" font-size="6.5" text-anchor="middle">+</text>
<text x="181" y="627.4" font-size="6.5" text-anchor="middle">–</text>
<text x="181" y="637.2" font-size="6.5" text-anchor="middle">–</text>
<text x="192.9" y="627.4" font-size="6.5" text-anchor="middle">+</text>
<text x="192.9" y="637.2" font-size="6.5" text-anchor="middle">–</text>
<text x="204.9" y="627.4" font-size="6.5" text-anchor="middle">–</text>
<text x="204.9" y="637.2" font-size="6.5" text-anchor="middle">+</text>
<text x="216.8" y="627.4" font-size="6.5" text-anchor="middle">+</text>
<text x="216.8" y="637.2" font-size="6.5" text-anchor="middle">+</text>
<text x="241" y="627.4" font-size="6.5" text-anchor="middle">–</text>
<text x="241" y="637.2" font-size="6.5" text-anchor="middle">–</text>
<text x="252.9" y="627.4" font-size="6.5" text-anchor="middle">+</text>
<text x="252.9" y="637.2" font-size="6.5" text-anchor="middle">–</text>
<text x="264.7" y="627.4" font-size="6.5" text-anchor="middle">–</text>
<text x="264.7" y="637.2" font-size="6.5" text-anchor="middle">+</text>
<text x="276.6" y="627.4" font-size="6.5" text-anchor="middle">+</text>
<text x="276.6" y="637.2" font-size="6.5" text-anchor="middle">+</text>
<text x="301" y="627.4" font-size="6.5" text-anchor="middle">–</text>
<text x="301" y="637.2" font-size="6.5" text-anchor="middle">–</text>
<text x="313" y="627.4" font-size="6.5" text-anchor="middle">+</text>
<text x="313" y="637.2" font-size="6.5" text-anchor="middle">–</text>
<text x="324.9" y="627.4" font-size="6.5" text-anchor="middle">–</text>
<text x="324.9" y="637.2" font-size="6.5" text-anchor="middle">+</text>
<text x="337" y="627.4" font-size="6.5" text-anchor="middle">+</text>
<text x="337" y="637.2" font-size="6.5" text-anchor="middle">+</text></svg></body></html>
